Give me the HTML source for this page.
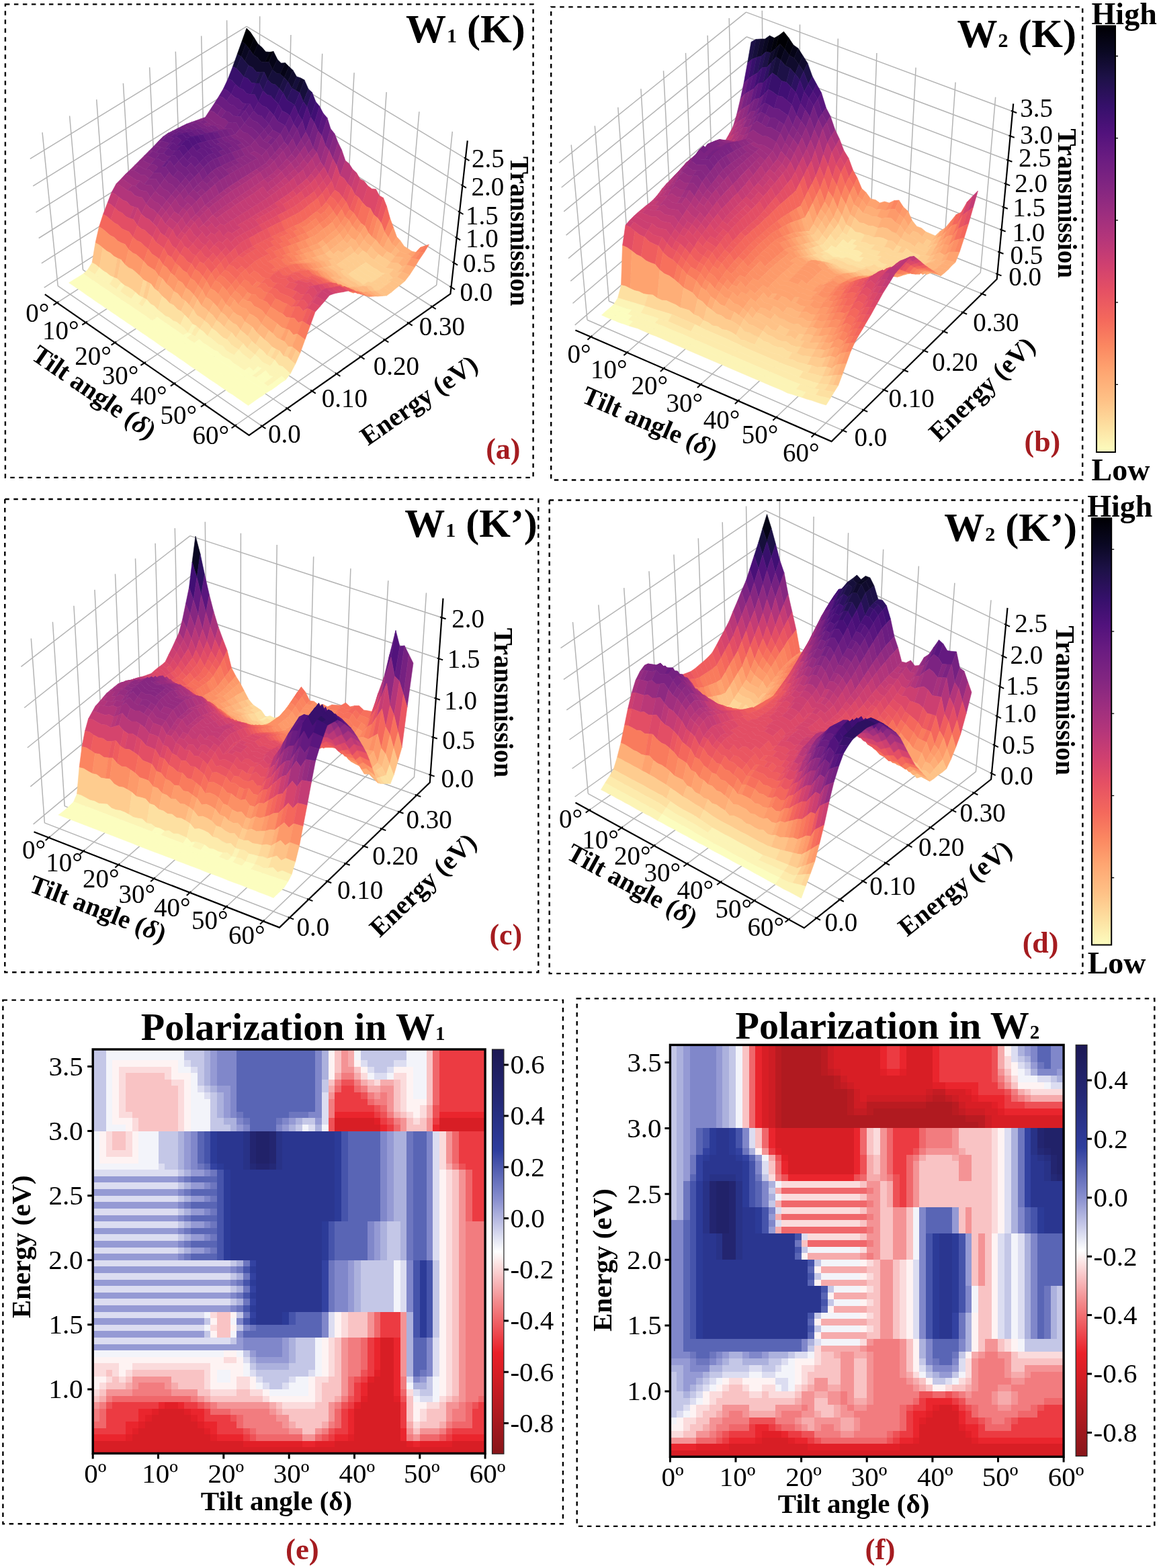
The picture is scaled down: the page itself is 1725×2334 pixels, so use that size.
<!DOCTYPE html><html><head><meta charset="utf-8"><style>html,body{margin:0;padding:0;background:#fff}svg{display:block}.sf path{fill:currentColor;stroke:currentColor;stroke-width:1.2;stroke-linejoin:round}</style></head><body><svg xmlns="http://www.w3.org/2000/svg" width="1725" height="2334" viewBox="0 0 1725 2334" font-family="'Liberation Serif', serif"><defs><linearGradient id="gm" x1="0" y1="0" x2="0" y2="1"><stop offset="0.00" stop-color="#000004"/><stop offset="0.06" stop-color="#0a0822"/><stop offset="0.12" stop-color="#1d1147"/><stop offset="0.19" stop-color="#36106b"/><stop offset="0.25" stop-color="#51127c"/><stop offset="0.31" stop-color="#6a1c81"/><stop offset="0.38" stop-color="#832681"/><stop offset="0.44" stop-color="#9c2e7f"/><stop offset="0.50" stop-color="#b5367a"/><stop offset="0.56" stop-color="#cf4070"/><stop offset="0.62" stop-color="#e55064"/><stop offset="0.69" stop-color="#f4695c"/><stop offset="0.75" stop-color="#fb8761"/><stop offset="0.81" stop-color="#fea571"/><stop offset="0.88" stop-color="#fec287"/><stop offset="0.94" stop-color="#fde0a1"/><stop offset="1.00" stop-color="#fcfdbf"/></linearGradient><linearGradient id="ge" x1="0" y1="0" x2="0" y2="1"><stop offset="0.000" stop-color="#1c1854"/><stop offset="0.031" stop-color="#1e1c5c"/><stop offset="0.062" stop-color="#202065"/><stop offset="0.094" stop-color="#22246e"/><stop offset="0.125" stop-color="#242876"/><stop offset="0.156" stop-color="#262e80"/><stop offset="0.188" stop-color="#29338a"/><stop offset="0.219" stop-color="#2c3894"/><stop offset="0.250" stop-color="#2e3e9e"/><stop offset="0.281" stop-color="#4653aa"/><stop offset="0.312" stop-color="#5d68b7"/><stop offset="0.344" stop-color="#747dc4"/><stop offset="0.375" stop-color="#8c92d0"/><stop offset="0.406" stop-color="#a9addc"/><stop offset="0.438" stop-color="#c6c8e8"/><stop offset="0.469" stop-color="#e2e4f3"/><stop offset="0.500" stop-color="#ffffff"/><stop offset="0.531" stop-color="#fce2e2"/><stop offset="0.562" stop-color="#f9c4c6"/><stop offset="0.594" stop-color="#f6a7a9"/><stop offset="0.625" stop-color="#f38a8c"/><stop offset="0.656" stop-color="#f17073"/><stop offset="0.688" stop-color="#ee555a"/><stop offset="0.719" stop-color="#ec3a41"/><stop offset="0.750" stop-color="#ea2028"/><stop offset="0.781" stop-color="#de1f26"/><stop offset="0.812" stop-color="#d21e24"/><stop offset="0.844" stop-color="#c51c23"/><stop offset="0.875" stop-color="#b91b21"/><stop offset="0.906" stop-color="#ad1a1f"/><stop offset="0.938" stop-color="#a0181e"/><stop offset="0.969" stop-color="#94171c"/><stop offset="1.000" stop-color="#88161a"/></linearGradient><linearGradient id="gf" x1="0" y1="0" x2="0" y2="1"><stop offset="0.000" stop-color="#1c1854"/><stop offset="0.031" stop-color="#1e1c5c"/><stop offset="0.062" stop-color="#202065"/><stop offset="0.094" stop-color="#22246e"/><stop offset="0.125" stop-color="#242876"/><stop offset="0.156" stop-color="#262e80"/><stop offset="0.188" stop-color="#29338a"/><stop offset="0.219" stop-color="#2c3894"/><stop offset="0.250" stop-color="#2e3e9e"/><stop offset="0.281" stop-color="#4653aa"/><stop offset="0.312" stop-color="#5d68b7"/><stop offset="0.344" stop-color="#747dc4"/><stop offset="0.375" stop-color="#8c92d0"/><stop offset="0.406" stop-color="#a9addc"/><stop offset="0.438" stop-color="#c6c8e8"/><stop offset="0.469" stop-color="#e2e4f3"/><stop offset="0.500" stop-color="#ffffff"/><stop offset="0.531" stop-color="#fce2e2"/><stop offset="0.562" stop-color="#f9c4c6"/><stop offset="0.594" stop-color="#f6a7a9"/><stop offset="0.625" stop-color="#f38a8c"/><stop offset="0.656" stop-color="#f17073"/><stop offset="0.688" stop-color="#ee555a"/><stop offset="0.719" stop-color="#ec3a41"/><stop offset="0.750" stop-color="#ea2028"/><stop offset="0.781" stop-color="#de1f26"/><stop offset="0.812" stop-color="#d21e24"/><stop offset="0.844" stop-color="#c51c23"/><stop offset="0.875" stop-color="#b91b21"/><stop offset="0.906" stop-color="#ad1a1f"/><stop offset="0.938" stop-color="#a0181e"/><stop offset="0.969" stop-color="#94171c"/><stop offset="1.000" stop-color="#88161a"/></linearGradient></defs><rect width="1725" height="2334" fill="#fff"/><path d="M86.2 425.6L63 197.1M123.5 401.6L103.6 172.5M160.5 377.9L143.7 148.1M197.1 354.4L183.4 124M233.3 331.2L222.6 100.2M269.1 308.2L261.3 76.7M304.5 285.4L299.7 53.4M339.6 262.9L337.6 30.3M65.7 428.2L367 235.3M61.8 391.9L367 198M57.7 354.5L367 159.9M53.5 316.2L367 120.7M49.2 276.8L367.1 80.5M44.8 236.3L367.1 39.3M385.1 256.8L386.7 24.2M427.9 283.9L432.9 51.9M471.1 311.3L479.7 79.9M515 339L527.1 108.3M559.3 367.1L575.2 137.1M604.2 395.5L623.9 166.3M649.7 424.3L673.3 195.9M367 235.3L671.5 427.6M367 198L675.6 391.2M367 159.9L679.7 353.9M367 120.7L684 315.6M367.1 80.5L688.4 276.3M367.1 39.3L692.9 235.8M85 450.6L385.1 256.8M127.7 480.1L427.9 283.9M171 510L471.1 311.3M214.8 540.3L515 339M259.3 571L559.3 367.1M304.3 602.1L604.2 395.5M349.9 633.5L649.7 424.3M86.2 425.6L390.1 634.3M123.5 401.6L427.4 608M160.5 377.9L464.4 582.1M197.1 354.4L500.9 556.4M233.3 331.2L537.1 531M269.1 308.2L572.8 505.9M304.5 285.4L608.2 481.1M339.6 262.9L643.2 456.5" stroke="#b4b4b4" stroke-width="1.5" fill="none"/><path d="M66.8 438.1L370.7 647.9L670.4 437.4L695.8 209.4" stroke="#000" stroke-width="2.2" fill="none" stroke-linejoin="miter"/><path d="M87.1 449.2L79.5 454.1M129.8 478.7L122.3 483.7M173.1 508.6L165.6 513.6M216.9 538.9L209.4 543.9M261.3 569.6L253.9 574.6M306.4 600.6L298.9 605.7M352 632.1L344.6 637.3M388 632.9L395.4 638M425.4 606.6L432.8 611.7M462.3 580.7L469.8 585.7M498.9 555L506.4 560M535 529.7L542.5 534.6M570.7 504.6L578.3 509.5M606.1 479.7L613.7 484.6M641.1 455.2L648.7 460M669.4 426.2L677 431M673.4 389.9L681.1 394.7M677.6 352.6L685.2 357.4M681.9 314.3L689.5 319M686.3 275L693.9 279.6M690.8 234.5L698.5 239.2" stroke="#000" stroke-width="2"/><g class="sf" transform="scale(.5)"><path color="#000004" d="M734 84l11 11 12 18-14 34-12-15-11-9z"/><path color="#02020b" d="M757 113l11 18-14 32-11-16z"/><path color="#050416" d="M768 131l12 10 11 13 12 1-14 30-12-1-11-13-12-8z"/><path color="#02020b" d="M803 155l11-2-14 31-11 1z"/><path color="#050416" d="M814 153l12 24-15 30-11-23z"/><path color="#0a0822" d="M826 177l11 11 12-1-15 33-11-2-12-11z"/><path color="#050416" d="M849 187l11 11-14 33-12-11z"/><path color="#0a0822" d="M860 198l12 11-15 34-11-12z"/><path color="#100b2d" d="M872 209l11 19-14 35-12-20z"/><path color="#160f3b" d="M883 228l12 4-15 37-11-6z"/><path color="#100b2d" d="M895 232l11 6-14 38-12-7z"/><path color="#160f3b" d="M906 238l12 27-15 38-11-27z"/><path color="#251255" d="M918 265l11 10-15 43-11-15z"/><path color="#38106c" d="M929 275l11 28-15 46-11-31z"/><path color="#400f74" d="M940 303l11 13-15 50-11-17z"/><path color="#52137c" d="M951 316l11 21-15 53-11-24z"/><path color="#5a167e" d="M962 337l12 14-16 53-11-14z"/><path color="#6b1d81" d="M974 351l10 32-15 51-11-30z"/><path color="#7c2382" d="M984 383l12 15-16 51-11-15z"/><path color="#862781" d="M996 398l10 26-15 49-11-24z"/><path color="#962c80" d="M1006 424l11 22-15 47-11-20z"/><path color="#a8327d" d="M1017 446l11 32-16 45-10-30z"/><path color="#ba3878" d="M1028 478l11 9 11 17-15 43-11-16-12-8z"/><path color="#c43c75" d="M1050 504l11 10-15 45-11-12z"/><path color="#cc3f71" d="M1061 514l11 19-15 47-11-21z"/><path color="#d5446d" d="M1072 533l12 6 11 14-16 50-11-15-11-8z"/><path color="#dc4869" d="M1095 553l12 9 12 1 10 19-16 58-11-20-12-5-11-12z"/><path color="#e34e65" d="M1129 582l12 7-17 60-11-9z"/><path color="#ea5661" d="M1141 589l10 25-16 51-11-16z"/><path color="#f4675c" d="M1151 614l10 36-16 41-10-26z"/><path color="#fb8560" d="M1161 650l10 27-15 31-11-17z"/><path color="#fd9a6a" d="M1171 677l10 28-14 22-11-19z"/><path color="#fea36f" d="M1181 705l11 12-14 19-11-9z"/><path color="#feae77" d="M1192 717l11 16 11 7 12 8-13 9-12-4-12-5-11-12z"/><path color="#fea36f" d="M1226 748l12 3-14 12-11-6z"/><path color="#fd9a6a" d="M1238 751l14-15-14 16-14 11z"/><path color="#fb8560" d="M1252 736l12-4-14 19-12 1z"/><path color="#f97b5d" d="M1264 732l13-4-14 23-13 0z"/><path color="#050416" d="M720 123l11 9-13 36-12-6z"/><path color="#0a0822" d="M731 132l12 15-14 35-11-14z"/><path color="#100b2d" d="M743 147l11 16 12 8 11 13 12 1 11-1 11 23-14 30-11-23-11 1-12-1-11-13-12-6-11-13z"/><path color="#160f3b" d="M811 207l12 11 11 2 12 11-14 33-12-12-11-3-12-12z"/><path color="#1d1147" d="M846 231l11 12-14 34-11-13z"/><path color="#251255" d="M857 243l12 20-15 35-11-21z"/><path color="#2d1161" d="M869 263l11 6 12 7-15 37-11-8-12-7z"/><path color="#38106c" d="M892 276l11 27-15 37-11-27z"/><path color="#400f74" d="M903 303l11 15-14 41-12-19z"/><path color="#52137c" d="M914 318l11 31-15 44-10-34z"/><path color="#6b1d81" d="M925 349l11 17-15 47-11-20z"/><path color="#752181" d="M936 366l11 24-15 51-11-28z"/><path color="#862781" d="M947 390l11 14-15 50-11-13z"/><path color="#962c80" d="M958 404l11 30-15 48-11-28z"/><path color="#a02f7f" d="M969 434l11 15-15 48-11-15z"/><path color="#b2357b" d="M980 449l11 24-15 47-11-23z"/><path color="#c43c75" d="M991 473l11 20-15 46-11-19z"/><path color="#d5446d" d="M1002 493l10 30-15 43-10-27z"/><path color="#dc4869" d="M1012 523l12 8 11 16-15 41-11-14-12-8z"/><path color="#e34e65" d="M1035 547l11 12-15 43-11-14z"/><path color="#ea5661" d="M1046 559l11 21-16 44-10-22z"/><path color="#ef5d5e" d="M1057 580l11 8-15 46-12-10z"/><path color="#f4675c" d="M1068 588l11 15-15 48-11-17z"/><path color="#f7705c" d="M1079 603l11 12 12 5-16 53-11-8-11-14z"/><path color="#f97b5d" d="M1102 620l11 20-16 54-11-21z"/><path color="#fb8560" d="M1113 640l11 9-16 57-11-12z"/><path color="#fc9065" d="M1124 649l11 16-16 49-11-8z"/><path color="#fd9a6a" d="M1135 665l10 26-15 38-11-15z"/><path color="#fea36f" d="M1145 691l11 17-15 31-11-10z"/><path color="#feae77" d="M1156 708l11 19 11 9-14 19-12-6-11-10z"/><path color="#feb77e" d="M1178 736l11 12-14 16-11-9z"/><path color="#feae77" d="M1189 748l12 5 12 4 11 6-13 13-11-9-13-2-12-1z"/><path color="#fea36f" d="M1224 763l14-11-14 16-13 8z"/><path color="#fc9065" d="M1238 752l12-1-14 20-12-3z"/><path color="#fb8560" d="M1250 751l13 0-15 22-12-2z"/><path color="#160f3b" d="M706 162l12 6-14 36-11-6z"/><path color="#1d1147" d="M718 168l11 14 11 13-14 34-11-13-11-12z"/><path color="#251255" d="M740 195l12 6 11 13 12 1-14 33-12-1-11-13-12-5z"/><path color="#1d1147" d="M775 215l11-1-14 34-11 0z"/><path color="#251255" d="M786 214l11 23-14 33-11-22z"/><path color="#2d1161" d="M797 237l12 12 11 3 12 12-15 34-11-13-11-3-12-12z"/><path color="#38106c" d="M832 264l11 13-14 33-12-12z"/><path color="#400f74" d="M843 277l11 21 12 7 11 8-14 31-11-8-12-6-11-20z"/><path color="#52137c" d="M877 313l11 27-14 29-11-25z"/><path color="#5a167e" d="M888 340l12 19-15 26-11-16z"/><path color="#6b1d81" d="M900 359l10 34-14 23-11-31z"/><path color="#862781" d="M910 393l11 20-14 21-11-18z"/><path color="#8e2a81" d="M921 413l11 28-14 17-11-24z"/><path color="#a02f7f" d="M932 441l11 13-14 18-11-14z"/><path color="#b2357b" d="M943 454l11 28-14 18-11-28z"/><path color="#ba3878" d="M954 482l11 15-14 18-11-15z"/><path color="#cc3f71" d="M965 497l11 23-14 18-11-23z"/><path color="#d5446d" d="M976 520l11 19-14 18-11-19z"/><path color="#e34e65" d="M987 539l10 27-14 18-10-27z"/><path color="#ef5d5e" d="M997 566l12 8 11 14-14 20-11-15-12-9z"/><path color="#f4675c" d="M1020 588l11 14-14 21-11-15z"/><path color="#f7705c" d="M1031 602l10 22-14 21-10-22z"/><path color="#f97b5d" d="M1041 624l12 10-14 22-12-11z"/><path color="#fb8560" d="M1053 634l11 17-15 22-10-17z"/><path color="#fc9065" d="M1064 651l11 14-14 22-12-14z"/><path color="#fd9a6a" d="M1075 665l11 8-14 21-11-7z"/><path color="#fea36f" d="M1086 673l11 21-14 20-11-20z"/><path color="#feae77" d="M1097 694l11 12 11 8-14 19-11-7-11-12z"/><path color="#feb77e" d="M1119 714l11 15 11 10 11 10-13 17-12-9-11-9-11-15z"/><path color="#fec287" d="M1152 749l12 6 11 9-13 17-12-9-11-6z"/><path color="#feb77e" d="M1175 764l12 1 13 2-14 17-12-1-12-2z"/><path color="#feae77" d="M1200 767l11 9 13-8-14 21-13 5-11-10z"/><path color="#fd9a6a" d="M1224 768l12 3 12 2-14 23-12-4-12-3z"/><path color="#38106c" d="M693 198l11 6 11 12 11 13-13 33-12-11-11-12-11-5z"/><path color="#400f74" d="M726 229l12 5 11 13 12 1-14 33-12-2-11-12-11-5z"/><path color="#38106c" d="M761 248l11 0 11 22-14 33-11-22-11 0z"/><path color="#491078" d="M783 270l12 12 11 3 11 13 12 12-14 33-12-13-11-11-11-4-12-12z"/><path color="#52137c" d="M829 310l11 20-14 31-11-18z"/><path color="#5a167e" d="M840 330l12 6 11 8-14 30-12-7-11-6z"/><path color="#641a80" d="M863 344l11 25-14 29-11-24z"/><path color="#752181" d="M874 369l11 16-14 27-11-14z"/><path color="#7c2382" d="M885 385l11 31-14 23-11-27z"/><path color="#8e2a81" d="M896 416l11 18-14 20-11-15z"/><path color="#a02f7f" d="M907 434l11 24-14 17-11-21z"/><path color="#a8327d" d="M918 458l11 14-13 17-12-14z"/><path color="#ba3878" d="M929 472l11 28-14 17-10-28z"/><path color="#c43c75" d="M940 500l11 15-14 17-11-15z"/><path color="#d5446d" d="M951 515l11 23-14 17-11-23z"/><path color="#dc4869" d="M962 538l11 19-14 18-11-20z"/><path color="#ea5661" d="M973 557l10 27-13 19-11-28z"/><path color="#f4675c" d="M983 584l12 9 11 15-14 21-11-17-11-9z"/><path color="#f7705c" d="M1006 608l11 15-14 21-11-15z"/><path color="#fb8560" d="M1017 623l10 22-13 21-11-22z"/><path color="#fc9065" d="M1027 645l12 11-14 22-11-12z"/><path color="#fd9a6a" d="M1039 656l10 17-14 23-10-18z"/><path color="#fea36f" d="M1049 673l12 14 11 7-14 22-11-7-12-13z"/><path color="#feae77" d="M1072 694l11 20-14 21-11-19z"/><path color="#feb77e" d="M1083 714l11 12 11 7-14 20-11-7-11-11z"/><path color="#fec287" d="M1105 733l11 15 11 9-13 17-12-8-11-13z"/><path color="#fecc8f" d="M1127 757l12 9 11 6 12 9-14 17-12-9-11-6-11-9z"/><path color="#fec287" d="M1162 781l12 2 12 1 11 10-14 19-11-11-12-2-12-2z"/><path color="#feb77e" d="M1197 794l13-5-14 20-13 4z"/><path color="#feae77" d="M1210 789l12 3 12 4-15 23-12-5-11-5z"/><path color="#491078" d="M679 234l11 5 11 12-13 29-12-11-11-5z"/><path color="#52137c" d="M701 251l12 11 11 5 11 12 12 2 11 0 11 22-14 27-11-21-11 0-11-2-12-13-11-4-11-10z"/><path color="#5a167e" d="M769 303l12 12 11 4 11 11-14 27-11-12-11-3-12-12z"/><path color="#641a80" d="M803 330l12 13-14 27-12-13z"/><path color="#6b1d81" d="M815 343l11 18 11 6 12 7-14 25-12-6-11-6-11-17z"/><path color="#752181" d="M849 374l11 24-14 25-11-24z"/><path color="#7c2382" d="M860 398l11 14-14 22-11-11z"/><path color="#8e2a81" d="M871 412l11 27-14 20-11-25z"/><path color="#962c80" d="M882 439l11 15-13 18-12-13z"/><path color="#a8327d" d="M893 454l11 21-13 16-11-19z"/><path color="#b2357b" d="M904 475l12 14-14 16-11-14z"/><path color="#ba3878" d="M916 489l10 28-13 15-11-27z"/><path color="#cc3f71" d="M926 517l11 15-13 15-11-15z"/><path color="#dc4869" d="M937 532l11 23-13 15-11-23z"/><path color="#e34e65" d="M948 555l11 20-14 15-10-20z"/><path color="#ef5d5e" d="M959 575l11 28-14 15-11-28z"/><path color="#f7705c" d="M970 603l11 9-14 17-11-11z"/><path color="#f97b5d" d="M981 612l11 17-14 16-11-16z"/><path color="#fb8560" d="M992 629l11 15-14 17-11-16z"/><path color="#fc9065" d="M1003 644l11 22-14 17-11-22z"/><path color="#fd9a6a" d="M1014 666l11 12-14 18-11-13z"/><path color="#fea36f" d="M1025 678l10 18-13 18-11-18z"/><path color="#feae77" d="M1035 696l12 13-14 17-11-12z"/><path color="#feb77e" d="M1047 709l11 7 11 19-14 16-11-18-11-7z"/><path color="#fec287" d="M1069 735l11 11-14 15-11-10z"/><path color="#fecc8f" d="M1080 746l11 7 11 13 12 8 11 9 11 6 12 9 12 2 12 2-14 14-12-2-12-2-11-9-12-6-11-8-11-8-11-13-12-7z"/><path color="#fec287" d="M1172 802l11 11 13-4-14 16-13 3-11-12z"/><path color="#feb77e" d="M1196 809l11 5 12 5-14 18-12-6-11-6z"/><path color="#5a167e" d="M665 264l11 5 12 11-14 20-11-10-11-4z"/><path color="#641a80" d="M688 280l11 10 11 4 12 13 11 2-14 19-11-2-12-12-11-3-11-11z"/><path color="#5a167e" d="M733 309l11 0-14 19-11 0z"/><path color="#641a80" d="M744 309l11 21-13 18-12-20z"/><path color="#6b1d81" d="M755 330l12 12 11 3 11 12 12 13-14 16-11-12-12-11-11-4-11-11z"/><path color="#752181" d="M801 370l11 17-14 16-11-17z"/><path color="#7c2382" d="M812 387l11 6 12 6-14 17-11-7-12-6z"/><path color="#862781" d="M835 399l11 24-14 16-11-23z"/><path color="#8e2a81" d="M846 423l11 11-14 15-11-10z"/><path color="#962c80" d="M857 434l11 25-14 14-11-24z"/><path color="#a02f7f" d="M868 459l12 13-14 13-12-12z"/><path color="#a8327d" d="M880 472l11 19-14 12-11-18z"/><path color="#b2357b" d="M891 491l11 14-14 12-11-14z"/><path color="#c43c75" d="M902 505l11 27-14 12-11-27z"/><path color="#d5446d" d="M913 532l11 15-14 11-11-14z"/><path color="#dc4869" d="M924 547l11 23-14 11-11-23z"/><path color="#ea5661" d="M935 570l10 20-13 11-11-20z"/><path color="#f4675c" d="M945 590l11 28-13 11-11-28z"/><path color="#f7705c" d="M956 618l11 11-13 10-11-10z"/><path color="#f97b5d" d="M967 629l11 16-13 11-11-17z"/><path color="#fb8560" d="M978 645l11 16-13 11-11-16z"/><path color="#fd9a6a" d="M989 661l11 22-14 11-10-22z"/><path color="#fea36f" d="M1000 683l11 13-13 11-12-13z"/><path color="#feae77" d="M1011 696l11 18-14 11-10-18z"/><path color="#feb77e" d="M1022 714l11 12 11 7-13 10-12-7-11-11z"/><path color="#fec287" d="M1044 733l11 18-13 9-11-17z"/><path color="#fecc8f" d="M1055 751l11 10 12 7 11 13-14 9-11-13-11-7-11-10z"/><path color="#fed799" d="M1089 781l11 8 11 8 12 6 11 9 12 2-13 9-12-2-11-9-12-5-11-9-12-8z"/><path color="#fecc8f" d="M1146 814l12 2 11 12-13 9-11-12-12-2z"/><path color="#fec287" d="M1169 828l13-3 11 6 12 6-13 11-12-7-12-6-12 2z"/><path color="#6b1d81" d="M652 286l11 4 11 10 11 11 11 3 12 12 11 2-14 19-11-2-11-11-11-3-12-10-11-9-11-4z"/><path color="#641a80" d="M719 328l11 0-14 19-11 0z"/><path color="#6b1d81" d="M730 328l12 20-14 18-12-19z"/><path color="#752181" d="M742 348l11 11 11 4 12 11 11 12-14 16-11-11-12-11-11-3-11-11z"/><path color="#7c2382" d="M787 386l11 17-14 16-11-17z"/><path color="#862781" d="M798 403l12 6-14 16-12-6z"/><path color="#7c2382" d="M810 409l11 7-14 16-11-7z"/><path color="#862781" d="M821 416l11 23-14 16-11-23z"/><path color="#962c80" d="M832 439l11 10-13 15-12-9z"/><path color="#a02f7f" d="M843 449l11 24-13 14-11-23z"/><path color="#a8327d" d="M854 473l12 12-14 13-11-11z"/><path color="#b2357b" d="M866 485l11 18-14 13-11-18z"/><path color="#ba3878" d="M877 503l11 14-14 12-11-13z"/><path color="#c43c75" d="M888 517l11 27-14 11-11-26z"/><path color="#d5446d" d="M899 544l11 14-13 11-12-14z"/><path color="#dc4869" d="M910 558l11 23-14 10-10-22z"/><path color="#ea5661" d="M921 581l11 20-14 10-11-20z"/><path color="#f4675c" d="M932 601l11 28-14 10-11-28z"/><path color="#f97b5d" d="M943 629l11 10 11 17-14 10-11-16-11-11z"/><path color="#fb8560" d="M965 656l11 16-14 10-11-16z"/><path color="#fd9a6a" d="M976 672l10 22-13 10-11-22z"/><path color="#fea36f" d="M986 694l12 13-14 10-11-13z"/><path color="#feae77" d="M998 707l10 18-13 10-11-18z"/><path color="#feb77e" d="M1008 725l11 11 12 7-13 10-12-7-11-11z"/><path color="#fec287" d="M1031 743l11 17-14 10-10-17z"/><path color="#fecc8f" d="M1042 760l11 10 11 7 11 13-13 9-11-13-11-7-12-9z"/><path color="#fed799" d="M1075 790l12 8 11 9 12 5 11 9 12 2-13 9-12-2-12-9-11-5-11-9-12-8z"/><path color="#fecc8f" d="M1133 823l12 2 11 12 12-2-13 10-12 2-11-13-12-2z"/><path color="#fec287" d="M1168 835l12 6 12 7-14 11-11-7-12-7z"/><path color="#752181" d="M638 308l11 4 11 9-13 21-11-9-12-4z"/><path color="#7c2382" d="M660 321l12 10-14 20-11-9z"/><path color="#752181" d="M672 331l11 3 11 11 11 2 11 0 12 19-14 18-11-19-12 1-11-2-11-10-11-3z"/><path color="#7c2382" d="M728 366l11 11 11 3 12 11 11 11-14 16-11-11-11-10-12-3-11-10z"/><path color="#862781" d="M773 402l11 17 12 6 11 7-14 16-11-7-11-6-12-17z"/><path color="#8e2a81" d="M807 432l11 23-14 16-11-23z"/><path color="#962c80" d="M818 455l12 9-14 15-12-8z"/><path color="#a02f7f" d="M830 464l11 23-14 14-11-22z"/><path color="#a8327d" d="M841 487l11 11-14 13-11-10z"/><path color="#b2357b" d="M852 498l11 18-14 12-11-17z"/><path color="#ba3878" d="M863 516l11 13-13 12-12-13z"/><path color="#cc3f71" d="M874 529l11 26-13 12-11-26z"/><path color="#d5446d" d="M885 555l12 14-14 12-11-14z"/><path color="#e34e65" d="M897 569l10 22-13 11-11-21z"/><path color="#ea5661" d="M907 591l11 20-13 11-11-20z"/><path color="#f4675c" d="M918 611l11 28-13 11-11-28z"/><path color="#f97b5d" d="M929 639l11 11-13 10-11-10z"/><path color="#fb8560" d="M940 650l11 16-13 11-11-17z"/><path color="#fc9065" d="M951 666l11 16-13 11-11-16z"/><path color="#fd9a6a" d="M962 682l11 22-13 11-11-22z"/><path color="#fea36f" d="M973 704l11 13-13 11-11-13z"/><path color="#feae77" d="M984 717l11 18-13 11-11-18z"/><path color="#feb77e" d="M995 735l11 11-13 11-11-11z"/><path color="#fec287" d="M1006 746l12 7 10 17-13 9-11-16-11-6z"/><path color="#fecc8f" d="M1028 770l12 9 11 7 11 13-13 9-11-13-12-7-11-9z"/><path color="#fed799" d="M1062 799l12 8 11 9 11 5 12 9 12 2-14 9-11-2-12-9-11-5-12-9-11-8z"/><path color="#fecc8f" d="M1120 832l12 2 11 13 12-2-13 10-13 2-11-14-12-2z"/><path color="#fec287" d="M1155 845l12 7 11 7-13 11-12-8-11-7z"/><path color="#862781" d="M624 329l12 4 11 9 11 9 11 3 11 10-13 18-12-10-11-2-11-9-11-8-11-4z"/><path color="#7c2382" d="M680 364l11 2 12-1 11 19-14 16-11-17-11 0-11-1z"/><path color="#862781" d="M714 384l11 10 12 3 11 10 11 11-14 15-11-10-11-10-11-3-12-10z"/><path color="#8e2a81" d="M759 418l12 17 11 6 11 7-14 16-11-8-11-6-12-17z"/><path color="#962c80" d="M793 448l11 23-13 15-12-22z"/><path color="#a02f7f" d="M804 471l12 8-14 15-11-8z"/><path color="#a8327d" d="M816 479l11 22-14 14-11-21z"/><path color="#b2357b" d="M827 501l11 10-13 13-12-9z"/><path color="#ba3878" d="M838 511l11 17-13 12-11-16z"/><path color="#c43c75" d="M849 528l12 13-14 12-11-13z"/><path color="#cc3f71" d="M861 541l11 26-14 11-11-25z"/><path color="#dc4869" d="M872 567l11 14-14 10-11-13z"/><path color="#e34e65" d="M883 581l11 21-14 10-11-21z"/><path color="#ea5661" d="M894 602l11 20-14 10-11-20z"/><path color="#f4675c" d="M905 622l11 28-14 10-11-28z"/><path color="#f97b5d" d="M916 650l11 10-14 11-11-11z"/><path color="#fb8560" d="M927 660l11 17-14 10-11-16z"/><path color="#fc9065" d="M938 677l11 16-14 10-11-16z"/><path color="#fd9a6a" d="M949 693l11 22-14 10-11-22z"/><path color="#feae77" d="M960 715l11 13-14 10-11-13z"/><path color="#feb77e" d="M971 728l11 18-14 10-11-18z"/><path color="#fec287" d="M982 746l11 11 11 6 11 16-13 9-11-16-12-6-11-10z"/><path color="#fecc8f" d="M1015 779l11 9 12 7 11 13-13 9-11-13-12-7-11-9z"/><path color="#fed799" d="M1049 808l11 8 12 9 11 5 12 9-14 9-11-9-12-6-11-8-11-8z"/><path color="#fecc8f" d="M1095 839l11 2 12 2 11 14 13-2-14 9-12 2-11-14-12-2-12-2z"/><path color="#fec287" d="M1142 855l11 7 12 8-14 10-11-8-12-8z"/><path color="#862781" d="M611 349l11 4 11 8 11 9 11 2 12 10 11 1-14 3-11 0-12-11-11-2-11-8-11-8-11-3z"/><path color="#7c2382" d="M678 383l11 0 11 17-14 4-11-18-11 0z"/><path color="#862781" d="M700 400l12 10 11 3 11 10 11 10-13 6-12-12-11-10-11-3-12-10z"/><path color="#8e2a81" d="M745 433l12 17-14 7-11-18z"/><path color="#962c80" d="M757 450l11 6 11 8 12 22-14 9-11-23-12-9-11-6z"/><path color="#a02f7f" d="M791 486l11 8-14 9-11-8z"/><path color="#a8327d" d="M802 494l11 21-14 10-11-22z"/><path color="#b2357b" d="M813 515l12 9-14 11-12-10z"/><path color="#ba3878" d="M825 524l11 16-14 11-11-16z"/><path color="#c43c75" d="M836 540l11 13-14 9-11-11z"/><path color="#cc3f71" d="M847 553l11 25-14 9-11-25z"/><path color="#dc4869" d="M858 578l11 13-13 9-12-13z"/><path color="#e34e65" d="M869 591l11 21-13 8-11-20z"/><path color="#ea5661" d="M880 612l11 20-13 7-11-19z"/><path color="#f4675c" d="M891 632l11 28-13 7-11-28z"/><path color="#f97b5d" d="M902 660l11 11-13 6-11-10z"/><path color="#fb8560" d="M913 671l11 16-13 6-11-16z"/><path color="#fc9065" d="M924 687l11 16-13 5-11-15z"/><path color="#fd9a6a" d="M935 703l11 22-13 5-11-22z"/><path color="#fea36f" d="M946 725l11 13-13 5-11-13z"/><path color="#feae77" d="M957 738l11 18-13 4-11-17z"/><path color="#feb77e" d="M968 756l11 10 12 6-13 3-12-5-11-10z"/><path color="#fec287" d="M991 772l11 16 11 9 12 7-13 2-12-7-11-8-11-16z"/><path color="#fecc8f" d="M1025 804l11 13 11 8 11 8 12 6 11 9 12 2-13 2-12-2-11-9-12-5-11-9-11-8-11-13z"/><path color="#fec287" d="M1093 850l12 2 11 14 12-2 12 8 11 8-12 1-12-8-11-7-13 2-11-14-12-2z"/><path color="#862781" d="M597 354l11 3-14 5-11-3z"/><path color="#7c2382" d="M608 357l11 8-14 4-11-7z"/><path color="#862781" d="M619 365l11 8-14 4-11-8z"/><path color="#7c2382" d="M630 373l11 2 12 11 11 0-14 3-11 0-12-11-11-1z"/><path color="#752181" d="M664 386l11 0 11 18-14 3-11-18-11 0z"/><path color="#7c2382" d="M686 404l12 10 11 3 11 10-14 5-11-11-11-3-12-11z"/><path color="#862781" d="M720 427l12 12-14 5-12-12z"/><path color="#8e2a81" d="M732 439l11 18 11 6 12 9-14 7-12-8-11-8-11-19z"/><path color="#962c80" d="M766 472l11 23-14 9-11-25z"/><path color="#a02f7f" d="M777 495l11 8-14 10-11-9z"/><path color="#a8327d" d="M788 503l11 22-13 9-12-21z"/><path color="#b2357b" d="M799 525l12 10-14 10-11-11z"/><path color="#ba3878" d="M811 535l11 16-14 11-11-17z"/><path color="#c43c75" d="M822 551l11 11-13 10-12-10z"/><path color="#cc3f71" d="M833 562l11 25-13 9-11-24z"/><path color="#dc4869" d="M844 587l12 13-14 8-11-12z"/><path color="#e34e65" d="M856 600l11 20-14 7-11-19z"/><path color="#ea5661" d="M867 620l11 19-14 7-11-19z"/><path color="#f4675c" d="M878 639l11 28-14 6-11-27z"/><path color="#f97b5d" d="M889 667l11 10 11 16-13 5-12-15-11-10z"/><path color="#fb8560" d="M911 693l11 15-13 6-11-16z"/><path color="#fd9a6a" d="M922 708l11 22-13 5-11-21z"/><path color="#fea36f" d="M933 730l11 13-13 4-11-12z"/><path color="#feae77" d="M944 743l11 17-13 4-11-17z"/><path color="#feb77e" d="M955 760l11 10 12 5 11 16-13 3-11-16-12-4-11-10z"/><path color="#fec287" d="M989 791l11 8 12 7 11 13 11 8 11 9 12 5 11 9 12 2-13 3-12-2-11-9-12-6-11-9-11-8-12-13-11-7-11-7z"/><path color="#feb77e" d="M1080 852l12 2 11 14 13-2 11 7 12 8-13 1-12-8-11-7-13 3-11-13-12-2z"/><path color="#7c2382" d="M583 359l11 3 11 7 11 8 11 1 12 11-14 3-12-10-11-1-11-8-11-7-11-2z"/><path color="#752181" d="M639 389l11 0 11 0 11 18-13 3-12-18-11 1-11-1z"/><path color="#7c2382" d="M672 407l12 11 11 3 11 11 12 12-14 5-11-12-12-12-11-3-11-12z"/><path color="#862781" d="M718 444l11 19-14 6-11-20z"/><path color="#8e2a81" d="M729 463l11 8 12 8-14 8-11-9-12-9z"/><path color="#962c80" d="M752 479l11 25-14 9-11-26z"/><path color="#a8327d" d="M763 504l11 9-13 9-12-9z"/><path color="#b2357b" d="M774 513l12 21-14 10-11-22z"/><path color="#ba3878" d="M786 534l11 11 11 17-13 10-12-17-11-11z"/><path color="#c43c75" d="M808 562l12 10-14 10-11-10z"/><path color="#cc3f71" d="M820 572l11 24-14 9-11-23z"/><path color="#dc4869" d="M831 596l11 12 11 19-13 7-12-18-11-11z"/><path color="#ea5661" d="M853 627l11 19-13 7-11-19z"/><path color="#f4675c" d="M864 646l11 27-13 6-11-26z"/><path color="#f7705c" d="M875 673l11 10-13 6-11-10z"/><path color="#f97b5d" d="M886 683l12 15-14 6-11-15z"/><path color="#fb8560" d="M898 698l11 16-14 5-11-15z"/><path color="#fc9065" d="M909 714l11 21-14 5-11-21z"/><path color="#fd9a6a" d="M920 735l11 12-14 4-11-11z"/><path color="#fea36f" d="M931 747l11 17-14 4-11-17z"/><path color="#feae77" d="M942 764l11 10 12 4 11 16-14 2-11-15-11-4-12-9z"/><path color="#feb77e" d="M976 794l11 7 11 7 12 13 11 8-13 3-12-8-11-14-11-6-12-8z"/><path color="#fec287" d="M1021 829l11 9 12 6 11 9-13 2-11-9-12-6-11-8z"/><path color="#feb77e" d="M1055 853l12 2 12 2 11 13-13 2-11-13-12-2-12-2z"/><path color="#feae77" d="M1090 870l13-3 11 7 12 8-13 0-12-6-11-7-13 3z"/><path color="#7c2382" d="M569 364l11 2-14 5-11-2z"/><path color="#752181" d="M580 366l11 7 11 8 11 1 12 10 11 1-14 3-11-1-12-10-11-1-11-7-11-6z"/><path color="#6b1d81" d="M636 393l11-1 12 18-15 4-11-19-11 1z"/><path color="#752181" d="M659 410l11 12 11 3 12 12-14 4-12-11-11-5-12-11z"/><path color="#7c2382" d="M693 437l11 12-14 5-11-13z"/><path color="#862781" d="M704 449l11 20-14 6-11-21z"/><path color="#8e2a81" d="M715 469l12 9 11 9-14 8-11-10-12-10z"/><path color="#962c80" d="M738 487l11 26-14 9-11-27z"/><path color="#a8327d" d="M749 513l12 9-14 10-12-10z"/><path color="#b2357b" d="M761 522l11 22-14 10-11-22z"/><path color="#ba3878" d="M772 544l11 11-14 10-11-11z"/><path color="#c43c75" d="M783 555l12 17 11 10-14 10-11-9-12-18z"/><path color="#cc3f71" d="M806 582l11 23-14 9-11-22z"/><path color="#d5446d" d="M817 605l11 11-13 8-12-10z"/><path color="#dc4869" d="M828 616l12 18-14 7-11-17z"/><path color="#ea5661" d="M840 634l11 19-14 7-11-19z"/><path color="#f4675c" d="M851 653l11 26-14 7-11-26z"/><path color="#f7705c" d="M862 679l11 10 11 15-13 5-12-14-11-9z"/><path color="#f97b5d" d="M884 704l11 15-13 5-11-15z"/><path color="#fc9065" d="M895 719l11 21-13 4-11-20z"/><path color="#fd9a6a" d="M906 740l11 11-13 5-11-12z"/><path color="#fea36f" d="M917 751l11 17 12 9 11 4 11 15-13 3-11-15-11-3-12-9-11-16z"/><path color="#feae77" d="M962 796l12 8 11 6 11 14-13 2-11-14-11-6-12-7z"/><path color="#feb77e" d="M996 824l12 8 11 8 12 6 11 9-13 3-11-10-12-5-11-9-12-8z"/><path color="#feae77" d="M1042 855l12 2 12 2 11 13-13 2-11-13-12-1-12-2z"/><path color="#fea36f" d="M1077 872l13-3 11 7-13 1-11-7-13 4z"/><path color="#fd9a6a" d="M1101 876l12 6-13 1-12-6z"/><path color="#752181" d="M555 369l11 2 11 6 11 7-14 4-11-6-11-6-11 0z"/><path color="#6b1d81" d="M588 384l11 1 12 10 11 1-14 3-11 0-12-11-11 0z"/><path color="#641a80" d="M622 396l11-1 11 19-14 3-11-19-11 1z"/><path color="#6b1d81" d="M644 414l12 11-14 4-12-12z"/><path color="#752181" d="M656 425l11 5 12 11 11 13-14 5-11-13-12-12-11-5z"/><path color="#7c2382" d="M690 454l11 21-14 6-11-22z"/><path color="#862781" d="M701 475l12 10-14 7-12-11z"/><path color="#8e2a81" d="M713 485l11 10-14 8-11-11z"/><path color="#962c80" d="M724 495l11 27-13 8-12-27z"/><path color="#a8327d" d="M735 522l12 10-14 9-11-11z"/><path color="#b2357b" d="M747 532l11 22-14 9-11-22z"/><path color="#ba3878" d="M758 554l11 11-13 10-12-12z"/><path color="#c43c75" d="M769 565l12 18 11 9-14 9-11-9-11-17z"/><path color="#cc3f71" d="M792 592l11 22-13 8-12-21z"/><path color="#d5446d" d="M803 614l12 10-14 8-11-10z"/><path color="#dc4869" d="M815 624l11 17-14 8-11-17z"/><path color="#e34e65" d="M826 641l11 19-14 6-11-17z"/><path color="#ef5d5e" d="M837 660l11 26-14 6-11-26z"/><path color="#f4675c" d="M848 686l11 9-13 6-12-9z"/><path color="#f7705c" d="M859 695l12 14-14 6-11-14z"/><path color="#f97b5d" d="M871 709l11 15-14 5-11-14z"/><path color="#fb8560" d="M882 724l11 20-14 5-11-20z"/><path color="#fc9065" d="M893 744l11 12-13 3-12-10z"/><path color="#fd9a6a" d="M904 756l11 16-13 3-11-16z"/><path color="#fea36f" d="M915 772l12 9-14 2-11-8z"/><path color="#fd9a6a" d="M927 781l11 3 11 15-13 1-11-15-12-2z"/><path color="#fea36f" d="M949 799l12 7 11 6 11 14 12 8 11 9 12 5 11 10 12 2-13-3-12-2-11-10-12-5-11-8-12-7-11-14-11-5-12-6z"/><path color="#fd9a6a" d="M1041 860l12 1 11 13 13-4-13-3-12 5-12-14-12-1z"/><path color="#fc9065" d="M1077 870l11 7 12 6-13-3-11-6-12-7z"/><path color="#752181" d="M541 376l11 0 11 6-14 5-11-5-11 1z"/><path color="#6b1d81" d="M563 382l11 6 11 0 12 11-15 3-11-11-11 2-11-6z"/><path color="#641a80" d="M597 399l11 0 11-1 11 19-14 3-11-19-11 1-12 0z"/><path color="#6b1d81" d="M630 417l12 12 11 5 12 12-15 5-11-13-11-5-12-13z"/><path color="#752181" d="M665 446l11 13-14 5-12-13z"/><path color="#7c2382" d="M676 459l11 22-14 6-11-23z"/><path color="#862781" d="M687 481l12 11-14 7-12-12z"/><path color="#8e2a81" d="M699 492l11 11-14 8-11-12z"/><path color="#962c80" d="M710 503l12 27-14 9-12-28z"/><path color="#a8327d" d="M722 530l11 11-14 9-11-11z"/><path color="#b2357b" d="M733 541l11 22-14 9-11-22z"/><path color="#ba3878" d="M744 563l12 12-14 9-12-12z"/><path color="#c43c75" d="M756 575l11 17 11 9-13 8-12-8-11-17z"/><path color="#cc3f71" d="M778 601l12 21-14 8-11-21z"/><path color="#d5446d" d="M790 622l11 10-14 7-11-9z"/><path color="#dc4869" d="M801 632l11 17-14 7-11-17z"/><path color="#e34e65" d="M812 649l11 17-13 7-12-17z"/><path color="#ef5d5e" d="M823 666l11 26-13 7-11-26z"/><path color="#f4675c" d="M834 692l12 9-14 6-11-8z"/><path color="#f7705c" d="M846 701l11 14 11 14-13 4-12-12-11-14z"/><path color="#fb8560" d="M868 729l11 20 12 10-14 3-11-9-11-20z"/><path color="#fc9065" d="M891 759l11 16-14 2-11-15z"/><path color="#fd9a6a" d="M902 775l11 8-13 1-12-7z"/><path color="#fc9065" d="M913 783l12 2 11 15-13-1-11-14-12-1z"/><path color="#fd9a6a" d="M936 800l12 6-14-1-11-6z"/><path color="#fc9065" d="M948 806l11 5-13-2-12-4z"/><path color="#fd9a6a" d="M959 811l11 14 12 7 11 8 12 5 11 10 12 2-13-5-11-1-12-10-12-6-11-7-12-6-11-13z"/><path color="#fc9065" d="M1028 857l12 1 12 14-13-5-12-14-12-1z"/><path color="#fb8560" d="M1052 872l12-5 12 7-13-5-12-6-12 4z"/><path color="#f97b5d" d="M1076 874l11 6-12-4-12-7z"/><path color="#752181" d="M527 383l11-1-14 6-11 2z"/><path color="#6b1d81" d="M538 382l11 5 11 6-14 4-11-5-11-4z"/><path color="#641a80" d="M560 393l11-2 11 11 12 0-15 4-11-1-11-10-11 2z"/><path color="#5a167e" d="M594 402l11-1 11 19-14 4-12-19-11 1z"/><path color="#641a80" d="M616 420l12 13 11 5-14 4-11-5-12-13z"/><path color="#6b1d81" d="M639 438l11 13 12 13-14 6-12-14-11-14z"/><path color="#7c2382" d="M662 464l11 23-14 7-11-24z"/><path color="#862781" d="M673 487l12 12-14 7-12-12z"/><path color="#8e2a81" d="M685 499l11 12-14 8-11-13z"/><path color="#962c80" d="M696 511l12 28-14 9-12-29z"/><path color="#a8327d" d="M708 539l11 11-14 9-11-11z"/><path color="#b2357b" d="M719 550l11 22-13 9-12-22z"/><path color="#ba3878" d="M730 572l12 12-14 9-11-12z"/><path color="#c43c75" d="M742 584l11 17 12 8-14 9-12-8-11-17z"/><path color="#cc3f71" d="M765 609l11 21-14 8-11-20z"/><path color="#d5446d" d="M776 630l11 9-14 8-11-9z"/><path color="#dc4869" d="M787 639l11 17-13 7-12-16z"/><path color="#e34e65" d="M798 656l12 17-14 7-11-17z"/><path color="#ef5d5e" d="M810 673l11 26-14 6-11-25z"/><path color="#f4675c" d="M821 699l11 8 11 14-13 5-11-13-12-8z"/><path color="#f7705c" d="M843 721l12 12-14 5-11-12z"/><path color="#f97b5d" d="M855 733l11 20-14 4-11-19z"/><path color="#fb8560" d="M866 753l11 9 11 15-13 2-11-14-12-8z"/><path color="#fc9065" d="M888 777l12 7-14 2-11-7z"/><path color="#fb8560" d="M900 784l12 1 11 14 11 6 12 4 11 13 12 6 11 7 12 6 12 10 11 1-13-4-11-1-12-11-12-5-11-7-12-5-11-12-12-4-12-4-11-13-12 0z"/><path color="#f97b5d" d="M1015 852l12 1 12 14 12-4-13-5-12 5-11-15-13 0z"/><path color="#f7705c" d="M1051 863l12 6 12 7-13-4-12-7-12-7z"/><path color="#752181" d="M513 390l11-2-14 6-11 3z"/><path color="#6b1d81" d="M524 388l11 4-14 6-11-4z"/><path color="#641a80" d="M535 392l11 5 11-2-14 3-11 3-11-3z"/><path color="#5a167e" d="M557 395l11 10 11 1-14 3-11 0-11-11z"/><path color="#52137c" d="M579 406l11-1 12 19-14 3-12-19-11 1z"/><path color="#641a80" d="M602 424l12 13 11 5 11 14-14 4-11-13-12-6-11-14z"/><path color="#6b1d81" d="M636 456l12 14-14 5-12-15z"/><path color="#752181" d="M648 470l11 24-14 6-11-25z"/><path color="#862781" d="M659 494l12 12 11 13-14 9-11-15-12-13z"/><path color="#962c80" d="M682 519l12 29-14 9-12-29z"/><path color="#a8327d" d="M694 548l11 11-14 9-11-11z"/><path color="#b2357b" d="M705 559l12 22-14 9-12-22z"/><path color="#ba3878" d="M717 581l11 12-14 9-11-12z"/><path color="#c43c75" d="M728 593l11 17 12 8-14 9-12-8-11-17z"/><path color="#cc3f71" d="M751 618l11 20-14 9-11-20z"/><path color="#d5446d" d="M762 638l11 9-13 8-12-8z"/><path color="#dc4869" d="M773 647l12 16-14 7-11-15z"/><path color="#e34e65" d="M785 663l11 17-14 7-11-17z"/><path color="#ea5661" d="M796 680l11 25-14 7-11-25z"/><path color="#ef5d5e" d="M807 705l12 8-14 6-12-7z"/><path color="#f4675c" d="M819 713l11 13 11 12-13 5-12-11-11-13z"/><path color="#f7705c" d="M841 738l11 19-13 4-11-18z"/><path color="#f97b5d" d="M852 757l12 8 11 14-14 3-11-14-11-7z"/><path color="#fb8560" d="M875 779l11 7-13 1-12-5z"/><path color="#f97b5d" d="M886 786l12 0 11 13 12 4 12 4 11 12 12 5 11 7-13-5-11-5-12-5-12-11-11-3-12-3-11-13-12 1z"/><path color="#f7705c" d="M967 831l12 5 12 11 11 1-13-5-12 0-11-11-12-6z"/><path color="#f4675c" d="M1002 848l13 0 11 15 12-5-13-5-12 6-11-15-13-1z"/><path color="#ef5d5e" d="M1038 858l12 7 12 7-13-5-12-7-12-7z"/><path color="#752181" d="M499 397l11-3-15 11-10 2z"/><path color="#6b1d81" d="M510 394l11 4-15 10-11-3z"/><path color="#641a80" d="M521 398l11 3-14 10-12-3z"/><path color="#5a167e" d="M532 401l11-3 11 11 11 0-14 9-11 0-12-10-10 3z"/><path color="#52137c" d="M565 409l11-1 12 19-14 9-12-19-11 1z"/><path color="#5a167e" d="M588 427l11 14-14 9-11-14z"/><path color="#641a80" d="M599 441l12 6 11 13-14 10-11-14-12-6z"/><path color="#6b1d81" d="M622 460l12 15-14 10-12-15z"/><path color="#752181" d="M634 475l11 25-14 10-11-25z"/><path color="#862781" d="M645 500l12 13 11 15-14 9-11-14-12-13z"/><path color="#962c80" d="M668 528l12 29-14 10-12-30z"/><path color="#a8327d" d="M680 557l11 11-14 9-11-10z"/><path color="#b2357b" d="M691 568l12 22-14 10-12-23z"/><path color="#ba3878" d="M703 590l11 12-14 9-11-11z"/><path color="#c43c75" d="M714 602l11 17 12 8-14 8-11-7-12-17z"/><path color="#cc3f71" d="M737 627l11 20-14 8-11-20z"/><path color="#d5446d" d="M748 647l12 8 11 15-14 8-11-16-12-7z"/><path color="#dc4869" d="M771 670l11 17-14 7-11-16z"/><path color="#ea5661" d="M782 687l11 25-13 7-12-25z"/><path color="#ef5d5e" d="M793 712l12 7 11 13-14 6-11-13-11-6z"/><path color="#f4675c" d="M816 732l12 11-14 6-12-11z"/><path color="#f7705c" d="M828 743l11 18 11 7-13 5-12-7-11-17z"/><path color="#f97b5d" d="M850 768l11 14 12 5-14 4-11-5-11-13z"/><path color="#f7705c" d="M873 787l12-1 11 13 12 3 11 3-13 1-12-2-12-2-11-13-12 2z"/><path color="#f4675c" d="M919 805l12 11 12 5 11 5 12 6 11 11 12 0-13-1-12 0-11-11-12-5-12-5-12-4-11-11z"/><path color="#ef5d5e" d="M989 843l13 1 11 15-13-1-12-16-12 0z"/><path color="#ea5661" d="M1013 859l12-6 12 7 12 7-13-1-12-7-12-7-12 6z"/><path color="#752181" d="M485 407l10-2-13 15-11 1z"/><path color="#6b1d81" d="M495 405l11 3 12 3-14 16-11-4-11-3z"/><path color="#641a80" d="M518 411l10-3 12 10-14 16-11-10-11 3z"/><path color="#5a167e" d="M540 418l11 0-14 16-11 0z"/><path color="#52137c" d="M551 418l11-1 12 19-14 14-12-18-11 2z"/><path color="#641a80" d="M574 436l11 14 12 6 11 14-14 15-11-15-12-6-11-14z"/><path color="#6b1d81" d="M608 470l12 15-14 14-12-14z"/><path color="#752181" d="M620 485l11 25-14 13-11-24z"/><path color="#862781" d="M631 510l12 13-14 13-12-13z"/><path color="#8e2a81" d="M643 523l11 14-14 12-11-13z"/><path color="#962c80" d="M654 537l12 30-14 11-12-29z"/><path color="#a8327d" d="M666 567l11 10-14 11-11-10z"/><path color="#b2357b" d="M677 577l12 23-14 9-12-21z"/><path color="#ba3878" d="M689 600l11 11-14 10-11-12z"/><path color="#c43c75" d="M700 611l12 17 11 7-14 9-11-7-12-16z"/><path color="#cc3f71" d="M723 635l11 20-14 8-11-19z"/><path color="#d5446d" d="M734 655l12 7 11 16-14 7-11-15-12-7z"/><path color="#dc4869" d="M757 678l11 16-13 8-12-17z"/><path color="#ea5661" d="M768 694l12 25-14 7-11-24z"/><path color="#ef5d5e" d="M780 719l11 6 11 13-13 8-12-13-11-7z"/><path color="#f4675c" d="M802 738l12 11 11 17-14 7-11-17-11-10z"/><path color="#f7705c" d="M825 766l12 7 11 13 11 5 12-2 11 13 12 2-14 6-11-2-12-13-11 1-12-5-11-12-12-6z"/><path color="#f4675c" d="M894 804l12 2 11 11 12 4-14 5-11-4-12-10-12-2z"/><path color="#ef5d5e" d="M929 821l12 5 12 5 11 11 12 0-13 3-12 0-12-10-12-5-12-4z"/><path color="#ea5661" d="M976 842l12 0 12 16-14 3-11-16-12 0z"/><path color="#e34e65" d="M1000 858l12-6-13 2-13 7z"/><path color="#dc4869" d="M1012 852l12 7 12 7-14 3-12-7-11-8z"/><path color="#7c2382" d="M471 421l11-1-14 14-11 2z"/><path color="#752181" d="M482 420l11 3 11 4-14 15-11-4-11-4z"/><path color="#6b1d81" d="M504 427l11-3-14 16-11 2z"/><path color="#641a80" d="M515 424l11 10 11 0-14 15-11 1-11-10z"/><path color="#5a167e" d="M537 434l11-2 12 18-14 15-12-18-11 2z"/><path color="#641a80" d="M560 450l11 14-14 15-11-14z"/><path color="#6b1d81" d="M571 464l12 6 11 15-14 14-12-14-11-6z"/><path color="#752181" d="M594 485l12 14-14 15-12-15z"/><path color="#7c2382" d="M606 499l11 24-14 14-11-23z"/><path color="#862781" d="M617 523l12 13-14 12-12-11z"/><path color="#8e2a81" d="M629 536l11 13-14 12-11-13z"/><path color="#a02f7f" d="M640 549l12 29-14 11-12-28z"/><path color="#a8327d" d="M652 578l11 10-14 10-11-9z"/><path color="#b2357b" d="M663 588l12 21-14 10-12-21z"/><path color="#ba3878" d="M675 609l11 12-14 9-11-11z"/><path color="#c43c75" d="M686 621l12 16 11 7-14 9-11-6-12-17z"/><path color="#cc3f71" d="M709 644l11 19-14 8-11-18z"/><path color="#d5446d" d="M720 663l12 7 11 15-14 7-11-14-12-7z"/><path color="#dc4869" d="M743 685l12 17-14 7-12-17z"/><path color="#ea5661" d="M755 702l11 24-14 8-11-25z"/><path color="#ef5d5e" d="M766 726l11 7 12 13 11 10-14 7-11-10-12-13-11-6z"/><path color="#f4675c" d="M800 756l11 17-13 6-12-16z"/><path color="#f7705c" d="M811 773l12 6 11 12 12 5-14 6-12-5-11-12-11-6z"/><path color="#f4675c" d="M846 796l11-1 12 13 11 2-13 6-12-3-11-13-12 2z"/><path color="#ef5d5e" d="M880 810l12 2 12 10 11 4 12 4-13 4-12-4-12-3-11-10-12-1z"/><path color="#ea5661" d="M927 830l12 5 12 10 12 0-14 3-12 1-12-10-11-5z"/><path color="#e34e65" d="M963 845l12 0 11 16 13-7-14 3-12 7-12-17-12 1z"/><path color="#dc4869" d="M999 854l11 8 12 7-13 2-12-7-12-7z"/><path color="#7c2382" d="M457 436l11-2 11 4-14 16-11-5-11 1z"/><path color="#752181" d="M479 438l11 4 11-2-14 16-11 2-11-4z"/><path color="#6b1d81" d="M501 440l11 10 11-1-14 15-11 1-11-9z"/><path color="#641a80" d="M523 449l11-2 12 18-14 14-12-17-11 2z"/><path color="#6b1d81" d="M546 465l11 14 11 6-14 15-11-7-11-14z"/><path color="#752181" d="M568 485l12 14 12 15-14 14-12-14-12-14z"/><path color="#862781" d="M592 514l11 23-14 13-11-22z"/><path color="#8e2a81" d="M603 537l12 11 11 13-14 12-11-12-12-11z"/><path color="#a02f7f" d="M626 561l12 28-14 11-12-27z"/><path color="#a8327d" d="M638 589l11 9-14 10-11-8z"/><path color="#b2357b" d="M649 598l12 21-14 10-12-21z"/><path color="#ba3878" d="M661 619l11 11-14 10-11-11z"/><path color="#c43c75" d="M672 630l12 17 11 6-14 8-11-5-12-16z"/><path color="#cc3f71" d="M695 653l11 18 12 7-14 8-11-6-12-19z"/><path color="#d5446d" d="M718 678l11 14-14 8-11-14z"/><path color="#dc4869" d="M729 692l12 17-14 7-12-16z"/><path color="#e34e65" d="M741 709l11 25-14 7-11-25z"/><path color="#ea5661" d="M752 734l11 6-13 8-12-7z"/><path color="#ef5d5e" d="M763 740l12 13 11 10-14 7-11-9-11-13z"/><path color="#f4675c" d="M786 763l12 16 11 6 11 12-13 6-12-12-11-5-12-16z"/><path color="#f7705c" d="M820 797l12 5-14 6-11-5z"/><path color="#f4675c" d="M832 802l12-2 11 13 12 3-14 6-12-3-11-13-12 2z"/><path color="#ef5d5e" d="M867 816l12 1 11 10 12 3-14 5-12-2-11-11-12 0z"/><path color="#ea5661" d="M902 830l12 4 11 5-13 3-12-4-12-3z"/><path color="#e34e65" d="M925 839l12 10 12-1-14 3-12 1-11-10z"/><path color="#dc4869" d="M949 848l12-1 12 17 12-7-14 2-12 7-11-17-13 2z"/><path color="#d5446d" d="M985 857l12 7 12 7-14 3-12-7-12-8z"/><path color="#862781" d="M443 450l11-1-14 15-11 0z"/><path color="#7c2382" d="M454 449l11 5 11 4-14 16-11-5-11-5z"/><path color="#752181" d="M476 458l11-2 11 9 11-1-14 16-11 1-11-8-11 1z"/><path color="#6b1d81" d="M509 464l11-2 12 17-14 16-12-17-11 2z"/><path color="#752181" d="M532 479l11 14 11 7 12 14-14 15-12-14-11-7-11-13z"/><path color="#7c2382" d="M566 514l12 14-14 15-12-14z"/><path color="#862781" d="M578 528l11 22-14 14-11-21z"/><path color="#8e2a81" d="M589 550l12 11-14 13-12-10z"/><path color="#962c80" d="M601 561l11 12-14 12-11-11z"/><path color="#a02f7f" d="M612 573l12 27-14 11-12-26z"/><path color="#a8327d" d="M624 600l11 8-14 12-11-9z"/><path color="#b2357b" d="M635 608l12 21-14 11-12-20z"/><path color="#ba3878" d="M647 629l11 11-14 10-11-10z"/><path color="#c43c75" d="M658 640l12 16 11 5-14 10-11-5-12-16z"/><path color="#cc3f71" d="M681 661l12 19 11 6-14 9-11-6-12-18z"/><path color="#d5446d" d="M704 686l11 14-14 8-11-13z"/><path color="#dc4869" d="M715 700l12 16-14 9-12-17z"/><path color="#e34e65" d="M727 716l11 25-14 9-11-25z"/><path color="#ea5661" d="M738 741l12 7-14 8-12-6z"/><path color="#ef5d5e" d="M750 748l11 13 11 9-13 8-12-9-11-13z"/><path color="#f4675c" d="M772 770l12 16 11 5 12 12 11 5 12-2-14 8-12 1-11-5-12-11-11-5-11-16z"/><path color="#ef5d5e" d="M830 806l11 13 12 3 12 0-14 8-12-1-12-2-11-13z"/><path color="#ea5661" d="M865 822l11 11 12 2-14 7-12-2-11-10z"/><path color="#e34e65" d="M888 835l12 3 12 4 11 10-14 7-11-10-12-4-12-3z"/><path color="#dc4869" d="M923 852l12-1-13 6-13 2z"/><path color="#d5446d" d="M935 851l13-2 11 17 12-7-13 6-13 7-11-17-12 2z"/><path color="#cc3f71" d="M971 859l12 8 12 7-14 5-12-7-11-7z"/><path color="#8e2a81" d="M429 464l11 0-14 14-11 0z"/><path color="#862781" d="M440 464l11 5 11 5-14 15-11-5-11-6z"/><path color="#7c2382" d="M462 474l11-1 11 8 11-1-14 18-11 0-11-9-11 0z"/><path color="#6b1d81" d="M495 480l11-2-14 18-11 2z"/><path color="#752181" d="M506 478l12 17 11 13-14 18-11-13-12-17z"/><path color="#7c2382" d="M529 508l11 7 12 14-14 17-12-14-11-6z"/><path color="#862781" d="M552 529l12 14-14 17-12-14z"/><path color="#8e2a81" d="M564 543l11 21-14 16-11-20z"/><path color="#962c80" d="M575 564l12 10 11 11-14 15-11-11-12-9z"/><path color="#a8327d" d="M598 585l12 26-14 14-12-25z"/><path color="#b2357b" d="M610 611l11 9-14 13-11-8z"/><path color="#ba3878" d="M621 620l12 20-14 14-12-21z"/><path color="#c43c75" d="M633 640l11 10 12 16-14 13-12-15-11-10z"/><path color="#cc3f71" d="M656 666l11 5 12 18-14 14-12-18-11-6z"/><path color="#d5446d" d="M679 689l11 6 11 13-14 14-11-13-11-6z"/><path color="#dc4869" d="M701 708l12 17-14 13-12-16z"/><path color="#e34e65" d="M713 725l11 25-14 12-11-24z"/><path color="#ea5661" d="M724 750l12 6-14 12-12-6z"/><path color="#ef5d5e" d="M736 756l11 13 12 9-14 12-12-10-11-12z"/><path color="#f4675c" d="M759 778l11 16 11 5 12 11 11 5 12-1-14 14-12 1-11-5-12-12-11-6-11-16z"/><path color="#ef5d5e" d="M816 814l11 13 12 2 12 1 11 10-14 16-11-11-12-2-12-2-11-13z"/><path color="#ea5661" d="M862 840l12 2 12 3-14 19-12-5-12-3z"/><path color="#e34e65" d="M886 845l12 4 11 10 13-2-15 19-12 1-11-9-12-4z"/><path color="#dc4869" d="M922 857l12-2 11 17-14 18-12-16-12 2z"/><path color="#d5446d" d="M945 872l13-7-15 17-12 8z"/><path color="#cc3f71" d="M958 865l11 7 12 7-14 17-12-7-12-7z"/><path color="#8e2a81" d="M415 478l11 0 11 6 11 5-14 16-11-6-11-6-11-1z"/><path color="#862781" d="M448 489l11 0 11 9-14 17-11-10-11 0z"/><path color="#7c2382" d="M470 498l11 0 11-2 12 17-14 19-12-17-11 0-11 0z"/><path color="#862781" d="M504 513l11 13 11 6 12 14-14 17-11-13-12-5-11-13z"/><path color="#8e2a81" d="M538 546l12 14-14 16-12-13z"/><path color="#962c80" d="M550 560l11 20-14 15-11-19z"/><path color="#a02f7f" d="M561 580l12 9 11 11-14 14-11-10-12-9z"/><path color="#a8327d" d="M584 600l12 25-14 14-12-25z"/><path color="#b2357b" d="M596 625l11 8-14 14-11-8z"/><path color="#ba3878" d="M607 633l12 21-14 14-12-21z"/><path color="#c43c75" d="M619 654l11 10-14 14-11-10z"/><path color="#cc3f71" d="M630 664l12 15 11 6-14 14-11-6-12-15z"/><path color="#d5446d" d="M653 685l12 18 11 6-14 14-11-6-12-18z"/><path color="#dc4869" d="M676 709l11 13 12 16-14 14-12-16-11-13z"/><path color="#ea5661" d="M699 738l11 24-14 13-11-23z"/><path color="#ef5d5e" d="M710 762l12 6 11 12 12 10-14 12-12-10-11-12-12-5z"/><path color="#f4675c" d="M745 790l11 16-14 13-11-17z"/><path color="#f7705c" d="M756 806l11 6 12 12 11 5-14 14-11-5-11-12-12-7z"/><path color="#f4675c" d="M790 829l12-1 11 13 12 2-14 14-12-2-11-13-12 1z"/><path color="#ef5d5e" d="M825 843l12 2 11 11 12 3 12 5 12 4-15 19-11-5-12-5-12-5-11-12-12-3z"/><path color="#ea5661" d="M884 868l11 9 12-1-14 18-12 2-12-9z"/><path color="#e34e65" d="M907 876l12-2 12 16-14 18-12-15-12 1z"/><path color="#dc4869" d="M931 890l12-8-14 18-12 8z"/><path color="#d5446d" d="M943 882l12 7 12 7-14 16-12-6-12-6z"/><path color="#962c80" d="M401 492l11 1-14 14-11-1z"/><path color="#8e2a81" d="M412 493l11 6 11 6 11 0 11 10-13 17-12-11-11 0-11-7-11-7z"/><path color="#862781" d="M456 515l11 0 11 0 12 17-14 19-12-18-11 0-10-1z"/><path color="#8e2a81" d="M490 532l11 13 12 5 11 13-14 17-11-12-12-5-11-12z"/><path color="#962c80" d="M524 563l12 13-14 16-12-12z"/><path color="#a02f7f" d="M536 576l11 19 12 9-14 15-12-8-11-19z"/><path color="#a8327d" d="M559 604l11 10-14 15-11-10z"/><path color="#b2357b" d="M570 614l12 25-14 14-12-24z"/><path color="#ba3878" d="M582 639l11 8-14 14-11-8z"/><path color="#c43c75" d="M593 647l12 21-14 13-12-20z"/><path color="#cc3f71" d="M605 668l11 10 12 15-14 14-12-16-11-10z"/><path color="#d5446d" d="M628 693l11 6 12 18-14 13-12-17-11-6z"/><path color="#dc4869" d="M651 717l11 6 11 13-14 14-11-13-11-7z"/><path color="#e34e65" d="M673 736l12 16-14 13-12-15z"/><path color="#ea5661" d="M685 752l11 23-14 13-11-23z"/><path color="#ef5d5e" d="M696 775l12 5 11 12-14 12-11-11-12-5z"/><path color="#f4675c" d="M719 792l12 10-14 12-12-10z"/><path color="#f7705c" d="M731 802l11 17 12 7 11 12-14 14-11-13-12-7-11-18z"/><path color="#f97b5d" d="M765 838l11 5-14 14-11-5z"/><path color="#f7705c" d="M776 843l12-1 11 13 12 2-14 14-11-2-12-13-12 1z"/><path color="#f4675c" d="M811 857l12 3 11 12 12 5 12 5 11 5 12 9-14 18-12-9-12-4-11-7-12-5-11-14-12-4z"/><path color="#ef5d5e" d="M881 896l12-2-14 19-12 1z"/><path color="#ea5661" d="M893 894l12-1 12 15-15 18-11-14-12 1z"/><path color="#e34e65" d="M917 908l12-8-14 18-13 8z"/><path color="#dc4869" d="M929 900l12 6 12 6-15 17-11-6-12-5z"/><path color="#962c80" d="M387 506l11 1 11 7 11 7 11 0 12 11-14 17-12-11-11-2-11-7-11-7-11-3z"/><path color="#8e2a81" d="M443 532l10 1 11 0 12 18-14 18-12-18-10 0-11-2z"/><path color="#962c80" d="M476 551l11 12 12 5 11 12-14 18-11-12-11-5-12-12z"/><path color="#a02f7f" d="M510 580l12 12-14 19-12-13z"/><path color="#a8327d" d="M522 592l11 19 12 8-14 19-12-8-11-19z"/><path color="#b2357b" d="M545 619l11 10-14 19-11-10z"/><path color="#ba3878" d="M556 629l12 24-14 18-12-23z"/><path color="#c43c75" d="M568 653l11 8-14 18-11-8z"/><path color="#cc3f71" d="M579 661l12 20 11 10-14 17-11-10-12-19z"/><path color="#d5446d" d="M602 691l12 16 11 6-14 16-11-6-12-15z"/><path color="#dc4869" d="M625 713l12 17-14 16-12-17z"/><path color="#e34e65" d="M637 730l11 7 11 13-14 16-11-13-11-7z"/><path color="#ea5661" d="M659 750l12 15-14 16-12-15z"/><path color="#ef5d5e" d="M671 765l11 23-13 16-12-23z"/><path color="#f4675c" d="M682 788l12 5 11 11 12 10-14 17-12-11-11-11-11-5z"/><path color="#f7705c" d="M717 814l11 18-14 17-11-18z"/><path color="#f97b5d" d="M728 832l12 7 11 13 11 5 12-1 12 13 11 2-14 23-12-4-11-13-12-1-11-6-11-13-12-8z"/><path color="#f7705c" d="M797 871l12 4 11 14-14 25-11-14-12-6z"/><path color="#f97b5d" d="M820 889l12 5 11 7 12 4-14 29-12-5-11-8-12-7z"/><path color="#f7705c" d="M855 905l12 9 12-1-15 33-12-1-11-11z"/><path color="#f4675c" d="M879 913l12-1 11 14 13-8-15 38-12 5-12-14-12-1z"/><path color="#ef5d5e" d="M915 918l12 5-16 40-11-7z"/><path color="#ea5661" d="M927 923l11 6-15 41-12-7z"/><path color="#a02f7f" d="M373 519l11 3 11 7 11 7 11 2-14 16-10-2-12-8-11-8-10-3z"/><path color="#962c80" d="M417 538l12 11 11 2 10 0 12 18-14 19-11-18-11-2-11-3-12-11z"/><path color="#a02f7f" d="M462 569l12 12 11 5 11 12-14 19-11-12-11-5-12-12z"/><path color="#a8327d" d="M496 598l12 13-14 19-12-13z"/><path color="#b2357b" d="M508 611l11 19-13 18-12-18z"/><path color="#ba3878" d="M519 630l12 8 11 10-14 18-11-9-11-9z"/><path color="#c43c75" d="M542 648l12 23-14 18-12-23z"/><path color="#cc3f71" d="M554 671l11 8-14 18-11-8z"/><path color="#d5446d" d="M565 679l12 19 11 10-14 17-11-9-12-19z"/><path color="#dc4869" d="M588 708l12 15 11 6-14 16-11-6-12-14z"/><path color="#e34e65" d="M611 729l12 17 11 7-14 16-11-6-12-18z"/><path color="#ea5661" d="M634 753l11 13-13 17-12-14z"/><path color="#ef5d5e" d="M645 766l12 15-14 16-11-14z"/><path color="#f4675c" d="M657 781l12 23-14 15-12-22z"/><path color="#f7705c" d="M669 804l11 5 11 11 12 11-14 17-12-12-11-11-11-6z"/><path color="#f97b5d" d="M703 831l11 18-14 17-11-18z"/><path color="#fb8560" d="M714 849l12 8 11 13-14 19-11-14-12-9z"/><path color="#fc9065" d="M737 870l11 6-13 20-12-7z"/><path color="#fb8560" d="M748 876l12 1 11 13 12 4 12 6 11 14-14 25-12-15-11-7-12-5-11-14-11-2z"/><path color="#fc9065" d="M806 914l12 7 11 8 12 5 11 11 12 1-14 33-12-4-12-11-11-8-12-9-11-8z"/><path color="#fb8560" d="M864 946l12 1 12 14 12-5-15 38-12 3-12-15-11-3z"/><path color="#f97b5d" d="M900 956l11 7 12 7-15 41-11-8-12-9z"/><path color="#a8327d" d="M360 533l10 3 11 8 12 8-14 15-11-8-12-8-10-4z"/><path color="#a02f7f" d="M393 552l10 2 12 11 11 3 11 2 11 18-13 19-12-19-11-2-11-4-11-12-11-3z"/><path color="#a8327d" d="M448 588l12 12 11 5 11 12-13 19-12-12-11-5-11-12z"/><path color="#b2357b" d="M482 617l12 13-14 18-11-12z"/><path color="#ba3878" d="M494 630l12 18-14 19-12-19z"/><path color="#c43c75" d="M506 648l11 9 11 9-14 19-11-10-11-8z"/><path color="#cc3f71" d="M528 666l12 23-14 19-12-23z"/><path color="#d5446d" d="M540 689l11 8-13 18-12-7z"/><path color="#dc4869" d="M551 697l12 19 11 9-14 16-11-8-11-18z"/><path color="#e34e65" d="M574 725l12 14 11 6-14 16-11-6-12-14z"/><path color="#ea5661" d="M597 745l12 18 11 6-14 16-11-6-12-18z"/><path color="#ef5d5e" d="M620 769l12 14 11 14-14 16-11-14-12-14z"/><path color="#f7705c" d="M643 797l12 22-14 16-12-22z"/><path color="#f97b5d" d="M655 819l11 6 11 11 12 12-14 17-12-13-11-11-11-6z"/><path color="#fb8560" d="M689 848l11 18-14 17-11-18z"/><path color="#fc9065" d="M700 866l12 9 11 14-14 18-11-15-12-9z"/><path color="#fd9a6a" d="M723 889l12 7 11 2 11 14 12 5 11 7 12 15-14 25-12-16-11-8-12-6-11-15-11-3-12-9z"/><path color="#fea36f" d="M792 939l11 8 12 9 11 8-14 29-11-9-12-10-11-10z"/><path color="#feae77" d="M826 964l12 11 12 4-15 32-11-5-12-13z"/><path color="#fea36f" d="M850 979l11 3-14 35-12-6z"/><path color="#feae77" d="M861 982l12 15 12-3-15 39-12-1-11-15z"/><path color="#fea36f" d="M885 994l12 9 11 8-15 41-11-10-12-9z"/><path color="#b2357b" d="M346 547l10 4 12 8 11 8 11 3 11 12 11 4 11 2 12 19-14 30-11-18-11-3-11-4-11-12-11-4-12-9-11-9-11-5z"/><path color="#ba3878" d="M435 607l11 12 11 5 12 12-14 28-11-11-11-5-12-11z"/><path color="#c43c75" d="M469 636l11 12-13 28-12-12z"/><path color="#cc3f71" d="M480 648l12 19 11 8-13 27-12-9-11-17z"/><path color="#d5446d" d="M503 675l11 10-13 26-11-9z"/><path color="#dc4869" d="M514 685l12 23 12 7-14 25-11-8-12-21z"/><path color="#e34e65" d="M538 715l11 18-13 24-12-17z"/><path color="#ea5661" d="M549 733l11 8 12 14 11 6-13 24-12-6-11-14-11-8z"/><path color="#ef5d5e" d="M583 761l12 18-14 23-11-17z"/><path color="#f4675c" d="M595 779l11 6 12 14-14 24-12-14-11-7z"/><path color="#f7705c" d="M618 799l11 14-14 24-11-14z"/><path color="#f97b5d" d="M629 813l12 22-14 24-12-22z"/><path color="#fb8560" d="M641 835l11 6 11 11-13 24-12-11-11-6z"/><path color="#fc9065" d="M663 852l12 13 11 18-14 23-11-18-11-12z"/><path color="#fd9a6a" d="M686 883l12 9-14 23-12-9z"/><path color="#fea36f" d="M698 892l11 15 12 9 11 3 11 15-14 24-11-16-11-4-12-9-11-14z"/><path color="#feae77" d="M743 934l12 6 11 8 12 16-14 26-12-16-11-8-12-8z"/><path color="#feb77e" d="M778 964l11 10 12 10-14 27-12-11-11-10z"/><path color="#fec287" d="M801 984l11 9 12 13 11 5 12 6 11 15-14 29-11-16-12-6-11-6-12-13-11-9z"/><path color="#fecc8f" d="M858 1032l12 1-14 30-12-2z"/><path color="#fec287" d="M870 1033l12 9-15 32-11-11z"/><path color="#fecc8f" d="M882 1042l11 10-14 32-12-10z"/><path color="#c43c75" d="M332 573l11 5 11 9-12 32-11-10-11-5z"/><path color="#cc3f71" d="M354 587l12 9 11 4 11 12 11 4-13 34-11-5-11-11-11-5-11-10z"/><path color="#c43c75" d="M399 616l11 3-13 34-11-3z"/><path color="#cc3f71" d="M410 619l11 18-12 34-12-18z"/><path color="#d5446d" d="M421 637l12 11 11 5 11 11 12 12-13 30-12-10-11-11-11-4-11-10z"/><path color="#dc4869" d="M467 676l11 17-13 29-11-16z"/><path color="#e34e65" d="M478 693l12 9 11 9-13 28-12-9-11-8z"/><path color="#ea5661" d="M501 711l12 21 11 8-14 26-11-7-11-20z"/><path color="#ef5d5e" d="M524 740l12 17-14 26-12-17z"/><path color="#f4675c" d="M536 757l11 8 11 14 12 6-14 27-11-7-12-13-11-9z"/><path color="#f7705c" d="M570 785l11 17-13 27-12-17z"/><path color="#f97b5d" d="M581 802l11 7 12 14-14 27-11-14-11-7z"/><path color="#fb8560" d="M604 823l11 14-13 27-12-14z"/><path color="#fc9065" d="M615 837l12 22-14 26-11-21z"/><path color="#fd9a6a" d="M627 859l11 6 12 11 11 12-14 26-11-12-12-11-11-6z"/><path color="#fea36f" d="M661 888l11 18-13 24-12-16z"/><path color="#feae77" d="M672 906l12 9 11 14-14 22-11-13-11-8z"/><path color="#feb77e" d="M695 929l12 9 11 4 11 16-13 25-12-16-11-5-12-11z"/><path color="#fec287" d="M729 958l12 8 11 8-14 27-11-9-11-9z"/><path color="#fecc8f" d="M752 974l12 16 11 10-14 26-11-10-12-15z"/><path color="#fed799" d="M775 1000l12 11 11 9 12 13-15 26-11-13-11-9-12-11z"/><path color="#fde0a1" d="M810 1033l11 6-14 26-12-6z"/><path color="#fed799" d="M821 1039l12 6-15 27-11-7z"/><path color="#fde0a1" d="M833 1045l11 16 12 2 11 11 12 10-15 29-11-11-12-11-11-3-12-16z"/><path color="#dc4869" d="M320 604l11 5 11 10-13 35-11-10-11-6z"/><path color="#e34e65" d="M342 619l11 10 11 5 11 11 11 5 11 3 12 18-13 35-12-16-10-4-11-5-12-12-10-5-12-10z"/><path color="#ea5661" d="M409 671l11 10 11 4 11 11 12 10-13 35-12-10-11-10-11-5-11-10z"/><path color="#ef5d5e" d="M454 706l11 16 11 8 12 9-14 32-11-8-11-7-11-15z"/><path color="#f4675c" d="M488 739l11 20-13 30-12-18z"/><path color="#f7705c" d="M499 759l11 7 12 17-13 30-12-16-11-8z"/><path color="#f97b5d" d="M522 783l11 9-13 30-11-9z"/><path color="#fb8560" d="M533 792l12 13 11 7 12 17-14 29-11-16-12-7-11-13z"/><path color="#fc9065" d="M568 829l11 7 11 14-13 28-12-13-11-7z"/><path color="#fd9a6a" d="M590 850l12 14-14 28-11-14z"/><path color="#fea36f" d="M602 864l11 21-13 26-12-19z"/><path color="#feae77" d="M613 885l11 6 12 11-14 27-11-11-11-7z"/><path color="#feb77e" d="M636 902l11 12 12 16-14 24-11-15-12-10z"/><path color="#fec287" d="M659 930l11 8 11 13-13 23-12-12-11-8z"/><path color="#fecc8f" d="M681 951l12 11 11 5 12 16-14 23-12-16-11-6-11-10z"/><path color="#fed799" d="M716 983l11 9 11 9 12 15-14 21-12-14-11-9-11-8z"/><path color="#fde0a1" d="M750 1016l11 10 12 11-14 19-12-10-11-9z"/><path color="#fdebac" d="M773 1037l11 9 11 13 12 6 11 7-14 18-11-6-12-6-11-13-11-9z"/><path color="#fcf4b6" d="M818 1072l12 16 11 3 12 11 11 11-14 18-11-11-12-11-11-3-12-16z"/><path color="#f4675c" d="M307 638l11 6 11 10 12 10 10 5 12 12 11 5 10 4 12 16-13 37-11-16-11-4-11-6-11-11-11-5-11-10-11-9-11-7z"/><path color="#f7705c" d="M396 706l11 10 11 5 11 10 12 10-13 37-11-10-11-10-11-5-12-10z"/><path color="#f97b5d" d="M441 741l11 15 11 7 11 8-13 34-11-7-11-7-11-13z"/><path color="#fb8560" d="M474 771l12 18-13 33-12-17z"/><path color="#fc9065" d="M486 789l11 8 12 16-13 33-12-16-11-8z"/><path color="#fd9a6a" d="M509 813l11 9 11 13-13 33-11-13-11-9z"/><path color="#fea36f" d="M531 835l12 7 11 16-13 31-12-15-11-6z"/><path color="#feae77" d="M554 858l11 7 12 13-14 30-11-12-11-7z"/><path color="#feb77e" d="M577 878l11 14-13 29-12-13z"/><path color="#fec287" d="M588 892l12 19 11 7 11 11-13 26-12-10-11-6-11-18z"/><path color="#fecc8f" d="M622 929l12 10 11 15-14 24-11-14-11-9z"/><path color="#fed799" d="M645 954l11 8 12 12 11 10 11 6-14 21-11-5-11-9-11-11-12-8z"/><path color="#fde0a1" d="M690 990l12 16 11 8 11 9-13 18-12-7-11-8-12-15z"/><path color="#fdebac" d="M724 1023l12 14 11 9 12 10-14 15-12-9-11-8-11-13z"/><path color="#fcf4b6" d="M759 1056l11 9 11 13 12 6 11 6 12 16 11 3 12 11-14 10-12-9-11-3-11-15-12-6-11-6-12-11-11-9z"/><path color="#fcfdbf" d="M839 1120l11 11-14 9-11-10z"/><path color="#fc9065" d="M295 675l11 7 11 9 11 10 11 5 11 11 11 6 11 4 11 16-11 45-12-15-10-4-11-6-11-10-11-6-11-9-11-9-11-6z"/><path color="#fd9a6a" d="M383 743l12 10 11 5 11 10 11 10-12 43-11-10-11-9-11-5-11-9z"/><path color="#fea36f" d="M428 778l11 13 11 7 11 7 12 17-13 38-11-15-11-6-11-6-11-12z"/><path color="#feae77" d="M473 822l11 8-13 38-11-8z"/><path color="#feb77e" d="M484 830l12 16 11 9 11 13-13 35-11-12-11-9-12-14z"/><path color="#fec287" d="M518 868l11 6 12 15 11 7-13 31-11-6-12-13-11-5z"/><path color="#fecc8f" d="M552 896l11 12 12 13-14 28-11-11-11-11z"/><path color="#fed799" d="M575 921l11 18 11 6 12 10-14 25-11-10-11-5-12-16z"/><path color="#fde0a1" d="M609 955l11 9 11 14-13 23-12-13-11-8z"/><path color="#fdebac" d="M631 978l12 8 11 11 11 9 11 5 12 15 11 8 12 7-14 16-12-6-11-7-11-14-12-4-11-9-11-10-11-6z"/><path color="#fcf4b6" d="M711 1041l11 13 11 8 12 9 11 9 12 11-14 13-12-11-11-9-12-8-11-7-11-12z"/><path color="#fcfdbf" d="M768 1091l11 6-14 12-11-5z"/><path color="#fcf4b6" d="M779 1097l12 6-14 11-12-5z"/><path color="#fcfdbf" d="M791 1103l11 15 11 3-13 10-12-2-11-15z"/><path color="#fcf4b6" d="M813 1121l12 9-14 11-11-10z"/><path color="#fcfdbf" d="M825 1130l11 10-13 10-12-9z"/><path color="#fec287" d="M284 723l11 6 11 9-10 59-11-9-11-6z"/><path color="#fecc8f" d="M306 738l11 9 11 6 11 10 11 6-11 57-11-5-11-9-10-6-11-9z"/><path color="#fec287" d="M350 769l10 4-11 57-10-4z"/><path color="#fecc8f" d="M360 773l12 15 11 9 11 5 11 9 11 10 11 12-12 48-11-10-11-9-11-7-11-5-10-8-12-12z"/><path color="#fed799" d="M427 833l11 6-12 47-11-5z"/><path color="#fecc8f" d="M438 839l11 6-12 47-11-6z"/><path color="#fed799" d="M449 845l11 15 11 8 12 14-13 41-11-12-11-6-11-13z"/><path color="#fde0a1" d="M483 882l11 9 11 12 11 5 12 13 11 6 11 11-13 30-11-9-11-4-12-10-11-4-11-10-11-8z"/><path color="#fdebac" d="M550 938l11 11 12 16-14 26-11-14-11-9z"/><path color="#fcf4b6" d="M573 965l11 5-14 25-11-4z"/><path color="#fdebac" d="M584 970l11 10-14 22-11-7z"/><path color="#fcf4b6" d="M595 980l11 8 12 13 11 6 11 10 11 9 12 4 11 14 11 7 12 6 11 12 11 7 12 8 11 9-14 10-11-7-11-8-12-7-11-11-12-5-11-6-11-12-11-4-12-8-11-8-11-6-11-11-12-8z"/><path color="#fcfdbf" d="M742 1093l12 11 11 5-14 10-11-5-12-11z"/><path color="#fcf4b6" d="M765 1109l12 5-14 10-12-5z"/><path color="#fcfdbf" d="M777 1114l11 15 12 2-14 10-12-3-11-14z"/><path color="#fcf4b6" d="M800 1131l11 10-14 9-11-9z"/><path color="#fcfdbf" d="M811 1141l12 9-14 10-12-10z"/><path color="#fdebac" d="M274 782l11 6 11 9-13 20-11-7-11-7z"/><path color="#fcf4b6" d="M296 797l11 9 10 6 11 9 11 5-13 20-11-7-11-7-11-8-10-7z"/><path color="#fdebac" d="M339 826l10 4 12 12-14 19-11-7-10-8z"/><path color="#fcf4b6" d="M361 842l10 8-13 18-11-7z"/><path color="#fdebac" d="M371 850l11 5 11 7 11 9-13 19-11-7-11-7-11-8z"/><path color="#fcf4b6" d="M404 871l11 10 11 5-13 19-11-7-11-8z"/><path color="#fdebac" d="M426 886l11 6-13 21-11-8z"/><path color="#fcf4b6" d="M437 892l11 13 11 6 11 12 11 8 11 10 11 4 12 10 11 4 11 9 11 9 11 14-14 7-11-8-11-8-11-7-11-8-11-7-11-8-11-8-11-8-12-8-11-8-10-7z"/><path color="#fcfdbf" d="M559 991l11 4-14 11-11-8z"/><path color="#fcf4b6" d="M570 995l11 7 12 8-14 11-12-7-11-8z"/><path color="#fcfdbf" d="M593 1010l11 11 11 6 11 8 12 8 11 4 11 12 11 6 12 5 11 11 12 7 11 8 11 7 12 11 11 5 12 5 11 14 12 3 11 9 12 10-14 8-12-8-11-8-12-8-11-7-12-8-11-8-12-8-11-7-11-8-12-8-11-7-12-8-11-8-11-8-11-7-12-8-11-7-11-8-11-8z"/><path color="#fcf4b6" d="M261 803l11 7 11 7 10 7 11 8 11 7 11 7 10 8 11 7 11 7 11 8 11 7 11 7 11 8 11 7 11 8 10 7 11 8 12 8 11 8-14 11-11-7-11-8-11-7-11-8-11-7-11-8-11-7-11-7-11-8-11-7-10-7-11-8-11-7-11-7-11-8-10-7-11-7-11-8-10-7z"/><path color="#fcfdbf" d="M468 944l11 8 11 8 11 7 11 8 11 7 11 8 11 8 11 8 11 8 12 7 11 8 11 8 11 7 12 8 11 7 11 8 11 8 12 8 11 7 12 8 11 8 11 7 12 8 11 8 12 8 11 7 12 8 11 8 12 8-14 10-12-8-11-8-12-8-11-8-12-7-11-8-12-8-11-8-11-7-12-8-11-8-11-8-12-7-11-8-11-8-12-7-11-8-11-8-11-7-11-8-12-7-11-8-11-8-11-7-11-8-11-7-11-8-11-7-11-8zM248 815l10 7 11 8 11 7 10 7 11 8 11 7 11 7 11 8 10 7 11 7 11 8 11 7 11 7 11 8 11 7 11 8 11 7 11 8 11 7 11 8 11 7 11 8 11 7 11 8 11 7 11 8 11 8 12 7 11 8 11 7 11 8 11 8 12 7 11 8 11 8 12 7 11 8 11 8 12 8 11 7 11 8 12 8 11 8 12 7 11 8 12 8 11 8 12 8-14 9-12-7-11-8-12-8-11-8-12-8-11-8-12-7-11-8-11-8-12-8-11-7-12-8-11-8-11-8-11-7-12-8-11-8-11-7-11-8-12-7-11-8-11-8-11-7-11-8-11-7-11-8-11-7-11-8-11-7-11-8-11-7-11-8-11-7-11-8-11-7-11-8-11-7-11-8-11-7-10-7-11-8-11-7-11-7-11-8-10-7-11-7-11-8-10-7zM234 824l10 7 11 8 11 7 10 7 11 8 11 7 11 7 11 8 10 7 11 7 11 8 11 7 11 8 11 7 11 8 11 7 11 8 11 7 11 8 11 7 11 8 11 7 11 8 11 7 11 8 11 7 11 8 11 8 12 7 11 8 11 7 11 8 12 8 11 7 11 8 11 8 12 8 11 7 12 8 11 8 11 8 12 7 11 8 12 8 11 8 12 8 11 8 12 7-14 10-12-8-11-8-12-7-11-8-12-8-11-8-12-8-11-7-11-8-12-8-11-8-12-8-11-7-11-8-11-8-12-7-11-8-11-8-11-7-12-8-11-8-11-7-11-8-11-7-11-8-11-8-11-7-11-8-11-7-11-8-11-7-11-8-11-7-11-8-11-7-11-8-11-7-11-7-11-8-10-7-11-8-11-7-11-7-11-8-10-7-11-7-11-8-11-7zM219 833l11 7 11 8 11 7 10 7 11 8 11 7 11 7 11 8 10 7 11 8 11 7 11 7 11 8 11 7 11 8 11 7 11 8 11 7 11 8 11 7 11 8 11 7 11 8 11 8 11 7 11 8 11 7 11 8 12 8 11 7 11 8 11 8 12 7 11 8 11 8 11 7 12 8 11 8 12 8 11 8 11 7 12 8 11 8 12 8 11 8 12 7 11 8 12 8-14 10-12-8-11-8-12-8-11-8-12-7-11-8-12-8-11-8-12-8-11-7-11-8-12-8-11-8-11-7-12-8-11-8-11-8-11-7-11-8-12-8-11-7-11-8-11-7-11-8-11-8-11-7-11-8-11-7-11-8-11-7-11-8-11-7-11-8-11-7-11-8-11-7-11-8-11-7-11-8-11-7-10-7-11-8-11-7-11-8-10-7-11-7-11-8-11-7z"/></g><text x="38.3" y="478.5" font-size="39">0°</text><text x="62.9" y="505.1" font-size="39">10°</text><text x="111.2" y="543.4" font-size="39">20°</text><text x="151.8" y="572.4" font-size="39">30°</text><text x="194.1" y="601.5" font-size="39">40°</text><text x="238.4" y="630.6" font-size="39">50°</text><text x="286.6" y="661.0" font-size="39">60°</text><text x="398.9" y="658.6" font-size="39">0.0</text><text x="478.7" y="606.1" font-size="39">0.10</text><text x="555.8" y="557.8" font-size="39">0.20</text><text x="623.8" y="498.6" font-size="39">0.30</text><text x="702.0" y="248.5" font-size="39">2.5</text><text x="701.6" y="291.2" font-size="39">2.0</text><text x="693.0" y="333.8" font-size="39">1.5</text><text x="693.0" y="368.4" font-size="39">1.0</text><text x="689.0" y="405.2" font-size="39">0.5</text><text x="684.4" y="447.9" font-size="39">0.0</text><text transform="translate(137.5 586.3) rotate(34.60)" x="-106.6" y="9.3" font-size="39" font-weight="bold" xml:space="preserve">Tilt angle (<tspan font-style="italic">δ</tspan>)</text><text transform="translate(625.0 599.0) rotate(-34.90)" x="-100.7" y="9.2" font-size="39" font-weight="bold" xml:space="preserve">Energy (eV)</text><text transform="translate(773.3 344.4) rotate(90.00)" x="-111.3" y="13.4" font-size="39" font-weight="bold" xml:space="preserve">Transmission</text><text x="723.2" y="683.4" font-size="44" font-weight="bold" fill="#a51c20">(a)</text><text x="604.1" y="62.7" font-size="60" font-weight="bold">W</text><text x="665.1" y="62.7" font-size="30.0" font-weight="bold">1</text><text x="695.1" y="62.7" font-size="60" font-weight="bold">(K)</text><path d="M874 476.2L850.2 215.6M906.3 448.2L885.3 187.4M938.3 420.7L919.8 159.7M969.7 393.5L953.9 132.3M1000.8 366.7L987.5 105.4M1031.4 340.2L1020.5 78.9M1061.5 314.2L1053.1 52.7M1091.3 288.4L1085.2 26.9M855.7 483.9L1114.5 260.7M852.5 451.5L1114 228M849.3 418.4L1113.4 194.7M846 384.6L1112.9 160.7M842.6 350.1L1112.3 126.1M839.2 314.9L1111.7 90.8M835.7 279L1111.1 54.8M832.1 242.3L1110.5 18.1M1137 277.2L1134.3 15.7M1189.2 298L1190.5 36.5M1242 319.1L1247.3 57.6M1295.4 340.4L1304.9 79M1349.4 361.9L1363.1 100.6M1404 383.7L1422.1 122.5M1459.3 405.7L1481.7 144.6M1114.5 260.7L1484.4 408M1114 228L1487.5 375.4M1113.4 194.7L1490.6 342.2M1112.9 160.7L1493.8 308.3M1112.3 126.1L1497 273.7M1111.7 90.8L1500.3 238.5M1111.1 54.8L1503.7 202.5M1110.5 18.1L1507.1 165.7M879.4 501.4L1137 277.2M933.3 524.8L1189.2 298M987.7 548.5L1242 319.1M1042.8 572.5L1295.4 340.4M1098.6 596.7L1349.4 361.9M1155.1 621.3L1404 383.7M1212.2 646.1L1459.3 405.7M874 476.2L1254.4 640.6M906.3 448.2L1285.3 610.3M938.3 420.7L1315.7 580.4M969.7 393.5L1345.7 551M1000.8 366.7L1375.3 521.9M1031.4 340.2L1404.5 493.3M1061.5 314.2L1433.2 465.1M1091.3 288.4L1461.5 437.3" stroke="#b4b4b4" stroke-width="1.5" fill="none"/><path d="M856.4 491.4L1237.6 657.1L1483.7 415.5L1508.2 154.4" stroke="#000" stroke-width="2.2" fill="none" stroke-linejoin="miter"/><path d="M881.3 499.8L874.5 505.7M935.1 523.2L928.4 529.1M989.6 546.8L982.9 552.9M1044.7 570.8L1038 576.9M1100.4 595L1093.9 601.2M1156.9 619.6L1150.4 625.8M1214 644.4L1207.6 650.7M1252.1 639.6L1260.3 643.2M1283 609.3L1291.2 612.9M1313.4 579.4L1321.7 583M1343.4 550L1351.7 553.5M1373 521L1381.3 524.4M1402.1 492.4L1410.5 495.8M1430.9 464.2L1439.2 467.6M1459.2 436.4L1467.6 439.7M1482.1 407.1L1490.5 410.4M1485.2 374.5L1493.5 377.8M1488.3 341.3L1496.7 344.6M1491.5 307.4L1499.8 310.7M1494.7 272.8L1503.1 276.1M1498 237.6L1506.4 240.8M1501.4 201.6L1509.8 204.8M1504.8 164.9L1513.2 168" stroke="#000" stroke-width="2"/><g class="sf" transform="scale(.5)"><path color="#1d1147" d="M2236 125l14-8-11 59-14 12z"/><path color="#160f3b" d="M2250 117l14-1-12 55-13 5z"/><path color="#100b2d" d="M2264 116l13 0-11 51-14 4z"/><path color="#0a0822" d="M2277 116l14-10-11 48-14 13z"/><path color="#050416" d="M2291 106l14 7-11 44-14-3z"/><path color="#02020b" d="M2305 113l14-8-11 40-14 12z"/><path color="#000004" d="M2319 105l14-11 15 19-12 33-14-15-14 14z"/><path color="#02020b" d="M2348 113l14 21-12 31-14-19z"/><path color="#050416" d="M2362 134l14 10-12 29-14-8z"/><path color="#0a0822" d="M2376 144l14 22-12 26-14-19z"/><path color="#100b2d" d="M2390 166l14 22-12 25-14-21z"/><path color="#1d1147" d="M2404 188l14 39-12 23-14-37z"/><path color="#38106c" d="M2418 227l13 24-11 21-14-22z"/><path color="#491078" d="M2431 251l14 25-11 19-14-23z"/><path color="#5a167e" d="M2445 276l14 45-12 17-13-43z"/><path color="#752181" d="M2459 321l13 25-11 18-14-26z"/><path color="#8e2a81" d="M2472 346l14 41-12 18-13-41z"/><path color="#a8327d" d="M2486 387l13 27-11 20-14-29z"/><path color="#c43c75" d="M2499 414l13 34-11 20-13-34z"/><path color="#d5446d" d="M2512 448l14 23-12 21-13-24z"/><path color="#e34e65" d="M2526 471l13 35-12 22-13-36z"/><path color="#f4675c" d="M2539 506l13 24-11 23-14-25z"/><path color="#f97b5d" d="M2552 530l13 31-11 24-13-32z"/><path color="#fc9065" d="M2565 561l13 12-11 23-13-11z"/><path color="#fd9a6a" d="M2578 573l14 19-12 22-13-18z"/><path color="#fea36f" d="M2592 592l14 3 13 9-11 20-14-8-14-2z"/><path color="#fd9a6a" d="M2619 604l14-4 14 4-11 23-14-4-14 1z"/><path color="#fc9065" d="M2647 604l15-7-12 25-14 5z"/><path color="#fb8560" d="M2662 597l14-1-12 27-14-1z"/><path color="#fc9065" d="M2676 596l13 20-11 23-14-16z"/><path color="#fd9a6a" d="M2689 616l14 13-12 21-13-11z"/><path color="#fea36f" d="M2703 629l12 27-11 17-13-23z"/><path color="#feb77e" d="M2715 656l14 18 14 5 13 11-11 15-13-12-14-5-14-15z"/><path color="#fec287" d="M2756 690l14 6 14 6-11 17-14-7-14-7z"/><path color="#feb77e" d="M2784 702l15-14-11 21-15 10z"/><path color="#fea36f" d="M2799 688l15-10-11 24-15 7z"/><path color="#fc9065" d="M2814 678l16-19-12 28-15 15z"/><path color="#f97b5d" d="M2830 659l16-20-12 32-16 16z"/><path color="#f4675c" d="M2846 639l15-7-12 35-15 4z"/><path color="#ea5661" d="M2861 632l18-31-14 40-16 26z"/><path color="#d5446d" d="M2879 601l16-17-14 45-16 12z"/><path color="#c43c75" d="M2895 584l16-16-14 49-16 12z"/><path color="#491078" d="M2225 188l14-12-11 58-14 14z"/><path color="#38106c" d="M2239 176l13-5-11 54-13 9z"/><path color="#2d1161" d="M2252 171l14-4-11 50-14 8z"/><path color="#251255" d="M2266 167l14-13-11 47-14 16z"/><path color="#1d1147" d="M2280 154l14 3-11 43-14 1z"/><path color="#100b2d" d="M2294 157l14-12-12 41-13 14z"/><path color="#0a0822" d="M2308 145l14-14-12 38-14 17z"/><path color="#050416" d="M2322 131l14 15-12 33-14-10z"/><path color="#0a0822" d="M2336 146l14 19-12 31-14-17z"/><path color="#100b2d" d="M2350 165l14 8 14 19-11 28-15-17-14-7z"/><path color="#1d1147" d="M2378 192l14 21-11 25-14-18z"/><path color="#2d1161" d="M2392 213l14 37-12 23-13-35z"/><path color="#400f74" d="M2406 250l14 22-12 21-14-20z"/><path color="#52137c" d="M2420 272l14 23-12 20-14-22z"/><path color="#641a80" d="M2434 295l13 43-11 18-14-41z"/><path color="#7c2382" d="M2447 338l14 26-12 19-13-27z"/><path color="#962c80" d="M2461 364l13 41-11 20-14-42z"/><path color="#b2357b" d="M2474 405l14 29-12 20-13-29z"/><path color="#cc3f71" d="M2488 434l13 34-12 22-13-36z"/><path color="#dc4869" d="M2501 468l13 24-11 22-14-24z"/><path color="#ef5d5e" d="M2514 492l13 36-11 23-13-37z"/><path color="#f7705c" d="M2527 528l14 25-12 24-13-26z"/><path color="#fc9065" d="M2541 553l13 32-12 24-13-32z"/><path color="#fd9a6a" d="M2554 585l13 11-11 23-14-10z"/><path color="#fea36f" d="M2567 596l13 18-11 21-13-16z"/><path color="#feae77" d="M2580 614l14 2 14 8 14-1-11 22-14 0-14-7-14-3z"/><path color="#fea36f" d="M2622 623l14 4 14-5-11 26-15 3-13-6z"/><path color="#fd9a6a" d="M2650 622l14 1 14 16-12 24-13-13-14-2z"/><path color="#fea36f" d="M2678 639l13 11-11 21-14-8z"/><path color="#feae77" d="M2691 650l13 23-11 17-13-19z"/><path color="#feb77e" d="M2704 673l14 15-11 13-14-11z"/><path color="#fec287" d="M2718 688l14 5 13 12 14 7-11 16-14-8-13-12-14-7z"/><path color="#fecc8f" d="M2759 712l14 7-11 17-14-8z"/><path color="#fec287" d="M2773 719l15-10-12 20-14 7z"/><path color="#feb77e" d="M2788 709l15-7-12 23-15 4z"/><path color="#fea36f" d="M2803 702l15-15-12 27-15 11z"/><path color="#fc9065" d="M2818 687l16-16-12 31-16 12z"/><path color="#fb8560" d="M2834 671l15-4-13 34-14 1z"/><path color="#f7705c" d="M2849 667l16-26-13 40-16 20z"/><path color="#ea5661" d="M2865 641l16-12-13 44-16 8z"/><path color="#e34e65" d="M2881 629l16-12-14 49-15 7z"/><path color="#6b1d81" d="M2214 248l14-14-11 46-13 15z"/><path color="#5a167e" d="M2228 234l13-9-11 47-13 8z"/><path color="#52137c" d="M2241 225l14-8-11 47-14 8z"/><path color="#400f74" d="M2255 217l14-16-12 47-13 16z"/><path color="#38106c" d="M2269 201l14-1-12 47-14 1z"/><path color="#2d1161" d="M2283 200l13-14-11 47-14 14z"/><path color="#1d1147" d="M2296 186l14-17-11 48-14 16z"/><path color="#160f3b" d="M2310 169l14 10-11 48-14-10z"/><path color="#1d1147" d="M2324 179l14 17 14 7-11 42-14-4-14-14z"/><path color="#251255" d="M2352 203l15 17-12 40-14-15z"/><path color="#2d1161" d="M2367 220l14 18-12 37-14-15z"/><path color="#400f74" d="M2381 238l13 35-11 35-14-33z"/><path color="#52137c" d="M2394 273l14 20-11 34-14-19z"/><path color="#5a167e" d="M2408 293l14 22-11 33-14-21z"/><path color="#752181" d="M2422 315l14 41-12 30-13-38z"/><path color="#8e2a81" d="M2436 356l13 27-11 33-14-30z"/><path color="#a8327d" d="M2449 383l14 42-12 35-13-44z"/><path color="#c43c75" d="M2463 425l13 29-11 38-14-32z"/><path color="#dc4869" d="M2476 454l13 36-11 39-13-37z"/><path color="#ea5661" d="M2489 490l14 24-12 38-13-23z"/><path color="#f7705c" d="M2503 514l13 37-12 34-13-33z"/><path color="#fb8560" d="M2516 551l13 26-11 32-14-24z"/><path color="#fea36f" d="M2529 577l13 32-11 30-13-30z"/><path color="#feae77" d="M2542 609l14 10-12 29-13-9z"/><path color="#feb77e" d="M2556 619l13 16 14 3 14 7 14 0 13 6-11 28-14-6-14-1-14-7-13-2-14-15z"/><path color="#feae77" d="M2624 651l15-3 14 2 13 13 14 8-12 24-13-5-14-10-14-3-14 2z"/><path color="#feb77e" d="M2680 671l13 19-11 21-14-16z"/><path color="#fec287" d="M2693 690l14 11 14 7 13 12-11 15-14-11-13-5-14-8z"/><path color="#fecc8f" d="M2734 720l14 8 14 8 14-7-11 15-14 5-14-7-14-7z"/><path color="#fec287" d="M2776 729l15-4-11 19-15 0z"/><path color="#feae77" d="M2791 725l15-11-11 22-15 8z"/><path color="#fea36f" d="M2806 714l16-12-12 25-15 9z"/><path color="#fd9a6a" d="M2822 702l14-1-12 30-14-4z"/><path color="#fb8560" d="M2836 701l16-20-12 35-16 15z"/><path color="#f7705c" d="M2852 681l16-8-13 39-15 4z"/><path color="#f4675c" d="M2868 673l15-7-13 42-15 4z"/><path color="#8e2a81" d="M2204 295l13-15-11 47-13 14z"/><path color="#7c2382" d="M2217 280l13-8-11 46-13 9z"/><path color="#752181" d="M2230 272l14-8-11 46-14 8z"/><path color="#641a80" d="M2244 264l13-16-11 47-13 15z"/><path color="#5a167e" d="M2257 248l14-1-11 46-14 2z"/><path color="#491078" d="M2271 247l14-14-11 48-14 12z"/><path color="#400f74" d="M2285 233l14-16-12 49-13 15z"/><path color="#38106c" d="M2299 217l14 10 14 14-12 44-14-11-14-8z"/><path color="#400f74" d="M2327 241l14 4 14 15-12 39-14-11-14-3z"/><path color="#491078" d="M2355 260l14 15-12 37-14-13z"/><path color="#52137c" d="M2369 275l14 33-12 35-14-31z"/><path color="#641a80" d="M2383 308l14 19-12 34-14-18z"/><path color="#752181" d="M2397 327l14 21-12 32-14-19z"/><path color="#862781" d="M2411 348l13 38-11 30-14-36z"/><path color="#a02f7f" d="M2424 386l14 30-12 33-13-33z"/><path color="#ba3878" d="M2438 416l13 44-11 35-14-46z"/><path color="#dc4869" d="M2451 460l14 32-12 37-13-34z"/><path color="#ef5d5e" d="M2465 492l13 37-12 40-13-40z"/><path color="#f7705c" d="M2478 529l13 23-11 37-14-20z"/><path color="#fb8560" d="M2491 552l13 33-11 35-13-31z"/><path color="#fea36f" d="M2504 585l14 24-12 33-13-22z"/><path color="#feb77e" d="M2518 609l13 30-12 30-13-27z"/><path color="#fec287" d="M2531 639l13 9-11 29-14-8z"/><path color="#fecc8f" d="M2544 648l14 15 13 2 14 7 14 1 14 6-12 28-14-6-13-2-14-6-14-2-13-14z"/><path color="#fec287" d="M2613 679l14-2 14 3 14 10 13 5 14 16-12 20-13-13-14-2-14-7-14-3-14 1z"/><path color="#fecc8f" d="M2682 711l14 8 13 5 14 11 14 7 14 7 14-5-11 16-14 1-14-5-14-5-14-11-14-4-14-5z"/><path color="#fec287" d="M2765 744l15 0-12 19-14-3z"/><path color="#feb77e" d="M2780 744l15-8-12 22-15 5z"/><path color="#feae77" d="M2795 736l15-9-12 25-15 6z"/><path color="#fea36f" d="M2810 727l14 4-12 29-14-8z"/><path color="#fd9a6a" d="M2824 731l16-15-13 34-15 10z"/><path color="#fc9065" d="M2840 716l15-4-13 38-15 0z"/><path color="#fb8560" d="M2855 712l15-4-14 43-14-1z"/><path color="#a8327d" d="M2193 341l13-14-11 37-13 13z"/><path color="#962c80" d="M2206 327l13-9-11 37-13 9z"/><path color="#8e2a81" d="M2219 318l14-8-11 37-14 8z"/><path color="#7c2382" d="M2233 310l13-15-11 37-13 15z"/><path color="#752181" d="M2246 295l14-2-11 38-14 1z"/><path color="#6b1d81" d="M2260 293l14-12-12 38-13 12z"/><path color="#5a167e" d="M2274 281l13-15-11 40-14 13z"/><path color="#52137c" d="M2287 266l14 8 14 11-11 38-14-10-14-7z"/><path color="#5a167e" d="M2315 285l14 3 14 11 14 13-11 32-14-10-14-10-14-1z"/><path color="#6b1d81" d="M2357 312l14 31-11 31-14-30z"/><path color="#7c2382" d="M2371 343l14 18-12 30-13-17z"/><path color="#862781" d="M2385 361l14 19-12 29-14-18z"/><path color="#962c80" d="M2399 380l14 36-12 28-14-35z"/><path color="#b2357b" d="M2413 416l13 33-11 30-14-35z"/><path color="#cc3f71" d="M2426 449l14 46-12 30-13-46z"/><path color="#ea5661" d="M2440 495l13 34-12 32-13-36z"/><path color="#f7705c" d="M2453 529l13 40-11 32-14-40z"/><path color="#fc9065" d="M2466 569l14 20-12 31-13-19z"/><path color="#fea36f" d="M2480 589l13 31-12 28-13-28z"/><path color="#feb77e" d="M2493 620l13 22-11 25-14-19z"/><path color="#fecc8f" d="M2506 642l13 27-11 23-13-25z"/><path color="#fed799" d="M2519 669l14 8-12 23-13-8z"/><path color="#fde0a1" d="M2533 677l13 14 14 2 14 6-12 22-13-6-14-2-14-13z"/><path color="#fed799" d="M2574 699l13 2 14 6 14-1 14 3 14 7-11 21-14-4-14-4-14 0-14-7-14-1z"/><path color="#fecc8f" d="M2643 716l14 2 13 13-11 17-13-10-14-1z"/><path color="#fed799" d="M2670 731l14 5-11 16-14-4z"/><path color="#fecc8f" d="M2684 736l14 4-11 14-14-2z"/><path color="#fed799" d="M2698 740l14 11 14 5 14 5-11 11-14-4-14-4-14-10z"/><path color="#fecc8f" d="M2740 761l14-1 14 3-11 15-14-5-14-1z"/><path color="#fec287" d="M2768 763l15-5-11 17-15 3z"/><path color="#feb77e" d="M2783 758l15-6 14 8-12 21-13-10-15 4z"/><path color="#feae77" d="M2812 760l15-10-12 24-15 7z"/><path color="#fea36f" d="M2827 750l15 0 14 1-12 30-14-3-15-4z"/><path color="#ba3878" d="M2182 377l13-13-11 21-13 13z"/><path color="#a8327d" d="M2195 364l13-9-11 22-13 8z"/><path color="#a02f7f" d="M2208 355l14-8-12 22-13 8z"/><path color="#8e2a81" d="M2222 347l13-15-11 23-14 14z"/><path color="#862781" d="M2235 332l14-1-12 24-13 0z"/><path color="#7c2382" d="M2249 331l13-12-11 26-14 10z"/><path color="#6b1d81" d="M2262 319l14-13-11 27-14 12z"/><path color="#641a80" d="M2276 306l14 7-11 28-14-8z"/><path color="#6b1d81" d="M2290 313l14 10 14 1 14 10 14 10-12 27-14-10-14-10-14 0-13-10z"/><path color="#7c2382" d="M2346 344l14 30-12 25-14-28z"/><path color="#862781" d="M2360 374l13 17-11 24-14-16z"/><path color="#8e2a81" d="M2373 391l14 18-11 24-14-18z"/><path color="#a8327d" d="M2387 409l14 35-11 22-14-33z"/><path color="#ba3878" d="M2401 444l14 35-12 22-13-35z"/><path color="#dc4869" d="M2415 479l13 46-11 22-14-46z"/><path color="#f4675c" d="M2428 525l13 36-11 22-13-36z"/><path color="#fb8560" d="M2441 561l14 40-12 22-13-40z"/><path color="#fea36f" d="M2455 601l13 19-11 20-14-17z"/><path color="#feae77" d="M2468 620l13 28-11 17-13-25z"/><path color="#fec287" d="M2481 648l14 19-11 16-14-18z"/><path color="#fed799" d="M2495 667l13 25-11 13-13-22z"/><path color="#fde0a1" d="M2508 692l13 8 14 13-11 12-14-12-13-8z"/><path color="#fdebac" d="M2535 713l14 2-11 12-14-2z"/><path color="#fde0a1" d="M2549 715l13 6 14 1 14 7 14 0-11 13-14-1-14-7-14-2-13-5z"/><path color="#fed799" d="M2604 729l14 4 14 4 14 1 13 10 14 4 14 2 14 10 14 4 14 4-11 9-14-4-14-3-14-9-14-2-14-3-13-10-14 0-14-4-14-4z"/><path color="#fecc8f" d="M2729 772l14 1 14 5 15-3-11 8-14 3-14-4-15-1z"/><path color="#fec287" d="M2772 775l15-4-11 9-15 3z"/><path color="#feb77e" d="M2787 771l13 10 15-7-10 10-15 6-14-10z"/><path color="#feae77" d="M2815 774l15 4 14 3-11 10-14-3-14-4z"/><path color="#c43c75" d="M2171 398l13-13-11 22-14 12z"/><path color="#b2357b" d="M2184 385l13-8-11 22-13 8z"/><path color="#a8327d" d="M2197 377l13-8-11 22-13 8z"/><path color="#a02f7f" d="M2210 369l14-14-12 23-13 13z"/><path color="#8e2a81" d="M2224 355l13 0-11 24-14-1z"/><path color="#862781" d="M2237 355l14-10-11 25-14 9z"/><path color="#7c2382" d="M2251 345l14-12-12 27-13 10z"/><path color="#752181" d="M2265 333l14 8-12 28-14-9z"/><path color="#7c2382" d="M2279 341l13 10-11 27-14-9z"/><path color="#752181" d="M2292 351l14 0 14 10-11 27-14-9-14-1z"/><path color="#7c2382" d="M2320 361l14 10-11 26-14-9z"/><path color="#862781" d="M2334 371l14 28-11 26-14-28z"/><path color="#962c80" d="M2348 399l14 16-12 25-13-15z"/><path color="#a02f7f" d="M2362 415l14 18-12 24-14-17z"/><path color="#b2357b" d="M2376 433l14 33-12 23-14-32z"/><path color="#cc3f71" d="M2390 466l13 35-11 23-14-35z"/><path color="#e34e65" d="M2403 501l14 46-12 22-13-45z"/><path color="#f7705c" d="M2417 547l13 36-11 22-14-36z"/><path color="#fc9065" d="M2430 583l13 40-11 22-13-40z"/><path color="#feae77" d="M2443 623l14 17-11 20-14-15z"/><path color="#feb77e" d="M2457 640l13 25-11 18-13-23z"/><path color="#fecc8f" d="M2470 665l14 18-12 15-13-15z"/><path color="#fed799" d="M2484 683l13 22-11 13-14-20z"/><path color="#fde0a1" d="M2497 705l13 8-11 12-13-7z"/><path color="#fdebac" d="M2510 713l14 12 14 2 13 5-11 12-13-5-14-2-14-12z"/><path color="#fde0a1" d="M2551 732l14 2 14 7 14 1 14 4 14 4-11 13-14-4-14-5-14 0-14-8-14-2z"/><path color="#fed799" d="M2621 750l14 0 13 10 14 3 14 2 14 9 14 3 14 4-10 9-15-3-14-3-14-8-14-1-14-3-13-9-14 0z"/><path color="#fecc8f" d="M2718 781l15 1 14 4-11 9-14-4-14-1z"/><path color="#fec287" d="M2747 786l14-3-11 9-14 3z"/><path color="#feb77e" d="M2761 783l15-3 14 10 15-6-11 10-15 5-14-10-15 3z"/><path color="#feae77" d="M2805 784l14 4 14 3-10 11-15-4-14-4z"/><path color="#cc3f71" d="M2159 419l14-12-12 21-13 12z"/><path color="#c43c75" d="M2173 407l13-8-11 22-14 7z"/><path color="#b2357b" d="M2186 399l13-8-11 23-13 7z"/><path color="#a8327d" d="M2199 391l13-13-11 23-13 13z"/><path color="#a02f7f" d="M2212 378l14 1-11 24-14-2z"/><path color="#962c80" d="M2226 379l14-9-12 26-13 7z"/><path color="#862781" d="M2240 370l13-10 14 9 14 9 14 1 14 9 14 9-12 26-14-9-14-8-13-1-14-8-14-10-14 9z"/><path color="#962c80" d="M2323 397l14 28-12 25-14-27z"/><path color="#a02f7f" d="M2337 425l13 15-11 25-14-15z"/><path color="#a8327d" d="M2350 440l14 17-11 24-14-16z"/><path color="#ba3878" d="M2364 457l14 32-11 23-14-31z"/><path color="#d5446d" d="M2378 489l14 35-12 22-13-34z"/><path color="#ef5d5e" d="M2392 524l13 45-11 23-14-46z"/><path color="#f97b5d" d="M2405 569l14 36-12 23-13-36z"/><path color="#fea36f" d="M2419 605l13 40-11 23-14-40z"/><path color="#feb77e" d="M2432 645l14 15-12 20-13-12z"/><path color="#fec287" d="M2446 660l13 23-11 17-14-20z"/><path color="#fecc8f" d="M2459 683l13 15-11 16-13-14z"/><path color="#fde0a1" d="M2472 698l14 20 13 7-11 13-13-7-14-17z"/><path color="#fdebac" d="M2499 725l14 12 14 2 13 5 14 2 14 8-11 12-14-7-14-4-13-4-14-2-14-11z"/><path color="#fde0a1" d="M2568 754l14 0 14 5 14 4 14 0-11 12-15 1-13-4-14-5-14-1z"/><path color="#fed799" d="M2624 763l13 9 14 3 14 1 14 8 14 3-10 9-15-2-14-7-14 0-14-2-13-10z"/><path color="#fecc8f" d="M2693 787l15 3 14 1 14 4-11 9-14-5-14 0-14-3z"/><path color="#fec287" d="M2736 795l14-3-10 9-15 3z"/><path color="#feb77e" d="M2750 792l15-3 14 10 15-5-11 9-15 6-14-11-14 3z"/><path color="#feae77" d="M2794 794l14 4 15 4-11 10-15-4-14-5z"/><path color="#d5446d" d="M2148 440l13-12-11 20-13 12z"/><path color="#cc3f71" d="M2161 428l14-7-12 20-13 7z"/><path color="#c43c75" d="M2175 421l13-7-11 20-14 7z"/><path color="#b2357b" d="M2188 414l13-13-11 20-13 13z"/><path color="#a8327d" d="M2201 401l14 2-12 22-13-4z"/><path color="#a02f7f" d="M2215 403l13-7-11 23-14 6z"/><path color="#962c80" d="M2228 396l14-9 14 10 14 8 13 1 14 8 14 9-11 26-14-9-14-8-14-1-14-8-14-11-13 7z"/><path color="#a02f7f" d="M2311 423l14 27-11 24-14-25z"/><path color="#b2357b" d="M2325 450l14 15-11 23-14-14z"/><path color="#ba3878" d="M2339 465l14 16-12 23-13-16z"/><path color="#cc3f71" d="M2353 481l14 31-12 21-14-29z"/><path color="#dc4869" d="M2367 512l13 34-11 22-14-35z"/><path color="#f4675c" d="M2380 546l14 46-11 21-14-45z"/><path color="#fb8560" d="M2394 592l13 36-11 20-13-35z"/><path color="#feae77" d="M2407 628l14 40-12 20-13-40z"/><path color="#fec287" d="M2421 668l13 12-11 18-14-10z"/><path color="#fecc8f" d="M2434 680l14 20-11 17-14-19z"/><path color="#fed799" d="M2448 700l13 14-11 14-13-11z"/><path color="#fde0a1" d="M2461 714l14 17-11 13-14-16z"/><path color="#fdebac" d="M2475 731l13 7 14 11 14 2 13 4 14 4 14 7 14 1-11 12-14-1-14-8-14-4-13-4-14-1-14-11-13-6z"/><path color="#fde0a1" d="M2571 767l14 5 13 4 15-1 13 10 14 2-11 11-14-2-13-9-15 1-13-3-14-6z"/><path color="#fed799" d="M2640 787l14 0 14 7 15 2-11 9-15-1-13-6-15 0z"/><path color="#fecc8f" d="M2683 796l14 3 14 0 14 5-11 8-14-4-14-1-14-2z"/><path color="#fec287" d="M2725 804l15-3-11 8-15 3z"/><path color="#feb77e" d="M2740 801l14-3 14 11 15-6-11 9-15 5-13-11-15 3z"/><path color="#feae77" d="M2783 803l14 5 15 4-11 9-14-5-15-4z"/><path color="#d5446d" d="M2137 460l13-12-12 1-13 12z"/><path color="#cc3f71" d="M2150 448l13-7-12 0-13 8z"/><path color="#c43c75" d="M2163 441l14-7-12-1-14 8z"/><path color="#b2357b" d="M2177 434l13-13-12-1-13 13z"/><path color="#a8327d" d="M2190 421l13 4-11 0-14-5z"/><path color="#a02f7f" d="M2203 425l14-6-12 2-13 4z"/><path color="#962c80" d="M2217 419l13-7 14 11-11 5-14-13-14 6z"/><path color="#a02f7f" d="M2244 423l14 8 14 1 14 8 14 9-12 15-14-12-14-10-13-4-14-10z"/><path color="#a8327d" d="M2300 449l14 25-12 14-14-24z"/><path color="#ba3878" d="M2314 474l14 14-12 14-14-14z"/><path color="#c43c75" d="M2328 488l13 16-11 13-14-15z"/><path color="#cc3f71" d="M2341 504l14 29-11 13-14-29z"/><path color="#e34e65" d="M2355 533l14 35-11 10-14-32z"/><path color="#f4675c" d="M2369 568l14 45-12 7-13-42z"/><path color="#fc9065" d="M2383 613l13 35-11 4-14-32z"/><path color="#feae77" d="M2396 648l13 40-11 1-13-37z"/><path color="#fec287" d="M2409 688l14 10-11 2-14-11z"/><path color="#fecc8f" d="M2423 698l14 19-11 2-14-19z"/><path color="#fed799" d="M2437 717l13 11-11 3-13-12z"/><path color="#fde0a1" d="M2450 728l14 16-11 4-14-17z"/><path color="#fdebac" d="M2464 744l13 6 14 11 14 1 13 4-11 4-13-4-14-1-14-11-13-6z"/><path color="#fde0a1" d="M2518 766l14 4 14 8 14 1 14 6 13 3 15-1-11 6-14 1-14-4-14-5-14-2-14-9-14-4z"/><path color="#fed799" d="M2602 787l13 9 14 2 15 0 13 6-10 5-14-6-14 1-15-2-13-9z"/><path color="#fecc8f" d="M2657 804l15 1 14 2-11 4-14-1-14-1z"/><path color="#fec287" d="M2686 807l14 1 14 4-10 3-14-4-15 0z"/><path color="#feb77e" d="M2714 812l15-3-11 2-14 4z"/><path color="#feae77" d="M2729 809l15-3 13 11 15-5-10-3-15 8-14-10-15 4z"/><path color="#fea36f" d="M2772 812l15 4 14 5-10-6-14-3-15-3z"/><path color="#d5446d" d="M2125 461l13-12-12 1-13 13z"/><path color="#c43c75" d="M2138 449l13-8-12 0-13 9z"/><path color="#ba3878" d="M2151 441l14-8-12 0-14 8z"/><path color="#a8327d" d="M2165 433l13-13-12-2-13 15z"/><path color="#a02f7f" d="M2178 420l14 5 13-4-12 1-13 3-14-7z"/><path color="#962c80" d="M2205 421l14-6-12 3-14 4z"/><path color="#8e2a81" d="M2219 415l14 13-12 5-14-15z"/><path color="#962c80" d="M2233 428l14 10 13 4-11 10-14-6-14-13z"/><path color="#a02f7f" d="M2260 442l14 10 14 12-11 14-14-13-14-13z"/><path color="#b2357b" d="M2288 464l14 24-11 15-14-25z"/><path color="#ba3878" d="M2302 488l14 14-11 14-14-13z"/><path color="#c43c75" d="M2316 502l14 15-12 14-13-15z"/><path color="#d5446d" d="M2330 517l14 29-12 14-14-29z"/><path color="#e34e65" d="M2344 546l14 32-12 10-14-28z"/><path color="#f4675c" d="M2358 578l13 42-11 7-14-39z"/><path color="#fb8560" d="M2371 620l14 32-11 4-14-29z"/><path color="#fea36f" d="M2385 652l13 37-11 1-13-34z"/><path color="#feb77e" d="M2398 689l14 11-11 2-14-12z"/><path color="#fec287" d="M2412 700l14 19-12 3-13-20z"/><path color="#fecc8f" d="M2426 719l13 12-11 3-14-12z"/><path color="#fed799" d="M2439 731l14 17-11 4-14-18z"/><path color="#fde0a1" d="M2453 748l13 6 14 11 14 1 13 4 14 4 14 9 14 2 14 5 14 4-11 6-14-4-14-6-14-2-14-9-13-4-14-5-14 0-14-12-13-6z"/><path color="#fed799" d="M2577 794l14-1 13 9 15 2-11 6-14-2-14-9-14 1z"/><path color="#fecc8f" d="M2619 804l14-1 14 6 14 1-11 5-14-1-14-5-14 1z"/><path color="#fec287" d="M2661 810l14 1 15 0-11 4-14 1-15-1z"/><path color="#feb77e" d="M2690 811l14 4 14-4-10 2-15 5-14-3z"/><path color="#feae77" d="M2718 811l15-4-10 1-15 5z"/><path color="#fea36f" d="M2733 807l14 10 15-8-10-3-15 10-14-8z"/><path color="#fd9a6a" d="M2762 809l15 3-10-5-15-1z"/><path color="#fc9065" d="M2777 812l14 3-10-7-14-1z"/><path color="#cc3f71" d="M2113 463l13-13-12 1-13 14z"/><path color="#ba3878" d="M2126 450l13-9-12 0-13 10z"/><path color="#b2357b" d="M2139 441l14-8-12-1-14 9z"/><path color="#a02f7f" d="M2153 433l13-15-12-1-13 15z"/><path color="#962c80" d="M2166 418l14 7 13-3-12 2-13 1-14-8z"/><path color="#8e2a81" d="M2193 422l14-4 14 15-12 5-14-17-14 3z"/><path color="#962c80" d="M2221 433l14 13 14 6-12 10-14-9-14-15z"/><path color="#a02f7f" d="M2249 452l14 13-12 12-14-15z"/><path color="#a8327d" d="M2263 465l14 13-12 15-14-16z"/><path color="#b2357b" d="M2277 478l14 25-12 14-14-24z"/><path color="#c43c75" d="M2291 503l14 13 13 15-11 14-14-15-14-13z"/><path color="#d5446d" d="M2318 531l14 29-11 13-14-28z"/><path color="#e34e65" d="M2332 560l14 28-11 10-14-25z"/><path color="#f4675c" d="M2346 588l14 39-11 7-14-36z"/><path color="#fb8560" d="M2360 627l14 29-12 4-13-26z"/><path color="#fd9a6a" d="M2374 656l13 34-11 1-14-31z"/><path color="#feae77" d="M2387 690l14 12-11 1-14-12z"/><path color="#feb77e" d="M2401 702l13 20-11 2-13-21z"/><path color="#fec287" d="M2414 722l14 12-11 4-14-14z"/><path color="#fed799" d="M2428 734l14 18 13 6-11 4-13-6-14-18z"/><path color="#fde0a1" d="M2455 758l14 12 14 0-11 4-14 0-14-12z"/><path color="#fed799" d="M2483 770l14 5 13 4 14 9 14 2 14 6 14 4 14-1-11 5-14 1-14-3-14-7-14-2-14-10-13-4-14-5z"/><path color="#fecc8f" d="M2580 799l14 9 14 2 14-1 14 5-11 5-14-5-14 1-14-2-14-9z"/><path color="#fec287" d="M2636 814l14 1 15 1-11 4-15-1-14 0z"/><path color="#feb77e" d="M2665 816l14-1-11 3-14 2z"/><path color="#feae77" d="M2679 815l14 3 15-5-11 2-14 6-15-3z"/><path color="#fea36f" d="M2708 813l15-5-11 1-15 6z"/><path color="#fd9a6a" d="M2723 808l14 8-11 0-14-7z"/><path color="#fc9065" d="M2737 816l15-10-10-3-16 13z"/><path color="#fb8560" d="M2752 806l15 1-10-5-15 1z"/><path color="#f97b5d" d="M2767 807l14 1-10-6-14 0z"/><path color="#c43c75" d="M2101 465l13-14-12 1-13 15z"/><path color="#b2357b" d="M2114 451l13-10-12 1-13 10z"/><path color="#a8327d" d="M2127 441l14-9-12 0-14 10z"/><path color="#962c80" d="M2141 432l13-15-12-2-13 17z"/><path color="#8e2a81" d="M2154 417l14 8 13-1-12 2-13 0-14-11z"/><path color="#862781" d="M2181 424l14-3 14 17-12 5-14-18-14 1z"/><path color="#8e2a81" d="M2209 438l14 15-12 8-14-18z"/><path color="#962c80" d="M2223 453l14 9-12 10-14-11z"/><path color="#a02f7f" d="M2237 462l14 15-12 13-14-18z"/><path color="#a8327d" d="M2251 477l14 16-12 15-14-18z"/><path color="#ba3878" d="M2265 493l14 24-11 15-15-24z"/><path color="#c43c75" d="M2279 517l14 13-11 14-14-12z"/><path color="#cc3f71" d="M2293 530l14 15-12 13-13-14z"/><path color="#d5446d" d="M2307 545l14 28-12 13-14-28z"/><path color="#e34e65" d="M2321 573l14 25-12 10-14-22z"/><path color="#f4675c" d="M2335 598l14 36-12 7-14-33z"/><path color="#f97b5d" d="M2349 634l13 26-11 4-14-23z"/><path color="#fd9a6a" d="M2362 660l14 31-11 1-14-28z"/><path color="#fea36f" d="M2376 691l14 12-12 2-13-13z"/><path color="#feae77" d="M2390 703l13 21-11 3-14-22z"/><path color="#fec287" d="M2403 724l14 14-11 3-14-14z"/><path color="#fecc8f" d="M2417 738l14 18-12 4-13-19z"/><path color="#fed799" d="M2431 756l13 6 14 12 14 0 14 5 13 4 14 10 14 2 14 7 14 3-11 6-14-3-14-7-14-3-14-10-14-5-13-4-14-1-14-12-14-6z"/><path color="#fecc8f" d="M2555 805l14-1 14 9 14 2-11 6-14-2-14-9-14 1z"/><path color="#fec287" d="M2597 815l14-1 14 5 14 0-10 5-15 0-14-5-14 2z"/><path color="#feb77e" d="M2639 819l15 1-11 4-14 0z"/><path color="#feae77" d="M2654 820l14-2 15 3-11 3-14-2-15 2z"/><path color="#fea36f" d="M2683 821l14-6-10 2-15 7z"/><path color="#fd9a6a" d="M2697 815l15-6-10 1-15 7z"/><path color="#fc9065" d="M2712 809l14 7-10-1-14-5z"/><path color="#fb8560" d="M2726 816l16-13-11-3-15 15z"/><path color="#f97b5d" d="M2742 803l15-1-11-4-15 2z"/><path color="#f7705c" d="M2757 802l14 0-10-7-15 3z"/><path color="#ba3878" d="M2089 467l13-15-12 5-12 16z"/><path color="#a8327d" d="M2102 452l13-10-12 4-13 11z"/><path color="#a02f7f" d="M2115 442l14-10-12 4-14 10z"/><path color="#8e2a81" d="M2129 432l13-17-12 4-13 17z"/><path color="#862781" d="M2142 415l14 11 13 0-12 5-13-1-14-11z"/><path color="#7c2382" d="M2169 426l14-1-12 5-14 1z"/><path color="#862781" d="M2183 425l14 18-12 7-14-20z"/><path color="#8e2a81" d="M2197 443l14 18-11 8-15-19z"/><path color="#962c80" d="M2211 461l14 11-11 10-14-13z"/><path color="#a02f7f" d="M2225 472l14 18-11 11-14-19z"/><path color="#a8327d" d="M2239 490l14 18-11 14-14-21z"/><path color="#ba3878" d="M2253 508l15 24-12 13-14-23z"/><path color="#c43c75" d="M2268 532l14 12-12 14-14-13z"/><path color="#cc3f71" d="M2282 544l13 14-11 14-14-14z"/><path color="#dc4869" d="M2295 558l14 28-11 13-14-27z"/><path color="#ea5661" d="M2309 586l14 22-11 11-14-20z"/><path color="#f4675c" d="M2323 608l14 33-11 8-14-30z"/><path color="#f97b5d" d="M2337 641l14 23-11 6-14-21z"/><path color="#fc9065" d="M2351 664l14 28-12 4-13-26z"/><path color="#fd9a6a" d="M2365 692l13 13-11 3-14-12z"/><path color="#feae77" d="M2378 705l14 22-11 3-14-22z"/><path color="#feb77e" d="M2392 727l14 14-11 2-14-13z"/><path color="#fec287" d="M2406 741l13 19-11 1-13-18z"/><path color="#fecc8f" d="M2419 760l14 6 14 12 14 1 13 4 14 5 14 10 14 3 14 7 14 3-11 2-14-3-14-8-14-3-14-11-14-6-13-3-14 0-14-12-14-6z"/><path color="#fec287" d="M2544 811l14-1 14 9 14 2 14-2-11 2-14 2-14-1-14-10-14 1z"/><path color="#feb77e" d="M2600 819l14 5 15 0-11 1-14 1-15-5z"/><path color="#feae77" d="M2629 824l14 0-11 1-14 0z"/><path color="#fea36f" d="M2643 824l15-2 14 2-11-1-14-1-15 3z"/><path color="#fd9a6a" d="M2672 824l15-7-11-2-15 8z"/><path color="#fb8560" d="M2687 817l15-7 14 5-10-3-15-5-15 8z"/><path color="#f97b5d" d="M2716 815l15-15-10-5-15 17z"/><path color="#f4675c" d="M2731 800l15-2-10-7-15 4z"/><path color="#ef5d5e" d="M2746 798l15-3-10-7-15 3z"/><path color="#ba3878" d="M2078 473l12-16-12 6-12 16z"/><path color="#a8327d" d="M2090 457l13-11-12 6-13 11z"/><path color="#962c80" d="M2103 446l14-10-12 5-14 11z"/><path color="#862781" d="M2117 436l13-17-12 5-13 17z"/><path color="#7c2382" d="M2130 419l14 11-12 6-14-12z"/><path color="#862781" d="M2144 430l13 1-11 6-14-1z"/><path color="#7c2382" d="M2157 431l14-1 14 20-11 6-15-19-13 0z"/><path color="#8e2a81" d="M2185 450l15 19-12 9-14-22z"/><path color="#962c80" d="M2200 469l14 13-12 10-14-14z"/><path color="#a02f7f" d="M2214 482l14 19-12 12-14-21z"/><path color="#b2357b" d="M2228 501l14 21-12 13-14-22z"/><path color="#ba3878" d="M2242 522l14 23-12 13-14-23z"/><path color="#cc3f71" d="M2256 545l14 13 14 14-12 13-14-14-14-13z"/><path color="#dc4869" d="M2284 572l14 27-12 13-14-27z"/><path color="#ea5661" d="M2298 599l14 20-12 11-14-18z"/><path color="#f4675c" d="M2312 619l14 30-12 9-14-28z"/><path color="#f97b5d" d="M2326 649l14 21-12 6-14-18z"/><path color="#fb8560" d="M2340 670l13 26-11 4-14-24z"/><path color="#fd9a6a" d="M2353 696l14 12-11 3-14-11z"/><path color="#fea36f" d="M2367 708l14 22-11 2-14-21z"/><path color="#feae77" d="M2381 730l14 13-12 2-13-13z"/><path color="#feb77e" d="M2395 743l13 18-11 2-14-18z"/><path color="#fec287" d="M2408 761l14 6 14 12 14 0 13 3-11-2-13-3-14 2-14-11-14-5z"/><path color="#feb77e" d="M2463 782l14 6-11-1-14-7z"/><path color="#fec287" d="M2477 788l14 11 14 3 14 8 14 3 14-1-11 1-14 2-14-4-14-8-14-4-14-12z"/><path color="#feb77e" d="M2547 812l14 10 14 1 14-2-10 1-15 3-14-2-14-10z"/><path color="#feae77" d="M2589 821l15 5 14-1-11 0-14 1-14-4z"/><path color="#fea36f" d="M2618 825l14 0-10-1-15 1z"/><path color="#fd9a6a" d="M2632 825l15-3 14 1-10-2-15 0-14 3z"/><path color="#fc9065" d="M2661 823l15-8-10-2-15 8z"/><path color="#f97b5d" d="M2676 815l15-8-10-4-15 10z"/><path color="#f7705c" d="M2691 807l15 5-11-5-14-4z"/><path color="#f4675c" d="M2706 812l15-17-10-6-16 18z"/><path color="#ea5661" d="M2721 795l15-4-10-7-15 5z"/><path color="#e34e65" d="M2736 791l15-3-10-9-15 5z"/><path color="#b2357b" d="M2066 479l12-16-12 7-12 16z"/><path color="#a02f7f" d="M2078 463l13-11-12 6-13 12z"/><path color="#962c80" d="M2091 452l14-11-12 6-14 11z"/><path color="#862781" d="M2105 441l13-17-12 5-13 18z"/><path color="#7c2382" d="M2118 424l14 12 14 1 13 0 15 19-12 7-15-20-13 0-14-2-14-12z"/><path color="#8e2a81" d="M2174 456l14 22-12 8-14-23z"/><path color="#962c80" d="M2188 478l14 14-12 10-14-16z"/><path color="#a02f7f" d="M2202 492l14 21-12 12-14-23z"/><path color="#b2357b" d="M2216 513l14 22-11 14-15-24z"/><path color="#c43c75" d="M2230 535l14 23-11 14-14-23z"/><path color="#cc3f71" d="M2244 558l14 13-11 14-14-13z"/><path color="#d5446d" d="M2258 571l14 14-11 14-14-14z"/><path color="#dc4869" d="M2272 585l14 27-11 14-14-27z"/><path color="#ea5661" d="M2286 612l14 18-11 11-14-15z"/><path color="#f4675c" d="M2300 630l14 28-11 8-14-25z"/><path color="#f7705c" d="M2314 658l14 18-11 7-14-17z"/><path color="#fb8560" d="M2328 676l14 24-11 4-14-21z"/><path color="#fc9065" d="M2342 700l14 11-12 4-13-11z"/><path color="#fd9a6a" d="M2356 711l14 21-12 3-14-20z"/><path color="#fea36f" d="M2370 732l13 13-11 1-14-11z"/><path color="#feae77" d="M2383 745l14 18-11 1-14-18z"/><path color="#feb77e" d="M2397 763l14 5 14 11 14-2-12-1-14 3-13-11-14-4z"/><path color="#feae77" d="M2439 777l13 3 14 7-11-2-14-7-14-2z"/><path color="#feb77e" d="M2466 787l14 12 14 4 14 8 14 4 14-2-11 1-14 2-14-4-14-9-14-4-14-14z"/><path color="#feae77" d="M2536 813l14 10 14 2 15-3-11 0-15 4-14-2-14-10z"/><path color="#fea36f" d="M2579 822l14 4 14-1-11 0-14 2-14-5z"/><path color="#fd9a6a" d="M2607 825l15-1-11 0-15 1z"/><path color="#fc9065" d="M2622 824l14-3-10-2-15 5z"/><path color="#fb8560" d="M2636 821l15 0-11-1-14-1z"/><path color="#f97b5d" d="M2651 821l15-8-11-3-15 10z"/><path color="#f7705c" d="M2666 813l15-10-11-3-15 10z"/><path color="#f4675c" d="M2681 803l14 4-10-4-15-3z"/><path color="#ea5661" d="M2695 807l16-18-10-6-16 20z"/><path color="#dc4869" d="M2711 789l15-5-10-7-15 6z"/><path color="#d5446d" d="M2726 784l15-5-10-8-15 6z"/><path color="#b2357b" d="M2054 486l12-16-12 6-12 17z"/><path color="#a02f7f" d="M2066 470l13-12-12 6-13 12z"/><path color="#8e2a81" d="M2079 458l14-11-12 6-14 11z"/><path color="#7c2382" d="M2093 447l13-18 14 12 14 2-13 6-13-2-14-13-13 19z"/><path color="#752181" d="M2134 443l13 0-12 6-14 0z"/><path color="#7c2382" d="M2147 443l15 20-12 7-15-21z"/><path color="#862781" d="M2162 463l14 23-12 9-14-25z"/><path color="#962c80" d="M2176 486l14 16-12 10-14-17z"/><path color="#a02f7f" d="M2190 502l14 23-11 12-15-25z"/><path color="#b2357b" d="M2204 525l15 24-12 13-14-25z"/><path color="#c43c75" d="M2219 549l14 23-12 13-14-23z"/><path color="#cc3f71" d="M2233 572l14 13-12 13-14-13z"/><path color="#d5446d" d="M2247 585l14 14-12 13-14-14z"/><path color="#e34e65" d="M2261 599l14 27-12 13-14-27z"/><path color="#ea5661" d="M2275 626l14 15-12 11-14-13z"/><path color="#f4675c" d="M2289 641l14 25-12 9-14-23z"/><path color="#f7705c" d="M2303 666l14 17-12 6-14-14z"/><path color="#f97b5d" d="M2317 683l14 21-12 4-14-19z"/><path color="#fb8560" d="M2331 704l13 11-11 3-14-10z"/><path color="#fc9065" d="M2344 715l14 20-11 3-14-20z"/><path color="#fd9a6a" d="M2358 735l14 11-11 2-14-10z"/><path color="#fea36f" d="M2372 746l14 18-12 1-13-17z"/><path color="#feae77" d="M2386 764l14 4 13 11 14-3-11-1-14 4-14-11-14-3z"/><path color="#fea36f" d="M2427 776l14 2 14 7 14 14-11-1-14-14-14-8-14-1z"/><path color="#feae77" d="M2469 799l14 4 14 9 14 4 14-2-11 1-14 2-14-3-14-11-14-5z"/><path color="#fea36f" d="M2525 814l14 10 14 2 15-4-11 1-15 4-14-2-14-10z"/><path color="#fd9a6a" d="M2568 822l14 5 14-2-11 0-14 3-14-5z"/><path color="#fc9065" d="M2596 825l15-1-11 0-15 1z"/><path color="#fb8560" d="M2611 824l15-5-11-1-15 6z"/><path color="#f97b5d" d="M2626 819l14 1-11-2-14 0z"/><path color="#f7705c" d="M2640 820l15-10-11-3-15 11z"/><path color="#ef5d5e" d="M2655 810l15-10-10-4-16 11z"/><path color="#ea5661" d="M2670 800l15 3-11-5-14-2z"/><path color="#e34e65" d="M2685 803l16-20-11-7-16 22z"/><path color="#d5446d" d="M2701 783l15-6-11-8-15 7z"/><path color="#c43c75" d="M2716 777l15-6-10-8-16 6z"/><path color="#b2357b" d="M2042 493l12-17-12 9-12 17z"/><path color="#a02f7f" d="M2054 476l13-12-12 10-13 11z"/><path color="#8e2a81" d="M2067 464l14-11-12 10-14 11z"/><path color="#7c2382" d="M2081 453l13-19-12 11-13 18z"/><path color="#752181" d="M2094 434l14 13-12 11-14-13z"/><path color="#7c2382" d="M2108 447l13 2-11 10-14-1z"/><path color="#752181" d="M2121 449l14 0-12 11-13-1z"/><path color="#7c2382" d="M2135 449l15 21-12 11-15-21z"/><path color="#862781" d="M2150 470l14 25-12 11-14-25z"/><path color="#962c80" d="M2164 495l14 17-12 12-14-18z"/><path color="#a02f7f" d="M2178 512l15 25-12 12-15-25z"/><path color="#b2357b" d="M2193 537l14 25-12 13-14-26z"/><path color="#c43c75" d="M2207 562l14 23-12 12-14-22z"/><path color="#d5446d" d="M2221 585l14 13 14 14-12 12-14-14-14-13z"/><path color="#e34e65" d="M2249 612l14 27-11 12-15-27z"/><path color="#ea5661" d="M2263 639l14 13-11 11-14-12z"/><path color="#f4675c" d="M2277 652l14 23-11 9-14-21z"/><path color="#f7705c" d="M2291 675l14 14-11 8-14-13z"/><path color="#f97b5d" d="M2305 689l14 19-11 7-14-18z"/><path color="#fb8560" d="M2319 708l14 10-12 6-13-9z"/><path color="#fc9065" d="M2333 718l14 20-12 6-14-20z"/><path color="#fd9a6a" d="M2347 738l14 10 13 17-11 4-14-16-14-9z"/><path color="#fea36f" d="M2374 765l14 3 14 11 14-4-11 5-14 4-14-11-14-4z"/><path color="#fd9a6a" d="M2416 775l14 1 14 8-11 5-14-8-14-1z"/><path color="#fea36f" d="M2444 784l14 14 14 5 14 11 14 3 14-2 14 10 14 2-11 3-14-1-14-10-14 3-14-3-14-11-14-5-14-14z"/><path color="#fd9a6a" d="M2542 827l15-4-11 3-15 4z"/><path color="#fc9065" d="M2557 823l14 5 14-3-10 2-15 3-14-4z"/><path color="#fb8560" d="M2585 825l15-1-11 1-14 2z"/><path color="#f97b5d" d="M2600 824l15-6-11 1-15 6z"/><path color="#f7705c" d="M2615 818l14 0-11 1-14 0z"/><path color="#f4675c" d="M2629 818l15-11-10 1-16 11z"/><path color="#ea5661" d="M2644 807l16-11-11 0-15 12z"/><path color="#e34e65" d="M2660 796l14 2-11 1-14-3z"/><path color="#d5446d" d="M2674 798l16-22-11 1-16 22z"/><path color="#c43c75" d="M2690 776l15-7-10 2-16 6z"/><path color="#ba3878" d="M2705 769l16-6-11 1-15 7z"/><path color="#b2357b" d="M2030 502l12-17-11 13-13 15z"/><path color="#a02f7f" d="M2042 485l13-11-11 14-13 10z"/><path color="#8e2a81" d="M2055 474l14-11-12 15-13 10z"/><path color="#862781" d="M2069 463l13-18-12 17-13 16z"/><path color="#7c2382" d="M2082 445l14 13 14 1-12 16-14-1-14-12z"/><path color="#752181" d="M2110 459l13 1-12 16-13-1z"/><path color="#7c2382" d="M2123 460l15 21-12 15-15-20z"/><path color="#8e2a81" d="M2138 481l14 25-12 14-14-24z"/><path color="#962c80" d="M2152 506l14 18-11 13-15-17z"/><path color="#a8327d" d="M2166 524l15 25-12 13-14-25z"/><path color="#ba3878" d="M2181 549l14 26-12 11-14-24z"/><path color="#cc3f71" d="M2195 575l14 22-11 12-15-23z"/><path color="#d5446d" d="M2209 597l14 13-11 11-14-12z"/><path color="#dc4869" d="M2223 610l14 14-11 11-14-14z"/><path color="#e34e65" d="M2237 624l15 27-12 10-14-26z"/><path color="#ea5661" d="M2252 651l14 12-12 10-14-12z"/><path color="#f4675c" d="M2266 663l14 21-12 11-14-22z"/><path color="#f7705c" d="M2280 684l14 13-12 11-14-13z"/><path color="#f97b5d" d="M2294 697l14 18-12 10-14-17z"/><path color="#fb8560" d="M2308 715l13 9 14 20-11 9-14-19-14-9z"/><path color="#fc9065" d="M2335 744l14 9-11 10-14-10z"/><path color="#fd9a6a" d="M2349 753l14 16-11 9-14-15z"/><path color="#fea36f" d="M2363 769l14 4 14 11 14-4-12 11-14 3-14-11-13-5z"/><path color="#fd9a6a" d="M2405 780l14 1 14 8 14 14-12 11-14-14-14-7-14-2z"/><path color="#fea36f" d="M2447 803l14 5 14 11 14 3-12 8-14-2-14-10-14-4z"/><path color="#fd9a6a" d="M2489 822l14-3 14 10 14 1-11 6-14 0-14-9-15 3z"/><path color="#fc9065" d="M2531 830l15-4-11 5-15 5z"/><path color="#fb8560" d="M2546 826l14 4 15-3-12 4-14 3-14-3z"/><path color="#f97b5d" d="M2575 827l14-2-11 3-15 3z"/><path color="#f7705c" d="M2589 825l15-6-11 3-15 6z"/><path color="#f4675c" d="M2604 819l14 0-11 4-14-1z"/><path color="#ef5d5e" d="M2618 819l16-11-12 4-15 11z"/><path color="#e34e65" d="M2634 808l15-12-11 4-16 12z"/><path color="#dc4869" d="M2649 796l14 3-11 7-14-6z"/><path color="#d5446d" d="M2663 799l16-22-11 8-16 21z"/><path color="#c43c75" d="M2679 777l16-6-12 10-15 4z"/><path color="#ba3878" d="M2695 771l15-7-12 13-15 4z"/><path color="#b2357b" d="M2018 513l13-15-12 13-13 14z"/><path color="#a02f7f" d="M2031 498l13-10-12 14-13 9z"/><path color="#962c80" d="M2044 488l13-10-12 16-13 8z"/><path color="#862781" d="M2057 478l13-16-12 16-13 16z"/><path color="#7c2382" d="M2070 462l14 12 14 1 13 1 15 20-12 15-14-20-14 0-14-1-14-12z"/><path color="#8e2a81" d="M2126 496l14 24-11 14-15-23z"/><path color="#a02f7f" d="M2140 520l15 17-12 14-14-17z"/><path color="#a8327d" d="M2155 537l14 25-12 12-14-23z"/><path color="#ba3878" d="M2169 562l14 24-11 12-15-24z"/><path color="#cc3f71" d="M2183 586l15 23-12 11-14-22z"/><path color="#d5446d" d="M2198 609l14 12-12 11-14-12z"/><path color="#dc4869" d="M2212 621l14 14-12 10-14-13z"/><path color="#e34e65" d="M2226 635l14 26-12 10-14-26z"/><path color="#ea5661" d="M2240 661l14 12-12 10-14-12z"/><path color="#f4675c" d="M2254 673l14 22-12 10-14-22z"/><path color="#f7705c" d="M2268 695l14 13-12 10-14-13z"/><path color="#f97b5d" d="M2282 708l14 17-12 11-14-18z"/><path color="#fb8560" d="M2296 725l14 9 14 19-12 10-14-19-14-8z"/><path color="#fc9065" d="M2324 753l14 10-12 9-14-9z"/><path color="#fd9a6a" d="M2338 763l14 15 13 5-11 9-14-5-14-15z"/><path color="#fea36f" d="M2365 783l14 11 14-3-11 11-14 3-14-13z"/><path color="#fd9a6a" d="M2393 791l14 2 14 7 14 14-11 10-14-12-14-7-14-3z"/><path color="#fea36f" d="M2435 814l14 4 14 10 14 2-11 8-14-1-14-9-14-4z"/><path color="#fd9a6a" d="M2477 830l15-3 14 9 14 0-11 6-15 1-14-9-14 4z"/><path color="#fc9065" d="M2520 836l15-5-12 5-14 6z"/><path color="#fb8560" d="M2535 831l14 3-11 5-15-3z"/><path color="#f97b5d" d="M2549 834l14-3-11 3-14 5z"/><path color="#f7705c" d="M2563 831l15-3-11 2-15 4z"/><path color="#f4675c" d="M2578 828l15-6-11 4-15 4z"/><path color="#ef5d5e" d="M2593 822l14 1-11 3-14 0z"/><path color="#ea5661" d="M2607 823l15-11-11 3-15 11z"/><path color="#dc4869" d="M2622 812l16-12 14 6-11 6-14-8-16 11z"/><path color="#cc3f71" d="M2652 806l16-21-11 9-16 18z"/><path color="#c43c75" d="M2668 785l15-4-11 10-15 3z"/><path color="#ba3878" d="M2683 781l15-4-11 12-15 2z"/><path color="#b2357b" d="M2006 525l13-14-12 13-13 13z"/><path color="#a8327d" d="M2019 511l13-9-12 14-13 8z"/><path color="#962c80" d="M2032 502l13-8-12 15-13 7z"/><path color="#8e2a81" d="M2045 494l13-16-12 17-13 14z"/><path color="#862781" d="M2058 478l14 12 14 1 14 0 14 20-12 15-14-19-14 0-14-1-14-11z"/><path color="#8e2a81" d="M2114 511l15 23-12 15-15-23z"/><path color="#a02f7f" d="M2129 534l14 17-12 13-14-15z"/><path color="#a8327d" d="M2143 551l14 23-12 13-14-23z"/><path color="#ba3878" d="M2157 574l15 24-12 12-15-23z"/><path color="#cc3f71" d="M2172 598l14 22-12 12-14-22z"/><path color="#d5446d" d="M2186 620l14 12-12 11-14-11z"/><path color="#dc4869" d="M2200 632l14 13-12 11-14-13z"/><path color="#e34e65" d="M2214 645l14 26-11 11-15-26z"/><path color="#ea5661" d="M2228 671l14 12-11 10-14-11z"/><path color="#f4675c" d="M2242 683l14 22-11 10-14-22z"/><path color="#f7705c" d="M2256 705l14 13-11 10-14-13z"/><path color="#f97b5d" d="M2270 718l14 18-11 10-14-18z"/><path color="#fb8560" d="M2284 736l14 8 14 19-11 9-14-18-14-8z"/><path color="#fc9065" d="M2312 763l14 9-11 9-14-9z"/><path color="#fd9a6a" d="M2326 772l14 15 14 5-11 10-14-6-14-15z"/><path color="#fea36f" d="M2354 792l14 13 14-3-12 12-14 1-13-13z"/><path color="#fd9a6a" d="M2382 802l14 3 14 7 14 12-12 11-14-12-14-6-14-3z"/><path color="#fea36f" d="M2424 824l14 4 14 9 14 1-11 9-14-1-15-8-14-3z"/><path color="#fd9a6a" d="M2466 838l14-4-11 7-14 6z"/><path color="#fc9065" d="M2480 834l14 9 15-1-12 6-14 2-14-9z"/><path color="#fb8560" d="M2509 842l14-6-11 5-15 7z"/><path color="#f97b5d" d="M2523 836l15 3-12 4-14-2z"/><path color="#f7705c" d="M2538 839l14-5-11 4-15 5z"/><path color="#f4675c" d="M2552 834l15-4-11 3-15 5z"/><path color="#ef5d5e" d="M2567 830l15-4 14 0-11 4-15-1-14 4z"/><path color="#e34e65" d="M2596 826l15-11-11 4-15 11z"/><path color="#dc4869" d="M2611 815l16-11-12 5-15 10z"/><path color="#d5446d" d="M2627 804l14 8-11 7-15-10z"/><path color="#cc3f71" d="M2641 812l16-18-12 8-15 17z"/><path color="#ba3878" d="M2657 794l15-3 15-2-12 13-15 0-15 0zM1994 537l13-13-12 14-13 11z"/><path color="#a8327d" d="M2007 524l13-8-12 15-13 7z"/><path color="#a02f7f" d="M2020 516l13-7-12 16-13 6z"/><path color="#8e2a81" d="M2033 509l13-14 14 11 14 1-12 17-13-1-15-10-13 12z"/><path color="#862781" d="M2074 507l14 0 14 19-12 16-14-19-14 1z"/><path color="#962c80" d="M2102 526l15 23-12 15-15-22z"/><path color="#a02f7f" d="M2117 549l14 15-12 14-14-14z"/><path color="#b2357b" d="M2131 564l14 23-11 13-15-22z"/><path color="#ba3878" d="M2145 587l15 23-12 12-14-22z"/><path color="#cc3f71" d="M2160 610l14 22-12 12-14-22z"/><path color="#d5446d" d="M2174 632l14 11-12 12-14-11z"/><path color="#dc4869" d="M2188 643l14 13-11 11-15-12z"/><path color="#e34e65" d="M2202 656l15 26-12 10-14-25z"/><path color="#ea5661" d="M2217 682l14 11-12 11-14-12z"/><path color="#f4675c" d="M2231 693l14 22-12 11-14-22z"/><path color="#f7705c" d="M2245 715l14 13-12 11-14-13z"/><path color="#f97b5d" d="M2259 728l14 18-12 11-14-18z"/><path color="#fb8560" d="M2273 746l14 8 14 18-12 10-14-17-14-8z"/><path color="#fc9065" d="M2301 772l14 9-12 10-14-9z"/><path color="#fd9a6a" d="M2315 781l14 15 14 6-12 10-14-7-14-14z"/><path color="#fea36f" d="M2343 802l13 13 14-1-11 11-14 1-14-14z"/><path color="#fd9a6a" d="M2370 814l14 3 14 6 14 12-11 11-14-12-14-5-14-4z"/><path color="#fea36f" d="M2412 835l14 3 15 8-12 9-14-7-14-2z"/><path color="#fd9a6a" d="M2441 846l14 1-12 9-14-1z"/><path color="#fc9065" d="M2455 847l14-6 14 9 14-2-11 8-14 2-14-8-15 6z"/><path color="#fb8560" d="M2497 848l15-7-11 7-15 8z"/><path color="#f97b5d" d="M2512 841l14 2-11 7-14-2z"/><path color="#f7705c" d="M2526 843l15-5-11 6-15 6z"/><path color="#f4675c" d="M2541 838l15-5-12 6-14 5z"/><path color="#ef5d5e" d="M2556 833l14-4-11 6-15 4z"/><path color="#ea5661" d="M2570 829l15 1-11 7-15-2z"/><path color="#e34e65" d="M2585 830l15-11-11 7-15 11z"/><path color="#d5446d" d="M2600 819l15-10 15 10-12 9-14-12-15 10z"/><path color="#cc3f71" d="M2630 819l15-17-11 11-16 15z"/><path color="#ba3878" d="M2645 802l15 0 15 0-11 13-15-1-15-1zM1982 549l13-11-12 16-13 9z"/><path color="#b2357b" d="M1995 538l13-7-11 18-14 5z"/><path color="#a8327d" d="M2008 531l13-6-11 19-13 5z"/><path color="#962c80" d="M2021 525l13-12 15 10 13 1-11 21-14-1-14-10-13 10z"/><path color="#8e2a81" d="M2062 524l14-1 14 19-11 21-15-18-13 0z"/><path color="#a02f7f" d="M2090 542l15 22-12 19-14-20z"/><path color="#a8327d" d="M2105 564l14 14-12 18-14-13z"/><path color="#b2357b" d="M2119 578l15 22-12 16-15-20z"/><path color="#c43c75" d="M2134 600l14 22-12 15-14-21z"/><path color="#cc3f71" d="M2148 622l14 22-11 14-15-21z"/><path color="#d5446d" d="M2162 644l14 11-11 13-14-10z"/><path color="#dc4869" d="M2176 655l15 12-12 13-14-12z"/><path color="#e34e65" d="M2191 667l14 25-12 13-14-25z"/><path color="#ef5d5e" d="M2205 692l14 12-12 13-14-12z"/><path color="#f4675c" d="M2219 704l14 22-12 13-14-22z"/><path color="#f7705c" d="M2233 726l14 13-12 13-14-13z"/><path color="#f97b5d" d="M2247 739l14 18-11 12-15-17z"/><path color="#fb8560" d="M2261 757l14 8 14 17-12 12-14-17-13-8z"/><path color="#fc9065" d="M2289 782l14 9-12 11-14-8z"/><path color="#fd9a6a" d="M2303 791l14 14 14 7-12 11-14-7-14-14z"/><path color="#fea36f" d="M2331 812l14 14 14-1-12 12-14 0-14-14z"/><path color="#fd9a6a" d="M2359 825l14 4 14 5-12 13-14-5-14-5z"/><path color="#fea36f" d="M2387 834l14 12 14 2 14 7-11 13-15-7-14-3-14-11z"/><path color="#fd9a6a" d="M2429 855l14 1 15-6-12 14-14 5-14-1z"/><path color="#fc9065" d="M2458 850l14 8 14-2-12 15-14 1-14-8z"/><path color="#fb8560" d="M2486 856l15-8-12 16-15 7z"/><path color="#f97b5d" d="M2501 848l14 2-12 16-14-2z"/><path color="#f7705c" d="M2515 850l15-6-12 16-15 6z"/><path color="#f4675c" d="M2530 844l14-5-11 17-15 4z"/><path color="#ef5d5e" d="M2544 839l15-4-12 17-14 4z"/><path color="#ea5661" d="M2559 835l15 2-12 18-15-3z"/><path color="#e34e65" d="M2574 837l15-11-12 19-15 10z"/><path color="#d5446d" d="M2589 826l15-10 14 12-12 19-14-12-15 10z"/><path color="#cc3f71" d="M2618 828l16-15-12 19-16 15z"/><path color="#c43c75" d="M2634 813l15 1-12 19-15-1z"/><path color="#ba3878" d="M2649 814l15 1-12 20-15-2z"/><path color="#c43c75" d="M1970 563l13-9-11 16-13 8z"/><path color="#b2357b" d="M1983 554l14-5-12 17-13 4z"/><path color="#a8327d" d="M1997 549l13-5-12 20-13 2z"/><path color="#a02f7f" d="M2010 544l13-10 14 10 14 1-12 21-14-1-14-10-13 9z"/><path color="#962c80" d="M2051 545l13 0 15 18-12 21-14-18-14 0z"/><path color="#a8327d" d="M2079 563l14 20-11 20-15-19z"/><path color="#b2357b" d="M2093 583l14 13-11 18-14-11z"/><path color="#ba3878" d="M2107 596l15 20-12 17-14-19z"/><path color="#c43c75" d="M2122 616l14 21-12 15-14-19z"/><path color="#d5446d" d="M2136 637l15 21-12 14-15-20z"/><path color="#dc4869" d="M2151 658l14 10 14 12-12 13-14-11-14-10z"/><path color="#e34e65" d="M2179 680l14 25-12 12-14-24z"/><path color="#ef5d5e" d="M2193 705l14 12-12 12-14-12z"/><path color="#f4675c" d="M2207 717l14 22-11 12-15-22z"/><path color="#f7705c" d="M2221 739l14 13-11 12-14-13z"/><path color="#f97b5d" d="M2235 752l15 17-12 13-14-18z"/><path color="#fb8560" d="M2250 769l13 8-11 12-14-7z"/><path color="#fc9065" d="M2263 777l14 17 14 8-11 11-14-8-14-16z"/><path color="#fd9a6a" d="M2291 802l14 14 14 7-11 11-14-8-14-13z"/><path color="#fea36f" d="M2319 823l14 14 14 0 14 5 14 5 14 11 14 3 15 7 14 1-12 13-14-1-14-8-14-2-14-11-14-6-14-5-14 0-14-15z"/><path color="#fd9a6a" d="M2432 869l14-5-12 14-14 4z"/><path color="#fc9065" d="M2446 864l14 8 14-1-11 15-14 0-15-8z"/><path color="#fb8560" d="M2474 871l15-7-12 15-14 7z"/><path color="#f97b5d" d="M2489 864l14 2 15-6-12 17-14 5-15-3z"/><path color="#f4675c" d="M2518 860l15-4-12 17-15 4z"/><path color="#ef5d5e" d="M2533 856l14-4 15 3-12 18-14-3-15 3z"/><path color="#ea5661" d="M2562 855l15-10-12 19-15 9z"/><path color="#dc4869" d="M2577 845l15-10 14 12-11 19-15-11-15 9z"/><path color="#d5446d" d="M2606 847l16-15-12 20-15 14z"/><path color="#cc3f71" d="M2622 832l15 1-12 20-15-1z"/><path color="#c43c75" d="M2637 833l15 2-12 19-15-1zM1959 578l13-8-12 16-13 6z"/><path color="#ba3878" d="M1972 570l13-4-12 18-13 2z"/><path color="#b2357b" d="M1985 566l13-2-11 19-14 1z"/><path color="#a8327d" d="M1998 564l13-9 14 10 14 1-12 21-13-1-14-10-13 7z"/><path color="#a02f7f" d="M2039 566l14 0-12 22-14-1z"/><path color="#a8327d" d="M2053 566l14 18-11 21-15-17z"/><path color="#b2357b" d="M2067 584l15 19-12 19-14-17z"/><path color="#ba3878" d="M2082 603l14 11 14 19-12 16-14-17-14-10z"/><path color="#cc3f71" d="M2110 633l14 19-11 14-15-17z"/><path color="#d5446d" d="M2124 652l15 20-12 14-14-20z"/><path color="#dc4869" d="M2139 672l14 10-12 14-14-10z"/><path color="#e34e65" d="M2153 682l14 11-12 13-14-10z"/><path color="#ea5661" d="M2167 693l14 24-11 13-15-24z"/><path color="#ef5d5e" d="M2181 717l14 12-11 13-14-12z"/><path color="#f4675c" d="M2195 729l15 22-12 13-14-22z"/><path color="#f7705c" d="M2210 751l14 13-12 13-14-13z"/><path color="#f97b5d" d="M2224 764l14 18-12 12-14-17z"/><path color="#fb8560" d="M2238 782l14 7-12 12-14-7z"/><path color="#fc9065" d="M2252 789l14 16 14 8-12 11-14-7-14-16z"/><path color="#fd9a6a" d="M2280 813l14 13 14 8-12 11-14-8-14-13z"/><path color="#fea36f" d="M2308 834l14 15 14 0 14 5 14 6 14 11 14 2 14 8 14 1-11 13-15-2-14-7-14-2-14-12-14-5-14-6-14 0-14-16z"/><path color="#fd9a6a" d="M2420 882l14-4 15 8 14 0-12 14-14 1-14-9-14 3z"/><path color="#fc9065" d="M2463 886l14-7-11 16-15 5z"/><path color="#fb8560" d="M2477 879l15 3-12 16-14-3z"/><path color="#f97b5d" d="M2492 882l14-5-11 16-15 5z"/><path color="#f7705c" d="M2506 877l15-4-12 17-14 3z"/><path color="#f4675c" d="M2521 873l15-3 14 3-12 18-14-3-15 2z"/><path color="#ef5d5e" d="M2550 873l15-9-12 19-15 8z"/><path color="#e34e65" d="M2565 864l15-9 15 11-12 19-15-11-15 9z"/><path color="#dc4869" d="M2595 866l15-14-12 19-15 14z"/><path color="#d5446d" d="M2610 852l15 1-12 19-15-1z"/><path color="#cc3f71" d="M2625 853l15 1-12 19-15-1z"/><path color="#c43c75" d="M1947 592l13-6-12 12-13 5z"/><path color="#ba3878" d="M1960 586l13-2 14-1-12 15-14 0-13 0z"/><path color="#b2357b" d="M1987 583l13-7 14 10 13 1-11 18-14-2-14-11-13 6z"/><path color="#a8327d" d="M2027 587l14 1-12 18-13-1z"/><path color="#b2357b" d="M2041 588l15 17-12 19-15-18z"/><path color="#ba3878" d="M2056 605l14 17 14 10-12 18-14-10-14-16z"/><path color="#c43c75" d="M2084 632l14 17-11 17-15-16z"/><path color="#cc3f71" d="M2098 649l15 17-12 17-14-17z"/><path color="#dc4869" d="M2113 666l14 20 14 10-12 15-14-9-14-19z"/><path color="#e34e65" d="M2141 696l14 10-12 16-14-11z"/><path color="#ea5661" d="M2155 706l15 24-12 14-15-22z"/><path color="#ef5d5e" d="M2170 730l14 12-12 14-14-12z"/><path color="#f4675c" d="M2184 742l14 22-12 13-14-21z"/><path color="#f97b5d" d="M2198 764l14 13-12 13-14-13z"/><path color="#fb8560" d="M2212 777l14 17 14 7-12 12-14-6-14-17z"/><path color="#fc9065" d="M2240 801l14 16 14 7-12 12-14-7-14-16z"/><path color="#fd9a6a" d="M2268 824l14 13 14 8-11 13-14-9-15-13z"/><path color="#fea36f" d="M2296 845l14 16 14 0 14 6 14 5 14 12-11 15-14-12-14-5-14-7-14-1-14-16z"/><path color="#feae77" d="M2366 884l14 2-11 16-14-3z"/><path color="#fea36f" d="M2380 886l14 7 15 2 14-3-12 17-14 4-14-3-14-8z"/><path color="#fd9a6a" d="M2423 892l14 9 14-1-11 19-15 0-14-10z"/><path color="#fc9065" d="M2451 900l15-5 14 3-12 19-14-3-14 5z"/><path color="#fb8560" d="M2480 898l15-5-12 21-15 3z"/><path color="#f97b5d" d="M2495 893l14-3-12 21-14 3z"/><path color="#f7705c" d="M2509 890l15-2-12 21-15 2z"/><path color="#f4675c" d="M2524 888l14 3 15-8-12 21-14 8-15-3z"/><path color="#ea5661" d="M2553 883l15-9 15 11-12 21-15-10-15 8z"/><path color="#e34e65" d="M2583 885l15-14-12 22-15 13z"/><path color="#dc4869" d="M2598 871l15 1-12 22-15-1z"/><path color="#d5446d" d="M2613 872l15 1-12 22-15-1z"/><path color="#c43c75" d="M1935 603l13-5 13 0-12 13-13-1-14 3z"/><path color="#ba3878" d="M1961 598l14 0-12 15-14-2z"/><path color="#b2357b" d="M1975 598l13-6 14 11 14 2 13 1 15 18-12 19-14-18-14-2-14-2-14-12-13 4z"/><path color="#c43c75" d="M2044 624l14 16 14 10-12 18-14-9-14-16z"/><path color="#cc3f71" d="M2072 650l15 16-12 18-15-16z"/><path color="#d5446d" d="M2087 666l14 17-12 17-14-16z"/><path color="#dc4869" d="M2101 683l14 19-12 16-14-18z"/><path color="#e34e65" d="M2115 702l14 9 14 11-11 15-14-10-15-9z"/><path color="#ef5d5e" d="M2143 722l15 22-12 15-14-22z"/><path color="#f4675c" d="M2158 744l14 12-12 14-14-11z"/><path color="#f7705c" d="M2172 756l14 21-12 14-14-21z"/><path color="#f97b5d" d="M2186 777l14 13-11 13-15-12z"/><path color="#fb8560" d="M2200 790l14 17 14 6-11 13-14-7-14-16z"/><path color="#fc9065" d="M2228 813l14 16-11 13-14-16z"/><path color="#fd9a6a" d="M2242 829l14 7 15 13-12 13-14-13-14-7z"/><path color="#fea36f" d="M2271 849l14 9 14 16-12 14-14-17-14-9z"/><path color="#feae77" d="M2299 874l14 1-12 15-14-2z"/><path color="#fea36f" d="M2313 875l14 7-12 14-14-6z"/><path color="#feae77" d="M2327 882l14 5 14 12 14 3 14 8 14 3-12 17-14-3-14-9-14-3-14-12-14-7z"/><path color="#fea36f" d="M2397 913l14-4 14 10 15 0-12 19-14-1-14-9-15 2z"/><path color="#fd9a6a" d="M2440 919l14-5 14 3-11 20-15-3-14 4z"/><path color="#fc9065" d="M2468 917l15-3-12 20-14 3z"/><path color="#fb8560" d="M2483 914l14-3-11 21-15 2z"/><path color="#f97b5d" d="M2497 911l15-2-12 21-14 2z"/><path color="#f7705c" d="M2512 909l15 3 14-8-12 21-14 8-15-3z"/><path color="#ef5d5e" d="M2541 904l15-8 15 10-12 21-15-10-15 8z"/><path color="#ea5661" d="M2571 906l15-13-12 21-15 13z"/><path color="#e34e65" d="M2586 893l15 1-12 21-15-1z"/><path color="#dc4869" d="M2601 894l15 1-12 21-15-1z"/><path color="#cc3f71" d="M1922 613l14-3-12 12-14 1z"/><path color="#c43c75" d="M1936 610l13 1 14 2-12 15-14-3-13-3z"/><path color="#ba3878" d="M1963 613l13-4 14 12 14 2 14 2 14 18-12 19-14-19-14-2-14-3-14-12-13 2z"/><path color="#c43c75" d="M2032 643l14 16-11 18-15-15z"/><path color="#cc3f71" d="M2046 659l14 9-11 18-14-9z"/><path color="#d5446d" d="M2060 668l15 16-12 17-14-15z"/><path color="#dc4869" d="M2075 684l14 16-12 17-14-16z"/><path color="#e34e65" d="M2089 700l14 18-11 16-15-17z"/><path color="#ea5661" d="M2103 718l15 9 14 10-12 15-14-9-14-9z"/><path color="#ef5d5e" d="M2132 737l14 22-12 15-14-22z"/><path color="#f4675c" d="M2146 759l14 11-12 14-14-10z"/><path color="#f7705c" d="M2160 770l14 21-11 13-15-20z"/><path color="#f97b5d" d="M2174 791l15 12-12 13-14-12z"/><path color="#fb8560" d="M2189 803l14 16-12 13-14-16z"/><path color="#fc9065" d="M2203 819l14 7 14 16-12 13-14-17-14-6z"/><path color="#fd9a6a" d="M2231 842l14 7 14 13-12 12-14-12-14-7z"/><path color="#fea36f" d="M2259 862l14 9-12 14-14-11z"/><path color="#feae77" d="M2273 871l14 17 14 2 14 6 14 7 14 12-12 16-14-13-14-7-14-7-14-3-14-16z"/><path color="#feb77e" d="M2343 915l14 3 14 9 14 3-11 17-14-3-15-9-14-4z"/><path color="#feae77" d="M2385 930l15-2 14 9 14 1-12 19-14-1-14-10-14 1z"/><path color="#fea36f" d="M2428 938l14-4-11 19-15 4z"/><path color="#fd9a6a" d="M2442 934l15 3 14-3-12 21-14 3-14-5z"/><path color="#fc9065" d="M2471 934l15-2-12 22-15 1z"/><path color="#fb8560" d="M2486 932l14-2 15 3-12 21-15-3-14 3z"/><path color="#f97b5d" d="M2515 933l14-8-11 22-15 7z"/><path color="#f4675c" d="M2529 925l15-8 15 10-12 22-15-10-14 8z"/><path color="#ef5d5e" d="M2559 927l15-13-12 22-15 13z"/><path color="#ea5661" d="M2574 914l15 1-12 22-15-1z"/><path color="#e34e65" d="M2589 915l15 1-12 22-15-1z"/><path color="#cc3f71" d="M1910 623l14-1-12 12-14-1z"/><path color="#c43c75" d="M1924 622l13 3 14 3 13-2 14 12 14 3 14 2 14 19-11 20-15-19-14-2-13-4-14-12-14 0-14-6-13-5z"/><path color="#cc3f71" d="M2020 662l15 15-12 20-14-15z"/><path color="#d5446d" d="M2035 677l14 9-12 19-14-8z"/><path color="#dc4869" d="M2049 686l14 15 14 16-11 19-15-16-14-15z"/><path color="#ea5661" d="M2077 717l15 17 14 9-12 19-14-9-14-17z"/><path color="#ef5d5e" d="M2106 743l14 9-12 19-14-9z"/><path color="#f4675c" d="M2120 752l14 22-11 18-15-21z"/><path color="#f7705c" d="M2134 774l14 10-11 18-14-10z"/><path color="#f97b5d" d="M2148 784l15 20-12 17-14-19z"/><path color="#fb8560" d="M2163 804l14 12 14 16-12 16-14-16-14-11z"/><path color="#fc9065" d="M2191 832l14 6-12 16-14-6z"/><path color="#fd9a6a" d="M2205 838l14 17 14 7-12 14-14-7-14-15z"/><path color="#fea36f" d="M2233 862l14 12 14 11-12 14-14-11-14-12z"/><path color="#feae77" d="M2261 885l14 16 14 3 14 7-11 17-14-9-14-3-15-17z"/><path color="#feb77e" d="M2303 911l14 7 14 13 14 4 15 9 14 3 14-1 14 10 14 1-11 20-15-2-14-11-14 1-14-5-14-9-14-4-14-12-14-7z"/><path color="#feae77" d="M2416 957l15-4-12 21-14 3z"/><path color="#fea36f" d="M2431 953l14 5 14-3-11 22-15 2-14-5z"/><path color="#fd9a6a" d="M2459 955l15-1-12 22-14 1z"/><path color="#fc9065" d="M2474 954l14-3 15 3-12 23-15-3-14 2z"/><path color="#fb8560" d="M2503 954l15-7-12 22-15 8z"/><path color="#f7705c" d="M2518 947l14-8 15 10-12 22-15-9-14 7z"/><path color="#f4675c" d="M2547 949l15-13-12 22-15 13z"/><path color="#ef5d5e" d="M2562 936l15 1-12 21-15 0z"/><path color="#ea5661" d="M2577 937l15 1-12 20-15 0z"/><path color="#cc3f71" d="M1898 633l14 1 13 5 14 6 14 0 14 12 13 4 14 2 15 19-12 20-15-19-13-2-14-4-14-12-14-2-14-8-14-8-13-3z"/><path color="#d5446d" d="M2009 682l14 15-12 20-14-15z"/><path color="#dc4869" d="M2023 697l14 8 14 15-11 20-15-14-14-9z"/><path color="#e34e65" d="M2051 720l15 16-12 20-14-16z"/><path color="#ef5d5e" d="M2066 736l14 17 14 9-12 20-14-9-14-17z"/><path color="#f4675c" d="M2094 762l14 9-12 20-14-9z"/><path color="#f7705c" d="M2108 771l15 21-12 20-15-21z"/><path color="#f97b5d" d="M2123 792l14 10 14 19-12 18-14-18-14-9z"/><path color="#fb8560" d="M2151 821l14 11-12 18-14-11z"/><path color="#fc9065" d="M2165 832l14 16-12 16-14-14z"/><path color="#fd9a6a" d="M2179 848l14 6 14 15-11 15-15-14-14-6z"/><path color="#fea36f" d="M2207 869l14 7 14 12-11 14-14-12-14-6z"/><path color="#feae77" d="M2235 888l14 11 15 17-12 15-14-18-14-11z"/><path color="#feb77e" d="M2264 916l14 3 14 9 14 7-12 16-14-7-14-9-14-4z"/><path color="#fec287" d="M2306 935l14 12 14 4 14 9 14 5 14-1 14 11 15 2-12 20-14-3-14-11-15-1-14-5-14-9-14-4-14-13z"/><path color="#feb77e" d="M2405 977l14-3 14 5-12 21-14-5-14 2z"/><path color="#feae77" d="M2433 979l15-2-12 23-15 0z"/><path color="#fea36f" d="M2448 977l14-1 14-2-11 23-15 3-14 0z"/><path color="#fd9a6a" d="M2476 974l15 3-12 23-14-3z"/><path color="#fc9065" d="M2491 977l15-8-12 24-15 7z"/><path color="#fb8560" d="M2506 969l14-7-11 24-15 7z"/><path color="#f97b5d" d="M2520 962l15 9-12 22-14-7z"/><path color="#f7705c" d="M2535 971l15-13-12 22-15 13z"/><path color="#f4675c" d="M2550 958l15 0-12 21-15 1z"/><path color="#ef5d5e" d="M2565 958l15 0-12 21-15 0z"/><path color="#cc3f71" d="M1886 644l13 3 14 8 14 8 14 2-12 20-14-5-14-9-14-10-13-5z"/><path color="#d5446d" d="M1941 665l14 12 14 4 13 2 15 19-11 23-15-19-14-3-14-5-14-13z"/><path color="#dc4869" d="M1997 702l14 15-11 23-14-15z"/><path color="#e34e65" d="M2011 717l14 9-11 22-14-8z"/><path color="#ea5661" d="M2025 726l15 14-12 23-14-15z"/><path color="#ef5d5e" d="M2040 740l14 16-12 22-14-15z"/><path color="#f4675c" d="M2054 756l14 17 14 9-11 21-14-8-15-17z"/><path color="#f7705c" d="M2082 782l14 9-11 22-14-10z"/><path color="#f97b5d" d="M2096 791l15 21-12 21-14-20z"/><path color="#fb8560" d="M2111 812l14 9 14 18-11 21-15-18-14-9z"/><path color="#fc9065" d="M2139 839l14 11-11 20-14-10z"/><path color="#fd9a6a" d="M2153 850l14 14 14 6-11 19-14-4-14-15z"/><path color="#fea36f" d="M2181 870l15 14 14 6 14 12-12 17-14-11-14-5-14-14z"/><path color="#feae77" d="M2224 902l14 11-12 18-14-12z"/><path color="#feb77e" d="M2238 913l14 18-12 17-14-17z"/><path color="#fec287" d="M2252 931l14 4 14 9 14 7 14 13 14 4-12 17-14-4-14-13-14-7-14-9-14-4z"/><path color="#fecc8f" d="M2322 968l14 9 14 5-11 18-14-6-15-9z"/><path color="#fec287" d="M2350 982l15 1 14 11-12 17-14-11-14 0z"/><path color="#fecc8f" d="M2379 994l14 3-12 18-14-4z"/><path color="#fec287" d="M2393 997l14-2 14 5-11 20-15-6-14 1z"/><path color="#feb77e" d="M2421 1000l15 0 14 0-12 21-14-1-14 0z"/><path color="#feae77" d="M2450 1000l15-3-12 22-15 2z"/><path color="#fea36f" d="M2465 997l14 3-12 22-14-3z"/><path color="#fd9a6a" d="M2479 1000l15-7-12 23-15 6z"/><path color="#fc9065" d="M2494 993l15-7-12 23-15 7z"/><path color="#fb8560" d="M2509 986l14 7-12 23-14-7z"/><path color="#f97b5d" d="M2523 993l15-13-12 22-15 14z"/><path color="#f7705c" d="M2538 980l15-1-12 22-15 1z"/><path color="#f4675c" d="M2553 979l15 0-12 20-15 2z"/><path color="#cc3f71" d="M1874 656l13 5-12 15-13-6z"/><path color="#d5446d" d="M1887 661l14 10 14 9 14 5-11 20-14-6-14-11-15-12z"/><path color="#dc4869" d="M1929 685l14 13 14 5 14 3-11 26-14-6-14-7-14-14z"/><path color="#e34e65" d="M1971 706l15 19-12 27-14-20z"/><path color="#ea5661" d="M1986 725l14 15 14 8-12 25-14-8-14-13z"/><path color="#ef5d5e" d="M2014 748l14 15-11 24-15-14z"/><path color="#f4675c" d="M2028 763l14 15-11 23-14-14z"/><path color="#f7705c" d="M2042 778l15 17-12 22-14-16z"/><path color="#f97b5d" d="M2057 795l14 8 14 10-12 23-14-10-14-9z"/><path color="#fb8560" d="M2085 813l14 20-11 23-15-20z"/><path color="#fc9065" d="M2099 833l14 9-11 23-14-9z"/><path color="#fd9a6a" d="M2113 842l15 18 14 10-12 23-14-10-14-18z"/><path color="#fea36f" d="M2142 870l14 15 14 4-12 23-14-5-14-14z"/><path color="#feae77" d="M2170 889l14 14 14 5 14 11-12 20-14-10-14-5-14-12z"/><path color="#feb77e" d="M2212 919l14 12-12 19-14-11z"/><path color="#fec287" d="M2226 931l14 17 14 4 14 9 14 7-11 17-14-7-14-8-14-4-15-16z"/><path color="#fecc8f" d="M2282 968l14 13 14 4 15 9 14 6 14 0 14 11 14 4 14-1-11 18-15 0-14-4-14-11-14-1-14-5-14-9-14-5-14-12z"/><path color="#fec287" d="M2395 1014l15 6 14 0 14 1-11 20-15-2-14-1-14-6z"/><path color="#feb77e" d="M2438 1021l15-2-12 21-14 1z"/><path color="#feae77" d="M2453 1019l14 3 15-6-12 22-15 5-14-3z"/><path color="#fd9a6a" d="M2482 1016l15-7 14 7-12 22-14-5-15 5z"/><path color="#fc9065" d="M2511 1016l15-14-12 22-15 14z"/><path color="#f97b5d" d="M2526 1002l15-1-12 21-15 2z"/><path color="#f7705c" d="M2541 1001l15-2-12 21-15 2z"/><path color="#e34e65" d="M1862 670l13 6 15 12-9 59-14-10-14-6z"/><path color="#ea5661" d="M1890 688l14 11 14 6-10 59-13-6-14-11z"/><path color="#ef5d5e" d="M1918 705l14 14 14 7 14 6-10 55-14-5-13-6-15-12z"/><path color="#f4675c" d="M1960 732l14 20-10 52-14-17z"/><path color="#f7705c" d="M1974 752l14 13 14 8 15 14-11 44-14-10-14-6-14-11z"/><path color="#f97b5d" d="M2017 787l14 14-11 42-14-12z"/><path color="#fb8560" d="M2031 801l14 16-10 40-15-14z"/><path color="#fc9065" d="M2045 817l14 9 14 10-11 36-14-8-13-7z"/><path color="#fd9a6a" d="M2073 836l15 20-11 34-15-18z"/><path color="#fea36f" d="M2088 856l14 9 14 18-11 30-14-15-14-8z"/><path color="#feae77" d="M2116 883l14 10-11 30-14-10z"/><path color="#feb77e" d="M2130 893l14 14 14 5 14 12 14 5-11 25-14-4-14-11-14-4-14-12z"/><path color="#fec287" d="M2186 929l14 10 14 11-11 22-14-10-14-8z"/><path color="#fecc8f" d="M2214 950l15 16 14 4 14 8 14 7-12 19-14-6-14-8-14-3-14-15z"/><path color="#fed799" d="M2271 985l14 12 14 5 14 9 14 5 14 1 14 11 14 4 15 0-12 19-14-1-14-4-15-11-14-1-14-5-14-9-14-4-14-12z"/><path color="#fecc8f" d="M2384 1032l14 6 14 1 15 2-12 22-15-3-14-2-14-7z"/><path color="#fec287" d="M2427 1041l14-1 14 3-12 24-14-4-14 0z"/><path color="#feb77e" d="M2455 1043l15-5-12 26-15 3z"/><path color="#feae77" d="M2470 1038l15-5-12 27-15 4z"/><path color="#fea36f" d="M2485 1033l14 5-12 27-14-5z"/><path color="#fd9a6a" d="M2499 1038l15-14-12 28-15 13z"/><path color="#fc9065" d="M2514 1024l15-2-12 27-15 3z"/><path color="#fb8560" d="M2529 1022l15-2-12 27-15 2z"/><path color="#fd9a6a" d="M1853 731l14 6 14 10-5 112-14-7-13-3z"/><path color="#fea36f" d="M1881 747l14 11 13 6 15 12 13 6 14 5 14 17-7 84-14-10-14-1-13-2-14-7-13-3-13-6z"/><path color="#feae77" d="M1964 804l14 11 14 6 14 10 14 12 15 14-10 59-14-9-14-6-13-6-14-1-13-6z"/><path color="#feb77e" d="M2035 857l13 7 14 8 15 18-11 47-14-13-13-4-14-4z"/><path color="#fec287" d="M2077 890l14 8 14 15-11 41-14-12-14-5z"/><path color="#fecc8f" d="M2105 913l14 10 14 12 14 4 14 11 14 4 14 8 14 10-12 26-14-9-14-6-13-2-14-9-14-2-14-10-14-6z"/><path color="#fed799" d="M2203 972l14 15 14 3 14 8 14 6-12 22-14-5-14-7-14-2-14-14z"/><path color="#fde0a1" d="M2259 1004l14 12 14 4 14 9 14 5 14 1 15 11 14 4-12 19-14-4-14-10-14-2-14-5-15-8-14-3-14-11z"/><path color="#fed799" d="M2358 1050l14 1 14 7 14 2 15 3-12 23-14-4-15-3-14-8-14-2z"/><path color="#fecc8f" d="M2415 1063l14 0 14 4 15-3-12 29-14 1-15-6-14-2z"/><path color="#fec287" d="M2458 1064l15-4-12 32-15 1z"/><path color="#feb77e" d="M2473 1060l14 5-12 32-14-5z"/><path color="#feae77" d="M2487 1065l15-13-12 34-15 11z"/><path color="#fea36f" d="M2502 1052l15-3-13 35-14 2z"/><path color="#fd9a6a" d="M2517 1049l15-2-13 36-15 1z"/><path color="#fde0a1" d="M1849 849l13 3 14 7 13 6 13 3 14 7 13 2-10 34-14-4-13-4-13-4-14-4-13-4-13-4z"/><path color="#fed799" d="M1929 877l14 1 14 10 13 6 14 1 13 6 14 6 14 9 14 4 13 4 14 13 14 5 14 12-11 19-14-7-14-6-14-6-14-6-13-6-14-6-14-4-13-4-14-4-13-4-14-5-13-4z"/><path color="#fde0a1" d="M2094 954l14 6 14 10 14 2 14 9 13 2 14 6 14 9 14 14 14 2 14 7 14 5 14 11 14 3 15 8 14 5 14 2 14 10 14 4 14 2 14 8 15 3 14 4 14 2-12 22-14-4-14-5-14-6-15-5-14-5-14-6-14-6-14-6-14-6-14-6-14-6-14-6-14-6-14-7-14-7-14-6-14-7-14-6-14-6-14-6-14-6-14-6-13-7z"/><path color="#fed799" d="M2417 1088l15 6 14-1 15-1-12 29-15-4-14-4-15-3z"/><path color="#fecc8f" d="M2461 1092l14 5-12 23-14 1z"/><path color="#fec287" d="M2475 1097l15-11-12 32-15 2z"/><path color="#feb77e" d="M2490 1086l14-2-12 33-14 1z"/><path color="#feae77" d="M2504 1084l15-1-12 33-15 1z"/><path color="#fcf4b6" d="M1839 887l13 4 13 4 14 4 13 4 13 4 14 4-11 21-14-4-13-5-14-4-13-4-13-4-14-5z"/><path color="#fdebac" d="M1919 911l13 4 14 5 13 4 14 4 13 4 14 4-11 21-14-4-14-4-13-5-14-4-13-4-13-4z"/><path color="#fde0a1" d="M2000 936l14 6 13 6 14 6 14 6 14 6-12 21-14-6-13-6-14-6-14-6-13-6z"/><path color="#fdebac" d="M2069 966l14 7 13 7 14 6 14 6 14 6 14 6 14 6 14 7 14 6 14 7 14 7 14 6 14 6 14 6 14 6 14 6 14 6 14 6 14 6 14 5 15 5 14 6 14 5-12 18-14-6-14-6-14-6-14-6-15-6-14-6-14-6-14-6-14-6-14-6-14-6-14-6-14-6-14-6-14-6-14-6-14-6-14-6-14-6-13-6-14-6-14-6-14-5z"/><path color="#fde0a1" d="M2391 1106l14 4 15 3 14 4 15 4-12 21-15-4-14-5-14-4-15-5z"/><path color="#fed799" d="M2449 1121l14-1 15-2-12 27-15-1-14-2z"/><path color="#fecc8f" d="M2478 1118l14-1-12 30-14-2z"/><path color="#fec287" d="M2492 1117l15-1-12 32-15-1z"/><path color="#fcfdbf" d="M1827 906l14 5 13 4 13 4 14 4-12 13-14-5-13-5-13-4-14-5z"/><path color="#fcf4b6" d="M1881 923l13 5 14 4 13 4 13 4 14 4 13 5-11 13-14-5-13-4-14-5-13-4-14-4-13-4z"/><path color="#fdebac" d="M1961 949l14 4 14 4 13 6 14 6 14 6 13 6 14 6 14 5 14 6 14 6 13 6 14 6 14 6 14 6 14 6 14 6 14 6 14 6 14 6 14 6 14 6 14 6 14 6 14 6 14 6 15 6 14 6 14 6 14 6 14 6 15 5 14 4 14 5 15 4-12 15-14-4-15-5-14-4-14-5-15-6-14-6-14-6-14-6-14-6-14-6-15-6-14-6-14-6-14-6-14-6-14-6-14-6-14-6-14-6-14-6-14-6-13-6-14-6-14-6-14-6-14-6-14-6-13-6-14-5-14-6-14-6-13-6-14-5-13-5z"/><path color="#fde0a1" d="M2437 1142l14 2 15 1-12 17-15-2-14-3z"/><path color="#fed799" d="M2466 1145l14 2 15 1-12 19-15-2-14-3z"/><path color="#fcfdbf" d="M1815 917l14 5 13 4 13 5 14 5 13 4-12 13-13-4-14-6-13-5-13-5-14-6z"/><path color="#fcf4b6" d="M1882 940l14 4 13 4 14 5 13 4 14 5 13 5 14 5 13 6 14 6 14 6 14 5 13 6 14 6 14 6 14 6 14 6 14 6 13 6 14 6 14 6 14 6 14 6 14 6 14 6 14 6 14 6 14 6 14 6 15 6 14 6 14 6 14 6 14 6 14 6 15 6 14 5-12 15-14-5-14-6-15-6-14-6-14-6-14-6-14-6-14-6-14-6-15-6-14-6-14-6-14-6-14-6-14-6-14-6-13-6-14-6-14-6-14-6-14-6-14-6-14-6-13-6-14-6-14-6-14-6-13-5-14-6-14-6-13-5-14-5-13-6-14-4-13-4-14-4z"/><path color="#fdebac" d="M2382 1144l14 4 15 5 14 4 14 3-11 16-15-3-14-5-15-5-14-4z"/><path color="#fde0a1" d="M2439 1160l15 2 14 3 15 2-12 20-14-4-15-3-14-4z"/><path color="#fcfdbf" d="M1803 927l14 6 13 5 13 5 14 6 13 4 14 4-12 13-14-5-13-4-14-6-13-5-14-6-13-6z"/><path color="#fcf4b6" d="M1884 957l13 4 14 4 13 6 14 5 13 5 14 6 14 6 13 5 14 6 14 6 14 6 13 6 14 6 14 6 14 6 14 6 14 6 14 6 13 6 14 6 14 6 14 6 14 6 14 6 14 6 15 6 14 6 14 6 14 6 14 6 14 6 14 6 15 6 14 6 14 5 14 4 15 5-12 15-14-4-15-5-14-4-14-7-14-6-15-6-14-6-14-6-14-6-14-6-14-6-14-6-14-6-14-6-14-6-14-6-14-6-14-6-14-6-14-6-14-6-14-6-14-6-14-6-13-6-14-6-14-6-14-6-13-6-14-6-14-6-14-5-13-6-14-6-13-6-14-4-13-4z"/><path color="#fdebac" d="M2399 1168l14 5 15 3 14 4 15 3 14 4-12 19-14-4-15-5-14-5-15-4-14-5z"/></g><text x="844.4" y="539.7" font-size="39">0°</text><text x="878.9" y="563.2" font-size="39">10°</text><text x="939.4" y="587.4" font-size="39">20°</text><text x="991.4" y="612.8" font-size="39">30°</text><text x="1046.7" y="638.2" font-size="39">40°</text><text x="1103.8" y="659.9" font-size="39">50°</text><text x="1165.1" y="686.6" font-size="39">60°</text><text x="1271.4" y="664.3" font-size="39">0.0</text><text x="1322.6" y="606.0" font-size="39">0.10</text><text x="1387.3" y="551.9" font-size="39">0.20</text><text x="1448.2" y="493.1" font-size="39">0.30</text><text x="1518.3" y="174.3" font-size="39">3.5</text><text x="1518.3" y="214.0" font-size="39">3.0</text><text x="1516.0" y="247.7" font-size="39">2.5</text><text x="1510.3" y="285.9" font-size="39">2.0</text><text x="1507.2" y="321.8" font-size="39">1.5</text><text x="1506.4" y="358.5" font-size="39">1.0</text><text x="1503.6" y="393.4" font-size="39">0.5</text><text x="1501.3" y="424.6" font-size="39">0.0</text><text transform="translate(965.4 631.8) rotate(23.35)" x="-106.6" y="9.3" font-size="39" font-weight="bold" xml:space="preserve">Tilt angle (<tspan font-style="italic">δ</tspan>)</text><text transform="translate(1463.7 582.0) rotate(-44.20)" x="-100.7" y="9.2" font-size="39" font-weight="bold" xml:space="preserve">Energy (eV)</text><text transform="translate(1588.8 302.8) rotate(90.00)" x="-111.3" y="13.4" font-size="39" font-weight="bold" xml:space="preserve">Transmission</text><text x="1524.5" y="672.1" font-size="44" font-weight="bold" fill="#a51c20">(b)</text><text x="1424.4" y="69.5" font-size="60" font-weight="bold">W</text><text x="1485.4" y="69.5" font-size="30.0" font-weight="bold">2</text><text x="1515.4" y="69.5" font-size="60" font-weight="bold">(K)</text><path d="M66.4 1224.9L46.3 950.4M96.2 1199.9L78.4 925.8M125.6 1175.2L109.9 901.7M154.5 1151L140.9 877.9M183 1127L171.5 854.4M211.1 1103.4L201.5 831.4M238.8 1080.2L231.1 808.7M266.1 1057.3L260.3 786.3M49.6 1226.9L286.7 1028.6M45.3 1170.8L285.8 973.2M40.8 1113L284.8 916.2M36.2 1053.5L283.9 857.7M31.4 992.3L282.9 797.6M308.3 1047.4L305.3 776.7M358.1 1065.1L358.4 793.8M408.5 1082.9L412.2 811.1M459.6 1101L466.7 828.6M511.2 1119.3L521.9 846.3M563.5 1137.8L577.8 864.3M616.5 1156.6L634.5 882.5M286.7 1028.6L640.6 1153.5M285.8 973.2L644.6 1097.4M284.8 916.2L648.8 1039.7M283.9 857.7L653 980.3M282.9 797.6L657.4 919.2M72.7 1246.9L308.3 1047.4M124.1 1267L358.1 1065.1M176.3 1287.3L408.5 1082.9M229.1 1307.8L459.6 1101M282.6 1328.7L511.2 1119.3M336.8 1349.8L563.5 1137.8M391.7 1371.2L616.5 1156.6M66.4 1224.9L431 1366M96.2 1199.9L459.3 1338.8M125.6 1175.2L487.2 1311.9M154.5 1151L514.6 1285.5M183 1127L541.6 1259.5M211.1 1103.4L568.2 1233.8M238.8 1080.2L594.4 1208.6M266.1 1057.3L620.2 1183.7" stroke="#b4b4b4" stroke-width="1.5" fill="none"/><path d="M50.5 1238.3L415.9 1380.6L639.8 1164.8L659.5 890.6" stroke="#000" stroke-width="2.2" fill="none" stroke-linejoin="miter"/><path d="M74.6 1245.3L67.7 1251.1M126 1265.3L119.2 1271.2M178.1 1285.6L171.4 1291.6M230.9 1306.2L224.2 1312.2M284.4 1327L277.8 1333.1M338.6 1348.1L332 1354.2M393.5 1369.4L387 1375.7M428.7 1365.1L437.1 1368.4M457 1337.9L465.4 1341.1M484.8 1311L493.2 1314.2M512.2 1284.6L520.7 1287.8M539.2 1258.6L547.7 1261.7M565.8 1233L574.3 1236.1M592 1207.8L600.5 1210.8M617.8 1182.9L626.3 1185.9M638.2 1152.6L646.7 1155.6M642.3 1096.6L650.8 1099.5M646.4 1038.9L654.9 1041.8M650.7 979.6L659.2 982.4M655.1 918.5L663.6 921.3" stroke="#000" stroke-width="2"/><g class="sf" transform="scale(.5)"><path color="#0a0822" d="M582 1596l14 53-10 70-14-45z"/><path color="#2d1161" d="M596 1649l13 61-10 61-13-52z"/><path color="#5a167e" d="M609 1710l14 61-10 52-14-52z"/><path color="#862781" d="M623 1771l13 50-10 45-13-43z"/><path color="#a8327d" d="M636 1821l14 46-10 37-14-38z"/><path color="#c43c75" d="M650 1867l13 35-10 29-13-27z"/><path color="#dc4869" d="M663 1902l13 34-10 23-13-28z"/><path color="#f4675c" d="M676 1936l13 52-10 15-13-44z"/><path color="#fb8560" d="M689 1988l13 25-11 12-12-22z"/><path color="#fd9a6a" d="M702 2013l12 19-10 9-13-16z"/><path color="#fea36f" d="M714 2032l13 25-10 6-13-22z"/><path color="#feb77e" d="M727 2057l13 25-10 3-13-22z"/><path color="#fecc8f" d="M740 2082l13 16-10 3-13-16z"/><path color="#fed799" d="M753 2098l12 8 13 9-10 5-13-10-12-9z"/><path color="#fde0a1" d="M778 2115l13 19-10 6-13-20z"/><path color="#fdebac" d="M791 2134l13-3 12 6-10 8-12-7-13 2z"/><path color="#fde0a1" d="M816 2137l13-2 13 2-10 12-13-4-13 0z"/><path color="#fecc8f" d="M842 2137l14-27-10 13-14 26z"/><path color="#feb77e" d="M856 2110l13-16-10 14-13 15z"/><path color="#fd9a6a" d="M869 2094l14-28-10 14-14 28z"/><path color="#f97b5d" d="M883 2066l14-21-11 15-13 20z"/><path color="#f7705c" d="M897 2045l12 15-10 14-13-14z"/><path color="#f97b5d" d="M909 2060l13 26-10 11-13-23z"/><path color="#fb8560" d="M922 2086l13 2-10 11-13-2z"/><path color="#fc9065" d="M935 2088l13 11 14-2-10 10-14 1-13-9z"/><path color="#fb8560" d="M962 2097l13 7 13-6-10 13-13 5-13-9z"/><path color="#f97b5d" d="M988 2098l14 1 13 1-10 14-13 0-14-3z"/><path color="#f7705c" d="M1015 2100l14-8 13 12 14-3-10 9-14 4-13-10-14 10z"/><path color="#f4675c" d="M1056 2101l13 0 14 13-11 15-13-16-13-3z"/><path color="#f7705c" d="M1083 2114l13 2 14 3-11 21-13-6-14-5z"/><path color="#ea5661" d="M1110 2119l16-56-11 35-16 42z"/><path color="#c43c75" d="M1126 2063l17-47-12 48-16 34z"/><path color="#8e2a81" d="M1143 2016l17-68-13 63-16 53z"/><path color="#5a167e" d="M1160 1948l18-71-14 79-17 55z"/><path color="#52137c" d="M1178 1877l12 47-15 89-11-57z"/><path color="#641a80" d="M1190 1924l14-2-15 106-14-15z"/><path color="#752181" d="M1204 1922l13 26-16 119-12-39z"/><path color="#862781" d="M1217 1948l13 26-18 131-11-38z"/><path color="#400f74" d="M572 1674l14 45-10 67-13-37z"/><path color="#641a80" d="M586 1719l13 52-9 59-14-44z"/><path color="#862781" d="M599 1771l14 52-10 50-13-43z"/><path color="#a8327d" d="M613 1823l13 43-10 43-13-36z"/><path color="#c43c75" d="M626 1866l14 38-11 35-13-30z"/><path color="#dc4869" d="M640 1904l13 27-11 29-13-21z"/><path color="#ea5661" d="M653 1931l13 28-11 21-13-20z"/><path color="#f7705c" d="M666 1959l13 44-11 14-13-37z"/><path color="#fb8560" d="M679 2003l12 22-10 11-13-19z"/><path color="#fd9a6a" d="M691 2025l13 16-10 8-13-13z"/><path color="#fea36f" d="M704 2041l13 22-10 5-13-19z"/><path color="#feb77e" d="M717 2063l13 22-10 3-13-20z"/><path color="#fec287" d="M730 2085l13 16-10 4-13-17z"/><path color="#fecc8f" d="M743 2101l12 9-10 4-12-9z"/><path color="#fed799" d="M755 2110l13 10-10 4-13-10z"/><path color="#fde0a1" d="M768 2120l13 20-10 5-13-21z"/><path color="#fdebac" d="M781 2140l13-2-10 7-13 0z"/><path color="#fde0a1" d="M794 2138l12 7 13 0 13 4-10 11-13-5-12-1-13-9z"/><path color="#fed799" d="M832 2149l14-26-10 12-14 25z"/><path color="#feb77e" d="M846 2123l13-15-10 13-13 14z"/><path color="#fd9a6a" d="M859 2108l14-28-10 14-14 27z"/><path color="#f97b5d" d="M873 2080l13-20-10 15-13 19z"/><path color="#f7705c" d="M886 2060l13 14-10 13-13-12z"/><path color="#fb8560" d="M899 2074l13 23-10 12-13-22z"/><path color="#fc9065" d="M912 2097l13 2 13 9 14-1 13 9-10 12-13-10-14-1-13-8-13 0z"/><path color="#fb8560" d="M965 2116l13-5 14 3 13 0-10 13-13 2-14-5-13 4z"/><path color="#f7705c" d="M1005 2114l14-10 13 10 14-4-10 10-14 5-13-9-14 11z"/><path color="#f4675c" d="M1046 2110l13 3-10 12-13-5z"/><path color="#f7705c" d="M1059 2113l13 16-10 15-13-19z"/><path color="#f97b5d" d="M1072 2129l14 5 13 6-10 21-13-10-14-7z"/><path color="#f4675c" d="M1099 2140l16-42-11 34-15 29z"/><path color="#dc4869" d="M1115 2098l16-34-12 47-15 21z"/><path color="#ba3878" d="M1131 2064l16-53-12 62-16 38z"/><path color="#8e2a81" d="M1147 2011l17-55 11 57-14 87-10-66-16 39z"/><path color="#b2357b" d="M1175 2013l14 15-16 101-12-29z"/><path color="#cc3f71" d="M1189 2028l12 39-16 112-12-50z"/><path color="#ea5661" d="M1201 2067l11 38-16 121-11-47z"/><path color="#6b1d81" d="M563 1749l13 37-10 43-13-32z"/><path color="#862781" d="M576 1786l14 44-10 37-14-38z"/><path color="#a8327d" d="M590 1830l13 43-10 31-13-37z"/><path color="#c43c75" d="M603 1873l13 36-10 26-13-31z"/><path color="#dc4869" d="M616 1909l13 30-10 23-13-27z"/><path color="#ea5661" d="M629 1939l13 21-10 19-13-17z"/><path color="#ef5d5e" d="M642 1960l13 20-10 16-13-17z"/><path color="#f97b5d" d="M655 1980l13 37-10 13-13-34z"/><path color="#fc9065" d="M668 2017l13 19-10 11-13-17z"/><path color="#fd9a6a" d="M681 2036l13 13-10 9-13-11z"/><path color="#fea36f" d="M694 2049l13 19-10 7-13-17z"/><path color="#feb77e" d="M707 2068l13 20-10 4-13-17z"/><path color="#fec287" d="M720 2088l13 17-11 4-12-17z"/><path color="#fecc8f" d="M733 2105l12 9 13 10-10 1-13-8-13-8z"/><path color="#fed799" d="M758 2124l13 21-10 0-13-20z"/><path color="#fde0a1" d="M771 2145l13 0 13 9 12 1 13 5-10 3-12-6-13-2-13-9-13-1z"/><path color="#fed799" d="M822 2160l14-25-10 6-14 22z"/><path color="#feb77e" d="M836 2135l13-14-10 9-13 11z"/><path color="#fea36f" d="M849 2121l14-27-10 14-14 22z"/><path color="#fb8560" d="M863 2094l13-19-10 17-13 16z"/><path color="#f97b5d" d="M876 2075l13 12-10 16-13-11z"/><path color="#fb8560" d="M889 2087l13 22-10 15-13-21z"/><path color="#fc9065" d="M902 2109l13 0 13 8 14 1 13 10 13-4-10 13-13 4-13-10-14-1-13-7-13 1z"/><path color="#fb8560" d="M968 2124l14 5 13-2-10 14-14 1-13-5z"/><path color="#f97b5d" d="M995 2127l14-11-10 15-14 10z"/><path color="#f7705c" d="M1009 2116l13 9 14-5 13 5-10 18-13-6-14 4-13-10z"/><path color="#f97b5d" d="M1049 2125l13 19 14 7-11 18-13-8-13-18z"/><path color="#fb8560" d="M1076 2151l13 10-10 17-14-9z"/><path color="#f97b5d" d="M1089 2161l15-29-11 32-14 14z"/><path color="#ef5d5e" d="M1104 2132l15-21-12 45-14 8z"/><path color="#e34e65" d="M1119 2111l16-38-13 60-15 23z"/><path color="#c43c75" d="M1135 2073l16-39-14 76-15 23z"/><path color="#cc3f71" d="M1151 2034l10 66-13 64-11-54z"/><path color="#ea5661" d="M1161 2100l12 29-12 59-13-24z"/><path color="#f7705c" d="M1173 2129l12 50-13 49-11-40z"/><path color="#fd9a6a" d="M1185 2179l11 47-12 41-12-39z"/><path color="#862781" d="M553 1797l13 32-10 42-13-26z"/><path color="#a02f7f" d="M566 1829l14 38-10 36-14-32z"/><path color="#ba3878" d="M580 1867l13 37-10 31-13-32z"/><path color="#d5446d" d="M593 1904l13 31-10 25-13-25z"/><path color="#e34e65" d="M606 1935l13 27-10 22-13-24z"/><path color="#ef5d5e" d="M619 1962l13 17-10 20-13-15z"/><path color="#f4675c" d="M632 1979l13 17-10 17-13-14z"/><path color="#f97b5d" d="M645 1996l13 34-10 13-13-30z"/><path color="#fc9065" d="M658 2030l13 17-10 10-13-14z"/><path color="#fd9a6a" d="M671 2047l13 11-10 8-13-9z"/><path color="#fea36f" d="M684 2058l13 17-10 6-13-15z"/><path color="#feae77" d="M697 2075l13 17-10 5-13-16z"/><path color="#feb77e" d="M710 2092l12 17-10 3-12-15z"/><path color="#fec287" d="M722 2109l13 8-10 2-13-7z"/><path color="#fecc8f" d="M735 2117l13 8-10 2-13-8z"/><path color="#fed799" d="M748 2125l13 20 13 1 13 9 13 2 12 6-10 2-12-6-13-2-13-10-13-1-13-19z"/><path color="#fecc8f" d="M812 2163l14-22-10 6-14 18z"/><path color="#feb77e" d="M826 2141l13-11-10 10-13 7z"/><path color="#fea36f" d="M839 2130l14-22-11 13-13 19z"/><path color="#fc9065" d="M853 2108l13-16-10 18-14 11z"/><path color="#fb8560" d="M866 2092l13 11-10 16-13-9z"/><path color="#fc9065" d="M879 2103l13 21-10 15-13-20z"/><path color="#fd9a6a" d="M892 2124l13-1-10 14-13 2z"/><path color="#fc9065" d="M905 2123l13 7 14 1 13 10 13-4 13 5 14-1-10 14-14 0-13-4-13 3-14-10-13-1-13-6z"/><path color="#fb8560" d="M985 2141l14-10-10 16-14 8z"/><path color="#f97b5d" d="M999 2131l13 10 14-4 13 6 13 18-10 17-13-17-14-6-13 3-13-11z"/><path color="#fb8560" d="M1052 2161l13 8-10 17-13-8z"/><path color="#fc9065" d="M1065 2169l14 9-11 18-13-10z"/><path color="#fb8560" d="M1079 2178l14-14-11 31-14 1z"/><path color="#f97b5d" d="M1093 2164l14-8-11 45-14-6z"/><path color="#f7705c" d="M1107 2156l15-23-12 60-14 8z"/><path color="#ef5d5e" d="M1122 2133l15-23-13 75-14 8z"/><path color="#f4675c" d="M1137 2110l11 54-13 64-11-43z"/><path color="#fb8560" d="M1148 2164l13 24-13 57-13-17z"/><path color="#fea36f" d="M1161 2188l11 40-12 49-12-32z"/><path color="#fec287" d="M1172 2228l12 39-12 41-12-31z"/><path color="#a02f7f" d="M543 1845l13 26-10 34-13-22z"/><path color="#ba3878" d="M556 1871l14 32-10 29-14-27z"/><path color="#cc3f71" d="M570 1903l13 32-10 24-13-27z"/><path color="#e34e65" d="M583 1935l13 25-10 20-13-21z"/><path color="#ef5d5e" d="M596 1960l13 24-10 17-13-21z"/><path color="#f4675c" d="M609 1984l13 15-10 15-13-13z"/><path color="#f7705c" d="M622 1999l13 14-10 12-13-11z"/><path color="#fb8560" d="M635 2013l13 30-10 10-13-28z"/><path color="#fc9065" d="M648 2043l13 14-10 9-13-13z"/><path color="#fd9a6a" d="M661 2057l13 9-10 8-13-8z"/><path color="#fea36f" d="M674 2066l13 15-11 6-12-13z"/><path color="#feae77" d="M687 2081l13 16-11 4-13-14z"/><path color="#feb77e" d="M700 2097l12 15-10 3-13-14z"/><path color="#fec287" d="M712 2112l13 7 13 8-10 1-13-7-13-6z"/><path color="#fecc8f" d="M738 2127l13 19 13 1 13 10-10 1-13-10-13-1-13-19z"/><path color="#fed799" d="M777 2157l13 2-10 1-13-2z"/><path color="#fecc8f" d="M790 2159l12 6-9 2-13-7z"/><path color="#fec287" d="M802 2165l14-18-10 5-13 15z"/><path color="#feb77e" d="M816 2147l13-7-10 8-13 4z"/><path color="#fea36f" d="M829 2140l13-19-10 11-13 16z"/><path color="#fc9065" d="M842 2121l14-11 13 9-10 14-13-9-14 8z"/><path color="#fd9a6a" d="M869 2119l13 20 13-2 13 6 13 1 14 10 13-3-10 11-13 3-14-10-13-1-13-5-13 2-13-18z"/><path color="#fc9065" d="M948 2151l13 4 14 0-10 12-14-1-13-4z"/><path color="#fb8560" d="M975 2155l14-8 13 11 13-3-10 14-13 2-13-11-14 7z"/><path color="#f97b5d" d="M1015 2155l14 6-10 14-14-6z"/><path color="#fb8560" d="M1029 2161l13 17-10 14-13-17z"/><path color="#fc9065" d="M1042 2178l13 8 13 10-10 13-13-9-13-8z"/><path color="#fd9a6a" d="M1068 2196l14-1 14 6 14-8-12 41-13-2-13-15-14-8z"/><path color="#fc9065" d="M1110 2193l14-8-12 51-14-2z"/><path color="#fd9a6a" d="M1124 2185l11 43-11 43-12-35z"/><path color="#feb77e" d="M1135 2228l13 17-11 38-13-12z"/><path color="#fec287" d="M1148 2245l12 32-11 31-12-25z"/><path color="#fde0a1" d="M1160 2277l12 31-10 25-13-25z"/><path color="#ba3878" d="M533 1883l13 22-10 19-13-19z"/><path color="#c43c75" d="M546 1905l14 27-11 17-13-25z"/><path color="#dc4869" d="M560 1932l13 27-11 14-13-24z"/><path color="#ea5661" d="M573 1959l13 21-10 11-14-18z"/><path color="#ef5d5e" d="M586 1980l13 21-10 10-13-20z"/><path color="#f4675c" d="M599 2001l13 13-10 8-13-11z"/><path color="#f7705c" d="M612 2014l13 11-11 8-12-11z"/><path color="#fb8560" d="M625 2025l13 28-10 6-14-26z"/><path color="#fc9065" d="M638 2053l13 13-11 6-12-13z"/><path color="#fd9a6a" d="M651 2066l13 8 12 13-10 4-13-13-13-6z"/><path color="#fea36f" d="M676 2087l13 14-10 3-13-13z"/><path color="#feae77" d="M689 2101l13 14-10 3-13-14z"/><path color="#feb77e" d="M702 2115l13 6 13 7-10 2-13-6-13-6z"/><path color="#fec287" d="M728 2128l13 19 13 1-10 1-13-1-13-18z"/><path color="#fecc8f" d="M754 2148l13 10 13 2 13 7-10 1-13-7-13-2-13-10z"/><path color="#fec287" d="M793 2167l13-15-10 3-13 13z"/><path color="#feae77" d="M806 2152l13-4-10 5-13 2z"/><path color="#fea36f" d="M819 2148l13-16-10 7-13 14z"/><path color="#fc9065" d="M832 2132l14-8 13 9-10 8-14-8-13 6z"/><path color="#fd9a6a" d="M859 2133l13 18 13-2 13 5 13 1 14 10 13-3-10 8-13 3-14-11-13-2-13-4-13 3-13-18z"/><path color="#fc9065" d="M938 2162l13 4 14 1-10 9-14-1-13-5z"/><path color="#fb8560" d="M965 2167l14-7 13 11 13-2 14 6 13 17-10 8-13-17-14-5-13 2-14-11-13 7z"/><path color="#fc9065" d="M1032 2192l13 8 13 9-10 7-13-9-13-7z"/><path color="#fd9a6a" d="M1058 2209l14 8-10 8-14-9z"/><path color="#fea36f" d="M1072 2217l13 15 13 2 14 2-10 12-14-4-13-3-13-16z"/><path color="#feae77" d="M1112 2236l12 35-10 9-12-32z"/><path color="#fec287" d="M1124 2271l13 12-10 6-13-9z"/><path color="#fecc8f" d="M1137 2283l12 25-9 3-13-22z"/><path color="#fde0a1" d="M1149 2308l13 25-9 0-13-22z"/><path color="#c43c75" d="M523 1905l13 19-10 19-13-16z"/><path color="#cc3f71" d="M536 1924l13 25-10 16-13-22z"/><path color="#dc4869" d="M549 1949l13 24-10 14-13-22z"/><path color="#ea5661" d="M562 1973l14 18-11 12-13-16z"/><path color="#ef5d5e" d="M576 1991l13 20-11 10-13-18z"/><path color="#f4675c" d="M589 2011l13 11-11 9-13-10z"/><path color="#f7705c" d="M602 2022l12 11-10 7-13-9z"/><path color="#f97b5d" d="M614 2033l14 26-11 6-13-25z"/><path color="#fc9065" d="M628 2059l12 13 13 6-10 5-13-6-13-12z"/><path color="#fd9a6a" d="M653 2078l13 13-10 4-13-12z"/><path color="#fea36f" d="M666 2091l13 13-10 4-13-13z"/><path color="#feae77" d="M679 2104l13 14 13 6 13 6-10 1-13-5-13-5-13-13z"/><path color="#feb77e" d="M718 2130l13 18-10 1-13-18z"/><path color="#fec287" d="M731 2148l13 1 13 10 13 2 13 7-11 1-13-7-13-2-12-10-13-1z"/><path color="#feb77e" d="M783 2168l13-13-10 3-14 11z"/><path color="#feae77" d="M796 2155l13-2-10 5-13 0z"/><path color="#fea36f" d="M809 2153l13-14-10 7-13 12z"/><path color="#fc9065" d="M822 2139l13-6 14 8-11 8-13-8-13 5z"/><path color="#fd9a6a" d="M849 2141l13 18 13-3 13 4-10 6-13-3-14 3-13-17z"/><path color="#fc9065" d="M888 2160l13 2-10 7-13-3z"/><path color="#fd9a6a" d="M901 2162l14 11 13-3-10 9-14 1-13-11z"/><path color="#fc9065" d="M928 2170l13 5 14 1-10 9-14-1-13-5z"/><path color="#fb8560" d="M955 2176l13-7 14 11 13-2 14 5 13 17-10 8-13-17-14-4-13 2-14-11-13 7z"/><path color="#fc9065" d="M1022 2200l13 7 13 9-9 6-14-8-13-6z"/><path color="#fd9a6a" d="M1048 2216l14 9-10 8-13-11z"/><path color="#fea36f" d="M1062 2225l13 16 13 3 14 4-10 11-14-5-13-4-13-17z"/><path color="#feae77" d="M1102 2248l12 32-10 9-12-30z"/><path color="#fec287" d="M1114 2280l13 9-9 6-14-6z"/><path color="#fecc8f" d="M1127 2289l13 22-9 3-13-19z"/><path color="#fde0a1" d="M1140 2311l13 22-10 0-12-19z"/><path color="#cc3f71" d="M513 1927l13 16-11 20-13-14z"/><path color="#d5446d" d="M526 1943l13 22-10 17-14-19z"/><path color="#e34e65" d="M539 1965l13 22-10 14-13-19z"/><path color="#ea5661" d="M552 1987l13 16-10 11-13-13z"/><path color="#f4675c" d="M565 2003l13 18-10 10-13-17z"/><path color="#f7705c" d="M578 2021l13 10 13 9-10 7-13-7-13-9z"/><path color="#f97b5d" d="M604 2040l13 25-10 6-13-24z"/><path color="#fc9065" d="M617 2065l13 12 13 6-10 5-13-5-13-12z"/><path color="#fd9a6a" d="M643 2083l13 12 13 13-10 3-13-12-13-11z"/><path color="#fea36f" d="M669 2108l13 13-10 3-13-13z"/><path color="#feae77" d="M682 2121l13 5 13 5 13 18-11 1-13-17-13-5-12-4z"/><path color="#feb77e" d="M721 2149l13 1 12 10 13 2 13 7-10 2-13-7-13-2-13-11-13-1z"/><path color="#feae77" d="M772 2169l14-11-10 3-14 10z"/><path color="#fea36f" d="M786 2158l13 0-10 5-13-2z"/><path color="#fd9a6a" d="M799 2158l13-12-10 7-13 10z"/><path color="#fc9065" d="M812 2146l13-5 13 8-10 8-13-7-13 3z"/><path color="#fd9a6a" d="M838 2149l13 17 14-3-10 7-14 4-13-17z"/><path color="#fc9065" d="M865 2163l13 3 13 3 13 11 14-1 13 5 14 1-10 10-14-2-13-6-14 1-13-12-13-4-13-2z"/><path color="#fb8560" d="M945 2185l13-7 14 11 13-2 14 4 13 17-10 7-13-15-14-4-13 2-14-11-13 8z"/><path color="#fc9065" d="M1012 2208l13 6 14 8 13 11-10 8-13-13-14-7-13-6z"/><path color="#fea36f" d="M1052 2233l13 17 13 4 14 5-10 12-14-6-13-6-13-18z"/><path color="#feb77e" d="M1092 2259l12 30-10 8-12-26z"/><path color="#fec287" d="M1104 2289l14 6 13 19-10 3-13-17-14-3z"/><path color="#fed799" d="M1131 2314l12 19-9 0-13-16z"/><path color="#d5446d" d="M502 1949l13 14-10 18-13-11z"/><path color="#dc4869" d="M515 1963l14 19-11 16-13-17z"/><path color="#ea5661" d="M529 1982l13 19-11 13-13-16z"/><path color="#ef5d5e" d="M542 2001l13 13-11 11-13-11z"/><path color="#f4675c" d="M555 2014l13 17-11 9-13-15z"/><path color="#f7705c" d="M568 2031l13 9 13 7-11 7-13-6-13-8z"/><path color="#f97b5d" d="M594 2047l13 24-11 5-13-22z"/><path color="#fb8560" d="M607 2071l13 12-11 4-13-11z"/><path color="#fc9065" d="M620 2083l13 5 13 11-11 4-13-11-13-5z"/><path color="#fd9a6a" d="M646 2099l13 12-11 3-13-11z"/><path color="#fea36f" d="M659 2111l13 13 12 4 13 5 13 17-10 0-13-16-13-4-13-4-13-12z"/><path color="#feae77" d="M710 2150l13 1 13 11 13 2 13 7 14-10-11 2-13 9-13-8-13-2-13-11-13-1z"/><path color="#fea36f" d="M776 2161l13 2-11 4-13-4z"/><path color="#fd9a6a" d="M789 2163l13-10-10 6-14 8z"/><path color="#fc9065" d="M802 2153l13-3 13 7 13 17-10 7-13-16-13-6-13 0z"/><path color="#fd9a6a" d="M841 2174l14-4-10 6-14 5z"/><path color="#fc9065" d="M855 2170l13 2 13 4 13 12 14-1 13 6 14 2-10 8-14-1-13-7-14 0-13-13-13-4-13-2z"/><path color="#fb8560" d="M935 2195l13-8 14 11 13-2 14 4 13 15-10 8-13-15-14-3-14 2-13-11-13 7z"/><path color="#fc9065" d="M1002 2215l13 6 14 7 13 13-10 7-13-14-14-6-13-5z"/><path color="#fd9a6a" d="M1042 2241l13 18-10 8-13-19z"/><path color="#fea36f" d="M1055 2259l13 6 14 6-10 10-14-7-13-7z"/><path color="#feb77e" d="M1082 2271l12 26 14 3-10 4-13 0-13-23z"/><path color="#fec287" d="M1108 2300l13 17-9 1-14-14z"/><path color="#fecc8f" d="M1121 2317l13 16-9-2-13-13z"/><path color="#dc4869" d="M492 1970l13 11-10 8-13-10z"/><path color="#e34e65" d="M505 1981l13 17-10 6-13-15z"/><path color="#ea5661" d="M518 1998l13 16-10 5-13-15z"/><path color="#ef5d5e" d="M531 2014l13 11 13 15-10 2-13-14-13-9z"/><path color="#f4675c" d="M557 2040l13 8 13 6-10-3-13-4-13-5z"/><path color="#f7705c" d="M583 2054l13 22-10-4-13-21z"/><path color="#f97b5d" d="M596 2076l13 11-10-5-13-10z"/><path color="#fb8560" d="M609 2087l13 5 13 11-10-7-13-10-13-4z"/><path color="#fc9065" d="M635 2103l13 11 13 12-10-6-13-13-13-11z"/><path color="#fd9a6a" d="M661 2126l13 4 13 4 13 16-10-6-13-18-13-3-13-3z"/><path color="#fea36f" d="M700 2150l13 1 13 11 13 2 13 8 13-9-10-3-13 8-13-8-13-3-13-12-13-1z"/><path color="#fd9a6a" d="M765 2163l13 4-10-1-13-6z"/><path color="#fc9065" d="M778 2167l14-8-10 0-14 7z"/><path color="#fb8560" d="M792 2159l13 0 13 6-10 1-13-6-13-1z"/><path color="#fc9065" d="M818 2165l13 16 14-5-10 1-14 6-13-17z"/><path color="#fb8560" d="M845 2176l13 2 13 4-10 2-13-5-13-2z"/><path color="#fc9065" d="M871 2182l13 13 14 0 13 7 14 1-10 5-14-2-13-8-14 0-13-14z"/><path color="#fb8560" d="M925 2203l13-7 13 11 14-2-10 7-14 1-13-12-13 7z"/><path color="#f97b5d" d="M965 2205l14 3-10 4-14 0z"/><path color="#fb8560" d="M979 2208l13 15 13 5 14 6 13 14-9-7-14-11-13-4-14-2-13-12z"/><path color="#fc9065" d="M1032 2248l13 19-9-8-13-18z"/><path color="#fd9a6a" d="M1045 2267l13 7 14 7-9-12-14-5-13-5z"/><path color="#fea36f" d="M1072 2281l13 23-9-14-13-21z"/><path color="#feae77" d="M1085 2304l13 0 14 14-9-20-13-11-14 3z"/><path color="#feb77e" d="M1112 2318l13 13-9-22-13-11z"/><path color="#dc4869" d="M482 1979l13 10 13 15-11 6-13-14-13-9z"/><path color="#e34e65" d="M508 2004l13 15-11 5-13-14z"/><path color="#ea5661" d="M521 2019l13 9-11 3-13-7z"/><path color="#ef5d5e" d="M534 2028l13 14 13 5 13 4-11-3-13-2-13-3-13-12z"/><path color="#f4675c" d="M573 2051l13 21-11-4-13-20z"/><path color="#f7705c" d="M586 2072l13 10 13 4 13 10-11-6-13-10-13-3-13-9z"/><path color="#f97b5d" d="M625 2096l13 11-11-7-13-10z"/><path color="#fb8560" d="M638 2107l13 13 13 3 13 3-11-7-13-3-13-3-13-13z"/><path color="#fc9065" d="M677 2126l13 18 13 1 13 12-10-5-14-13-13-2-13-18z"/><path color="#fd9a6a" d="M716 2157l13 3 13 8-10-4-13-9-13-3z"/><path color="#fc9065" d="M742 2168l13-8 13 6-10-2-13-7-13 7z"/><path color="#fb8560" d="M768 2166l14-7 13 1-10 1-14-3-13 6z"/><path color="#f97b5d" d="M795 2160l13 6-10 1-13-6z"/><path color="#fb8560" d="M808 2166l13 17 14-6 13 2 13 5 13 14 14 0 13 8 14 2 13-7-10 5-14 6-13-2-13-9-14-1-13-14-13-5-14-3-13 6-13-17z"/><path color="#f97b5d" d="M928 2201l13 12 14-1 14 0 13 12 14 2 13 4 14 11-10-6-13-9-14-1-14 0-13-10-14 3-14 1-13-13z"/><path color="#fb8560" d="M1023 2241l13 18 13 5 14 5-9-12-14-3-14-3-13-16z"/><path color="#fc9065" d="M1063 2269l13 21 14-3 13 11-9-20-13-9-14 7-13-19z"/><path color="#fd9a6a" d="M1103 2298l13 11-8-22-14-9z"/><path color="#dc4869" d="M471 1987l13 9 13 14-11 6-13-13-13-7z"/><path color="#e34e65" d="M497 2010l13 14-10 4-14-12z"/><path color="#ea5661" d="M510 2024l13 7 13 12 13 3 13 2-11-3-13 1-12-1-14-10-12-7z"/><path color="#ef5d5e" d="M562 2048l13 20-11-5-13-18z"/><path color="#f4675c" d="M575 2068l13 9 13 3 13 10 13 10-10-7-13-10-14-9-13-2-13-9z"/><path color="#f7705c" d="M627 2100l13 13 13 3 13 3-10-7-13-4-13-2-13-13z"/><path color="#f97b5d" d="M666 2119l13 18 13 2-10-7-13-2-13-18z"/><path color="#fb8560" d="M692 2139l14 13 13 3 13 9 13-7 13 7-10-1-13-9-14 6-13-10-13-3-13-15z"/><path color="#f97b5d" d="M758 2164l13-6 14 3 13 6 13 17 13-6 14 3 13 5 13 14-10 3-13-15-13-6-14-2-13 5-13-17-14-6-13-4-13 5z"/><path color="#fb8560" d="M864 2200l14 1 13 9 13 2-10 5-13-3-13-10-14-1z"/><path color="#f97b5d" d="M904 2212l14-6 13 13 14-1-10 7-14 0-13-14-14 6z"/><path color="#f7705c" d="M945 2218l14-3 13 10 14 0-10-2-14 4-13-8-14 6z"/><path color="#f4675c" d="M986 2225l14 1 13 9-10-6-13-7-14 1z"/><path color="#f7705c" d="M1013 2235l13 16 14 3 14 3-9-13-14 0-14 0-14-15z"/><path color="#f97b5d" d="M1054 2257l13 19 14-7-9-18-14 11-13-18z"/><path color="#f7705c" d="M1081 2269l13 9 14 9-8-23-14-6-14-7z"/><path color="#dc4869" d="M460 1996l13 7 13 13-10 6-13-11-13-6z"/><path color="#e34e65" d="M486 2016l14 12 12 7-10 3-13-5-13-11z"/><path color="#ea5661" d="M512 2035l14 10 12 1-10-1-13 2-13-9z"/><path color="#e34e65" d="M538 2046l13-1 13 18-10-4-14-16-12 2z"/><path color="#ea5661" d="M564 2063l13 9 13 2 14 9-11-7-13-8-13-1-13-8z"/><path color="#ef5d5e" d="M604 2083l13 10 13 13-11-7-13-13-13-10z"/><path color="#f4675c" d="M630 2106l13 2 13 4 13 18-11-6-13-19-13-4-13-2z"/><path color="#f7705c" d="M669 2130l13 2 13 15-10-6-13-15-14-2z"/><path color="#f97b5d" d="M695 2147l13 3 13 10 14-6-11-2-13 4-13-11-13-4z"/><path color="#f7705c" d="M735 2154l13 9 13-5 13 4 14 6-11 1-13-6-13-5-13 4-14-10z"/><path color="#f97b5d" d="M788 2168l13 17 13-5-10 1-13 6-14-18z"/><path color="#f7705c" d="M814 2180l14 2 13 6-10 1-14-6-13-2z"/><path color="#f97b5d" d="M841 2188l13 15 14 1 13 10 13 3 14-6 13 14 14 0-10 6-14 0-13-15-14 5-13-3-14-11-13-1-13-17z"/><path color="#f7705c" d="M935 2225l14-6-10 4-14 8z"/><path color="#f4675c" d="M949 2219l13 8 14-4-10-1-14 6-13-5z"/><path color="#ef5d5e" d="M976 2223l14-1 13 7 14 15-10-8-13-13-14-6-14 5z"/><path color="#f4675c" d="M1017 2244l14 0-10-11-14 3z"/><path color="#ef5d5e" d="M1031 2244l14 0 13 18 14-11-9-18-14 15-14-17-14 2z"/><path color="#ea5661" d="M1072 2251l14 7 14 6-9-22-14-5-14-4z"/><path color="#d5446d" d="M450 2005l13 6-11 2-13-4z"/><path color="#dc4869" d="M463 2011l13 11 13 11 13 5-11-3-13-3-13-9-13-10z"/><path color="#e34e65" d="M502 2038l13 9-11-4-13-8z"/><path color="#dc4869" d="M515 2047l13-2 12-2 14 16-11-7-14-15-12 3-13 3z"/><path color="#e34e65" d="M554 2059l13 8 13 1 13 8 13 10-11-8-13-9-13-8-13-1-13-8z"/><path color="#ea5661" d="M606 2086l13 13 13 2 13 4-10-8-14-3-13-2-13-14z"/><path color="#ef5d5e" d="M645 2105l13 19 14 2-11-6-13-3-13-20z"/><path color="#f4675c" d="M672 2126l13 15 13 4-11-4-13-5-13-16z"/><path color="#f7705c" d="M698 2145l13 11-10-4-14-11z"/><path color="#f4675c" d="M711 2156l13-4 14 10 13-4 13 5 13 6-10 0-13-7-14-6-13 3-13-11-13 4z"/><path color="#f7705c" d="M777 2169l14 18 13-6-10 0-14 6-13-18z"/><path color="#f4675c" d="M804 2181l13 2 14 6-10 1-14-6-13-3z"/><path color="#f7705c" d="M831 2189l13 17 13 1 14 11-10-1-14-9-13-2-13-16z"/><path color="#f97b5d" d="M871 2218l13 3-10 0-13-4z"/><path color="#f7705c" d="M884 2221l14-5 13 15 14 0-10 0-14 0-13-15-14 5z"/><path color="#f4675c" d="M925 2231l14-8-10-3-14 11z"/><path color="#ef5d5e" d="M939 2223l13 5 14-6-9-8-15 9-13-3z"/><path color="#ea5661" d="M966 2222l14-5-9-10-14 7z"/><path color="#e34e65" d="M980 2217l14 6 13 13 14-3-9-18-14 5-14-10-13-3z"/><path color="#dc4869" d="M1021 2233l14-2-9-21-14 5z"/><path color="#e34e65" d="M1035 2231l14 17-9-19-14-19z"/><path color="#dc4869" d="M1049 2248l14-15-9-19-14 15z"/><path color="#d5446d" d="M1063 2233l14 4 14 5-9-17-14-5-14-6zM439 2009l13 4 13 10 13 9 13 3 13 8 13-3-11-6-13 4-13-7-13-1-13-8-13-7-13-2z"/><path color="#cc3f71" d="M517 2040l12-3 14 15-11-7-14-15-12 4z"/><path color="#d5446d" d="M543 2052l13 8 13 1 13 8 13 9-11-7-13-9-13-8-13-1-13-8z"/><path color="#dc4869" d="M595 2078l13 14 13 2 14 3-11-7-13-3-13-2-14-14z"/><path color="#e34e65" d="M635 2097l13 20-11-7-13-20z"/><path color="#ea5661" d="M648 2117l13 3 13 16-10-5-14-18-13-3z"/><path color="#ef5d5e" d="M674 2136l13 5 14 11 13-4 13 11 13-3 14 6 13 7-10-1-14-8-13-7-13 3-14-12-13 4-13-12-13-5z"/><path color="#f4675c" d="M767 2169l13 18 14-6-11 1-13 5-13-19z"/><path color="#ef5d5e" d="M794 2181l13 3 14 6-11 0-13-5-14-3z"/><path color="#f4675c" d="M821 2190l13 16 13 2 14 9 13 4 14-5 13 15 14 0-10-1-14 0-13-16-14 6-13-4-14-9-13-1-14-16z"/><path color="#ef5d5e" d="M915 2231l14-11-10-4-14 14z"/><path color="#ea5661" d="M929 2220l13 3-9-7-14 0z"/><path color="#e34e65" d="M942 2223l15-9-10-10-14 12z"/><path color="#dc4869" d="M957 2214l14-7-10-13-14 10z"/><path color="#d5446d" d="M971 2207l13 3 14 10-9-17-14-8-14-1z"/><path color="#cc3f71" d="M998 2220l14-5-9-21-14 9z"/><path color="#c43c75" d="M1012 2215l14-5 14 19 14-15-9-20-14 14-14-22-14 8z"/><path color="#ba3878" d="M1054 2214l14 6-9-18-14-8z"/><path color="#c43c75" d="M1068 2220l14 5-9-15-14-8z"/><path color="#cc3f71" d="M428 2013l13 2 13 7 13 8 13 1 13 7 13-4-11-6-13 5-13-7-13 1-13-6-13-5-13 0z"/><path color="#c43c75" d="M506 2034l12-4 14 15 13 8 13 1 13 8-11-8-13-8-13 0-13-9-14-15-12 6z"/><path color="#cc3f71" d="M571 2062l13 9 14 14-11-7-14-14-13-10z"/><path color="#d5446d" d="M598 2085l13 2 13 3 13 20-10-7-14-20-13-3-13-2z"/><path color="#dc4869" d="M637 2110l13 3-10-6-13-4z"/><path color="#e34e65" d="M650 2113l14 18 13 5-11-5-13-6-13-18z"/><path color="#ea5661" d="M677 2136l13 12 13-4 14 12 13-3-10-2-14 2-13-12-13 3-14-13z"/><path color="#e34e65" d="M730 2153l13 7-10-2-13-7z"/><path color="#ea5661" d="M743 2160l14 8-11-1-13-9z"/><path color="#ef5d5e" d="M757 2168l13 19 13-5-10 0-13 5-14-20z"/><path color="#ea5661" d="M783 2182l14 3 13 5-10 1-13-5-14-4z"/><path color="#ef5d5e" d="M810 2190l14 16 13 1 14 9 13 4 14-6 13 16 14 0-10-1-14-1-13-15-14 5-14-3-13-9-14 0-13-15z"/><path color="#ea5661" d="M905 2230l14-14-10-4-14 17z"/><path color="#dc4869" d="M919 2216l14 0-10-7-14 3z"/><path color="#d5446d" d="M933 2216l14-12-10-9-14 14z"/><path color="#cc3f71" d="M947 2204l14-10-10-12-14 13z"/><path color="#ba3878" d="M961 2194l14 1 14 8 14-9-9-20-15 12-14-7-14 3z"/><path color="#a8327d" d="M1003 2194l14-8 14 22 14-14 14 8 14 8-9-15-14-10-14-10-15 12-13-26-14 13z"/><path color="#c43c75" d="M417 2016l13 0 13 5 13 6 13-1-12-4-12 3-13-4-13-4-13 2z"/><path color="#ba3878" d="M469 2026l13 7 13-5-12-6-12 5-14-5z"/><path color="#b2357b" d="M495 2028l12-6 14 15-11-7-14-15-13 7z"/><path color="#ba3878" d="M521 2037l13 9 13 0 13 8 13 10-11-8-13-9-13-9-13 1-13-9z"/><path color="#c43c75" d="M573 2064l14 14 13 2 13 3-11-8-13-3-13-1-14-15z"/><path color="#cc3f71" d="M613 2083l14 20 13 4-11-6-13-5-14-21z"/><path color="#d5446d" d="M640 2107l13 18-11-5-13-19z"/><path color="#dc4869" d="M653 2125l13 6 14 13 13-3 13 12-10-2-14-14-13 3-13-14-14-6z"/><path color="#e34e65" d="M706 2153l14-2-11-3-13 3z"/><path color="#dc4869" d="M720 2151l13 7-11-1-13-9z"/><path color="#e34e65" d="M733 2158l13 9-10-1-14-9z"/><path color="#ea5661" d="M746 2167l14 20 13-5 14 4-11 1-13-4-14 4-13-21z"/><path color="#e34e65" d="M787 2186l13 5-10 0-14-4z"/><path color="#ea5661" d="M800 2191l13 15 14 0 13 9 14 3 14-5 13 15 14 1-10-2-14 0-14-16-13 6-14-4-13-8-14 1-13-15z"/><path color="#e34e65" d="M895 2229l14-17-10-5-14 20z"/><path color="#d5446d" d="M909 2212l14-3-10-7-14 5z"/><path color="#c43c75" d="M923 2209l14-14-10-10-14 17z"/><path color="#b2357b" d="M937 2195l14-13-9-13-15 16z"/><path color="#a8327d" d="M951 2182l14-3 14 7-9-18-14-4-14 5z"/><path color="#a02f7f" d="M979 2186l15-12-10-22-14 16z"/><path color="#8e2a81" d="M994 2174l14-13 13 26 15-12 14 10 14 10-10-15-13-13-14-13-15 12-13-29-15 15z"/><path color="#c43c75" d="M406 2019l13-2-11 2-13 4z"/><path color="#ba3878" d="M419 2017l13 4 13 4 12-3-11-2-12 4-13-3-13-2z"/><path color="#b2357b" d="M457 2022l14 5 12-5-11-3-13 6-13-5z"/><path color="#a8327d" d="M483 2022l13-7 14 15 13 9 13-1 13 9-11-4-13-8-13 0-14-8-13-15-13 7z"/><path color="#b2357b" d="M549 2047l13 9 14 15-11-3-14-15-13-10z"/><path color="#ba3878" d="M576 2071l13 1-11-2-13-2z"/><path color="#b2357b" d="M589 2072l13 3-11-2-13-3z"/><path color="#ba3878" d="M602 2075l14 21-11-1-14-22z"/><path color="#c43c75" d="M616 2096l13 5-11-2-13-4z"/><path color="#cc3f71" d="M629 2101l13 19-10-1-14-20z"/><path color="#d5446d" d="M642 2120l14 6 13 14 13-3 14 14 13-3 13 9-10 0-14-8-13 2-13-14-14 3-13-14-13-7z"/><path color="#dc4869" d="M722 2157l14 9-11 2-13-11z"/><path color="#e34e65" d="M736 2166l13 21 14-4 13 4 14 4 13 15 14-1 13 8 14 4 13-6 14 16 14 0-11 1-13 0-14-15-14 6-13-3-14-8-13 1-14-14-13-4-14-5-13 4-14-22z"/><path color="#d5446d" d="M885 2227l14-20-10-2-15 23z"/><path color="#cc3f71" d="M899 2207l14-5-10-4-14 7z"/><path color="#ba3878" d="M913 2202l14-17-10-7-14 20z"/><path color="#a02f7f" d="M927 2185l15-16-10-10-15 19z"/><path color="#962c80" d="M942 2169l14-5-10-12-14 7z"/><path color="#8e2a81" d="M956 2164l14 4-10-13-14-3z"/><path color="#862781" d="M970 2168l14-16-9-14-15 17z"/><path color="#752181" d="M984 2152l15-15 13 29-9-14-14-32-14 18z"/><path color="#7c2382" d="M1012 2166l15-12-10-14-14 12z"/><path color="#752181" d="M1027 2154l14 13-10-13-14-14z"/><path color="#7c2382" d="M1041 2167l13 13-9-12-14-14z"/><path color="#ba3878" d="M395 2023l13-4-11 3-13 4z"/><path color="#b2357b" d="M408 2019l13 2 13 3 12-4-11 0-13 6-13-2-12-2z"/><path color="#a8327d" d="M446 2020l13 5 13-6-11 1-13 6-13-6z"/><path color="#a02f7f" d="M472 2019l13-7-11 1-13 7z"/><path color="#962c80" d="M485 2012l13 15-11 0-13-14z"/><path color="#a02f7f" d="M498 2027l14 8 13 0 13 8-11 1-13-8-13 0-14-9z"/><path color="#a8327d" d="M538 2043l13 10 14 15-11 2-13-16-14-10z"/><path color="#b2357b" d="M565 2068l13 2 13 3 14 22-11 3-13-22-14-4-13-2z"/><path color="#ba3878" d="M605 2095l13 4-11 4-13-5z"/><path color="#c43c75" d="M618 2099l14 20-11 4-14-20z"/><path color="#cc3f71" d="M632 2119l13 7 13 14-10 3-14-14-13-6z"/><path color="#d5446d" d="M658 2140l14-3 13 14 13-2 14 8 13 11-10 4-14-11-13-8-14 2-13-14-13 2z"/><path color="#dc4869" d="M725 2168l14 22-11 5-13-23z"/><path color="#e34e65" d="M739 2190l13-4-10 6-14 3z"/><path color="#dc4869" d="M752 2186l14 5 13 4-10 6-14-4-13-5z"/><path color="#e34e65" d="M779 2195l14 14 13-1 14 8 13 3-10 6-14-3-13-7-14 1-13-15z"/><path color="#dc4869" d="M833 2219l14-6 14 15 13 0-10 4-14 1-13-15-14 7z"/><path color="#d5446d" d="M874 2228l15-23-11 2-14 25z"/><path color="#ba3878" d="M889 2205l14-7-11-1-14 10z"/><path color="#a8327d" d="M903 2198l14-20-10-5-15 24z"/><path color="#962c80" d="M917 2178l15-19-10-7-15 21z"/><path color="#862781" d="M932 2159l14-7-10-7-14 7z"/><path color="#7c2382" d="M946 2152l14 3-10-7-14-3z"/><path color="#752181" d="M960 2155l15-17-10-7-15 17z"/><path color="#641a80" d="M975 2138l14-18 14 32-10-7-14-33-14 19z"/><path color="#6b1d81" d="M1003 2152l14-12-10-7-14 12z"/><path color="#641a80" d="M1017 2140l14 14-10-7-14-14z"/><path color="#6b1d81" d="M1031 2154l14 14-10-7-14-14z"/><path color="#b2357b" d="M384 2026l13-4 12 2 13 2-11 1-13-1-13-1-12 5z"/><path color="#a8327d" d="M422 2026l13-6-11 1-13 6z"/><path color="#a02f7f" d="M435 2020l13 6 13-6-11 1-13 6-13-6z"/><path color="#962c80" d="M461 2020l13-7 13 14 14 9 13 0 13 8-11 1-13-9-13 1-14-9-13-15-13 8z"/><path color="#a02f7f" d="M527 2044l14 10-12 0-13-9z"/><path color="#a8327d" d="M541 2054l13 16 13 2 14 4-11 2-14-4-13-3-14-17z"/><path color="#b2357b" d="M581 2076l13 22-11 4-13-24z"/><path color="#ba3878" d="M594 2098l13 5 14 20-11 4-13-21-14-4z"/><path color="#c43c75" d="M621 2123l13 6-10 4-14-6z"/><path color="#cc3f71" d="M634 2129l14 14 13-2 13 14 14-2 13 8-10 4-14-8-13 2-14-15-13 3-13-14z"/><path color="#d5446d" d="M701 2161l14 11-11 5-13-12z"/><path color="#dc4869" d="M715 2172l13 23 14-3 13 5 14 4-11 7-13-4-14-6-13 3-14-24z"/><path color="#e34e65" d="M769 2201l13 15 14-1 13 7 14 3-11 6-13-2-14-8-13 2-14-15z"/><path color="#dc4869" d="M823 2225l14-7 13 15 14-1-10 4-14 2-14-15-14 8z"/><path color="#cc3f71" d="M864 2232l14-25-10 1-14 28z"/><path color="#b2357b" d="M878 2207l14-10-10-2-14 13z"/><path color="#a02f7f" d="M892 2197l15-24-10-4-15 26z"/><path color="#862781" d="M907 2173l15-21-11-8-14 25z"/><path color="#752181" d="M922 2152l14-7 14 3-10-7-14-3-15 6z"/><path color="#641a80" d="M950 2148l15-17-10-8-15 18z"/><path color="#52137c" d="M965 2131l14-19 14 33-10-7-14-33-14 18z"/><path color="#5a167e" d="M993 2145l14-12 14 14 14 14-10-7-14-15-13-14-15 13z"/><path color="#b2357b" d="M373 2030l12-5-11 2-12 6z"/><path color="#a8327d" d="M385 2025l13 1 13 1-11 2-13-1-13-1z"/><path color="#a02f7f" d="M411 2027l13-6 13 6-11 1-13-6-13 7z"/><path color="#962c80" d="M437 2027l13-6-11 0-13 7z"/><path color="#8e2a81" d="M450 2021l13-8 13 15-11 1-13-15-13 7z"/><path color="#962c80" d="M476 2028l14 9-12 1-13-9z"/><path color="#8e2a81" d="M490 2037l13-1 13 9-11 1-13-9-14 1z"/><path color="#962c80" d="M516 2045l13 9-11 1-13-9z"/><path color="#a02f7f" d="M529 2054l14 17 13 3 14 4-11 3-14-5-13-3-14-18z"/><path color="#a8327d" d="M570 2078l13 24-11 4-13-25z"/><path color="#b2357b" d="M583 2102l14 4-11 4-14-4z"/><path color="#ba3878" d="M597 2106l13 21-11 4-13-21z"/><path color="#c43c75" d="M610 2127l14 6 13 14 13-3-10 4-14 3-13-14-14-6z"/><path color="#cc3f71" d="M650 2144l14 15 13-2-11 3-13 3-13-15z"/><path color="#c43c75" d="M677 2157l14 8-11 4-14-9z"/><path color="#cc3f71" d="M691 2165l13 12-11 4-13-12z"/><path color="#d5446d" d="M704 2177l14 24-11 5-14-25z"/><path color="#dc4869" d="M718 2201l13-3 14 6 13 4 14 15 13-2 14 8 13 2-10 6-14-1-13-8-14 1-13-15-14-3-14-7-13 2z"/><path color="#d5446d" d="M812 2231l14-8 14 15 14-2-11 4-14 2-13-14-14 9z"/><path color="#c43c75" d="M854 2236l14-28-10 1-15 31z"/><path color="#b2357b" d="M868 2208l14-13-10-1-14 15z"/><path color="#962c80" d="M882 2195l15-26-11-4-14 29z"/><path color="#7c2382" d="M897 2169l14-25-10-7-15 28z"/><path color="#6b1d81" d="M911 2144l15-6-10-8-15 7z"/><path color="#641a80" d="M926 2138l14 3-10-7-14-4z"/><path color="#5a167e" d="M940 2141l15-18-11-7-14 18z"/><path color="#491078" d="M955 2123l14-18 14 33 15-13 13 14-10-7-14-15-14 14-14-34-15 19z"/><path color="#52137c" d="M1011 2139l14 15-10-7-14-15z"/><path color="#a8327d" d="M362 2033l12-6 13 1-11 3-13 0-13 6z"/><path color="#a02f7f" d="M387 2028l13 1-11 2-13 0z"/><path color="#962c80" d="M400 2029l13-7 13 6-11 2-13-6-13 7z"/><path color="#8e2a81" d="M426 2028l13-7-11 3-13 6z"/><path color="#862781" d="M439 2021l13-7 13 15-11 2-14-15-12 8z"/><path color="#8e2a81" d="M465 2029l13 9 14-1 13 9 13 9-11 3-13-10-14-9-13 1-13-9z"/><path color="#962c80" d="M518 2055l14 18-11 3-14-18z"/><path color="#a02f7f" d="M532 2073l13 3 14 5-11 4-14-5-13-4z"/><path color="#a8327d" d="M559 2081l13 25-11 4-13-25z"/><path color="#b2357b" d="M572 2106l14 4 13 21-11 4-13-20-14-5z"/><path color="#ba3878" d="M599 2131l14 6-11 5-14-7z"/><path color="#c43c75" d="M613 2137l13 14 14-3 13 15 13-3 14 9-11 5-13-8-14 2-13-15-14 3-13-14z"/><path color="#cc3f71" d="M680 2169l13 12-10 6-14-13z"/><path color="#d5446d" d="M693 2181l14 25-11 6-13-25z"/><path color="#dc4869" d="M707 2206l13-2-10 6-14 2z"/><path color="#d5446d" d="M720 2204l14 7-11 7-13-8z"/><path color="#dc4869" d="M734 2211l14 3 13 15 14-1 13 8 14 1-11 8-13-1-14-8-14 1-13-15-14-4z"/><path color="#d5446d" d="M802 2237l14-9 13 14 14-2-10 6-14 3-14-14-14 10z"/><path color="#c43c75" d="M843 2240l15-31-11 3-14 34z"/><path color="#a8327d" d="M858 2209l14-15-11 1-14 17z"/><path color="#8e2a81" d="M872 2194l14-29-10-1-15 31z"/><path color="#6b1d81" d="M886 2165l15-28-10-3-15 30z"/><path color="#5a167e" d="M901 2137l15-7 14 4-11-3-14-4-14 7z"/><path color="#491078" d="M930 2134l14-18-10-4-15 19z"/><path color="#38106c" d="M944 2116l15-19 14 34-11-4-13-34-15 19z"/><path color="#400f74" d="M973 2131l14-14-10-4-15 14z"/><path color="#38106c" d="M987 2117l14 15-10-5-14-14z"/><path color="#400f74" d="M1001 2132l14 15-10-5-14-15z"/><path color="#a8327d" d="M350 2037l13-6-11 9-13 6z"/><path color="#a02f7f" d="M363 2031l13 0 13 0-11 9-13 0-13 0z"/><path color="#962c80" d="M389 2031l13-7-12 9-12 7z"/><path color="#8e2a81" d="M402 2024l13 6 13-6-11 9-13 6-14-6z"/><path color="#862781" d="M428 2024l12-8 14 15 13 9 13-1 14 9-11 9-14-9-13 1-13-9-14-15-12 8z"/><path color="#8e2a81" d="M494 2048l13 10-11 9-13-10z"/><path color="#962c80" d="M507 2058l14 18 13 4 14 5-11 9-14-5-13-4-14-18z"/><path color="#a02f7f" d="M548 2085l13 25-10 10-14-26z"/><path color="#a8327d" d="M561 2110l14 5-11 9-13-4z"/><path color="#b2357b" d="M575 2115l13 20-10 10-14-21z"/><path color="#ba3878" d="M588 2135l14 7-11 9-13-6z"/><path color="#c43c75" d="M602 2142l13 14 14-3 13 15 14-2 13 8-10 13-14-9-13 1-14-16-13 2-14-14z"/><path color="#cc3f71" d="M669 2174l14 13-11 12-13-12z"/><path color="#d5446d" d="M683 2187l13 25-10 11-14-24z"/><path color="#dc4869" d="M696 2212l14-2-11 10-13 3z"/><path color="#d5446d" d="M710 2210l13 8 14 4-11 10-13-5-14-7z"/><path color="#dc4869" d="M737 2222l13 15 14-1 14 8 13 1-10 13-14-1-14-9-13 0-14-16z"/><path color="#d5446d" d="M791 2245l14-10 14 14 14-3-11 13-14 3-13-14-14 10z"/><path color="#c43c75" d="M833 2246l14-34-11 14-14 33z"/><path color="#a8327d" d="M847 2212l14-17-10 15-15 16z"/><path color="#8e2a81" d="M861 2195l15-31-11 16-14 30z"/><path color="#6b1d81" d="M876 2164l15-30-11 17-15 29z"/><path color="#5a167e" d="M891 2134l14-7-11 16-14 8z"/><path color="#52137c" d="M905 2127l14 4-11 15-14-3z"/><path color="#491078" d="M919 2131l15-19-11 14-15 20z"/><path color="#38106c" d="M934 2112l15-19 13 34 15-14 14 14 14 15-10 6-14-13-14-13-15 17-14-33-15 20z"/><path color="#a8327d" d="M339 2046l13-6-11 9-13 6z"/><path color="#a02f7f" d="M352 2040l13 0 13 0-11 9-13 0-13 0z"/><path color="#962c80" d="M378 2040l12-7-11 9-12 7z"/><path color="#8e2a81" d="M390 2033l14 6 13-6-12 9-12 6-14-6z"/><path color="#862781" d="M417 2033l12-8 14 15 13 9 13-1 14 9-11 9-14-9-13 1-13-9-14-15-13 8z"/><path color="#8e2a81" d="M483 2057l13 10-11 9-13-10z"/><path color="#962c80" d="M496 2067l14 18 13 4 14 5-11 10-14-6-13-4-14-18z"/><path color="#a02f7f" d="M537 2094l14 26-11 9-14-25z"/><path color="#a8327d" d="M551 2120l13 4-11 9-13-4z"/><path color="#b2357b" d="M564 2124l14 21-11 9-14-21z"/><path color="#ba3878" d="M578 2145l13 6-11 9-13-6z"/><path color="#c43c75" d="M591 2151l14 14 13-2 14 16 13-1 14 9-11 13-14-10-13 0-14-17-13 1-14-14z"/><path color="#cc3f71" d="M659 2187l13 12-11 12-13-11z"/><path color="#d5446d" d="M672 2199l14 24-11 12-14-24z"/><path color="#dc4869" d="M686 2223l13-3-11 11-13 4z"/><path color="#d5446d" d="M699 2220l14 7 13 5-10 10-14-6-14-5z"/><path color="#dc4869" d="M726 2232l14 16 13 0 14 9 14 1 14-10-11 13-14 10-14-1-13-10-14-1-13-17z"/><path color="#d5446d" d="M795 2248l13 14 14-3-11 13-14 3-13-14z"/><path color="#c43c75" d="M822 2259l14-33-10 14-15 32z"/><path color="#a8327d" d="M836 2226l15-16-11 15-14 15z"/><path color="#8e2a81" d="M851 2210l14-30-11 16-14 29z"/><path color="#752181" d="M865 2180l15-29-11 17-15 28z"/><path color="#641a80" d="M880 2151l14-8-11 16-14 9z"/><path color="#5a167e" d="M894 2143l14 3-10 15-15-2z"/><path color="#491078" d="M908 2146l15-20-11 15-14 20z"/><path color="#38106c" d="M923 2126l15-20 14 33 15-17 14 13 14 13-11 6-14-11-14-11-15 18-14-30-15 21z"/><path color="#a8327d" d="M328 2055l13-6-11 9-13 6z"/><path color="#a02f7f" d="M341 2049l13 0 13 0-11 9-13 0-13 0z"/><path color="#962c80" d="M367 2049l12-7-11 9-12 7z"/><path color="#8e2a81" d="M379 2042l14 6 12-6-11 9-12 6-14-6z"/><path color="#862781" d="M405 2042l13-8 14 15 13 9 13-1 14 9-11 9-14-8-13 0-13-8-14-16-13 8z"/><path color="#8e2a81" d="M472 2066l13 10-11 9-13-10z"/><path color="#962c80" d="M485 2076l14 18 13 4 14 6-11 9-14-6-13-4-14-18z"/><path color="#a02f7f" d="M526 2104l14 25-11 9-14-25z"/><path color="#a8327d" d="M540 2129l13 4-11 9-13-4z"/><path color="#b2357b" d="M553 2133l14 21-11 9-14-21z"/><path color="#ba3878" d="M567 2154l13 6-11 9-13-6z"/><path color="#c43c75" d="M580 2160l14 14 13-1 14 17-11 11-14-17-13 0-14-15z"/><path color="#cc3f71" d="M621 2190l13 0 14 10 13 11-10 12-14-10-14-11-13-1z"/><path color="#d5446d" d="M661 2211l14 24-11 11-13-23z"/><path color="#dc4869" d="M675 2235l13-4-10 10-14 5z"/><path color="#d5446d" d="M688 2231l14 5-11 10-13-5z"/><path color="#dc4869" d="M702 2236l14 6 13 17-11 11-13-17-14-7z"/><path color="#e34e65" d="M729 2259l14 1 13 10 14 1-11 13-13-1-14-11-14-2z"/><path color="#dc4869" d="M770 2271l14-10 13 14 14-3-10 13-14 3-14-14-14 10z"/><path color="#c43c75" d="M811 2272l15-32-11 15-14 30z"/><path color="#b2357b" d="M826 2240l14-15-11 15-14 15z"/><path color="#962c80" d="M840 2225l14-29-11 16-14 28z"/><path color="#7c2382" d="M854 2196l15-28-11 17-15 27z"/><path color="#641a80" d="M869 2168l14-9-11 16-14 10z"/><path color="#5a167e" d="M883 2159l15 2-11 15-15-1z"/><path color="#52137c" d="M898 2161l14-20-11 14-14 21z"/><path color="#38106c" d="M912 2141l15-21 14 30 15-18-11 10-15 20-14-29-15 22z"/><path color="#2d1161" d="M956 2132l14 11-11 7-14-8z"/><path color="#38106c" d="M970 2143l14 11-10 5-15-9z"/><path color="#a8327d" d="M317 2064l13-6 13 0-11 14-13 0-13 5z"/><path color="#a02f7f" d="M343 2058l13 0-11 16-13-2z"/><path color="#962c80" d="M356 2058l12-7 14 6-11 16-14-6-12 7z"/><path color="#8e2a81" d="M382 2057l12-6-10 16-13 6z"/><path color="#862781" d="M394 2051l13-8 14 16-11 16-14-16-12 8z"/><path color="#8e2a81" d="M421 2059l13 8 13 0 14 8 13 10-10 16-14-9-13-9-14 0-13-8z"/><path color="#962c80" d="M474 2085l14 18-11 16-13-18z"/><path color="#a02f7f" d="M488 2103l13 4 14 6-11 16-13-5-14-5z"/><path color="#a8327d" d="M515 2113l14 25-11 16-14-25z"/><path color="#b2357b" d="M529 2138l13 4-11 17-13-5z"/><path color="#ba3878" d="M542 2142l14 21 13 6-10 17-14-7-14-20z"/><path color="#c43c75" d="M569 2169l14 15 13 0-10 16-14 0-13-14z"/><path color="#cc3f71" d="M596 2184l14 17 13 1 14 11-11 17-13-12-14-1-13-17z"/><path color="#d5446d" d="M637 2213l14 10-11 17-14-10z"/><path color="#dc4869" d="M651 2223l13 23 14-5 13 5 14 7-11 20-13-7-14-6-14 4-13-24z"/><path color="#e34e65" d="M705 2253l13 17 14 2 14 11-11 20-14-11-13-2-14-17z"/><path color="#ea5661" d="M746 2283l13 1-10 21-14-2z"/><path color="#e34e65" d="M759 2284l14-10 14 14 14-3-11 27-14 1-14-15-13 7z"/><path color="#d5446d" d="M801 2285l14-30-11 32-14 25z"/><path color="#ba3878" d="M815 2255l14-15-11 36-14 11z"/><path color="#a8327d" d="M829 2240l14-28-11 41-14 23z"/><path color="#8e2a81" d="M843 2212l15-27-11 46-15 22z"/><path color="#752181" d="M858 2185l14-10-11 46-14 10z"/><path color="#6b1d81" d="M872 2175l15 1-12 44-14 1z"/><path color="#641a80" d="M887 2176l14-21-11 43-15 22z"/><path color="#491078" d="M901 2155l15-22 14 29 15-20-12 39-15 21-13-26-15 22z"/><path color="#400f74" d="M945 2142l14 8 15 9-12 35-14-6-15-7z"/><path color="#b2357b" d="M306 2077l13-5-11 13-13 5z"/><path color="#a8327d" d="M319 2072l13 0 13 2-11 15-13-2-13-2z"/><path color="#a02f7f" d="M345 2074l12-7 14 6-11 16-13-5-13 5z"/><path color="#962c80" d="M371 2073l13-6-11 17-13 5z"/><path color="#8e2a81" d="M384 2067l12-8 14 16-11 16-14-15-12 8z"/><path color="#962c80" d="M410 2075l13 8-10 17-14-9z"/><path color="#8e2a81" d="M423 2083l14 0 13 9-11 16-13-9-13 1z"/><path color="#962c80" d="M450 2092l14 9-11 17-14-10z"/><path color="#a02f7f" d="M464 2101l13 18 14 5 13 5-11 17-13-6-14-4-13-18z"/><path color="#a8327d" d="M504 2129l14 25-11 17-14-25z"/><path color="#b2357b" d="M518 2154l13 5-10 16-14-4z"/><path color="#ba3878" d="M531 2159l14 20-11 17-13-21z"/><path color="#c43c75" d="M545 2179l14 7-11 16-14-6z"/><path color="#cc3f71" d="M559 2186l13 14 14 0 13 17-11 17-13-17-14-1-13-14z"/><path color="#d5446d" d="M599 2217l14 1 13 12-11 16-13-11-14-1z"/><path color="#dc4869" d="M626 2230l14 10-11 18-14-12z"/><path color="#e34e65" d="M640 2240l13 24 14-4 14 6 13 7-11 20-13-7-14-7-13 3-14-24z"/><path color="#ea5661" d="M694 2273l14 17 13 2-10 20-14-2-14-17z"/><path color="#ef5d5e" d="M721 2292l14 11 14 2-11 22-14-4-13-11z"/><path color="#ea5661" d="M749 2305l13-7 14 15 14-1-11 28-14-1-13-17-14 5z"/><path color="#e34e65" d="M790 2312l14-25-11 32-14 21z"/><path color="#d5446d" d="M804 2287l14-11-11 37-14 6z"/><path color="#c43c75" d="M818 2276l14-23-11 42-14 18z"/><path color="#a8327d" d="M832 2253l15-22-12 47-14 17z"/><path color="#962c80" d="M847 2231l14-10-11 45-15 12z"/><path color="#8e2a81" d="M861 2221l14-1-11 44-14 2z"/><path color="#7c2382" d="M875 2220l15-22-12 45-14 21z"/><path color="#6b1d81" d="M890 2198l15-22-12 45-15 22z"/><path color="#641a80" d="M905 2176l13 26 15-21-11 40-15 21-14-21z"/><path color="#5a167e" d="M933 2181l15 7 14 6-12 36-14-4-14-5z"/><path color="#b2357b" d="M295 2090l13-5 13 2-11 14-13-2-13 3z"/><path color="#a8327d" d="M321 2087l13 2 13-5-11 16-13 4-13-3z"/><path color="#a02f7f" d="M347 2084l13 5 13-5-11 16-13 6-13-6z"/><path color="#962c80" d="M373 2084l12-8 14 15 14 9 13-1 13 9-11 17-13-9-13 0-14-8-13-16-13 8z"/><path color="#a02f7f" d="M439 2108l14 10-11 16-14-9z"/><path color="#a8327d" d="M453 2118l13 18 14 4 13 6-11 16-13-5-13-5-14-18z"/><path color="#b2357b" d="M493 2146l14 25-11 16-14-25z"/><path color="#ba3878" d="M507 2171l14 4-11 17-14-5z"/><path color="#c43c75" d="M521 2175l13 21-10 16-14-20z"/><path color="#cc3f71" d="M534 2196l14 6 13 14-10 17-14-14-13-7z"/><path color="#d5446d" d="M561 2216l14 1 13 17 14 1-11 17-13-2-14-17-13 0z"/><path color="#dc4869" d="M602 2235l13 11 14 12-11 18-13-13-14-11z"/><path color="#ea5661" d="M629 2258l14 24 13-3 14 7 13 7-10 20-14-7-14-7-13 1-14-24z"/><path color="#ef5d5e" d="M683 2293l14 17-11 20-13-17z"/><path color="#f4675c" d="M697 2310l14 2 13 11 14 4 14-5 13 17 14 1-11 27-14-3-13-17-14 2-14-6-13-11-14-2z"/><path color="#ef5d5e" d="M779 2340l14-21-11 33-14 15z"/><path color="#e34e65" d="M793 2319l14-6-11 37-14 2z"/><path color="#dc4869" d="M807 2313l14-18-11 41-14 14z"/><path color="#cc3f71" d="M821 2295l14-17-11 46-14 12z"/><path color="#ba3878" d="M835 2278l15-12-12 46-14 12z"/><path color="#a8327d" d="M850 2266l14-2-12 44-14 4z"/><path color="#a02f7f" d="M864 2264l14-21-11 44-15 21z"/><path color="#862781" d="M878 2243l15-22-11 44-15 22z"/><path color="#7c2382" d="M893 2221l14 21 15-21-12 40-15 22-13-18z"/><path color="#6b1d81" d="M922 2221l14 5 14 4-11 36-14-3-15-2z"/><path color="#ba3878" d="M284 2102l13-3-11 20-12 1z"/><path color="#b2357b" d="M297 2099l13 2 13 3 13-4 13 6-10 28-14-7-12 2-14-5-13-5z"/><path color="#a8327d" d="M349 2106l13-6-10 29-13 5z"/><path color="#a02f7f" d="M362 2100l13-8 13 16-10 31-14-16-12 6z"/><path color="#a8327d" d="M388 2108l14 8 13 0 13 9 14 9-11 32-13-10-13-8-14 0-13-9z"/><path color="#b2357b" d="M442 2134l14 18-11 32-14-18z"/><path color="#ba3878" d="M456 2152l13 5 13 5-10 32-13-6-14-4z"/><path color="#c43c75" d="M482 2162l14 25-10 31-14-24z"/><path color="#cc3f71" d="M496 2187l14 5 14 20-11 31-14-20-13-5z"/><path color="#d5446d" d="M524 2212l13 7-11 31-13-7z"/><path color="#dc4869" d="M537 2219l14 14 13 0-11 32-13-1-14-14z"/><path color="#e34e65" d="M564 2233l14 17 13 2 14 11-11 31-13-11-14-2-14-16z"/><path color="#ea5661" d="M605 2263l13 13-10 30-14-12z"/><path color="#ef5d5e" d="M618 2276l14 24-11 29-13-23z"/><path color="#f4675c" d="M632 2300l13-1 14 7 14 7-11 30-14-8-13-7-14 1z"/><path color="#f7705c" d="M673 2313l13 17 14 2 13 11-10 32-14-12-13-3-14-17z"/><path color="#f97b5d" d="M713 2343l14 6-11 33-13-7z"/><path color="#f7705c" d="M727 2349l14-2-11 33-14 2z"/><path color="#f97b5d" d="M741 2347l13 17 14 3-11 35-13-4-14-18z"/><path color="#f7705c" d="M768 2367l14-15-11 39-14 11z"/><path color="#f4675c" d="M782 2352l14-2-11 42-14-1z"/><path color="#ef5d5e" d="M796 2350l14-14-11 47-14 9z"/><path color="#e34e65" d="M810 2336l14-12-11 51-14 8z"/><path color="#dc4869" d="M824 2324l14-12-11 53-14 10z"/><path color="#cc3f71" d="M838 2312l14-4-11 55-14 2z"/><path color="#c43c75" d="M852 2308l15-21-12 57-14 19z"/><path color="#a8327d" d="M867 2287l15-22 13 18-11 59-14-17-15 19z"/><path color="#a02f7f" d="M895 2283l15-22-12 62-14 19z"/><path color="#962c80" d="M910 2261l15 2-13 62-14-2z"/><path color="#8e2a81" d="M925 2263l14 3-12 62-15-3z"/><path color="#c43c75" d="M274 2120l12-1 13 5 14 5 12-2 14 7-10 32-14-8-13-1-13-7-13-8-13-2z"/><path color="#ba3878" d="M339 2134l13-5-11 34-12 3z"/><path color="#b2357b" d="M352 2129l12-6-10 36-13 4z"/><path color="#ba3878" d="M364 2123l14 16 13 9 14 0 13 8-10 37-14-9-13 0-13-9-14-16z"/><path color="#c43c75" d="M418 2156l13 10 14 18-10 36-14-17-13-10z"/><path color="#cc3f71" d="M445 2184l14 4 13 6-10 37-14-6-13-5z"/><path color="#d5446d" d="M472 2194l14 24-10 36-14-23z"/><path color="#dc4869" d="M486 2218l13 5-10 36-13-5z"/><path color="#e34e65" d="M499 2223l14 20-10 35-14-19z"/><path color="#ea5661" d="M513 2243l13 7 14 14-10 35-14-13-13-8z"/><path color="#ef5d5e" d="M540 2264l13 1 14 16 14 2-11 37-13-3-14-16-13-2z"/><path color="#f4675c" d="M581 2283l13 11 14 12-11 35-13-10-14-11z"/><path color="#f7705c" d="M608 2306l13 23-10 33-14-21z"/><path color="#f97b5d" d="M621 2329l14-1 13 7 14 8-11 32-13-9-14-6-13 2z"/><path color="#fb8560" d="M662 2343l14 17 13 3-11 35-13-5-14-18z"/><path color="#fc9065" d="M689 2363l14 12 13 7 14-2 14 18-11 36-14-17-13 1-14-7-14-13z"/><path color="#fd9a6a" d="M744 2398l13 4-11 36-13-4z"/><path color="#fc9065" d="M757 2402l14-11-11 40-14 7z"/><path color="#fb8560" d="M771 2391l14 1 14-9-11 49-14 4-14-5z"/><path color="#f7705c" d="M799 2383l14-8-12 53-13 4z"/><path color="#f4675c" d="M813 2375l14-10-12 56-14 7z"/><path color="#ef5d5e" d="M827 2365l14-2-12 57-14 1z"/><path color="#ea5661" d="M841 2363l14-19-11 62-15 14z"/><path color="#d5446d" d="M855 2344l15-19 14 17-12 64-14-15-14 15z"/><path color="#cc3f71" d="M884 2342l14-19-12 68-14 15z"/><path color="#c43c75" d="M898 2323l14 2 15 3-13 70-14-4-14-3z"/><path color="#d5446d" d="M263 2140l13 2 13 8 13 7 13 1 14 8 12-3 13-4 14 16-10 46-13-16-13 2-13 0-13-9-13-2-14-8-13-9-13-3z"/><path color="#dc4869" d="M368 2175l13 9-9 46-14-9z"/><path color="#d5446d" d="M381 2184l13 0 14 9-10 46-13-8-13-1z"/><path color="#dc4869" d="M408 2193l13 10-9 46-14-10z"/><path color="#e34e65" d="M421 2203l14 17 13 5 14 6-10 44-14-6-13-5-13-15z"/><path color="#ea5661" d="M462 2231l14 23-10 42-14-21z"/><path color="#ef5d5e" d="M476 2254l13 5-10 42-13-5z"/><path color="#f4675c" d="M489 2259l14 19-10 41-14-18z"/><path color="#f7705c" d="M503 2278l13 8 14 13 13 2-10 38-14-1-13-13-13-6z"/><path color="#f97b5d" d="M543 2301l14 16 13 3 14 11-11 36-13-10-14-2-13-16z"/><path color="#fb8560" d="M584 2331l13 10-10 36-14-10z"/><path color="#fc9065" d="M597 2341l14 21 13-2 14 6 13 9-10 34-14-9-13-6-14 2-13-19z"/><path color="#fd9a6a" d="M651 2375l14 18-11 33-13-17z"/><path color="#fea36f" d="M665 2393l13 5 14 13-11 32-13-12-14-5z"/><path color="#feae77" d="M692 2411l14 7 13-1 14 17-11 32-14-16-13 1-14-8z"/><path color="#feb77e" d="M733 2434l13 4-10 33-14-5z"/><path color="#feae77" d="M746 2438l14-7-11 37-13 3z"/><path color="#fea36f" d="M760 2431l14 5 14-4-11 42-14 1-14-7z"/><path color="#fd9a6a" d="M788 2432l13-4-11 46-13 0z"/><path color="#fc9065" d="M801 2428l14-7 14-1-11 51-14-1-14 4z"/><path color="#f97b5d" d="M829 2420l15-14-12 54-14 11z"/><path color="#f7705c" d="M844 2406l14-15-12 58-14 11z"/><path color="#f4675c" d="M858 2391l14 15 14-15-12 61-14 12-14-15z"/><path color="#ef5d5e" d="M886 2391l14 3 14 4-12 62-14-4-14-4z"/><path color="#ea5661" d="M253 2176l13 3 13 9-9 46-13-8-13-3z"/><path color="#ef5d5e" d="M279 2188l14 8 13 2 13 9 13 0-9 49-13-1-14-10-13-2-13-9z"/><path color="#ea5661" d="M332 2207l13-2-10 51-12 0z"/><path color="#ef5d5e" d="M345 2205l13 16-9 52-14-17z"/><path color="#f4675c" d="M358 2221l14 9 13 1 13 8 14 10-10 52-13-9-14-9-13-1-13-9z"/><path color="#f7705c" d="M412 2249l13 15 13 5 14 6-10 49-13-5-13-4-14-14z"/><path color="#f97b5d" d="M452 2275l14 21-10 46-14-18z"/><path color="#fb8560" d="M466 2296l13 5 14 18-10 43-14-16-13-4z"/><path color="#fc9065" d="M493 2319l13 6 13 13-10 40-13-11-13-5z"/><path color="#fd9a6a" d="M519 2338l14 1 13 16 14 2 13 10-10 36-14-9-13-1-13-14-14-1z"/><path color="#fea36f" d="M573 2367l14 10-11 36-13-10z"/><path color="#feae77" d="M587 2377l13 19 14-2 13 6 14 9-11 35-13-8-14-6-13 1-14-18z"/><path color="#feb77e" d="M641 2409l13 17 14 5-11 32-13-4-14-15z"/><path color="#fec287" d="M668 2431l13 12 14 8 13-1 14 16-11 31-13-16-14 0-13-7-14-11z"/><path color="#fecc8f" d="M722 2466l14 5-11 31-14-5z"/><path color="#fec287" d="M736 2471l13-3 14 7 14-1 13 0-11 42-13-3-14-2-14-9-13 0z"/><path color="#feb77e" d="M790 2474l14-4 14 1-11 47-14-4-14 2z"/><path color="#feae77" d="M818 2471l14-11-11 50-14 8z"/><path color="#fd9a6a" d="M832 2460l14-11 14 15 14-12-11 56-14 9-14-15-14 8z"/><path color="#fc9065" d="M874 2452l14 4 14 4-11 58-14-5-14-5z"/><path color="#fb8560" d="M244 2223l13 3 13 8 13 9-8 60-13-7-13-8-13-3z"/><path color="#fc9065" d="M283 2243l13 2 14 10 13 1-9 62-13-2-13-10-13-3z"/><path color="#fb8560" d="M323 2256l12 0-8 63-13-1z"/><path color="#fc9065" d="M335 2256l14 17 13 9 13 1 14 9-9 59-13-7-13-2-14-8-13-15z"/><path color="#fd9a6a" d="M389 2292l13 9 14 14-10 56-13-12-13-8z"/><path color="#fea36f" d="M416 2315l13 4 13 5 14 18-10 51-13-15-14-4-13-3z"/><path color="#feae77" d="M456 2342l13 4 14 16-10 48-14-13-13-4z"/><path color="#feb77e" d="M483 2362l13 5 13 11 14 1 13 14 13 1 14 9-11 40-13-7-13-1-14-11-13-1-13-9-13-4z"/><path color="#fec287" d="M563 2403l13 10-10 39-14-9z"/><path color="#fecc8f" d="M576 2413l14 18 13-1 14 6 13 8 14 15-11 33-13-13-14-7-13-5-14 1-13-16z"/><path color="#fed799" d="M644 2459l13 4 14 11 13 7 14 0 13 16-10 28-14-14-13 0-14-7-13-9-14-3z"/><path color="#fde0a1" d="M711 2497l14 5 13 0 14 9 14 2 13 3-10 33-14-4-14-3-13-11-14-2-13-4z"/><path color="#fed799" d="M779 2516l14-2 14 4-11 38-14-6-13-1z"/><path color="#fecc8f" d="M807 2518l14-8-11 42-14 4z"/><path color="#fec287" d="M821 2510l14-8 14 15 14-9-12 47-14 7-13-14-14 4z"/><path color="#feb77e" d="M863 2508l14 5 14 5-12 48-14-5-14-6z"/><path color="#fecc8f" d="M236 2285l13 3 13 8 13 7 13 3 13 10 13 2 13 1 13 15 14 8 13 2 13 7 13 8-9 66-13-7-13-5-13-2-13-5-13-12-13-1-12-1-13-7-13-3-13-7-13-7-13-4z"/><path color="#fed799" d="M393 2359l13 12 13 3 14 4 13 15-9 58-14-13-13-2-13-3-13-8z"/><path color="#fde0a1" d="M446 2393l13 4 14 13 13 4 13 9 13 1 14 11 13 1 13 7 14 9-10 42-14-6-13-6-13 0-13-9-13 1-14-8-13-3-13-10-13-2z"/><path color="#fdebac" d="M566 2452l13 16 14-1 13 5 14 7 13 13 14 3 13 9 14 7 13 0 14 14-11 25-14-12-13 1-14-4-13-7-13-2-14-11-13-5-14-4-13 2-13-14z"/><path color="#fcf4b6" d="M701 2525l13 4-11 24-13-3z"/><path color="#fdebac" d="M714 2529l14 2 13 11-10 23-14-10-14-2z"/><path color="#fcf4b6" d="M741 2542l14 3 14 4-11 24-14-4-13-4z"/><path color="#fdebac" d="M769 2549l13 1 14 6 14-4-11 32-14 1-14-8-13-4z"/><path color="#fde0a1" d="M810 2552l14-4 13 14 14-7 14 6 14 5-11 38-14-6-14-6-14 5-13-14-14 1z"/><path color="#fcf4b6" d="M229 2364l13 4 13 7 13 7 13 3 13 7 12 1 13 1 13 12 13 5 13 2 13 5 13 7 13 8 13 3 13 2 14 13 13 2 13 10-11 13-13-5-13-5-13-5-13-5-13-5-13-5-13-5-13-5-13-5-13-5-13-5-13-5-13-5-13-5-13-5-13-4-12-5-13-5z"/><path color="#fcfdbf" d="M463 2463l13 3 14 8-11 12-13-5-14-5z"/><path color="#fcf4b6" d="M490 2474l13-1 13 9 13 0 13 6 14 6-11 17-13-5-14-5-13-5-13-5-13-5z"/><path color="#fcfdbf" d="M556 2494l13 14 13-2-10 15-14-5-13-5z"/><path color="#fcf4b6" d="M582 2506l14 4 13 5-11 16-13-5-13-5z"/><path color="#fcfdbf" d="M609 2515l14 11 13 2 13 7 14 4-11 13-13-5-14-5-13-5-14-6z"/><path color="#fcf4b6" d="M663 2539l13-1 14 12-11 12-13-5-14-5z"/><path color="#fcfdbf" d="M690 2550l13 3-10 14-14-5z"/><path color="#fcf4b6" d="M703 2553l14 2 14 10-11 13-14-5-13-6z"/><path color="#fcfdbf" d="M731 2565l13 4 14 4-11 15-14-5-13-5z"/><path color="#fcf4b6" d="M758 2573l13 4 14 8 14-1 14-1 13 14 14-5 14 6 14 6-11 21-14-5-14-4-13-5-14-4-14-5-14-5-13-4-14-5z"/><path color="#fcfdbf" d="M219 2387l13 5 12 5 13 4 13 5 13 5 13 5 13 5 13 5 13 5 13 5 13 5 13 5 13 5 13 5 13 5 13 5 13 5 13 5 14 5 13 5 13 5 13 5 13 5 14 5 13 5 13 5 14 5 13 5 13 5 14 6 13 5 14 5 13 5 14 5 13 5 14 5 13 6 14 5 13 5 14 5 14 5 13 4 14 5 14 5 14 4 13 5 14 4 14 5-11 17-14-5-13-5-14-6-14-5-14-5-13-5-14-6-14-5-13-5-14-5-13-5-14-6-14-5-13-5-14-5-13-5-14-5-13-6-13-5-14-5-13-5-13-5-14-5-13-5-13-5-14-5-13-5-13-5-13-5-14-5-13-5-13-5-13-6-13-5-13-4-13-5-13-5-13-5-13-5-13-5-13-5-13-5-13-5-13-5-13-5-13-5-12-5-13-5zM208 2398l13 5 12 5 13 5 13 5 13 5 13 5 13 5 13 5 13 5 13 5 13 5 13 5 13 5 13 4 13 5 13 6 13 5 13 5 14 5 13 5 13 5 13 5 14 5 13 5 13 5 14 5 13 5 13 5 14 5 13 5 13 6 14 5 13 5 14 5 13 5 14 5 14 6 13 5 14 5 13 5 14 5 14 6 13 5 14 5 14 5 14 6 13 5 14 5-10 10-14-5-14-5-14-6-14-5-13-5-14-5-14-6-13-5-14-5-14-5-13-5-14-6-13-5-14-5-13-5-14-5-13-6-14-5-13-5-14-5-13-5-13-5-14-5-13-5-13-5-14-6-13-5-13-5-13-5-13-5-14-5-13-5-13-5-13-5-13-5-13-5-13-5-13-5-13-5-13-5-13-5-13-5-13-5-13-5-13-5-13-5-12-4-13-5zM197 2408l13 5 12 4 13 5 13 5 13 5 13 5 13 5 13 5 13 5 13 5 13 5 13 5 13 5 13 5 13 5 13 5 13 5 14 5 13 5 13 5 13 5 13 5 14 6 13 5 13 5 14 5 13 5 13 5 14 5 13 5 14 5 13 6 14 5 13 5 14 5 13 5 14 6 13 5 14 5 14 5 13 5 14 6 14 5 13 5 14 5 14 6 14 5 14 5-11 10-14-5-14-5-13-5-14-6-14-5-14-5-13-6-14-5-14-5-13-5-14-6-14-5-13-5-14-5-13-5-14-6-13-5-14-5-13-5-14-5-13-5-13-5-14-6-13-5-13-5-14-5-13-5-13-5-13-5-13-5-14-5-13-5-13-5-13-5-13-5-13-5-13-5-13-5-13-5-13-5-13-5-13-5-13-5-13-5-13-5-13-5-13-5-12-5zM186 2417l12 5 13 5 13 5 13 5 13 5 13 5 13 5 13 5 13 5 13 5 13 5 13 5 13 5 13 5 13 5 13 5 13 5 14 5 13 5 13 5 13 5 13 5 14 5 13 5 13 5 14 6 13 5 13 5 14 5 13 5 14 5 13 5 14 6 13 5 14 5 13 5 14 5 14 6 13 5 14 5 14 5 13 6 14 5 14 5 14 6 13 5 14 5 14 5-11 11-14-6-13-5-14-5-14-6-14-5-13-5-14-6-14-5-14-5-13-5-14-6-13-5-14-5-14-5-13-5-14-6-13-5-14-5-13-5-13-5-14-5-13-6-14-5-13-5-13-5-14-5-13-5-13-5-13-5-13-5-14-6-13-5-13-5-13-5-13-5-13-5-13-5-13-5-13-5-13-5-13-5-13-5-13-5-13-5-13-5-13-5-13-5-13-5z"/></g><text x="33.1" y="1277.8" font-size="39">0°</text><text x="68.2" y="1296.9" font-size="39">10°</text><text x="123.1" y="1321.0" font-size="39">20°</text><text x="176.4" y="1343.9" font-size="39">30°</text><text x="229.1" y="1363.6" font-size="39">40°</text><text x="284.9" y="1383.3" font-size="39">50°</text><text x="339.9" y="1404.9" font-size="39">60°</text><text x="441.5" y="1392.8" font-size="39">0.0</text><text x="501.9" y="1338.0" font-size="39">0.10</text><text x="554.2" y="1287.0" font-size="39">0.20</text><text x="604.6" y="1232.8" font-size="39">0.30</text><text x="672.2" y="934.4" font-size="39">2.0</text><text x="665.7" y="994.2" font-size="39">1.5</text><text x="661.2" y="1055.6" font-size="39">1.0</text><text x="658.3" y="1115.4" font-size="39">0.5</text><text x="656.4" y="1171.6" font-size="39">0.0</text><text transform="translate(144.0 1355.9) rotate(21.10)" x="-106.6" y="9.3" font-size="39" font-weight="bold" xml:space="preserve">Tilt angle (<tspan font-style="italic">δ</tspan>)</text><text transform="translate(631.7 1320.2) rotate(-43.70)" x="-100.7" y="9.2" font-size="39" font-weight="bold" xml:space="preserve">Energy (eV)</text><text transform="translate(749.0 1046.0) rotate(90.00)" x="-111.3" y="13.4" font-size="39" font-weight="bold" xml:space="preserve">Transmission</text><text x="728.4" y="1406.0" font-size="44" font-weight="bold" fill="#a51c20">(c)</text><text x="602.2" y="799.1" font-size="60" font-weight="bold">W</text><text x="663.2" y="799.1" font-size="30.0" font-weight="bold">1</text><text x="693.2" y="799.1" font-size="60" font-weight="bold">(K’)</text><path d="M875.3 1181.3L852.5 926M910.7 1155.9L890.8 900.4M945.7 1130.9L928.7 875.1M980.3 1106.2L966 850.2M1014.4 1081.7L1002.9 825.5M1048.1 1057.6L1039.3 801.2M1081.5 1033.8L1075.2 777.2M1114.4 1010.2L1110.6 753.5M855.7 1186L1140.4 982.7M851.6 1144L1140.1 940.4M847.5 1101L1139.8 897M843.3 1056.8L1139.5 852.4M838.9 1011.4L1139.2 806.8M834.5 964.7L1138.8 759.9M1160.6 1001.7L1160.4 745M1207.8 1025.5L1211.1 769M1255.6 1049.5L1262.6 793.2M1303.9 1073.9L1314.7 817.8M1352.8 1098.5L1367.4 842.6M1402.3 1123.4L1420.9 867.8M1452.4 1148.6L1475 893.3M1140.4 982.7L1475.9 1151.3M1140.1 940.4L1480 1109.3M1139.8 897L1484.1 1066.2M1139.5 852.4L1488.3 1022M1139.2 806.8L1492.7 976.6M1138.8 759.9L1497.1 929.9M877 1206L1160.6 1001.7M924.9 1232.2L1207.8 1025.5M973.4 1258.8L1255.6 1049.5M1022.6 1285.8L1303.9 1073.9M1072.3 1313.1L1352.8 1098.5M1122.7 1340.7L1402.3 1123.4M1173.7 1368.7L1452.4 1148.6M875.3 1181.3L1215.3 1366.6M910.7 1155.9L1250.1 1339M945.7 1130.9L1284.4 1311.7M980.3 1106.2L1318.3 1284.7M1014.4 1081.7L1351.7 1258.1M1048.1 1057.6L1384.8 1231.8M1081.5 1033.8L1417.4 1205.9M1114.4 1010.2L1449.6 1180.3" stroke="#b4b4b4" stroke-width="1.5" fill="none"/><path d="M856.5 1194.7L1196.8 1381.3L1475.1 1160L1499.5 904.9" stroke="#000" stroke-width="2.2" fill="none" stroke-linejoin="miter"/><path d="M879 1204.5L871.7 1209.8M926.9 1230.8L919.7 1236.1M975.4 1257.4L968.2 1262.7M1024.6 1284.3L1017.4 1289.7M1074.3 1311.5L1067.1 1317M1124.7 1339.1L1117.6 1344.7M1175.7 1367.1L1168.6 1372.7M1213.1 1365.4L1221 1369.7M1247.9 1337.8L1255.8 1342M1282.2 1310.5L1290.1 1314.7M1316.1 1283.5L1324 1287.7M1349.5 1256.9L1357.5 1261.1M1382.6 1230.7L1390.6 1234.8M1415.2 1204.8L1423.2 1208.9M1447.4 1179.1L1455.4 1183.2M1473.7 1150.1L1481.7 1154.2M1477.7 1108.2L1485.8 1112.2M1481.8 1065.1L1489.9 1069.1M1486.1 1020.9L1494.2 1024.8M1490.4 975.5L1498.5 979.4M1494.9 928.8L1503 932.7" stroke="#000" stroke-width="2"/><g class="sf" transform="scale(.5)"><path color="#050416" d="M2283 1531l13 41-13 40-13-39z"/><path color="#1d1147" d="M2296 1572l13 48-13 39-13-47z"/><path color="#400f74" d="M2309 1620l12 47-13 38-12-46z"/><path color="#5a167e" d="M2321 1667l13 38-13 37-13-37z"/><path color="#862781" d="M2334 1705l12 64-13 30-12-57z"/><path color="#b2357b" d="M2346 1769l12 53-13 23-12-46z"/><path color="#d5446d" d="M2358 1822l12 53-12 16-13-46z"/><path color="#f7705c" d="M2370 1875l12 67-13 9-11-60z"/><path color="#fc9065" d="M2382 1942l12-2-12 9-13 2z"/><path color="#f97b5d" d="M2394 1940l12-7-12 8-12 8z"/><path color="#f7705c" d="M2406 1933l13-3-13 9-12 2z"/><path color="#f4675c" d="M2419 1930l12-1-12 9-13 1z"/><path color="#ea5661" d="M2431 1929l13-35-13 12-12 32z"/><path color="#c43c75" d="M2444 1894l13-45-12 13-14 44z"/><path color="#962c80" d="M2457 1849l14-46-13 16-13 43z"/><path color="#6b1d81" d="M2471 1803l13-27-13 18-13 25z"/><path color="#52137c" d="M2484 1776l13-22-13 18-13 22z"/><path color="#400f74" d="M2497 1754l13-2-13 16-13 4z"/><path color="#38106c" d="M2510 1752l14-20-13 15-14 21z"/><path color="#1d1147" d="M2524 1732l13-9-13 13-13 11z"/><path color="#160f3b" d="M2537 1723l14-11-13 13-14 11z"/><path color="#100b2d" d="M2551 1712l12 13 14-10-13 11-14 11-12-12z"/><path color="#0a0822" d="M2577 1715l13 5-13 9-13-3z"/><path color="#100b2d" d="M2590 1720l12 24-13 10-12-25z"/><path color="#1d1147" d="M2602 1744l12 40-13 11-12-41z"/><path color="#2d1161" d="M2614 1784l13 3 12 16-12 14-13-17-13-5z"/><path color="#400f74" d="M2639 1803l12 40-13 14-11-40z"/><path color="#6b1d81" d="M2651 1843l11 52-13 14-11-52z"/><path color="#862781" d="M2662 1895l11 33-12 14-12-33z"/><path color="#a8327d" d="M2673 1928l11 42-12 14-11-42z"/><path color="#b2357b" d="M2684 1970l13 3 14-7-13 19-14 5-12-6z"/><path color="#a8327d" d="M2711 1966l12 16-13 20-12-17z"/><path color="#b2357b" d="M2723 1982l13-1-13 23-13-2z"/><path color="#a02f7f" d="M2736 1981l15-24-13 28-15 19z"/><path color="#8e2a81" d="M2751 1957l14-9-14 32-13 5z"/><path color="#7c2382" d="M2765 1948l15-22-14 37-15 17z"/><path color="#641a80" d="M2780 1926l15-21-15 43-14 15z"/><path color="#5a167e" d="M2795 1905l13 12-15 41-13-10z"/><path color="#641a80" d="M2808 1917l12 20 14 2 13 1-14 38-14 0-14-1-12-19z"/><path color="#752181" d="M2847 1940l10 48-15 44-9-54z"/><path color="#8e2a81" d="M2857 1988l13 10-16 52-12-18z"/><path color="#962c80" d="M2870 1998l11 32-16 58-11-38z"/><path color="#b2357b" d="M2881 2030l11 31-16 64-11-37z"/><path color="#160f3b" d="M2270 1573l13 39-13 40-12-38z"/><path color="#38106c" d="M2283 1612l13 47-13 39-13-46z"/><path color="#5a167e" d="M2296 1659l12 46-12 38-13-45z"/><path color="#752181" d="M2308 1705l13 37-13 37-12-36z"/><path color="#962c80" d="M2321 1742l12 57-12 29-13-49z"/><path color="#c43c75" d="M2333 1799l12 46-12 23-12-40z"/><path color="#e34e65" d="M2345 1845l13 46-13 16-12-39z"/><path color="#f7705c" d="M2358 1891l11 60-12 9-12-53z"/><path color="#fc9065" d="M2369 1951l13-2-13 9-12 2z"/><path color="#f97b5d" d="M2382 1949l12-8-13 10-12 7z"/><path color="#f7705c" d="M2394 1941l12-2-12 9-13 3z"/><path color="#f4675c" d="M2406 1939l13-1-13 9-12 1z"/><path color="#ea5661" d="M2419 1938l12-32-12 11-13 30z"/><path color="#c43c75" d="M2431 1906l14-44-13 15-13 40z"/><path color="#962c80" d="M2445 1862l13-43-13 16-13 42z"/><path color="#752181" d="M2458 1819l13-25-13 19-13 22z"/><path color="#5a167e" d="M2471 1794l13-22-12 18-14 23z"/><path color="#491078" d="M2484 1772l13-4-13 17-12 5z"/><path color="#38106c" d="M2497 1768l14-21-13 16-14 22z"/><path color="#251255" d="M2511 1747l13-11-13 15-13 12z"/><path color="#160f3b" d="M2524 1736l14-11 12 12-13 12-12-10-14 12z"/><path color="#100b2d" d="M2550 1737l14-11-13 11-14 12z"/><path color="#0a0822" d="M2564 1726l13 3-13 11-13-3z"/><path color="#100b2d" d="M2577 1729l12 25-13 11-12-25z"/><path color="#1d1147" d="M2589 1754l12 41-13 13-12-43z"/><path color="#2d1161" d="M2601 1795l13 5-13 13-13-5z"/><path color="#38106c" d="M2614 1800l13 17-13 15-13-19z"/><path color="#491078" d="M2627 1817l11 40-13 14-11-39z"/><path color="#6b1d81" d="M2638 1857l11 52-13 14-11-52z"/><path color="#8e2a81" d="M2649 1909l12 33-13 13-12-32z"/><path color="#a8327d" d="M2661 1942l11 42-13 14-11-43z"/><path color="#ba3878" d="M2672 1984l12 6-12 16-13-8z"/><path color="#b2357b" d="M2684 1990l14-5-13 18-13 3z"/><path color="#ba3878" d="M2698 1985l12 17 13 2-13 23-13-4-12-20z"/><path color="#b2357b" d="M2723 2004l15-19-14 28-14 14z"/><path color="#a02f7f" d="M2738 1985l13-5-14 33-13 0z"/><path color="#8e2a81" d="M2751 1980l15-17-15 38-14 12z"/><path color="#7c2382" d="M2766 1963l14-15 13 10 12 19-14 40-13-17-12-9-15 10z"/><path color="#862781" d="M2805 1977l14 1-15 39-13 0z"/><path color="#7c2382" d="M2819 1978l14 0-15 40-14-1z"/><path color="#8e2a81" d="M2833 1978l9 54-15 44-9-58z"/><path color="#b2357b" d="M2842 2032l12 18-15 51-12-25z"/><path color="#c43c75" d="M2854 2050l11 38-16 56-10-43z"/><path color="#e34e65" d="M2865 2088l11 37-17 62-10-43z"/><path color="#2d1161" d="M2258 1614l12 38-12 41-13-39z"/><path color="#52137c" d="M2270 1652l13 46-12 41-13-46z"/><path color="#752181" d="M2283 1698l13 45-13 41-12-45z"/><path color="#8e2a81" d="M2296 1743l12 36-12 43-13-38z"/><path color="#b2357b" d="M2308 1779l13 49-13 35-12-41z"/><path color="#d5446d" d="M2321 1828l12 40-13 27-12-32z"/><path color="#ea5661" d="M2333 1868l12 39-12 20-13-32z"/><path color="#f97b5d" d="M2345 1907l12 53-12 12-12-45z"/><path color="#fc9065" d="M2357 1960l12-2-12 12-12 2z"/><path color="#fb8560" d="M2369 1958l12-7-12 12-12 7z"/><path color="#f7705c" d="M2381 1951l13-3 12-1-12 12-13 2-12 2z"/><path color="#ea5661" d="M2406 1947l13-30-13 16-12 26z"/><path color="#cc3f71" d="M2419 1917l13-40-13 20-13 36z"/><path color="#a02f7f" d="M2432 1877l13-42-13 26-13 36z"/><path color="#862781" d="M2445 1835l13-22-13 29-13 19z"/><path color="#6b1d81" d="M2458 1813l14-23-14 29-13 23z"/><path color="#5a167e" d="M2472 1790l12-5-13 29-13 5z"/><path color="#491078" d="M2484 1785l14-22-13 30-14 21z"/><path color="#2d1161" d="M2498 1763l13-12-13 30-13 12z"/><path color="#251255" d="M2511 1751l14-12-14 29-13 13z"/><path color="#1d1147" d="M2525 1739l12 10-13 28-13-9z"/><path color="#160f3b" d="M2537 1749l14-12-13 28-14 12z"/><path color="#100b2d" d="M2551 1737l13 3-13 26-13-1z"/><path color="#160f3b" d="M2564 1740l12 25-13 26-12-25z"/><path color="#251255" d="M2576 1765l12 43-13 24-12-41z"/><path color="#38106c" d="M2588 1808l13 5-13 24-13-5z"/><path color="#400f74" d="M2601 1813l13 19-14 23-12-18z"/><path color="#52137c" d="M2614 1832l11 39-13 21-12-37z"/><path color="#752181" d="M2625 1871l11 52-13 17-11-48z"/><path color="#8e2a81" d="M2636 1923l12 32-13 16-12-31z"/><path color="#a8327d" d="M2648 1955l11 43-13 12-11-39z"/><path color="#ba3878" d="M2659 1998l13 8 13-3-13 18-13 0-13-11z"/><path color="#c43c75" d="M2685 2003l12 20 13 4-13 23-13-7-12-22z"/><path color="#ba3878" d="M2710 2027l14-14-14 30-13 7z"/><path color="#b2357b" d="M2724 2013l13 0-14 37-13-7z"/><path color="#a8327d" d="M2737 2013l14-12-14 45-14 4z"/><path color="#a02f7f" d="M2751 2001l15-10 12 9 13 17-16 54-12-17-13-10-13 2z"/><path color="#a8327d" d="M2791 2017l13 0-15 56-14-2z"/><path color="#a02f7f" d="M2804 2017l14 1-16 57-13-2z"/><path color="#b2357b" d="M2818 2018l9 58-15 50-10-51z"/><path color="#d5446d" d="M2827 2076l12 25-15 48-12-23z"/><path color="#e34e65" d="M2839 2101l10 43-15 43-10-38z"/><path color="#f7705c" d="M2849 2144l10 43-14 38-11-38z"/><path color="#491078" d="M2245 1654l13 39-13 41-13-40z"/><path color="#6b1d81" d="M2258 1693l13 46-13 41-13-46z"/><path color="#8e2a81" d="M2271 1739l12 45-12 41-13-45z"/><path color="#b2357b" d="M2283 1784l13 38-13 41-12-38z"/><path color="#cc3f71" d="M2296 1822l12 41-12 34-13-34z"/><path color="#e34e65" d="M2308 1863l12 32-12 27-12-25z"/><path color="#ef5d5e" d="M2320 1895l13 32-13 19-12-24z"/><path color="#fb8560" d="M2333 1927l12 45-13 12-12-38z"/><path color="#fc9065" d="M2345 1972l12-2-13 12-12 2z"/><path color="#fb8560" d="M2357 1970l12-7-12 12-13 7z"/><path color="#f97b5d" d="M2369 1963l12-2-12 12-12 2z"/><path color="#f7705c" d="M2381 1961l13-2-13 12-12 2z"/><path color="#ef5d5e" d="M2394 1959l12-26-12 17-13 21z"/><path color="#d5446d" d="M2406 1933l13-36-13 21-12 32z"/><path color="#b2357b" d="M2419 1897l13-36-13 25-13 32z"/><path color="#962c80" d="M2432 1861l13-19-13 29-13 15z"/><path color="#7c2382" d="M2445 1842l13-23-13 30-13 22z"/><path color="#6b1d81" d="M2458 1819l13-5-13 29-13 6z"/><path color="#5a167e" d="M2471 1814l14-21-14 29-13 21z"/><path color="#400f74" d="M2485 1793l13-12-13 29-14 12z"/><path color="#38106c" d="M2498 1781l13-13-13 29-13 13z"/><path color="#2d1161" d="M2511 1768l13 9-13 28-13-8z"/><path color="#251255" d="M2524 1777l14-12-14 27-13 13z"/><path color="#1d1147" d="M2538 1765l13 1 12 25-13 26-13-24-13-1z"/><path color="#38106c" d="M2563 1791l12 41-14 24-11-39z"/><path color="#491078" d="M2575 1832l13 5 12 18-13 23-13-17-13-5z"/><path color="#5a167e" d="M2600 1855l12 37-13 20-12-34z"/><path color="#7c2382" d="M2612 1892l11 48-13 18-11-46z"/><path color="#962c80" d="M2623 1940l12 31-13 15-12-28z"/><path color="#b2357b" d="M2635 1971l11 39-12 13-12-37z"/><path color="#c43c75" d="M2646 2010l13 11 13 0-13 18-13-3-12-13z"/><path color="#cc3f71" d="M2672 2021l12 22-13 20-12-24z"/><path color="#d5446d" d="M2684 2043l13 7-13 22-13-9z"/><path color="#cc3f71" d="M2697 2050l13-7 13 7 14-4-15 45-13-4-12-14-13-1z"/><path color="#c43c75" d="M2737 2046l13-2 13 10-15 53-13-11-13-5z"/><path color="#cc3f71" d="M2763 2054l12 17 14 2 13 2-16 56-13-4-13-3-12-17z"/><path color="#dc4869" d="M2802 2075l10 51-15 50-11-45z"/><path color="#ef5d5e" d="M2812 2126l12 23-15 47-12-20z"/><path color="#f7705c" d="M2824 2149l10 38-15 42-10-33z"/><path color="#fd9a6a" d="M2834 2187l11 38-15 37-11-33z"/><path color="#641a80" d="M2232 1694l13 40-12 37-13-41z"/><path color="#862781" d="M2245 1734l13 46-12 37-13-46z"/><path color="#a8327d" d="M2258 1780l13 45-13 37-12-45z"/><path color="#cc3f71" d="M2271 1825l12 38-12 38-13-39z"/><path color="#e34e65" d="M2283 1863l13 34-13 31-12-27z"/><path color="#ef5d5e" d="M2296 1897l12 25-13 25-12-19z"/><path color="#f7705c" d="M2308 1922l12 24-12 20-13-19z"/><path color="#fb8560" d="M2320 1946l12 38-12 14-12-32z"/><path color="#fc9065" d="M2332 1984l12-2-12 14-12 2z"/><path color="#fb8560" d="M2344 1982l13-7-13 14-12 7z"/><path color="#f97b5d" d="M2357 1975l12-2-13 14-12 2z"/><path color="#f7705c" d="M2369 1973l12-2-12 15-13 1z"/><path color="#ef5d5e" d="M2381 1971l13-21-13 17-12 19z"/><path color="#dc4869" d="M2394 1950l12-32-12 20-13 29z"/><path color="#ba3878" d="M2406 1918l13-32-12 24-13 28z"/><path color="#a02f7f" d="M2419 1886l13-15-13 27-12 12z"/><path color="#8e2a81" d="M2432 1871l13-22-13 27-13 22z"/><path color="#7c2382" d="M2445 1849l13-6-13 27-13 6z"/><path color="#6b1d81" d="M2458 1843l13-21-13 28-13 20z"/><path color="#52137c" d="M2471 1822l14-12-14 28-13 12z"/><path color="#491078" d="M2485 1810l13-13-13 28-14 13z"/><path color="#400f74" d="M2498 1797l13 8-14 27-12-7z"/><path color="#38106c" d="M2511 1805l13-13-13 27-14 13z"/><path color="#251255" d="M2524 1792l13 1-13 27-13-1z"/><path color="#2d1161" d="M2537 1793l13 24-14 25-12-22z"/><path color="#491078" d="M2550 1817l11 39-13 24-12-38z"/><path color="#52137c" d="M2561 1856l13 5-13 24-13-5z"/><path color="#5a167e" d="M2574 1861l13 17-13 23-13-16z"/><path color="#641a80" d="M2587 1878l12 34-13 21-12-32z"/><path color="#862781" d="M2599 1912l11 46-13 18-11-43z"/><path color="#a02f7f" d="M2610 1958l12 28-13 16-12-26z"/><path color="#b2357b" d="M2622 1986l12 37-13 14-12-35z"/><path color="#c43c75" d="M2634 2023l12 13-13 15-12-14z"/><path color="#cc3f71" d="M2646 2036l13 3-13 17-13-5z"/><path color="#d5446d" d="M2659 2039l12 24-13 18-12-25z"/><path color="#dc4869" d="M2671 2063l13 9 13 1 12 14-14 32-12-19-12-7-13-12z"/><path color="#e34e65" d="M2709 2087l13 4 13 5 13 11-15 44-12-11-13-11-13-10z"/><path color="#ea5661" d="M2748 2107l12 17-15 44-12-17z"/><path color="#ef5d5e" d="M2760 2124l13 3-15 46-13-5z"/><path color="#ea5661" d="M2773 2127l13 4-15 47-13-5z"/><path color="#f4675c" d="M2786 2131l11 45-15 41-11-39z"/><path color="#fb8560" d="M2797 2176l12 20-15 37-12-16z"/><path color="#fd9a6a" d="M2809 2196l10 33-13 32-12-28z"/><path color="#feae77" d="M2819 2229l11 33-13 27-11-28z"/><path color="#7c2382" d="M2220 1730l13 41-13 30-13-41z"/><path color="#a02f7f" d="M2233 1771l13 46-13 31-13-47z"/><path color="#c43c75" d="M2246 1817l12 45-12 31-13-45z"/><path color="#e34e65" d="M2258 1862l13 39-13 31-12-39z"/><path color="#f4675c" d="M2271 1901l12 27-12 28-13-24z"/><path color="#f7705c" d="M2283 1928l12 19-12 25-12-16z"/><path color="#f97b5d" d="M2295 1947l13 19-13 21-12-15z"/><path color="#fc9065" d="M2308 1966l12 32-13 17-12-28z"/><path color="#fd9a6a" d="M2320 1998l12-2-13 17-12 2z"/><path color="#fc9065" d="M2332 1996l12-7-12 17-13 7z"/><path color="#fb8560" d="M2344 1989l12-2-12 17-12 2z"/><path color="#f97b5d" d="M2356 1987l13-1-13 17-12 1z"/><path color="#f4675c" d="M2369 1986l12-19-13 18-12 18z"/><path color="#e34e65" d="M2381 1967l13-29-13 21-13 26z"/><path color="#cc3f71" d="M2394 1938l13-28-13 22-13 27z"/><path color="#b2357b" d="M2407 1910l12-12-13 23-12 11z"/><path color="#a02f7f" d="M2419 1898l13-22-13 24-13 21z"/><path color="#862781" d="M2432 1876l13-6-13 25-13 5z"/><path color="#752181" d="M2445 1870l13-20-13 25-13 20z"/><path color="#641a80" d="M2458 1850l13-12-13 26-13 11z"/><path color="#52137c" d="M2471 1838l14-13-14 26-13 13z"/><path color="#491078" d="M2485 1825l12 7 14-13-14 27-13 13-13-8z"/><path color="#38106c" d="M2511 1819l13 1-14 26-13 0z"/><path color="#400f74" d="M2524 1820l12 22-13 26-13-22z"/><path color="#52137c" d="M2536 1842l12 38-13 25-12-37z"/><path color="#641a80" d="M2548 1880l13 5 13 16-14 24-12-15-13-5z"/><path color="#752181" d="M2574 1901l12 32-13 22-13-30z"/><path color="#8e2a81" d="M2586 1933l11 43-13 20-11-41z"/><path color="#a8327d" d="M2597 1976l12 26-13 17-12-23z"/><path color="#ba3878" d="M2609 2002l12 35-13 15-12-33z"/><path color="#cc3f71" d="M2621 2037l12 14 13 5-13 17-13-6-12-15z"/><path color="#d5446d" d="M2646 2056l12 25-13 17-12-25z"/><path color="#e34e65" d="M2658 2081l13 12 12 7-13 21-12-11-13-12z"/><path color="#ea5661" d="M2683 2100l12 19-13 24-12-22z"/><path color="#ef5d5e" d="M2695 2119l13 10-13 27-13-13z"/><path color="#f4675c" d="M2708 2129l13 11 12 11-13 30-13-12-12-13z"/><path color="#f7705c" d="M2733 2151l12 17-13 30-12-17z"/><path color="#f97b5d" d="M2745 2168l13 5-13 31-13-6z"/><path color="#f7705c" d="M2758 2173l13 5-13 32-13-6z"/><path color="#fb8560" d="M2771 2178l11 39-13 25-11-32z"/><path color="#fd9a6a" d="M2782 2217l12 16-13 20-12-11z"/><path color="#fea36f" d="M2794 2233l12 28-13 15-12-23z"/><path color="#fec287" d="M2806 2261l11 28-12 10-12-23z"/><path color="#8e2a81" d="M2207 1760l13 41-12 31-13-42z"/><path color="#b2357b" d="M2220 1801l13 47-12 30-13-46z"/><path color="#d5446d" d="M2233 1848l13 45-13 31-12-46z"/><path color="#ef5d5e" d="M2246 1893l12 39-12 31-13-39z"/><path color="#f97b5d" d="M2258 1932l13 24-13 27-12-20z"/><path color="#fb8560" d="M2271 1956l12 16-13 24-12-13z"/><path color="#fc9065" d="M2283 1972l12 15-12 21-13-12z"/><path color="#fd9a6a" d="M2295 1987l12 28-12 17-12-24z"/><path color="#fea36f" d="M2307 2015l12-2-12 17-12 2z"/><path color="#fd9a6a" d="M2319 2013l13-7-13 17-12 7z"/><path color="#fc9065" d="M2332 2006l12-2-13 17-12 2z"/><path color="#fb8560" d="M2344 2004l12-1-13 17-12 1z"/><path color="#f7705c" d="M2356 2003l12-18-12 19-13 16z"/><path color="#ea5661" d="M2368 1985l13-26-13 20-12 25z"/><path color="#d5446d" d="M2381 1959l13-27-13 22-13 25z"/><path color="#ba3878" d="M2394 1932l12-11-12 24-13 9z"/><path color="#a8327d" d="M2406 1921l13-21-13 25-12 20z"/><path color="#962c80" d="M2419 1900l13-5-13 24-13 6z"/><path color="#862781" d="M2432 1895l13-20-13 25-13 19z"/><path color="#752181" d="M2445 1875l13-11-13 26-13 10z"/><path color="#641a80" d="M2458 1864l13-13-13 26-13 13z"/><path color="#5a167e" d="M2471 1851l13 8-13 26-13-8z"/><path color="#52137c" d="M2484 1859l13-13-13 26-13 13z"/><path color="#491078" d="M2497 1846l13 0 13 22-13 26-13-21-13-1z"/><path color="#641a80" d="M2523 1868l12 37-13 25-12-36z"/><path color="#6b1d81" d="M2535 1905l13 5-13 24-13-4z"/><path color="#752181" d="M2548 1910l12 15-13 24-12-15z"/><path color="#7c2382" d="M2560 1925l13 30-14 22-12-28z"/><path color="#962c80" d="M2573 1955l11 41-13 19-12-38z"/><path color="#b2357b" d="M2584 1996l12 23-13 18-12-22z"/><path color="#c43c75" d="M2596 2019l12 33-13 15-12-30z"/><path color="#d5446d" d="M2608 2052l12 15 13 6-13 16-12-6-13-16z"/><path color="#dc4869" d="M2633 2073l12 25-13 17-12-26z"/><path color="#ea5661" d="M2645 2098l13 12 12 11-13 21-12-14-13-13z"/><path color="#ef5d5e" d="M2670 2121l12 22-13 23-12-24z"/><path color="#f7705c" d="M2682 2143l13 13-14 26-12-16z"/><path color="#f97b5d" d="M2695 2156l12 13 13 12-14 30-12-12-13-17z"/><path color="#fb8560" d="M2720 2181l12 17-14 30-12-17z"/><path color="#fc9065" d="M2732 2198l13 6 13 6-14 32-13-7-13-7z"/><path color="#fd9a6a" d="M2758 2210l11 32-14 26-11-26z"/><path color="#fea36f" d="M2769 2242l12 11-13 21-13-6z"/><path color="#feae77" d="M2781 2253l12 23-13 15-12-17z"/><path color="#fec287" d="M2793 2276l12 23-13 9-12-17z"/><path color="#a02f7f" d="M2195 1790l13 42-13 30-13-42z"/><path color="#c43c75" d="M2208 1832l13 46-13 31-13-47z"/><path color="#ea5661" d="M2221 1878l12 46-12 30-13-45z"/><path color="#f97b5d" d="M2233 1924l13 39-12 31-13-40z"/><path color="#fc9065" d="M2246 1963l12 20-12 27-12-16z"/><path color="#fd9a6a" d="M2258 1983l12 13 13 12-13 21-12-9-12-10z"/><path color="#fea36f" d="M2283 2008l12 24-13 17-12-20z"/><path color="#feae77" d="M2295 2032l12-2-13 17-12 2z"/><path color="#fea36f" d="M2307 2030l12-7-12 17-13 7z"/><path color="#fd9a6a" d="M2319 2023l12-2-12 17-12 2z"/><path color="#fc9065" d="M2331 2021l12-1-12 17-12 1z"/><path color="#f97b5d" d="M2343 2020l13-16-13 19-12 14z"/><path color="#ef5d5e" d="M2356 2004l12-25-12 20-13 24z"/><path color="#dc4869" d="M2368 1979l13-25-13 22-12 23z"/><path color="#cc3f71" d="M2381 1954l13-9-13 23-13 8z"/><path color="#ba3878" d="M2394 1945l12-20-13 24-12 19z"/><path color="#a8327d" d="M2406 1925l13-6-13 25-13 5z"/><path color="#962c80" d="M2419 1919l13-19-13 26-13 18z"/><path color="#862781" d="M2432 1900l13-10-13 25-13 11z"/><path color="#752181" d="M2445 1890l13-13-13 27-13 11z"/><path color="#6b1d81" d="M2458 1877l13 8-13 25-13-6z"/><path color="#641a80" d="M2471 1885l13-13-13 27-13 11z"/><path color="#5a167e" d="M2484 1872l13 1 13 21-14 26-12-21-13 0z"/><path color="#6b1d81" d="M2510 1894l12 36-14 24-12-34z"/><path color="#7c2382" d="M2522 1930l13 4 12 15-13 24-13-14-13-5z"/><path color="#8e2a81" d="M2547 1949l12 28-13 22-12-26z"/><path color="#a02f7f" d="M2559 1977l12 38-13 20-12-36z"/><path color="#ba3878" d="M2571 2015l12 22-13 17-12-19z"/><path color="#cc3f71" d="M2583 2037l12 30-13 16-12-29z"/><path color="#d5446d" d="M2595 2067l13 16-13 16-13-16z"/><path color="#dc4869" d="M2608 2083l12 6-12 17-13-7z"/><path color="#e34e65" d="M2620 2089l12 26-13 17-11-26z"/><path color="#ea5661" d="M2632 2115l13 13-13 17-13-13z"/><path color="#ef5d5e" d="M2645 2128l12 14-13 20-12-17z"/><path color="#f7705c" d="M2657 2142l12 24-13 24-12-28z"/><path color="#f97b5d" d="M2669 2166l12 16-13 27-12-19z"/><path color="#fc9065" d="M2681 2182l13 17-14 29-12-19z"/><path color="#fd9a6a" d="M2694 2199l12 12-13 30-13-13z"/><path color="#fea36f" d="M2706 2211l12 17 13 7 13 7-14 32-13-8-12-8-12-17z"/><path color="#feae77" d="M2744 2242l11 26-13 25-12-19z"/><path color="#feb77e" d="M2755 2268l13 6 12 17-12 15-13-12-13-1z"/><path color="#fec287" d="M2780 2291l12 17-12 10-12-12z"/><path color="#ba3878" d="M2182 1820l13 42-12 30-13-42z"/><path color="#dc4869" d="M2195 1862l13 47-12 29-13-46z"/><path color="#f4675c" d="M2208 1909l13 45-12 30-13-46z"/><path color="#fc9065" d="M2221 1954l13 40-13 30-12-40z"/><path color="#fea36f" d="M2234 1994l12 16-12 27-13-13z"/><path color="#feae77" d="M2246 2010l12 10 12 9-12 20-12-6-12-6z"/><path color="#feb77e" d="M2270 2029l12 20 12-2-12 17-12 2-12-17z"/><path color="#feae77" d="M2294 2047l13-7-13 17-12 7z"/><path color="#fea36f" d="M2307 2040l12-2-13 17-12 2z"/><path color="#fd9a6a" d="M2319 2038l12-1-13 17-12 1z"/><path color="#fb8560" d="M2331 2037l12-14-12 18-13 13z"/><path color="#f7705c" d="M2343 2023l13-24-13 20-12 22z"/><path color="#e34e65" d="M2356 1999l12-23-13 22-12 21z"/><path color="#d5446d" d="M2368 1976l13-8-13 23-13 7z"/><path color="#c43c75" d="M2381 1968l12-19-12 24-13 18z"/><path color="#b2357b" d="M2393 1949l13-5-13 24-12 5z"/><path color="#a02f7f" d="M2406 1944l13-18-13 25-13 17z"/><path color="#8e2a81" d="M2419 1926l13-11-13 26-13 10z"/><path color="#862781" d="M2432 1915l13-11-13 26-13 11z"/><path color="#7c2382" d="M2445 1904l13 6-13 26-13-6z"/><path color="#752181" d="M2458 1910l13-11-13 26-13 11z"/><path color="#6b1d81" d="M2471 1899l13 0 12 21-13 26-12-20-13-1z"/><path color="#7c2382" d="M2496 1920l12 34-13 25-12-33z"/><path color="#862781" d="M2508 1954l13 5-13 24-13-4z"/><path color="#8e2a81" d="M2521 1959l13 14-13 24-13-14z"/><path color="#962c80" d="M2534 1973l12 26-13 21-12-23z"/><path color="#a8327d" d="M2546 1999l12 36-13 19-12-34z"/><path color="#c43c75" d="M2558 2035l12 19-13 18-12-18z"/><path color="#cc3f71" d="M2570 2054l12 29-12 15-13-26z"/><path color="#dc4869" d="M2582 2083l13 16-13 15-12-16z"/><path color="#e34e65" d="M2595 2099l13 7-13 16-13-8z"/><path color="#ea5661" d="M2608 2106l11 26-12 17-12-27z"/><path color="#ef5d5e" d="M2619 2132l13 13-13 17-12-13z"/><path color="#f4675c" d="M2632 2145l12 17-13 20-12-20z"/><path color="#f97b5d" d="M2644 2162l12 28-13 21-12-29z"/><path color="#fc9065" d="M2656 2190l12 19-13 24-12-22z"/><path color="#fea36f" d="M2668 2209l12 19-13 27-12-22z"/><path color="#feae77" d="M2680 2228l13 13-14 27-12-13z"/><path color="#feb77e" d="M2693 2241l12 17 12 8-13 27-13-8-12-17z"/><path color="#fec287" d="M2717 2266l13 8 12 19 13 1 13 12 12 12-12 8-13-7-13-7-13 4-12-14-13-9z"/><path color="#c43c75" d="M2170 1850l13 42-12 22-13-41z"/><path color="#e34e65" d="M2183 1892l13 46-12 21-13-45z"/><path color="#f97b5d" d="M2196 1938l13 46-13 20-12-45z"/><path color="#fea36f" d="M2209 1984l12 40-12 19-13-39z"/><path color="#feb77e" d="M2221 2024l13 13 12 6 12 6 12 17-13 15-12-16-12-5-12-6-12-11z"/><path color="#fec287" d="M2270 2066l12-2-13 14-12 3z"/><path color="#feae77" d="M2282 2064l12-7-13 14-12 7z"/><path color="#fea36f" d="M2294 2057l12-2-12 14-13 2z"/><path color="#fd9a6a" d="M2306 2055l12-1-12 13-12 2z"/><path color="#fc9065" d="M2318 2054l13-13-13 14-12 12z"/><path color="#f7705c" d="M2331 2041l12-22-13 17-12 19z"/><path color="#ef5d5e" d="M2343 2019l12-21-12 18-13 20z"/><path color="#dc4869" d="M2355 1998l13-7-13 19-12 6z"/><path color="#cc3f71" d="M2368 1991l13-18-13 21-13 16z"/><path color="#c43c75" d="M2381 1973l12-5-13 22-12 4z"/><path color="#b2357b" d="M2393 1968l13-17-13 24-13 15z"/><path color="#a02f7f" d="M2406 1951l13-10-13 26-13 8z"/><path color="#8e2a81" d="M2419 1941l13-11-13 26-13 11z"/><path color="#862781" d="M2432 1930l13 6 13-11-14 28-13 10-12-7z"/><path color="#752181" d="M2458 1925l13 1-14 28-13-1z"/><path color="#7c2382" d="M2471 1926l12 20-13 26-13-18z"/><path color="#8e2a81" d="M2483 1946l12 33-13 24-12-31z"/><path color="#962c80" d="M2495 1979l13 4 13 14-13 22-13-13-13-3z"/><path color="#a02f7f" d="M2521 1997l12 23-13 20-12-21z"/><path color="#ba3878" d="M2533 2020l12 34-13 18-12-32z"/><path color="#c43c75" d="M2545 2054l12 18-12 15-13-15z"/><path color="#d5446d" d="M2557 2072l13 26-13 14-12-25z"/><path color="#e34e65" d="M2570 2098l12 16 13 8-13 11-13-7-12-14z"/><path color="#ea5661" d="M2595 2122l12 27-13 9-12-25z"/><path color="#f4675c" d="M2607 2149l12 13 12 20-12 5-12-17-13-12z"/><path color="#f97b5d" d="M2631 2182l12 29-12 3-12-27z"/><path color="#fc9065" d="M2643 2211l12 22-12 0-12-19z"/><path color="#fea36f" d="M2655 2233l12 22-12-2-12-20z"/><path color="#feae77" d="M2667 2255l12 13-11-4-13-11z"/><path color="#feb77e" d="M2679 2268l12 17 13 8-11-6-13-7-12-16z"/><path color="#fec287" d="M2704 2293l13 9 12 14 13-4-11-10-13 5-13-13-12-7z"/><path color="#feb77e" d="M2742 2312l13 7 13 7-11-12-13-6-13-6z"/><path color="#d5446d" d="M2158 1873l13 41-13 23-13-40z"/><path color="#ef5d5e" d="M2171 1914l13 45-13 21-13-43z"/><path color="#fb8560" d="M2184 1959l12 45-12 20-13-44z"/><path color="#feae77" d="M2196 2004l13 39-12 19-13-38z"/><path color="#fec287" d="M2209 2043l12 11 12 6 12 5 12 16 12-3-12 15-12 3-12-15-12-4-12-5-12-10z"/><path color="#feb77e" d="M2269 2078l12-7-12 14-12 8z"/><path color="#feae77" d="M2281 2071l13-2-13 13-12 3z"/><path color="#fea36f" d="M2294 2069l12-2-13 13-12 2z"/><path color="#fc9065" d="M2306 2067l12-12-13 15-12 10z"/><path color="#f97b5d" d="M2318 2055l12-19-12 16-13 18z"/><path color="#ef5d5e" d="M2330 2036l13-20-13 18-12 18z"/><path color="#e34e65" d="M2343 2016l12-6-13 19-12 5z"/><path color="#dc4869" d="M2355 2010l13-16-13 21-13 14z"/><path color="#cc3f71" d="M2368 1994l12-4-13 22-12 3z"/><path color="#ba3878" d="M2380 1990l13-15-13 24-13 13z"/><path color="#b2357b" d="M2393 1975l13-8-13 25-13 7z"/><path color="#a02f7f" d="M2406 1967l13-11-13 27-13 9z"/><path color="#962c80" d="M2419 1956l12 7-13 27-12-7z"/><path color="#8e2a81" d="M2431 1963l13-10-13 28-13 9z"/><path color="#862781" d="M2444 1953l13 1-13 28-13-1z"/><path color="#8e2a81" d="M2457 1954l13 18-13 27-13-17z"/><path color="#962c80" d="M2470 1972l12 31-13 25-12-29z"/><path color="#a02f7f" d="M2482 2003l13 3-13 24-13-2z"/><path color="#a8327d" d="M2495 2006l13 13-13 22-13-11z"/><path color="#b2357b" d="M2508 2019l12 21-13 20-12-19z"/><path color="#c43c75" d="M2520 2040l12 32-13 17-12-29z"/><path color="#cc3f71" d="M2532 2072l13 15-13 16-13-14z"/><path color="#dc4869" d="M2545 2087l12 25-13 13-12-22z"/><path color="#e34e65" d="M2557 2112l12 14 13 7-13 10-12-5-13-13z"/><path color="#ea5661" d="M2582 2133l12 25-12 9-13-24z"/><path color="#ef5d5e" d="M2594 2158l13 12-13 7-12-10z"/><path color="#f4675c" d="M2607 2170l12 17-12 4-13-14z"/><path color="#f97b5d" d="M2619 2187l12 27-12 2-12-25z"/><path color="#fb8560" d="M2631 2214l12 19-12 0-12-17z"/><path color="#fd9a6a" d="M2643 2233l12 20-12-3-12-17z"/><path color="#fea36f" d="M2655 2253l13 11 12 16-12-5-12-15-13-10z"/><path color="#feae77" d="M2680 2280l13 7 12 7 13 13 13-5-11-11-14 7-12-13-13-5-13-5z"/><path color="#fea36f" d="M2731 2302l13 6 13 6-11-12-13-5-13-6z"/><path color="#dc4869" d="M2145 1897l13 40-12 22-13-39z"/><path color="#f4675c" d="M2158 1937l13 43-12 22-13-43z"/><path color="#fc9065" d="M2171 1980l13 44-12 19-13-41z"/><path color="#feb77e" d="M2184 2024l13 38-13 19-12-38z"/><path color="#fecc8f" d="M2197 2062l12 10 12 5 12 4 12 15 12-3-13 14-12 4-12-14-12-3-12-4-12-9z"/><path color="#fec287" d="M2257 2093l12-8-13 15-12 7z"/><path color="#feae77" d="M2269 2085l12-3-13 14-12 4z"/><path color="#fea36f" d="M2281 2082l12-2-12 13-13 3z"/><path color="#fd9a6a" d="M2293 2080l12-10-12 15-12 8z"/><path color="#fb8560" d="M2305 2070l13-18-13 16-12 17z"/><path color="#f4675c" d="M2318 2052l12-18-13 18-12 16z"/><path color="#ea5661" d="M2330 2034l12-5-12 20-13 3z"/><path color="#e34e65" d="M2342 2029l13-14-13 21-12 13z"/><path color="#d5446d" d="M2355 2015l12-3-12 23-13 1z"/><path color="#cc3f71" d="M2367 2012l13-13-13 24-12 12z"/><path color="#ba3878" d="M2380 1999l13-7-13 25-13 6z"/><path color="#b2357b" d="M2393 1992l13-9-13 26-13 8z"/><path color="#a8327d" d="M2406 1983l12 7-13 27-12-8z"/><path color="#a02f7f" d="M2418 1990l13-9-13 28-13 8z"/><path color="#962c80" d="M2431 1981l13 1-13 29-13-2z"/><path color="#a02f7f" d="M2444 1982l13 17-13 27-13-15z"/><path color="#a8327d" d="M2457 1999l12 29-13 24-12-26z"/><path color="#b2357b" d="M2469 2028l13 2 13 11-14 22-12-10-13-1z"/><path color="#ba3878" d="M2495 2041l12 19-13 20-13-17z"/><path color="#cc3f71" d="M2507 2060l12 29-13 18-12-27z"/><path color="#d5446d" d="M2519 2089l13 14-13 15-13-11z"/><path color="#dc4869" d="M2532 2103l12 22-13 14-12-21z"/><path color="#e34e65" d="M2544 2125l13 13 12 5-12 11-13-4-13-11z"/><path color="#ea5661" d="M2569 2143l13 24-13 9-12-22z"/><path color="#ef5d5e" d="M2582 2167l12 10-12 7-13-8z"/><path color="#f4675c" d="M2594 2177l13 14-13 5-12-12z"/><path color="#f7705c" d="M2607 2191l12 25-13 3-12-23z"/><path color="#f97b5d" d="M2619 2216l12 17-12 0-13-14z"/><path color="#fc9065" d="M2631 2233l12 17 13 10-12-3-13-9-12-15z"/><path color="#fd9a6a" d="M2656 2260l12 15 13 5 13 5 12 13 14-7-11-10-14 9-13-14-13-3-13-3-12-13z"/><path color="#fc9065" d="M2720 2291l13 6 13 5-11-12-13-5-13-4z"/><path color="#ea5661" d="M2133 1920l13 39-13 22-13-38z"/><path color="#f7705c" d="M2146 1959l13 43-13 21-13-42z"/><path color="#fd9a6a" d="M2159 2002l13 41-13 20-13-40z"/><path color="#fec287" d="M2172 2043l12 38-12 19-13-37z"/><path color="#fed799" d="M2184 2081l12 9 12 4-12 17-12-3-12-8z"/><path color="#fecc8f" d="M2208 2094l12 3-12 16-12-2z"/><path color="#fed799" d="M2220 2097l12 14-12 14-12-12z"/><path color="#fecc8f" d="M2232 2111l12-4-12 15-12 3z"/><path color="#fec287" d="M2244 2107l12-7-12 14-12 8z"/><path color="#feb77e" d="M2256 2100l12-4-12 14-12 4z"/><path color="#feae77" d="M2268 2096l13-3-13 13-12 4z"/><path color="#fd9a6a" d="M2281 2093l12-8-13 14-12 7z"/><path color="#fb8560" d="M2293 2085l12-17-13 16-12 15z"/><path color="#f7705c" d="M2305 2068l12-16-12 18-13 14z"/><path color="#ef5d5e" d="M2317 2052l13-3-13 19-12 2z"/><path color="#ea5661" d="M2330 2049l12-13-13 20-12 12z"/><path color="#e34e65" d="M2342 2036l13-1-13 22-13-1z"/><path color="#d5446d" d="M2355 2035l12-12-13 24-12 10z"/><path color="#cc3f71" d="M2367 2023l13-6-13 26-13 4z"/><path color="#c43c75" d="M2380 2017l13-8-13 27-13 7z"/><path color="#ba3878" d="M2393 2009l12 8-13 26-12-7z"/><path color="#b2357b" d="M2405 2017l13-8-13 27-13 7z"/><path color="#a8327d" d="M2418 2009l13 2 13 15-14 26-12-13-13-3z"/><path color="#ba3878" d="M2444 2026l12 26-13 25-13-25z"/><path color="#c43c75" d="M2456 2052l13 1-13 23-13 1z"/><path color="#ba3878" d="M2469 2053l12 10-13 22-12-9z"/><path color="#c43c75" d="M2481 2063l13 17-13 20-13-15z"/><path color="#cc3f71" d="M2494 2080l12 27-13 17-12-24z"/><path color="#dc4869" d="M2506 2107l13 11-13 16-13-10z"/><path color="#e34e65" d="M2519 2118l12 21-13 13-12-18z"/><path color="#ea5661" d="M2531 2139l13 11 13 4 12 22-13 9-12-21-13-2-13-10z"/><path color="#ef5d5e" d="M2569 2176l13 8 12 12-12 5-13-9-13-7z"/><path color="#f4675c" d="M2594 2196l12 23-12 3-12-21z"/><path color="#f97b5d" d="M2606 2219l13 14 12 15-12-2-12-13-13-11z"/><path color="#fb8560" d="M2631 2248l13 9 12 13 13 3 13 3 13 14-12-9-12-13-13-2-13-1-13-12-13-7z"/><path color="#f97b5d" d="M2695 2290l14-9-12-11-14 11z"/><path color="#f7705c" d="M2709 2281l13 4 13 5-11-12-13-4-14-4z"/><path color="#ef5d5e" d="M2120 1943l13 38-13 11-13-35z"/><path color="#f97b5d" d="M2133 1981l13 42-13 8-13-39z"/><path color="#fea36f" d="M2146 2023l13 40-13 6-13-38z"/><path color="#fec287" d="M2159 2063l13 37-13 3-13-34z"/><path color="#fed799" d="M2172 2100l12 8 12 3-13 3-12-3-12-8z"/><path color="#fecc8f" d="M2196 2111l12 2-13 3-12-2z"/><path color="#fed799" d="M2208 2113l12 12-13 3-12-12z"/><path color="#fecc8f" d="M2220 2125l12-3-13 3-12 3z"/><path color="#fec287" d="M2232 2122l12-8-13 3-12 8z"/><path color="#feb77e" d="M2244 2114l12-4-13 3-12 4z"/><path color="#feae77" d="M2256 2110l12-4-13 4-12 3z"/><path color="#fd9a6a" d="M2268 2106l12-7-13 6-12 5z"/><path color="#fc9065" d="M2280 2099l12-15-12 8-13 13z"/><path color="#f7705c" d="M2292 2084l13-14-13 9-12 13z"/><path color="#f4675c" d="M2305 2070l12-2-13 11-12 0z"/><path color="#ef5d5e" d="M2317 2068l12-12-12 13-13 10z"/><path color="#ea5661" d="M2329 2056l13 1-13 14-12-2z"/><path color="#dc4869" d="M2342 2057l12-10-12 16-13 8z"/><path color="#d5446d" d="M2354 2047l13-4-13 17-12 3z"/><path color="#cc3f71" d="M2367 2043l13-7-13 18-13 6z"/><path color="#c43c75" d="M2380 2036l12 7 13-7-13 20-13 6-12-8z"/><path color="#ba3878" d="M2405 2036l13 3 12 13-13 19-12-12-13-3z"/><path color="#c43c75" d="M2430 2052l13 25-13 17-13-23z"/><path color="#cc3f71" d="M2443 2077l13-1-13 17-13 1z"/><path color="#c43c75" d="M2456 2076l12 9-13 15-12-7z"/><path color="#cc3f71" d="M2468 2085l13 15-13 13-13-13z"/><path color="#d5446d" d="M2481 2100l12 24-13 11-12-22z"/><path color="#dc4869" d="M2493 2124l13 10-13 9-13-8z"/><path color="#e34e65" d="M2506 2134l12 18-12 7-13-16z"/><path color="#ea5661" d="M2518 2152l13 10-13 6-12-9z"/><path color="#e34e65" d="M2531 2162l13 2-13 4-13 0z"/><path color="#ea5661" d="M2544 2164l12 21-12 1-13-18z"/><path color="#ef5d5e" d="M2556 2185l13 7 13 9 12 21-12-7-12-18-13-5-13-6z"/><path color="#f4675c" d="M2594 2222l13 11-12-10-13-8z"/><path color="#f7705c" d="M2607 2233l12 13 13 7 13 12 13 1-12-18-13 1-12-11-13-6-13-9z"/><path color="#f4675c" d="M2658 2266l13 2 12 13 14-11-11-19-14 11-12-14-14 0z"/><path color="#ef5d5e" d="M2697 2270l14 4-11-19-14-4z"/><path color="#ea5661" d="M2711 2274l13 4-11-19-13-4z"/><path color="#ef5d5e" d="M2107 1957l13 35-12 8-13-32z"/><path color="#f97b5d" d="M2120 1992l13 39-12 5-13-36z"/><path color="#fd9a6a" d="M2133 2031l13 38-13 2-12-35z"/><path color="#fec287" d="M2146 2069l13 34-13 0-13-32z"/><path color="#fecc8f" d="M2159 2103l12 8 12 3 12 2 12 12-13 0-12-13-12-2-12-2-12-8z"/><path color="#fec287" d="M2207 2128l12-3-13 0-12 3z"/><path color="#feb77e" d="M2219 2125l12-8-13 0-12 8z"/><path color="#feae77" d="M2231 2117l12-4-13 1-12 3z"/><path color="#fea36f" d="M2243 2113l12-3-13 1-12 3z"/><path color="#fd9a6a" d="M2255 2110l12-5-12 3-13 3z"/><path color="#fb8560" d="M2267 2105l13-13-13 5-12 11z"/><path color="#f7705c" d="M2280 2092l12-13-13 7-12 11z"/><path color="#f4675c" d="M2292 2079l12 0-13 9-12-2z"/><path color="#ef5d5e" d="M2304 2079l13-10-13 11-13 8z"/><path color="#ea5661" d="M2317 2069l12 2-13 13-12-4z"/><path color="#e34e65" d="M2329 2071l13-8-13 14-13 7z"/><path color="#dc4869" d="M2342 2063l12-3-13 16-12 1z"/><path color="#d5446d" d="M2354 2060l13-6-13 16-13 6z"/><path color="#cc3f71" d="M2367 2054l12 8 13-6-13 17-13 5-12-8z"/><path color="#c43c75" d="M2392 2056l13 3 12 12-13 16-12-11-13-3z"/><path color="#cc3f71" d="M2417 2071l13 23 13-1 12 7 13 13-13 11-12-10-13-7-13 2-13-22z"/><path color="#d5446d" d="M2468 2113l12 22-12 10-13-21z"/><path color="#dc4869" d="M2480 2135l13 8-13 8-12-6z"/><path color="#e34e65" d="M2493 2143l13 16 12 9 13 0 13 18 13 6 13 5-13-6-13-2-13-3-12-17-13 2-13-6-13-14z"/><path color="#ea5661" d="M2570 2197l12 18 13 8 13 9 13 6 12 11 13-1-11-21-13 3-13-11-13-4-13-5-13-5-13-14z"/><path color="#e34e65" d="M2646 2248l14 0 12 14 14-11-11-22-14 11-12-16-14 3z"/><path color="#d5446d" d="M2686 2251l14 4 13 4-11-20-13-5-14-5z"/><path color="#ef5d5e" d="M2095 1968l13 32-13 8-13-29z"/><path color="#f97b5d" d="M2108 2000l13 36-13 5-13-33z"/><path color="#fd9a6a" d="M2121 2036l12 35-12 3-13-33z"/><path color="#feb77e" d="M2133 2071l13 32-13-1-12-28z"/><path color="#fec287" d="M2146 2103l12 8 12 2-13-1-12-2-12-8z"/><path color="#feb77e" d="M2170 2113l12 2-13-1-12-2z"/><path color="#fec287" d="M2182 2115l12 13-12-1-13-13z"/><path color="#feb77e" d="M2194 2128l12-3-12-1-12 3z"/><path color="#feae77" d="M2206 2125l12-8-13 0-11 7z"/><path color="#fea36f" d="M2218 2117l12-3-13 1-12 2z"/><path color="#fd9a6a" d="M2230 2114l12-3-12 2-13 2z"/><path color="#fc9065" d="M2242 2111l13-3-13 4-12 1z"/><path color="#fb8560" d="M2255 2108l12-11-13 5-12 10z"/><path color="#f7705c" d="M2267 2097l12-11-13 8-12 8z"/><path color="#f4675c" d="M2279 2086l12 2-12 10-13-4z"/><path color="#ef5d5e" d="M2291 2088l13-8-13 11-12 7z"/><path color="#ea5661" d="M2304 2080l12 4-13 12-12-5z"/><path color="#e34e65" d="M2316 2084l13-7-13 13-13 6z"/><path color="#dc4869" d="M2329 2077l12-1-13 15-12-1z"/><path color="#d5446d" d="M2341 2076l13-6 12 8-12 17-13-9-13 5z"/><path color="#cc3f71" d="M2366 2078l13-5 13 3 12 11-12 17-13-10-13-4-12 5z"/><path color="#d5446d" d="M2404 2087l13 22 13-2-13 15-13 3-12-21z"/><path color="#cc3f71" d="M2430 2107l13 7-13 13-13-5z"/><path color="#d5446d" d="M2443 2114l12 10 13 21-13 9-13-18-12-9z"/><path color="#dc4869" d="M2468 2145l12 6 13 14-13 5-12-12-13-4z"/><path color="#e34e65" d="M2493 2165l13 6-13 4-13-5z"/><path color="#dc4869" d="M2506 2171l13-2 12 17 13 3 13 2 13 14 13 5-12-14-13 0-13-11-13 1-13-1-13-15-13 5z"/><path color="#d5446d" d="M2583 2210l13 5 13 4 13 11 13-3-11-21-14 4-13-9-13-3-13-2z"/><path color="#cc3f71" d="M2635 2227l14-3 12 16-11-21-12-19-14 6z"/><path color="#c43c75" d="M2661 2240l14-11-11-23-14 13z"/><path color="#ba3878" d="M2675 2229l14 5 13 5-11-21-13-6-14-6z"/><path color="#ef5d5e" d="M2082 1979l13 29-13 9-13-27z"/><path color="#f97b5d" d="M2095 2008l13 33-13 5-13-29z"/><path color="#fc9065" d="M2108 2041l13 33-14 2-12-30z"/><path color="#feae77" d="M2121 2074l12 28-13-1-13-25z"/><path color="#feb77e" d="M2133 2102l12 8 12 2-13 0-12-3-12-8z"/><path color="#feae77" d="M2157 2112l12 2 13 13 12-3-13 0-12 2-13-13-12-1z"/><path color="#fea36f" d="M2194 2124l11-7-13 0-11 7z"/><path color="#fd9a6a" d="M2205 2117l12-2-12 0-13 2z"/><path color="#fc9065" d="M2217 2115l13-2-13 1-12 1z"/><path color="#fb8560" d="M2230 2113l12-1-13 3-12-1z"/><path color="#f97b5d" d="M2242 2112l12-10-13 6-12 7z"/><path color="#f7705c" d="M2254 2102l12-8-13 7-12 7z"/><path color="#f4675c" d="M2266 2094l13 4-13 9-13-6z"/><path color="#ef5d5e" d="M2279 2098l12-7-13 11-12 5z"/><path color="#ea5661" d="M2291 2091l12 5 13-6-13 14-13 4-12-6z"/><path color="#e34e65" d="M2316 2090l12 1-13 15-12-2z"/><path color="#dc4869" d="M2328 2091l13-5 13 9-13 16-13-9-13 4z"/><path color="#d5446d" d="M2354 2095l12-5-13 17-12 4z"/><path color="#cc3f71" d="M2366 2090l13 4 13 10-13 17-13-9-13-5z"/><path color="#d5446d" d="M2392 2104l12 21-13 15-12-19z"/><path color="#dc4869" d="M2404 2125l13-3-13 14-13 4z"/><path color="#d5446d" d="M2417 2122l13 5 12 9-13 12-12-7-13-5z"/><path color="#dc4869" d="M2442 2136l13 18 13 4 12 12 13 5-12 3-13-2-13-10-13-2-13-16z"/><path color="#d5446d" d="M2493 2175l13-5 13 15 13 1-13-2-13 1-12-14-13 7z"/><path color="#cc3f71" d="M2532 2186l13-1 13 11 13 0-12-13-13 3-13-8-14 6z"/><path color="#c43c75" d="M2571 2196l13 2-12-17-13 2z"/><path color="#ba3878" d="M2584 2198l13 3 13 9 14-4-12-22-13 7-13-9-14-1z"/><path color="#a8327d" d="M2624 2206l14-6 12 19 14-13-11-23-14 14-13-21-14 8z"/><path color="#a02f7f" d="M2664 2206l14 6 13 6-11-21-14-7-13-7z"/><path color="#ef5d5e" d="M2069 1990l13 27-13 4-13-22z"/><path color="#f7705c" d="M2082 2017l13 29-14 2-12-27z"/><path color="#fb8560" d="M2095 2046l12 30-13-2-13-26z"/><path color="#fea36f" d="M2107 2076l13 25-13-5-13-22z"/><path color="#feae77" d="M2120 2101l12 8-13-5-12-8z"/><path color="#fea36f" d="M2132 2109l12 3 12 1 13 13 12-2-14-3-12 1-12-14-12-1-12-3z"/><path color="#fd9a6a" d="M2181 2124l11-7-13-2-12 6z"/><path color="#fc9065" d="M2192 2117l13-2-14-1-12 1z"/><path color="#fb8560" d="M2205 2115l12-1-13-1-13 1z"/><path color="#f97b5d" d="M2217 2114l12 1-13 1-12-3z"/><path color="#f7705c" d="M2229 2115l12-7-13 3-12 5z"/><path color="#f4675c" d="M2241 2108l12-7 13 6-13 8-13-9-12 5z"/><path color="#ef5d5e" d="M2266 2107l12-5-13 9-12 4z"/><path color="#ea5661" d="M2278 2102l12 6 13-4-13 12-12 2-13-7z"/><path color="#e34e65" d="M2303 2104l12 2-12 13-13-3z"/><path color="#dc4869" d="M2315 2106l13-4 13 9 12-4-13 14-12 4-13-10-12 4z"/><path color="#d5446d" d="M2353 2107l13 5 13 9-13 14-13-8-13-6z"/><path color="#dc4869" d="M2379 2121l12 19 13-4-13 13-13 4-12-18z"/><path color="#d5446d" d="M2404 2136l13 5 12 7-12 10-13-5-13-4z"/><path color="#dc4869" d="M2429 2148l13 16 13 2 13 10 13 2-13 4-13 0-13-9-13-1-12-14z"/><path color="#d5446d" d="M2481 2178l13-7-13 2-13 9z"/><path color="#cc3f71" d="M2494 2171l12 14 13-1-12-2-13 3-13-12z"/><path color="#c43c75" d="M2519 2184l14-6-13-4-13 8z"/><path color="#ba3878" d="M2533 2178l13 8-13-7-13-5z"/><path color="#b2357b" d="M2546 2186l13-3-12-9-14 5z"/><path color="#a8327d" d="M2559 2183l13-2 14 1-12-13-14 0-13 5z"/><path color="#a02f7f" d="M2586 2182l13 9 13-7-12-15-13 9-13-9z"/><path color="#8e2a81" d="M2612 2184l14-8 13 21 14-14-12-15-14 14-13-22-14 9z"/><path color="#862781" d="M2653 2183l13 7 14 7-12-15-13-8-14-6z"/><path color="#ea5661" d="M2056 1999l13 22-14 1-12-18z"/><path color="#f4675c" d="M2069 2021l12 27-13-3-13-23z"/><path color="#f97b5d" d="M2081 2048l13 26-13-7-13-22z"/><path color="#fc9065" d="M2094 2074l13 22-14-11-12-18z"/><path color="#fd9a6a" d="M2107 2096l12 8 12 3-13-10-12-3-13-9z"/><path color="#fc9065" d="M2131 2107l12 1 12 14 12-1-13-7-12-1-12-15-12-1z"/><path color="#fb8560" d="M2167 2121l12-6-13-6-12 5z"/><path color="#f97b5d" d="M2179 2115l12-1 13-1-13-3-13-1-12 0z"/><path color="#f7705c" d="M2204 2113l12 3 12-5-13 1-12 4-12-6z"/><path color="#f4675c" d="M2228 2111l12-5-13 3-12 3z"/><path color="#ef5d5e" d="M2240 2106l13 9 12-4-13 6-12 3-13-11z"/><path color="#ea5661" d="M2265 2111l13 7 12-2-13 8-12 2-13-9z"/><path color="#e34e65" d="M2290 2116l13 3 12-4-13 10-12 3-13-4z"/><path color="#dc4869" d="M2315 2115l13 10 12-4-13 11-12 3-13-10z"/><path color="#d5446d" d="M2340 2121l13 6 13 8-13 11-13-8-13-6z"/><path color="#dc4869" d="M2366 2135l12 18 13-4-13 10-13 5-12-18z"/><path color="#d5446d" d="M2391 2149l13 4 13 5-13 8-13-4-13-3z"/><path color="#dc4869" d="M2417 2158l12 14 13 1-13 6-13 1-12-14z"/><path color="#d5446d" d="M2442 2173l13 9 13 0-13 4-13 1-13-8z"/><path color="#cc3f71" d="M2468 2182l13-9-13 3-13 10z"/><path color="#c43c75" d="M2481 2173l13 12 13-3-13 0-13 4-13-10z"/><path color="#b2357b" d="M2507 2182l13-8 13 5-12-3-13-5-14 11z"/><path color="#a8327d" d="M2533 2179l14-5-13-6-13 8z"/><path color="#962c80" d="M2547 2174l13-5-12-7-14 6z"/><path color="#8e2a81" d="M2560 2169l14 0 13 9 13-9-12-7-14 9-13-9-13 0z"/><path color="#7c2382" d="M2600 2169l14-9 13 22 14-14-12-9-14 16-13-22-14 9z"/><path color="#6b1d81" d="M2641 2168l14 6 13 8-12-9-14-7-13-7z"/><path color="#ea5661" d="M2043 2004l12 18-13 1-13-14z"/><path color="#ef5d5e" d="M2055 2022l13 23-13-3-13-19z"/><path color="#f7705c" d="M2068 2045l13 22-14-7-12-18z"/><path color="#f97b5d" d="M2081 2067l12 18-13-11-13-14z"/><path color="#fb8560" d="M2093 2085l13 9 12 3-14-10-12-3-12-10z"/><path color="#f97b5d" d="M2118 2097l12 1 12 15-13-9-13-15-12-2z"/><path color="#fb8560" d="M2142 2113l12 1-13-8-12-2z"/><path color="#f97b5d" d="M2154 2114l12-5-13-6-12 3z"/><path color="#f7705c" d="M2166 2109l12 0-13-4-12-2z"/><path color="#f4675c" d="M2178 2109l13 1 12 6 12-4-13 1-12 2-13-8-12-2z"/><path color="#ef5d5e" d="M2215 2112l12-3 13 11-13 5-13-12-12 0z"/><path color="#ea5661" d="M2240 2120l12-3 13 9 12-2-13 8-12 1-13-10-12 2z"/><path color="#e34e65" d="M2277 2124l13 4 12-3-13 10-12 3-13-6z"/><path color="#dc4869" d="M2302 2125l13 10 12-3 13 6 13 8 12 18 13-5-13 10-13 5-12-17-13-7-13-7-12 3-13-11z"/><path color="#d5446d" d="M2378 2159l13 3 13 4 12 14 13-1 13 8 13-1-13 4-13 3-13-7-13 2-12-13-13-3-13-3z"/><path color="#c43c75" d="M2455 2186l13-10-13 2-13 12z"/><path color="#ba3878" d="M2468 2176l13 10 13-4-13-1-13 6-13-9z"/><path color="#a8327d" d="M2494 2182l14-11-13-2-14 12z"/><path color="#a02f7f" d="M2508 2171l13 5-13-4-13-3z"/><path color="#962c80" d="M2521 2176l13-8-12-5-14 9z"/><path color="#8e2a81" d="M2534 2168l14-6-13-7-13 8z"/><path color="#862781" d="M2548 2162l13 0-12-7-14 0z"/><path color="#7c2382" d="M2561 2162l13 9 14-9-12-7-14 9-13-9z"/><path color="#6b1d81" d="M2588 2162l14-9 13 22 14-16-12-8-15 17-12-22-14 9z"/><path color="#641a80" d="M2629 2159l13 7-12-9-13-6z"/><path color="#5a167e" d="M2642 2166l14 7-12-9-14-7z"/><path color="#e34e65" d="M2029 2009l13 14-14 1-12-10z"/><path color="#ea5661" d="M2042 2023l13 19-14-3-13-15z"/><path color="#ef5d5e" d="M2055 2042l12 18-13-6-13-15z"/><path color="#f4675c" d="M2067 2060l13 14 12 10 12 3 12 2 13 15-14-8-13-17-12-2-12-3-12-11-12-9z"/><path color="#f7705c" d="M2129 2104l12 2-14-7-12-3z"/><path color="#f4675c" d="M2141 2106l12-3-14-6-12 2z"/><path color="#ef5d5e" d="M2153 2103l12 2 12 2 13 8 12-2-13 2-13-1-12-9-12-5-13-3z"/><path color="#ea5661" d="M2202 2113l12 0 13 12 12-2 13 10 12-1-13 9-12 0-13-11-12 1-13-15-12-1z"/><path color="#e34e65" d="M2264 2132l13 6 12-3 13 11-13 10-13-11-12 2-13-6z"/><path color="#dc4869" d="M2302 2146l12-3 13 7 13 7 12 17 13-5 13 3-13 9-13-2-13 6-12-17-13-7-13-6-12 1z"/><path color="#d5446d" d="M2378 2172l13 3 12 13 13-2 13 7-13 5-13-5-13 2-12-12-13-2z"/><path color="#cc3f71" d="M2429 2193l13-3-13 4-13 4z"/><path color="#ba3878" d="M2442 2190l13-12-13 2-13 14z"/><path color="#b2357b" d="M2455 2178l13 9 13-6-12-1-14 8-13-8z"/><path color="#a02f7f" d="M2481 2181l14-12-13-2-13 13z"/><path color="#962c80" d="M2495 2169l13 3-13-4-13-1z"/><path color="#8e2a81" d="M2508 2172l14-9-13-5-14 10z"/><path color="#7c2382" d="M2522 2163l13-8-12-7-14 10z"/><path color="#752181" d="M2535 2155l14 0 13 9-13-6-13-10-13 0z"/><path color="#6b1d81" d="M2562 2164l14-9-13-7-14 10z"/><path color="#5a167e" d="M2576 2155l14-9 12 22 15-17-13-8-14 18-13-23-14 10z"/><path color="#52137c" d="M2617 2151l13 6 14 7-13-9-13-6-14-6z"/><path color="#dc4869" d="M2016 2014l12 10-13-1-12-6z"/><path color="#e34e65" d="M2028 2024l13 15 13 15-14-9-13-11-12-11z"/><path color="#ea5661" d="M2054 2054l12 9 12 11 12 3 12 2 13 17-14-10-12-18-12-2-13-4-12-11-12-6z"/><path color="#ef5d5e" d="M2115 2096l12 3-13-8-13-5z"/><path color="#ea5661" d="M2127 2099l12-2 13 3 12 5 12 9 13 1-13 1-13-2-12-13-13-5-12-6-12 1z"/><path color="#e34e65" d="M2189 2115l12 1 13 15-13 5-13-17-12-3z"/><path color="#ea5661" d="M2214 2131l12-1 13 11-13 7-13-12-12 0z"/><path color="#e34e65" d="M2239 2141l12 0 13 6 12-2 13 11-13 11-13-12-12 2-13-8-12-1z"/><path color="#dc4869" d="M2289 2156l12-1 13 6 13 7-13 11-13-6-13-7-12 1z"/><path color="#e34e65" d="M2327 2168l12 17-13 11-12-17z"/><path color="#dc4869" d="M2339 2185l13-6 13 2-13 11-13-2-13 6z"/><path color="#d5446d" d="M2365 2181l13 2 12 12 13-2-13 8-13 3-12-11-13-1z"/><path color="#cc3f71" d="M2403 2193l13 5 13-4-13 6-13 6-13-5z"/><path color="#ba3878" d="M2429 2194l13-14-13 5-13 15z"/><path color="#b2357b" d="M2442 2180l13 8-13 4-13-7z"/><path color="#a8327d" d="M2455 2188l14-8-13 2-14 10z"/><path color="#962c80" d="M2469 2180l13-13-13 0-13 15z"/><path color="#8e2a81" d="M2482 2167l13 1-12-1-14 0z"/><path color="#7c2382" d="M2495 2168l14-10-13-3-13 12z"/><path color="#752181" d="M2509 2158l14-10-13-4-14 11z"/><path color="#641a80" d="M2523 2148l13 0 13 10-12-5-14-9-13 0z"/><path color="#5a167e" d="M2549 2158l14-10-13-5-13 10z"/><path color="#52137c" d="M2563 2148l14-10 13 23-13-5-13-23-14 10z"/><path color="#491078" d="M2590 2161l14-18-12-6-15 19z"/><path color="#400f74" d="M2604 2143l14 6 13 6-12-6-14-7-13-5z"/><path color="#d5446d" d="M2003 2017l12 6 12 11 13 11 12 6-14-18-13-3-12-8-12-9-12-4z"/><path color="#dc4869" d="M2052 2051l12 11 13 4-15-17-12-4-12-12z"/><path color="#d5446d" d="M2077 2066l12 2-14-17-13-2z"/><path color="#dc4869" d="M2089 2068l12 18-14-15-12-20z"/><path color="#e34e65" d="M2101 2086l13 5-14-12-13-8z"/><path color="#dc4869" d="M2114 2091l12-1 12 6 13 5 12 13-13-2-13-15-12-9-13-8-12-1z"/><path color="#e34e65" d="M2163 2114l13 2-14 0-12-4z"/><path color="#dc4869" d="M2176 2116l12 3-13 2-13-5z"/><path color="#e34e65" d="M2188 2119l13 17 12 0 13 12 12 1 13 8 12-2 13 12 12-1-13 11-12 1-13-13-12 1-13-8-13-3-12-14-13-1-12-19z"/><path color="#dc4869" d="M2288 2166l13 7 13 6-13 13-13-7-13-8z"/><path color="#e34e65" d="M2314 2179l12 17 13-6-13 14-13 5-12-17z"/><path color="#dc4869" d="M2339 2190l13 2-13 15-13-3z"/><path color="#d5446d" d="M2352 2192l13 1 12 11 13-3-13 15-13 3-12-11-13-1z"/><path color="#cc3f71" d="M2390 2201l13 5 13-6-13 15-13 6-13-5z"/><path color="#ba3878" d="M2416 2200l13-15-13 14-13 16z"/><path color="#b2357b" d="M2429 2185l13 7-13 13-13-6z"/><path color="#a8327d" d="M2442 2192l14-10-13 13-14 10z"/><path color="#962c80" d="M2456 2182l13-15-13 11-13 17z"/><path color="#862781" d="M2469 2167l14 0-14 10-13 1z"/><path color="#7c2382" d="M2483 2167l13-12-13 8-14 14z"/><path color="#6b1d81" d="M2496 2155l14-11-13 7-14 12z"/><path color="#5a167e" d="M2510 2144l13 0 14 9-14 6-13-9-13 1z"/><path color="#52137c" d="M2537 2153l13-10-13 5-14 11z"/><path color="#491078" d="M2550 2143l14-10 13 23-13 4-13-23-14 11z"/><path color="#400f74" d="M2577 2156l15-19-13 5-15 18z"/><path color="#38106c" d="M2592 2137l13 5 14 7-13 6-14-7-13-6z"/><path color="#c43c75" d="M1989 2009l12 4 12 9 12 8 13 3 12 12 12 4 13 2 12 20-14-15-13-21-12-3-12-4-13-13-12 0-12-6-13-6-12-1z"/><path color="#cc3f71" d="M2087 2071l13 8 12 1 13 8 12 9-13-4-13-12-13-11-12-4-13-10z"/><path color="#d5446d" d="M2137 2097l13 15-14-2-12-17z"/><path color="#dc4869" d="M2150 2112l12 4-13 0-13-6z"/><path color="#d5446d" d="M2162 2116l13 5-14 2-12-7z"/><path color="#dc4869" d="M2175 2121l12 19-13 4-13-21z"/><path color="#e34e65" d="M2187 2140l13 1 12 14 13 3 13 8 12-1 13 13 12-1 13 8 13 7 12 17 13-5-13 15-13 4-12-18-13-7-13-9-12 0-13-13-13 0-12-10-13-4-12-15-13-3z"/><path color="#dc4869" d="M2326 2204l13 3 13 1 12 11 13-3-13 15-13 3-13-10-12-2-13-3z"/><path color="#d5446d" d="M2377 2216l13 5-13 15-13-5z"/><path color="#cc3f71" d="M2390 2221l13-6-13 14-13 7z"/><path color="#ba3878" d="M2403 2215l13-16-13 14-13 16z"/><path color="#b2357b" d="M2416 2199l13 6-13 13-13-5z"/><path color="#a8327d" d="M2429 2205l14-10-14 12-13 11z"/><path color="#962c80" d="M2443 2195l13-17-13 11-14 18z"/><path color="#862781" d="M2456 2178l13-1-13 10-13 2z"/><path color="#7c2382" d="M2469 2177l14-14-13 9-14 15z"/><path color="#6b1d81" d="M2483 2163l14-12-14 7-13 14z"/><path color="#5a167e" d="M2497 2151l13-1 13 9-13 6-13-8-14 1z"/><path color="#52137c" d="M2523 2159l14-11-13 5-14 12z"/><path color="#400f74" d="M2537 2148l14-11 13 23 15-18-14 5-14 18-13-24-14 12z"/><path color="#2d1161" d="M2579 2142l13 6 14 7-14 6-13-7-14-7z"/><path color="#b2357b" d="M1974 2002l12 1 13 6-15-13-12-3-12 2z"/><path color="#a8327d" d="M1999 2009l12 6 12 0 13 13 12 4 12 3-14-17-12-3-13-4-12-14-12 3-13-4z"/><path color="#b2357b" d="M2060 2035l13 21-14-16-13-22z"/><path color="#ba3878" d="M2073 2056l13 10 12 4 13 11-14-7-13-14-12-6-13-14z"/><path color="#c43c75" d="M2111 2081l13 12-14-4-13-15z"/><path color="#cc3f71" d="M2124 2093l12 17 13 6 12 7-13 2-13-10-12-7-13-19z"/><path color="#d5446d" d="M2161 2123l13 21-13 4-13-23z"/><path color="#dc4869" d="M2174 2144l13 3 12 15-13 7-13-17-12-4z"/><path color="#e34e65" d="M2199 2162l13 4 12 10 13 0 13 13 12 0 13 9 13 7-14 13-12-8-13-9-12-1-13-14-13-1-12-11-13-5z"/><path color="#ea5661" d="M2288 2205l12 18 13-4-13 14-13 3-13-18z"/><path color="#e34e65" d="M2313 2219l13 3 12 2 13 10-13 15-13-10-12-2-13-4z"/><path color="#dc4869" d="M2351 2234l13-3 13 5-13 15-13-5-13 3z"/><path color="#d5446d" d="M2377 2236l13-7-13 15-13 7z"/><path color="#c43c75" d="M2390 2229l13-16-13 14-13 17z"/><path color="#b2357b" d="M2403 2213l13 5-13 13-13-4z"/><path color="#a8327d" d="M2416 2218l13-11-13 13-13 11z"/><path color="#962c80" d="M2429 2207l14-18-13 12-14 19z"/><path color="#862781" d="M2443 2189l13-2-13 10-13 4z"/><path color="#7c2382" d="M2456 2187l14-15-14 8-13 17z"/><path color="#641a80" d="M2470 2172l13-14-13 7-14 15z"/><path color="#5a167e" d="M2483 2158l14-1-13 6-14 2z"/><path color="#52137c" d="M2497 2157l13 8 14-12-13 5-14 13-13-8z"/><path color="#400f74" d="M2524 2153l14-12 13 24-13 5-13-25-14 13z"/><path color="#38106c" d="M2551 2165l14-18-13 5-14 18z"/><path color="#2d1161" d="M2565 2147l14 7 13 7-13 6-13-8-14-7z"/><path color="#a02f7f" d="M1960 1995l12-2 12 3-14-6-12-3-12 3z"/><path color="#962c80" d="M1984 1996l13 4 12-3 12 14 13 4 12 3 13 22-14-10-13-22-13-2-12-3-13-14-12 4-12-3z"/><path color="#a02f7f" d="M2059 2040l13 14-14-8-13-16z"/><path color="#a8327d" d="M2072 2054l12 6 13 14-14-4-13-16-12-8z"/><path color="#b2357b" d="M2097 2074l13 15-14-2-13-17z"/><path color="#c43c75" d="M2110 2089l13 19 12 7-13 2-13-10-13-20z"/><path color="#cc3f71" d="M2135 2115l13 10-14 2-12-10z"/><path color="#d5446d" d="M2148 2125l13 23-13 5-14-26z"/><path color="#dc4869" d="M2161 2148l12 4 13 17-13 6-13-17-12-5z"/><path color="#e34e65" d="M2186 2169l13 5 12 11 13 1 13 14 12 1 13 9 12 8-13 13-12-9-13-10-13-1-12-15-13-1-13-13-12-7z"/><path color="#ea5661" d="M2274 2218l13 18 13-3 13 4-14 15-12-4-13 2-13-19z"/><path color="#e34e65" d="M2313 2237l12 2 13 10 13-3-13 17-13 3-13-11-13-3z"/><path color="#dc4869" d="M2351 2246l13 5 13-7-13 19-13 6-13-6z"/><path color="#cc3f71" d="M2377 2244l13-17-13 21-13 15z"/><path color="#ba3878" d="M2390 2227l13 4-13 22-13-5z"/><path color="#b2357b" d="M2403 2231l13-11-13 23-13 10z"/><path color="#a02f7f" d="M2416 2220l14-19-14 23-13 19z"/><path color="#8e2a81" d="M2430 2201l13-4-14 22-13 5z"/><path color="#7c2382" d="M2443 2197l13-17-13 22-14 17z"/><path color="#6b1d81" d="M2456 2180l14-15-13 21-14 16z"/><path color="#5a167e" d="M2470 2165l14-2 13 8-14 17-13-6-13 4z"/><path color="#52137c" d="M2497 2171l14-13-14 17-14 13z"/><path color="#400f74" d="M2511 2158l14-13-14 16-14 14z"/><path color="#38106c" d="M2525 2145l13 25 14-18-13 13-15 19-13-23z"/><path color="#2d1161" d="M2552 2152l14 7 13 8-13 11-14-7-13-6z"/><path color="#962c80" d="M1946 1990l12-3-14-5-12 4z"/><path color="#8e2a81" d="M1958 1987l12 3 12 3-14-7-12-2-12-2z"/><path color="#862781" d="M1982 1993l12-4 13 14 12 3 13 2 13 22-14-10-14-22-12-1-12-2-13-13-12 4z"/><path color="#962c80" d="M2045 2030l13 16 12 8-14-6-12-10-13-18z"/><path color="#a02f7f" d="M2070 2054l13 16-14-3-13-19z"/><path color="#a8327d" d="M2083 2070l13 17-14-2-13-18z"/><path color="#b2357b" d="M2096 2087l13 20-13 0-14-22z"/><path color="#ba3878" d="M2109 2107l13 10-14 1-12-11z"/><path color="#c43c75" d="M2122 2117l12 10-13 3-13-12z"/><path color="#cc3f71" d="M2134 2127l14 26-14 4-13-27z"/><path color="#d5446d" d="M2148 2153l12 5-13 5-13-6z"/><path color="#dc4869" d="M2160 2158l13 17 12 7-13 9-12-9-13-19z"/><path color="#e34e65" d="M2185 2182l13 13 13 1 12 15 13 1 13 10-13 13-13-11-13-2-13-16-12-1-13-14z"/><path color="#ea5661" d="M2249 2222l12 9 13 19-13 14-13-20-12-9z"/><path color="#ef5d5e" d="M2274 2250l13-2-13 14-13 2z"/><path color="#ea5661" d="M2287 2248l12 4 13 3 13 11 13-3-13 18-13 1-13-12-13-2-12-6z"/><path color="#e34e65" d="M2338 2263l13 6-14 18-12-6z"/><path color="#dc4869" d="M2351 2269l13-6-14 19-13 5z"/><path color="#d5446d" d="M2364 2263l13-15-14 21-13 13z"/><path color="#c43c75" d="M2377 2248l13 5 13-10-14 24-13 8-13-6z"/><path color="#a8327d" d="M2403 2243l13-19-13 23-14 20z"/><path color="#962c80" d="M2416 2224l13-5-13 22-13 6z"/><path color="#862781" d="M2429 2219l14-17-14 21-13 18z"/><path color="#752181" d="M2443 2202l14-16-14 21-14 16z"/><path color="#641a80" d="M2457 2186l13-4 13 6-13 19-13-5-14 5z"/><path color="#52137c" d="M2483 2188l14-13-13 17-14 15z"/><path color="#400f74" d="M2497 2175l14-14 13 23-13 15-13-22-14 15z"/><path color="#38106c" d="M2524 2184l15-19-14 14-14 20z"/><path color="#2d1161" d="M2539 2165l13 6 14 7-14 11-13-5-14-5z"/><path color="#862781" d="M1932 1986l12-4 12 2-15-6-12-2-11 5z"/><path color="#7c2382" d="M1956 1984l12 2-14-6-13-2z"/><path color="#752181" d="M1968 1986l12-4 13 13 12 2 12 1 14 22-15-10-13-22-12 0-13-1-12-13-12 6z"/><path color="#862781" d="M2031 2020l13 18-15-8-13-20z"/><path color="#8e2a81" d="M2044 2038l12 10 13 19-14-4-13-21-13-12z"/><path color="#a02f7f" d="M2069 2067l13 18-13-1-14-21z"/><path color="#a8327d" d="M2082 2085l14 22-14 0-13-23z"/><path color="#b2357b" d="M2096 2107l12 11-13 1-13-12z"/><path color="#ba3878" d="M2108 2118l13 12-14 2-12-13z"/><path color="#c43c75" d="M2121 2130l13 27-13 4-14-29z"/><path color="#d5446d" d="M2134 2157l13 6 13 19-14 7-13-20-12-8z"/><path color="#dc4869" d="M2160 2182l12 9-13 8-13-10z"/><path color="#e34e65" d="M2172 2191l13 14 12 1 13 16-13 11-13-16-12-3-13-15z"/><path color="#ea5661" d="M2210 2222l13 2 13 11 12 9-13 13-13-10-12-11-13-3z"/><path color="#ef5d5e" d="M2248 2244l13 20 13-2 12 6-13 15-12-7-13 1-13-20z"/><path color="#ea5661" d="M2286 2268l13 2-13 16-13-3z"/><path color="#ef5d5e" d="M2299 2270l13 12-13 16-13-12z"/><path color="#ea5661" d="M2312 2282l13-1 12 6-13 18-13-7-12 0z"/><path color="#e34e65" d="M2337 2287l13-5-13 19-13 4z"/><path color="#dc4869" d="M2350 2282l13-13-13 21-13 11z"/><path color="#d5446d" d="M2363 2269l13 6-13 22-13-7z"/><path color="#cc3f71" d="M2376 2275l13-8-13 23-13 7z"/><path color="#ba3878" d="M2389 2267l14-20-14 23-13 20z"/><path color="#a8327d" d="M2403 2247l13-6-14 22-13 7z"/><path color="#962c80" d="M2416 2241l13-18-13 22-14 18z"/><path color="#7c2382" d="M2429 2223l14-16-14 21-13 17z"/><path color="#6b1d81" d="M2443 2207l14-5 13 5-14 18-13-3-14 6z"/><path color="#5a167e" d="M2470 2207l14-15-14 17-14 16z"/><path color="#491078" d="M2484 2192l14-15-14 16-14 16z"/><path color="#400f74" d="M2498 2177l13 22 14-20-14 13-14 21-13-20z"/><path color="#2d1161" d="M2525 2179l14 5 13 5-13 11-14-4-14-4z"/><path color="#862781" d="M1918 1981l11-5-13 19-11 4z"/><path color="#7c2382" d="M1929 1976l12 2 13 2-13 20-13-3-12-2z"/><path color="#752181" d="M1954 1980l12-6 12 13 13 1-13 19-13 0-12-12-12 5z"/><path color="#6b1d81" d="M1991 1988l12 0-13 18-12 1z"/><path color="#752181" d="M2003 1988l13 22-13 17-13-21z"/><path color="#7c2382" d="M2016 2010l13 20-13 16-13-19z"/><path color="#862781" d="M2029 2030l13 12-13 15-13-11z"/><path color="#8e2a81" d="M2042 2042l13 21-13 14-13-20z"/><path color="#962c80" d="M2055 2063l14 21-14 13-13-20z"/><path color="#a8327d" d="M2069 2084l13 23-13 14-14-24z"/><path color="#b2357b" d="M2082 2107l13 12-14 14-12-12z"/><path color="#ba3878" d="M2095 2119l12 13-13 14-13-13z"/><path color="#c43c75" d="M2107 2132l14 29-14 14-13-29z"/><path color="#d5446d" d="M2121 2161l12 8 13 20-13 15-13-20-13-9z"/><path color="#dc4869" d="M2146 2189l13 10-13 15-13-10z"/><path color="#e34e65" d="M2159 2199l13 15 12 3-13 16-12-3-13-16z"/><path color="#ea5661" d="M2184 2217l13 16 13 3 12 11 13 10-13 17-13-10-12-12-13-3-13-16z"/><path color="#ef5d5e" d="M2235 2257l13 20-13 17-13-20z"/><path color="#f4675c" d="M2248 2277l13-1-14 17-12 1z"/><path color="#ef5d5e" d="M2261 2276l12 7 13 3 13 12 12 0 13 7-13 20-13-7-12-1-13-13-13-4-13-7z"/><path color="#ea5661" d="M2324 2305l13-4-13 23-13 1z"/><path color="#e34e65" d="M2337 2301l13-11-13 25-13 9z"/><path color="#dc4869" d="M2350 2290l13 7 13-7-13 29-13 4-13-8z"/><path color="#cc3f71" d="M2376 2290l13-20-13 30-13 19z"/><path color="#b2357b" d="M2389 2270l13-7-13 32-13 5z"/><path color="#a8327d" d="M2402 2263l14-18-14 33-13 17z"/><path color="#8e2a81" d="M2416 2245l13-17-13 35-14 15z"/><path color="#7c2382" d="M2429 2228l14-6-14 34-13 7z"/><path color="#752181" d="M2443 2222l13 3-13 32-14-1z"/><path color="#6b1d81" d="M2456 2225l14-16-14 32-13 16z"/><path color="#52137c" d="M2470 2209l14-16 13 20-14 28-13-17-14 17z"/><path color="#491078" d="M2497 2213l14-21-13 26-15 23z"/><path color="#38106c" d="M2511 2192l14 4 14 4-14 20-14-1-13-1z"/><path color="#962c80" d="M1905 1999l11-4-12 28-12 2z"/><path color="#8e2a81" d="M1916 1995l12 2-12 29-12-3z"/><path color="#862781" d="M1928 1997l13 3 12-5-13 30-12 4-12-3z"/><path color="#7c2382" d="M1953 1995l12 12 13 0 12-1 13 21-13 26-13-19-12 2-12 0-13-11z"/><path color="#862781" d="M2003 2027l13 19-13 24-13-17z"/><path color="#8e2a81" d="M2016 2046l13 11-13 23-13-10z"/><path color="#962c80" d="M2029 2057l13 20-13 20-13-17z"/><path color="#a02f7f" d="M2042 2077l13 20-13 18-13-18z"/><path color="#b2357b" d="M2055 2097l14 24-14 17-13-23z"/><path color="#ba3878" d="M2069 2121l12 12-13 18-13-13z"/><path color="#c43c75" d="M2081 2133l13 13-13 18-13-13z"/><path color="#cc3f71" d="M2094 2146l13 29-13 18-13-29z"/><path color="#d5446d" d="M2107 2175l13 9-13 17-13-8z"/><path color="#dc4869" d="M2120 2184l13 20-13 18-13-21z"/><path color="#e34e65" d="M2133 2204l13 10-13 18-13-10z"/><path color="#ea5661" d="M2146 2214l13 16 12 3 13 16-13 17-13-16-12-3-13-15z"/><path color="#ef5d5e" d="M2184 2249l13 3 12 12 13 10-13 18-13-10-13-12-12-4z"/><path color="#f4675c" d="M2222 2274l13 20-13 17-13-19z"/><path color="#f7705c" d="M2235 2294l12-1-13 18-12 0z"/><path color="#f4675c" d="M2247 2293l13 7 13 4 13 13 12 1 13 7 13-1-13 24-13-1-13-8-12-2-13-14-13-5-13-7z"/><path color="#ef5d5e" d="M2324 2324l13-9-13 26-13 7z"/><path color="#ea5661" d="M2337 2315l13 8 13-4-14 30-13 2-12-10z"/><path color="#dc4869" d="M2363 2319l13-19-14 33-13 16z"/><path color="#cc3f71" d="M2376 2300l13-5-14 34-13 4z"/><path color="#ba3878" d="M2389 2295l13-17-13 37-14 14z"/><path color="#a8327d" d="M2402 2278l14-15-14 39-13 13z"/><path color="#962c80" d="M2416 2263l13-7-14 38-13 8z"/><path color="#8e2a81" d="M2429 2256l14 1-14 37-14 0z"/><path color="#7c2382" d="M2443 2257l13-16-14 36-13 17z"/><path color="#6b1d81" d="M2456 2241l14-17-14 36-14 17z"/><path color="#641a80" d="M2470 2224l13 17-14 32-13-13z"/><path color="#5a167e" d="M2483 2241l15-23-14 29-15 26z"/><path color="#491078" d="M2498 2218l13 1-14 26-13 2z"/><path color="#400f74" d="M2511 2219l14 1-14 23-14 2z"/><path color="#a8327d" d="M1892 2025l12-2-12 39-12 2z"/><path color="#a02f7f" d="M1904 2023l12 3 12 3-11 41-13-4-12-4z"/><path color="#962c80" d="M1928 2029l12-4 13 11 12 0-12 42-12 0-13-10-11 2z"/><path color="#8e2a81" d="M1965 2036l12-2 13 19-12 41-13-18-12 2z"/><path color="#a02f7f" d="M1990 2053l13 17 13 10-12 37-13-8-13-15z"/><path color="#a8327d" d="M2016 2080l13 17-12 35-13-15z"/><path color="#b2357b" d="M2029 2097l13 18-12 32-13-15z"/><path color="#ba3878" d="M2042 2115l13 23-12 32-13-23z"/><path color="#c43c75" d="M2055 2138l13 13-12 30-13-11z"/><path color="#cc3f71" d="M2068 2151l13 13-13 29-12-12z"/><path color="#d5446d" d="M2081 2164l13 29-12 27-14-27z"/><path color="#e34e65" d="M2094 2193l13 8-13 27-12-8z"/><path color="#ea5661" d="M2107 2201l13 21 13 10-13 25-13-9-13-20z"/><path color="#ef5d5e" d="M2133 2232l13 15 12 3-13 25-12-3-13-15z"/><path color="#f4675c" d="M2158 2250l13 16 12 4 13 12-13 25-12-12-13-4-13-16z"/><path color="#f7705c" d="M2196 2282l13 10 13 19-13 25-13-19-13-10z"/><path color="#f97b5d" d="M2222 2311l12 0-13 25-12 0z"/><path color="#f7705c" d="M2234 2311l13 7 13 5-13 26-13-6-13-7z"/><path color="#f97b5d" d="M2260 2323l13 14 12 2 13 8-13 27-13-9-13-3-12-13z"/><path color="#f7705c" d="M2298 2347l13 1-13 28-13-2z"/><path color="#f4675c" d="M2311 2348l13-7 12 10 13-2-13 33-13 0-13-11-12 5z"/><path color="#ea5661" d="M2349 2349l13-16-13 36-13 13z"/><path color="#e34e65" d="M2362 2333l13-4-13 38-13 2z"/><path color="#d5446d" d="M2375 2329l14-14-14 41-13 11z"/><path color="#c43c75" d="M2389 2315l13-13-14 44-13 10z"/><path color="#b2357b" d="M2402 2302l13-8-13 44-14 8z"/><path color="#a8327d" d="M2415 2294l14 0-14 44-13 0z"/><path color="#962c80" d="M2429 2294l13-17-14 45-13 16z"/><path color="#862781" d="M2442 2277l14-17-14 46-14 16z"/><path color="#7c2382" d="M2456 2260l13 13-14 42-13-9z"/><path color="#752181" d="M2469 2273l15-26-15 43-14 25z"/><path color="#5a167e" d="M2484 2247l13-2-14 40-14 5z"/><path color="#52137c" d="M2497 2245l14-2-14 38-14 4z"/><path color="#cc3f71" d="M1880 2064l12-2-11 48-12 0z"/><path color="#c43c75" d="M1892 2062l12 4 13 4-11 50-13-5-12-5z"/><path color="#ba3878" d="M1917 2070l11-2 13 10 12 0-11 51-12-1-13-9-11 1z"/><path color="#b2357b" d="M1953 2078l12-2 13 18-11 51-13-17-12 1z"/><path color="#ba3878" d="M1978 2094l13 15-11 49-13-13z"/><path color="#c43c75" d="M1991 2109l13 8 13 15-12 44-13-12-12-6z"/><path color="#cc3f71" d="M2017 2132l13 15-12 43-13-14z"/><path color="#d5446d" d="M2030 2147l13 23-12 39-13-19z"/><path color="#dc4869" d="M2043 2170l13 11-13 38-12-10z"/><path color="#e34e65" d="M2056 2181l12 12-12 37-13-11z"/><path color="#ea5661" d="M2068 2193l14 27-13 34-13-24z"/><path color="#ef5d5e" d="M2082 2220l12 8-12 33-13-7z"/><path color="#f4675c" d="M2094 2228l13 20 13 9-13 31-12-9-13-18z"/><path color="#f7705c" d="M2120 2257l13 15 12 3-13 30-12-4-13-13z"/><path color="#f97b5d" d="M2145 2275l13 16 13 4 12 12 13 10-13 30-13-11-12-11-13-4-13-16z"/><path color="#fb8560" d="M2196 2317l13 19-13 29-13-18z"/><path color="#fc9065" d="M2209 2336l12 0-13 30-12-1z"/><path color="#fb8560" d="M2221 2336l13 7 13 6-13 30-13-7-13-6z"/><path color="#fc9065" d="M2247 2349l12 13 13 3 13 9 13 2-13 30-13-3-13-9-12-2-13-13z"/><path color="#fb8560" d="M2298 2376l12-5-13 32-12 3z"/><path color="#f97b5d" d="M2310 2371l13 11 13 0-13 34-13-1-13-12z"/><path color="#f7705c" d="M2336 2382l13-13-13 37-13 10z"/><path color="#f4675c" d="M2349 2369l13-2-13 40-13-1z"/><path color="#ea5661" d="M2362 2367l13-11-13 43-13 8z"/><path color="#e34e65" d="M2375 2356l13-10-13 46-13 7z"/><path color="#d5446d" d="M2388 2346l14-8-14 48-13 6z"/><path color="#cc3f71" d="M2402 2338l13 0-14 48-13 0z"/><path color="#ba3878" d="M2415 2338l13-16-14 50-13 14z"/><path color="#a8327d" d="M2428 2322l14-16-14 52-14 14z"/><path color="#a02f7f" d="M2442 2306l13 9-14 50-13-7z"/><path color="#8e2a81" d="M2455 2315l14-25-14 50-14 25z"/><path color="#7c2382" d="M2469 2290l14-5-14 49-14 6z"/><path color="#752181" d="M2483 2285l14-4-15 48-13 5z"/><path color="#ea5661" d="M1869 2110l12 0-10 51-12-2z"/><path color="#e34e65" d="M1881 2110l12 5 13 5 11-1 13 9 12 1-11 56-12-1-12-9-12-1-12-7-12-6z"/><path color="#dc4869" d="M1942 2129l12-1 13 17-11 56-13-15-12-1z"/><path color="#e34e65" d="M1967 2145l13 13 12 6 13 12-11 52-13-11-12-5-13-11z"/><path color="#ea5661" d="M2005 2176l13 14-12 49-12-11z"/><path color="#ef5d5e" d="M2018 2190l13 19-12 47-13-17z"/><path color="#f4675c" d="M2031 2209l12 10 13 11-12 42-12-8-13-8z"/><path color="#f7705c" d="M2056 2230l13 24-12 39-13-21z"/><path color="#f97b5d" d="M2069 2254l13 7 13 18-13 37-12-17-13-6z"/><path color="#fb8560" d="M2095 2279l12 9 13 13-12 35-13-13-13-7z"/><path color="#fc9065" d="M2120 2301l12 4 13 16 13 4 12 11-12 33-13-11-12-4-13-14-12-4z"/><path color="#fd9a6a" d="M2170 2336l13 11-13 32-12-10z"/><path color="#fea36f" d="M2183 2347l13 18 12 1 13 6 13 7 13 13 12 2 13 9 13 3-13 32-13-5-13-9-12-2-13-13-13-6-12-7-13-1-13-16z"/><path color="#fd9a6a" d="M2285 2406l12-3 13 12 13 1-13 35-13-3-13-12-12 2z"/><path color="#fc9065" d="M2323 2416l13-10-13 39-13 6z"/><path color="#fb8560" d="M2336 2406l13 1-14 42-12-4z"/><path color="#f97b5d" d="M2349 2407l13-8-14 46-13 4z"/><path color="#f4675c" d="M2362 2399l13-7-14 50-13 3z"/><path color="#ef5d5e" d="M2375 2392l13-6-14 52-13 4z"/><path color="#ea5661" d="M2388 2386l13 0-14 53-13-1z"/><path color="#e34e65" d="M2401 2386l13-14-13 57-14 10z"/><path color="#d5446d" d="M2414 2372l14-14-14 60-13 11z"/><path color="#cc3f71" d="M2428 2358l13 7-14 58-13-5z"/><path color="#ba3878" d="M2441 2365l14-25-14 59-14 24z"/><path color="#a8327d" d="M2455 2340l14-6-15 59-13 6z"/><path color="#962c80" d="M2469 2334l13-5-14 58-14 6z"/><path color="#f97b5d" d="M1859 2159l12 2 12 6 12 7 12 1 12 9 12 1-10 64-12-3-12-8-12-5-12-8-13-8-12-5z"/><path color="#f7705c" d="M1931 2185l12 1-10 64-12-1z"/><path color="#f97b5d" d="M1943 2186l13 15 13 11 12 5 13 11-11 59-13-9-12-5-12-9-13-14z"/><path color="#fb8560" d="M1994 2228l12 11 13 17-11 54-13-13-12-10z"/><path color="#fc9065" d="M2019 2256l13 8 12 8-11 50-13-6-12-6z"/><path color="#fd9a6a" d="M2044 2272l13 21 13 6-12 46-13-6-12-17z"/><path color="#fea36f" d="M2070 2299l12 17 13 7-12 42-13-6-12-14z"/><path color="#feae77" d="M2095 2323l13 13 12 4 13 14 12 4 13 11 12 10-12 34-13-8-12-9-13-4-12-12-13-4-12-11z"/><path color="#feb77e" d="M2170 2379l13 16 13 1 12 7 13 6 13 13 12 2 13 9 13 5 12-2 13 12 13 3-13 36-13-4-13-13-12 0-13-6-13-9-12-3-13-12-12-6-13-6-12 0-13-15z"/><path color="#feae77" d="M2310 2451l13-6-14 41-12 1z"/><path color="#fea36f" d="M2323 2445l12 4 13-4-13 48-13 0-13-7z"/><path color="#fd9a6a" d="M2348 2445l13-3-13 52-13-1z"/><path color="#fc9065" d="M2361 2442l13-4-13 56-13 0z"/><path color="#fb8560" d="M2374 2438l13 1-13 60-13-5z"/><path color="#f97b5d" d="M2387 2439l14-10-14 65-13 5z"/><path color="#f7705c" d="M2401 2429l13-11-14 70-13 6z"/><path color="#f4675c" d="M2414 2418l13 5-14 67-13-2z"/><path color="#ea5661" d="M2427 2423l14-24-15 71-13 20z"/><path color="#d5446d" d="M2441 2399l13-6-14 70-14 7z"/><path color="#cc3f71" d="M2454 2393l14-6-15 69-13 7z"/><path color="#feae77" d="M1848 2212l12 5 13 8 12 8 12 5 12 8 12 3-11 45-12-7-12-6-12-7-12-6-12-7-13-6z"/><path color="#fea36f" d="M1921 2249l12 1 13 14-12 43-12-7-12-6z"/><path color="#feae77" d="M1946 2264l12 9 12 5 13 9 12 10-11 40-13-8-12-7-12-8-13-7z"/><path color="#feb77e" d="M1995 2297l13 13 12 6 13 6 12 17-12 33-12-9-13-9-12-8-12-9z"/><path color="#fec287" d="M2045 2339l13 6 12 14 13 6 12 11 13 4-13 31-12-9-13-7-12-8-12-8-13-7z"/><path color="#fecc8f" d="M2108 2380l12 12 13 4 12 9 13 8 13 15 12 0 13 6 12 6 13 12 12 3 13 9 13 6 12 0 13 13 13 4 12-1-13 36-12-4-13-7-13-6-12-7-13-7-12-7-13-6-13-7-12-7-13-7-12-6-13-7-12-7-13-8-12-9-13-9z"/><path color="#fec287" d="M2309 2486l13 7 13 0 13 1-13 39-13-3-13-4-13-4z"/><path color="#feb77e" d="M2348 2494l13 0 13 5-14 40-12-3-13-3z"/><path color="#feae77" d="M2374 2499l13-5-14 48-13-3z"/><path color="#fea36f" d="M2387 2494l13-6-14 56-13-2z"/><path color="#fd9a6a" d="M2400 2488l13 2-14 47-13 7z"/><path color="#fb8560" d="M2413 2490l13-20-13 59-14 8z"/><path color="#f7705c" d="M2426 2470l14-7-14 58-13 8z"/><path color="#f4675c" d="M2440 2463l13-7-14 57-13 8z"/><path color="#fecc8f" d="M1837 2255l13 6 12 7 12 6 12 7 12 6 12 7 12 6 12 7 13 7 12 8 12 7 13 8 12 9-12 32-12-9-13-6-12-7-12-6-12-7-12-7-12-6-13-7-12-6-12-7-12-6-12-7-12-6z"/><path color="#fed799" d="M1996 2346l12 8 13 9 12 9 13 7 12 8 12 8 13 7 12 9-12 28-13-9-12-7-12-6-13-7-12-7-12-8-13-9-12-8z"/><path color="#fde0a1" d="M2095 2411l13 9 12 9 13 8 12 7 13 7 12 6 13 7 12 7 13 7 13 6 12 7 13 7 12 7 13 6 13 7 12 4 13 4 13 4-13 30-13-5-13-5-12-4-13-7-13-7-12-7-13-7-12-6-13-7-12-7-13-7-12-6-13-7-12-7-13-7-12-8-13-9-12-8z"/><path color="#fed799" d="M2322 2530l13 3 13 3 12 3-13 36-13-5-12-5-13-5z"/><path color="#fecc8f" d="M2360 2539l13 3 13 2-13 41-13-5-13-5z"/><path color="#fec287" d="M2386 2544l13-7-13 43-13 5z"/><path color="#feb77e" d="M2399 2537l14-8-14 47-13 4z"/><path color="#fea36f" d="M2413 2529l13-8-14 50-13 5z"/><path color="#fd9a6a" d="M2426 2521l13-8-14 53-13 5z"/><path color="#fde0a1" d="M1826 2291l12 6 12 7 12 6 12 7 12 6 13 7 12 6 12 7 12 7 12 6 12 7 13 6 12 9 12 8-13 19-12-8-12-8-12-6-12-7-13-6-12-7-12-7-12-6-12-7-12-6-12-7-12-6-12-7-12-6z"/><path color="#fdebac" d="M1996 2386l13 9 12 8 12 7 13 7 12 6 12 7 13 9 12 8 13 9 12 8-13 15-12-8-13-8-12-8-13-7-12-7-12-7-13-6-12-7-12-8-13-8z"/><path color="#fcf4b6" d="M2120 2464l13 7 12 7 13 7 12 6 13 7 12 7 13 7 12 6 13 7 12 7 13 7 13 7-13 15-13-7-13-7-12-7-13-7-12-6-13-7-12-7-13-7-12-6-13-7-12-7-13-7z"/><path color="#fdebac" d="M2271 2546l12 4 13 5 13 5 13 5 12 5 13 5-13 19-13-5-13-6-12-6-13-5-13-6-12-5z"/><path color="#fde0a1" d="M2347 2575l13 5 13 5 13-5-13 25-13 1-13-6-13-6z"/><path color="#fecc8f" d="M2386 2580l13-4-13 28-13 1z"/><path color="#fec287" d="M2399 2576l13-5-13 32-13 1z"/><path color="#feb77e" d="M2412 2571l13-5-13 36-13 1z"/><path color="#fdebac" d="M1814 2311l12 6 12 7 12 6 12 7 12 6 12 7 12 6 12 7 12 7 13 6 12 7 12 6 12 8 12 8-12 19-13-7-12-8-12-6-12-7-12-6-12-7-13-7-12-6-12-7-12-6-12-7-12-6-12-7-12-6z"/><path color="#fcf4b6" d="M1983 2405l13 8 12 8 12 7 13 6 12 7 12 7 13 7 12 8 13 8 12 8 13 7 12 7 13 7 12 6 13 7 12 7 13 7 12 6 13 7 12 7 13 7 13 7 12 5 13 6 13 5 12 6 13 6 13 5-13 19-13-6-13-6-12-6-13-7-13-6-12-6-13-7-13-7-12-7-13-6-12-7-13-7-12-7-13-7-12-6-13-7-12-7-13-7-12-7-13-7-12-8-12-7-13-7-12-6-12-7-13-7-12-7-12-7z"/><path color="#fdebac" d="M2334 2594l13 6 13 6 13-1-14 24-12-3-13-6-13-7z"/><path color="#fde0a1" d="M2373 2605l13-1 13-1-14 32-13-3-13-3z"/><path color="#fed799" d="M2399 2603l13-1-14 37-13-4z"/><path color="#fcf4b6" d="M1801 2331l12 6 12 7 12 6 12 7 12 6 12 7 12 6 13 7 12 7 12 6 12 7 12 6 12 8 13 7-13 19-12-7-12-7-13-6-12-7-12-6-12-7-12-7-12-6-12-7-12-6-12-7-12-6-12-7-12-6z"/><path color="#fcfdbf" d="M1971 2424l12 7 12 7 13 7 12 7 12 6 13 7 12 7 12 8 13 7 12 7 13 7 12 7 13 7 12 6 13 7 12 7 13 7 12 7 13 6 12 7 13 7 13 7 12 6 13 6 13 7 12 6 13 6 13 6-13 20-13-7-13-7-12-7-13-7-13-7-12-7-13-7-13-7-12-6-13-7-12-7-13-7-13-7-12-6-13-7-12-7-12-7-13-6-12-7-13-7-12-7-12-6-13-7-12-7-12-6-13-7-12-7-12-6z"/><path color="#fcf4b6" d="M2321 2613l13 7 13 6 12 3 13 3 13 3 13 4-13 35-13-7-13-7-13-7-13-6-12-7-13-7z"/></g><text x="831.9" y="1232.1" font-size="39">0°</text><text x="866.3" y="1263.2" font-size="39">10°</text><text x="914.1" y="1286.7" font-size="39">20°</text><text x="958.6" y="1312.1" font-size="39">30°</text><text x="1007.5" y="1337.6" font-size="39">40°</text><text x="1064.5" y="1365.5" font-size="39">50°</text><text x="1112.6" y="1392.9" font-size="39">60°</text><text x="1227.4" y="1386.0" font-size="39">0.0</text><text x="1294.2" y="1331.7" font-size="39">0.10</text><text x="1366.9" y="1273.5" font-size="39">0.20</text><text x="1428.6" y="1223.2" font-size="39">0.30</text><text x="1510.3" y="941.1" font-size="39">2.5</text><text x="1503.6" y="988.4" font-size="39">2.0</text><text x="1496.9" y="1033.7" font-size="39">1.5</text><text x="1493.7" y="1075.0" font-size="39">1.0</text><text x="1491.6" y="1121.5" font-size="39">0.5</text><text x="1489.1" y="1168.2" font-size="39">0.0</text><text transform="translate(938.9 1320.3) rotate(28.70)" x="-106.6" y="9.3" font-size="39" font-weight="bold" xml:space="preserve">Tilt angle (<tspan font-style="italic">δ</tspan>)</text><text transform="translate(1423.3 1325.5) rotate(-38.40)" x="-100.7" y="9.2" font-size="39" font-weight="bold" xml:space="preserve">Energy (eV)</text><text transform="translate(1585.0 1042.8) rotate(90.00)" x="-111.3" y="13.4" font-size="39" font-weight="bold" xml:space="preserve">Transmission</text><text x="1521.7" y="1418.4" font-size="44" font-weight="bold" fill="#a51c20">(d)</text><text x="1405.3" y="805.0" font-size="60" font-weight="bold">W</text><text x="1466.3" y="805.0" font-size="30.0" font-weight="bold">2</text><text x="1496.3" y="805.0" font-size="60" font-weight="bold">(K’)</text><rect x="1632" y="38.5" width="28.0" height="634.5" fill="url(#gm)" stroke="#000" stroke-width="2"/><path d="M1660 83.5h4M1660 205.7h4M1660 327.9h4M1660 450.1h4M1660 572.3h4" stroke="#000" stroke-width="1.3"/><rect x="1625" y="771.3" width="29.2" height="635.2" fill="url(#gm)" stroke="#000" stroke-width="2"/><path d="M1654.2 817.7h4M1654.2 939.9h4M1654.2 1062.1h4M1654.2 1184.3h4M1654.2 1306.5h4" stroke="#000" stroke-width="1.3"/><text x="1624.6" y="36.1" font-size="46" font-weight="bold">High</text><text x="1624.6" y="715.4" font-size="46" font-weight="bold">Low</text><text x="1618.3" y="769.1" font-size="46" font-weight="bold">High</text><text x="1618.7" y="1448.5" font-size="46" font-weight="bold">Low</text><g shape-rendering="crispEdges"><path fill="#c4c7e7" d="M138 1562h20v6h-20zM274 1562h30v6h-30zM537 1562h68v6h-68zM138 1568h20v10h-20zM274 1568h30v10h-30zM537 1568h68v10h-68zM138 1578h20v10h-20zM284 1578h20v10h-20zM547 1578h39v10h-39zM138 1588h20v9h-20zM294 1588h10v9h-10zM557 1588h19v9h-19zM138 1597h20v10h-20zM294 1597h10v10h-10zM138 1607h20v9h-20zM294 1607h10v9h-10zM479 1607h10v9h-10zM138 1616h20v10h-20zM304 1616h9v10h-9zM479 1616h10v10h-10zM138 1626h20v10h-20zM313 1626h10v10h-10zM138 1636h20v9h-20zM313 1636h10v9h-10zM138 1645h20v10h-20zM313 1645h10v10h-10zM138 1655h20v9h-20zM313 1655h10v9h-10zM138 1664h20v10h-20zM313 1664h20v10h-20zM450 1664h19v10h-19zM138 1674h20v10h-20zM313 1674h30v10h-30zM440 1674h10v10h-10zM236 1684h29v9h-29zM236 1693h29v10h-29zM236 1703h29v9h-29zM236 1712h29v10h-29zM236 1722h29v10h-29zM245 1732h20v9h-20zM265 1741h9v10h-9zM265 1760h9v10h-9zM265 1780h9v9h-9zM265 1799h9v10h-9zM265 1818h9v10h-9zM576 1818h20v10h-20zM576 1828h20v9h-20zM265 1837h9v10h-9zM576 1837h20v10h-20zM576 1847h20v10h-20zM265 1857h9v9h-9zM576 1857h20v9h-20zM576 1866h20v10h-20zM343 1876h9v9h-9zM537 1876h49v9h-49zM644 1876h10v9h-10zM537 1885h49v10h-49zM644 1885h10v10h-10zM343 1895h9v10h-9zM537 1895h49v10h-49zM644 1895h10v10h-10zM537 1905h49v9h-49zM644 1905h10v9h-10zM343 1914h9v10h-9zM537 1914h49v10h-49zM644 1914h10v10h-10zM537 1924h49v9h-49zM644 1924h10v9h-10zM343 1933h9v10h-9zM537 1933h49v10h-49zM644 1933h10v10h-10zM537 1943h49v10h-49zM644 1943h10v10h-10zM352 1953h10v9h-10zM644 1953h10v9h-10zM304 1962h9v10h-9zM644 1962h10v10h-10zM352 1972h10v9h-10zM644 1972h10v9h-10zM304 1981h9v10h-9zM644 1981h10v10h-10zM343 1991h9v10h-9zM440 1991h29v10h-29zM440 2001h29v9h-29zM362 2010h10v10h-10zM440 2010h29v10h-29zM440 2020h29v9h-29zM372 2029h9v10h-9zM430 2029h39v10h-39zM381 2039h78v10h-78zM391 2049h39v9h-39zM635 2049h9v9h-9zM401 2058h19v10h-19zM635 2058h9v10h-9zM625 2068h19v10h-19z"/><path fill="#f3f4fa" d="M158 1562h116v6h-116zM527 1562h10v6h-10zM605 1562h30v6h-30zM158 1568h116v10h-116zM527 1568h10v10h-10zM605 1568h30v10h-30zM158 1578h9v10h-9zM265 1578h9v10h-9zM605 1578h30v10h-30zM158 1588h9v9h-9zM265 1588h19v9h-19zM615 1588h20v9h-20zM158 1597h9v10h-9zM284 1597h10v10h-10zM547 1597h10v10h-10zM576 1597h10v10h-10zM615 1597h20v10h-20zM158 1607h9v9h-9zM284 1607h10v9h-10zM615 1607h20v9h-20zM158 1616h9v10h-9zM284 1616h10v10h-10zM615 1616h20v10h-20zM158 1626h9v10h-9zM284 1626h20v10h-20zM615 1626h20v10h-20zM158 1636h9v9h-9zM284 1636h29v9h-29zM158 1645h9v10h-9zM284 1645h29v10h-29zM158 1655h9v9h-9zM284 1655h29v9h-29zM158 1664h9v10h-9zM284 1664h29v10h-29zM158 1674h29v10h-29zM284 1674h29v10h-29zM450 1674h9v10h-9zM479 1674h10v10h-10zM138 1684h10v9h-10zM206 1684h30v9h-30zM138 1693h10v10h-10zM206 1693h30v10h-30zM138 1703h10v9h-10zM206 1703h30v9h-30zM138 1712h10v10h-10zM206 1712h30v10h-30zM138 1722h10v10h-10zM206 1722h30v10h-30zM138 1732h98v9h-98zM586 1876h10v9h-10zM586 1885h10v10h-10zM586 1895h10v10h-10zM586 1905h10v9h-10zM586 1914h10v10h-10zM586 1924h10v9h-10zM586 1933h10v10h-10zM586 1943h10v10h-10zM304 1953h9v9h-9zM343 1962h9v10h-9zM304 1972h9v9h-9zM343 1981h9v10h-9zM469 1991h10v10h-10zM469 2001h10v9h-10zM138 2010h195v10h-195zM352 2010h10v10h-10zM469 2010h10v10h-10zM469 2020h10v9h-10zM362 2029h10v10h-10zM469 2029h10v10h-10zM323 2039h20v10h-20zM362 2039h10v10h-10zM469 2039h10v10h-10zM323 2049h20v9h-20zM440 2049h19v9h-19zM644 2049h10v9h-10zM381 2058h10v10h-10zM430 2058h29v10h-29zM605 2058h10v10h-10zM644 2058h10v10h-10zM401 2068h58v10h-58zM644 2068h10v10h-10zM615 2078h10v9h-10zM644 2078h10v9h-10z"/><path fill="#acb1dd" d="M304 1562h9v6h-9zM479 1562h10v6h-10zM304 1568h9v10h-9zM479 1568h10v10h-10zM304 1578h9v10h-9zM479 1578h10v10h-10zM304 1588h9v9h-9zM479 1588h10v9h-10zM304 1597h9v10h-9zM479 1597h10v10h-10zM304 1607h9v9h-9zM313 1616h10v10h-10zM323 1626h10v10h-10zM323 1636h10v9h-10zM323 1645h10v10h-10zM323 1655h10v9h-10zM333 1664h19v10h-19zM440 1664h10v10h-10zM343 1674h9v10h-9zM430 1674h10v10h-10zM469 1674h10v10h-10zM265 1684h9v9h-9zM586 1684h19v9h-19zM265 1693h9v10h-9zM586 1693h19v10h-19zM265 1703h9v9h-9zM586 1703h19v9h-19zM265 1712h9v10h-9zM586 1712h19v10h-19zM265 1722h9v10h-9zM586 1722h19v10h-19zM265 1732h9v9h-9zM586 1732h19v9h-19zM274 1741h10v10h-10zM586 1741h19v10h-19zM586 1751h19v9h-19zM274 1760h10v10h-10zM586 1760h19v10h-19zM586 1770h19v10h-19zM274 1780h10v9h-10zM586 1780h19v9h-19zM586 1789h19v10h-19zM274 1799h10v10h-10zM586 1799h19v10h-19zM586 1809h19v9h-19zM274 1818h10v10h-10zM566 1818h10v10h-10zM596 1818h9v10h-9zM566 1828h10v9h-10zM596 1828h9v9h-9zM274 1837h10v10h-10zM566 1837h10v10h-10zM596 1837h9v10h-9zM566 1847h10v10h-10zM596 1847h9v10h-9zM274 1857h10v9h-10zM566 1857h10v9h-10zM596 1857h9v9h-9zM566 1866h10v10h-10zM596 1866h9v10h-9zM352 1876h10v9h-10zM527 1876h10v9h-10zM527 1885h10v10h-10zM352 1895h10v10h-10zM527 1895h10v10h-10zM527 1905h10v9h-10zM352 1914h10v10h-10zM527 1914h10v10h-10zM527 1924h10v9h-10zM352 1933h10v10h-10zM527 1933h10v10h-10zM527 1943h10v10h-10zM605 1953h10v9h-10zM605 1962h10v10h-10zM605 1972h10v9h-10zM605 1981h10v10h-10zM430 1991h10v10h-10zM605 1991h10v10h-10zM430 2001h10v9h-10zM605 2001h10v9h-10zM430 2010h10v10h-10zM605 2010h10v10h-10zM372 2020h9v9h-9zM430 2020h10v9h-10zM605 2020h10v9h-10zM381 2029h49v10h-49zM605 2029h10v10h-10zM605 2039h10v10h-10zM615 2058h20v10h-20z"/><path fill="#959ad4" d="M313 1562h10v6h-10zM313 1568h10v10h-10zM313 1578h10v10h-10zM313 1588h10v9h-10zM313 1597h10v10h-10zM313 1607h10v9h-10zM323 1616h20v10h-20zM333 1626h10v10h-10zM333 1636h10v9h-10zM333 1645h10v10h-10zM333 1655h10v9h-10zM430 1664h10v10h-10zM469 1664h10v10h-10zM352 1674h10v10h-10zM420 1674h10v10h-10zM274 1684h10v9h-10zM576 1684h10v9h-10zM274 1693h10v10h-10zM576 1693h10v10h-10zM274 1703h10v9h-10zM576 1703h10v9h-10zM274 1712h10v10h-10zM576 1712h10v10h-10zM274 1722h10v10h-10zM576 1722h10v10h-10zM274 1732h10v9h-10zM576 1732h10v9h-10zM284 1741h20v10h-20zM576 1741h10v10h-10zM138 1751h127v9h-127zM576 1751h10v9h-10zM284 1760h20v10h-20zM576 1760h10v10h-10zM138 1770h127v10h-127zM576 1770h10v10h-10zM284 1780h20v9h-20zM576 1780h10v9h-10zM138 1789h127v10h-127zM576 1789h10v10h-10zM284 1799h20v10h-20zM576 1799h10v10h-10zM138 1809h127v9h-127zM576 1809h10v9h-10zM284 1818h20v10h-20zM557 1818h9v10h-9zM138 1828h127v9h-127zM557 1828h9v9h-9zM284 1837h20v10h-20zM557 1837h9v10h-9zM138 1847h127v10h-127zM557 1847h9v10h-9zM284 1857h20v9h-20zM557 1857h9v9h-9zM138 1866h127v10h-127zM557 1866h9v10h-9zM518 1876h9v9h-9zM138 1885h205v10h-205zM518 1885h9v10h-9zM518 1895h9v10h-9zM138 1905h205v9h-205zM518 1905h9v9h-9zM518 1914h9v10h-9zM138 1924h205v9h-205zM518 1924h9v9h-9zM518 1933h9v10h-9zM138 1943h205v10h-205zM518 1943h9v10h-9zM138 1962h166v10h-166zM138 1981h166v10h-166zM352 1991h10v10h-10zM420 1991h10v10h-10zM138 2001h224v9h-224zM420 2001h10v9h-10zM372 2010h9v10h-9zM420 2010h10v10h-10zM381 2020h49v9h-49zM625 2049h10v9h-10z"/><path fill="#8087ca" d="M323 1562h29v6h-29zM469 1562h10v6h-10zM323 1568h29v10h-29zM469 1568h10v10h-10zM323 1578h29v10h-29zM469 1578h10v10h-10zM323 1588h29v9h-29zM469 1588h10v9h-10zM323 1597h29v10h-29zM469 1597h10v10h-10zM323 1607h29v9h-29zM469 1607h10v9h-10zM343 1616h9v10h-9zM469 1616h10v10h-10zM343 1626h9v10h-9zM469 1626h10v10h-10zM343 1636h9v9h-9zM469 1636h10v9h-10zM343 1645h9v10h-9zM469 1645h10v10h-10zM343 1655h9v9h-9zM459 1655h20v9h-20zM352 1664h10v10h-10zM420 1664h10v10h-10zM362 1674h10v10h-10zM411 1674h9v10h-9zM284 1684h10v9h-10zM566 1684h10v9h-10zM635 1684h9v9h-9zM284 1693h10v10h-10zM566 1693h10v10h-10zM635 1693h9v10h-9zM284 1703h10v9h-10zM566 1703h10v9h-10zM635 1703h9v9h-9zM284 1712h10v10h-10zM566 1712h10v10h-10zM635 1712h9v10h-9zM284 1722h10v10h-10zM566 1722h10v10h-10zM635 1722h9v10h-9zM284 1732h10v9h-10zM566 1732h10v9h-10zM635 1732h9v9h-9zM304 1741h9v10h-9zM566 1741h10v10h-10zM635 1741h9v10h-9zM265 1751h9v9h-9zM566 1751h10v9h-10zM635 1751h9v9h-9zM304 1760h9v10h-9zM566 1760h10v10h-10zM635 1760h9v10h-9zM265 1770h9v10h-9zM566 1770h10v10h-10zM635 1770h9v10h-9zM304 1780h9v9h-9zM566 1780h10v9h-10zM635 1780h9v9h-9zM265 1789h9v10h-9zM566 1789h10v10h-10zM635 1789h9v10h-9zM304 1799h9v10h-9zM566 1799h10v10h-10zM635 1799h9v10h-9zM265 1809h9v9h-9zM566 1809h10v9h-10zM635 1809h9v9h-9zM304 1818h9v10h-9zM547 1818h10v10h-10zM635 1818h9v10h-9zM265 1828h9v9h-9zM547 1828h10v9h-10zM635 1828h9v9h-9zM304 1837h9v10h-9zM547 1837h10v10h-10zM635 1837h9v10h-9zM265 1847h9v10h-9zM547 1847h10v10h-10zM635 1847h9v10h-9zM304 1857h9v9h-9zM547 1857h10v9h-10zM635 1857h9v9h-9zM265 1866h9v10h-9zM547 1866h10v10h-10zM635 1866h9v10h-9zM498 1876h20v9h-20zM605 1876h10v9h-10zM343 1885h9v10h-9zM498 1885h20v10h-20zM605 1885h10v10h-10zM498 1895h20v10h-20zM605 1895h10v10h-10zM343 1905h9v9h-9zM498 1905h20v9h-20zM605 1905h10v9h-10zM498 1914h20v10h-20zM605 1914h10v10h-10zM343 1924h9v9h-9zM498 1924h20v9h-20zM605 1924h10v9h-10zM498 1933h20v10h-20zM605 1933h10v10h-10zM343 1943h9v10h-9zM498 1943h20v10h-20zM605 1943h10v10h-10zM479 1953h10v9h-10zM352 1962h10v10h-10zM479 1962h10v10h-10zM362 1972h10v9h-10zM479 1972h10v9h-10zM352 1981h10v10h-10zM479 1981h10v10h-10zM362 1991h58v10h-58zM635 1991h9v10h-9zM362 2001h58v9h-58zM635 2001h9v9h-9zM381 2010h39v10h-39zM635 2010h9v10h-9zM635 2020h9v9h-9zM635 2029h9v10h-9zM635 2039h9v10h-9zM615 2049h10v9h-10z"/><path fill="#5965b5" d="M352 1562h117v6h-117zM352 1568h117v10h-117zM352 1578h117v10h-117zM352 1588h117v9h-117zM352 1597h117v10h-117zM352 1607h117v9h-117zM352 1616h117v10h-117zM352 1626h117v10h-117zM352 1636h117v9h-117zM352 1645h117v10h-117zM362 1655h68v9h-68zM372 1664h39v10h-39zM372 1674h39v10h-39zM294 1684h10v9h-10zM518 1684h48v9h-48zM615 1684h20v9h-20zM294 1693h10v10h-10zM518 1693h48v10h-48zM615 1693h20v10h-20zM294 1703h10v9h-10zM518 1703h48v9h-48zM615 1703h20v9h-20zM294 1712h10v10h-10zM518 1712h48v10h-48zM615 1712h20v10h-20zM294 1722h10v10h-10zM518 1722h48v10h-48zM615 1722h20v10h-20zM304 1732h9v9h-9zM518 1732h48v9h-48zM615 1732h20v9h-20zM518 1741h48v10h-48zM615 1741h20v10h-20zM284 1751h39v9h-39zM518 1751h48v9h-48zM615 1751h20v9h-20zM518 1760h48v10h-48zM615 1760h20v10h-20zM284 1770h39v10h-39zM518 1770h48v10h-48zM615 1770h20v10h-20zM518 1780h48v9h-48zM615 1780h20v9h-20zM284 1789h39v10h-39zM518 1789h48v10h-48zM615 1789h20v10h-20zM518 1799h48v10h-48zM615 1799h20v10h-20zM284 1809h39v9h-39zM518 1809h48v9h-48zM615 1809h20v9h-20zM498 1818h49v10h-49zM615 1818h20v10h-20zM284 1828h39v9h-39zM498 1828h49v9h-49zM615 1828h20v9h-20zM498 1837h49v10h-49zM615 1837h20v10h-20zM284 1847h39v10h-39zM498 1847h49v10h-49zM615 1847h20v10h-20zM498 1857h49v9h-49zM615 1857h20v9h-20zM284 1866h39v10h-39zM498 1866h49v10h-49zM615 1866h20v10h-20zM440 1953h39v9h-39zM440 1962h39v10h-39zM381 1972h98v9h-98zM362 1981h117v10h-117zM615 1991h20v10h-20zM615 2001h20v9h-20zM615 2010h20v10h-20zM615 2020h20v9h-20zM615 2029h20v10h-20zM615 2039h10v10h-10z"/><path fill="#fef3f3" d="M489 1562h9v6h-9zM489 1568h9v10h-9zM167 1578h98v10h-98zM489 1578h9v10h-9zM527 1578h10v10h-10zM167 1588h10v9h-10zM255 1588h10v9h-10zM489 1588h9v9h-9zM537 1588h10v9h-10zM586 1588h29v9h-29zM167 1597h10v10h-10zM255 1597h29v10h-29zM489 1597h9v10h-9zM605 1597h10v10h-10zM167 1607h10v9h-10zM274 1607h10v9h-10zM605 1607h10v9h-10zM167 1616h10v10h-10zM274 1616h10v10h-10zM605 1616h10v10h-10zM167 1626h10v10h-10zM274 1626h10v10h-10zM605 1626h10v10h-10zM167 1636h10v9h-10zM274 1636h10v9h-10zM605 1636h30v9h-30zM167 1645h10v10h-10zM274 1645h10v10h-10zM605 1645h20v10h-20zM167 1655h10v9h-10zM274 1655h10v9h-10zM615 1655h10v9h-10zM167 1664h30v10h-30zM274 1664h10v10h-10zM187 1674h10v10h-10zM274 1674h10v10h-10zM148 1684h10v9h-10zM197 1684h9v9h-9zM148 1693h10v10h-10zM197 1693h9v10h-9zM148 1703h10v9h-10zM197 1703h9v9h-9zM148 1712h10v10h-10zM197 1712h9v10h-9zM148 1722h58v10h-58zM654 1741h10v10h-10zM654 1751h10v9h-10zM654 1760h10v10h-10zM654 1770h10v10h-10zM654 1780h10v9h-10zM654 1789h10v10h-10zM654 1799h10v10h-10zM654 1809h10v9h-10zM654 1818h10v10h-10zM654 1828h10v9h-10zM654 1837h10v10h-10zM654 1847h10v10h-10zM654 1857h10v9h-10zM654 1866h10v10h-10zM654 1876h10v9h-10zM654 1885h10v10h-10zM654 1895h10v10h-10zM654 1905h10v9h-10zM654 1914h10v10h-10zM654 1924h10v9h-10zM654 1933h10v10h-10zM654 1943h10v10h-10zM343 1953h9v9h-9zM498 1953h10v9h-10zM654 1953h10v9h-10zM313 1962h10v10h-10zM498 1962h10v10h-10zM654 1962h10v10h-10zM343 1972h9v9h-9zM498 1972h10v9h-10zM654 1972h10v9h-10zM313 1981h10v10h-10zM498 1981h10v10h-10zM654 1981h10v10h-10zM479 1991h10v10h-10zM654 1991h10v10h-10zM479 2001h10v9h-10zM654 2001h10v9h-10zM333 2010h19v10h-19zM479 2010h10v10h-10zM654 2010h10v10h-10zM138 2020h195v9h-195zM352 2020h10v9h-10zM479 2020h10v9h-10zM654 2020h10v9h-10zM177 2029h20v10h-20zM313 2029h49v10h-49zM479 2029h10v10h-10zM654 2029h10v10h-10zM177 2039h10v10h-10zM313 2039h10v10h-10zM343 2039h19v10h-19zM479 2039h10v10h-10zM654 2039h10v10h-10zM138 2049h20v9h-20zM313 2049h10v9h-10zM343 2049h9v9h-9zM372 2049h9v9h-9zM459 2049h10v9h-10zM654 2049h10v9h-10zM138 2058h10v10h-10zM313 2058h39v10h-39zM372 2058h9v10h-9zM459 2058h10v10h-10zM654 2058h10v10h-10zM391 2068h10v10h-10zM459 2068h10v10h-10zM654 2068h10v10h-10zM401 2078h68v9h-68zM615 2087h20v10h-20zM615 2097h10v9h-10zM615 2106h10v10h-10z"/><path fill="#f9c3c4" d="M498 1562h10v6h-10zM635 1562h9v6h-9zM498 1568h10v10h-10zM635 1568h9v10h-9zM498 1578h10v10h-10zM635 1578h9v10h-9zM498 1588h10v9h-10zM527 1588h10v9h-10zM635 1588h9v9h-9zM187 1597h58v10h-58zM635 1597h9v10h-9zM187 1607h68v9h-68zM489 1607h9v9h-9zM547 1607h10v9h-10zM586 1607h10v9h-10zM635 1607h9v9h-9zM187 1616h78v10h-78zM586 1616h10v10h-10zM635 1616h9v10h-9zM187 1626h78v10h-78zM586 1626h10v10h-10zM635 1626h9v10h-9zM187 1636h78v9h-78zM586 1636h10v9h-10zM635 1636h9v9h-9zM187 1645h78v10h-78zM586 1645h10v10h-10zM197 1655h68v9h-68zM596 1655h9v9h-9zM206 1664h59v10h-59zM605 1664h10v10h-10zM625 1664h10v10h-10zM206 1674h59v10h-59zM605 1674h30v10h-30zM167 1684h20v9h-20zM167 1693h20v10h-20zM167 1703h20v9h-20zM673 1741h10v10h-10zM673 1751h10v9h-10zM673 1760h10v10h-10zM673 1770h10v10h-10zM673 1780h10v9h-10zM673 1789h10v10h-10zM673 1799h10v10h-10zM673 1809h10v9h-10zM673 1818h10v10h-10zM673 1828h10v9h-10zM673 1837h10v10h-10zM673 1847h10v10h-10zM673 1857h10v9h-10zM673 1866h10v10h-10zM673 1876h10v9h-10zM673 1885h10v10h-10zM673 1895h10v10h-10zM673 1905h10v9h-10zM673 1914h10v10h-10zM673 1924h10v9h-10zM673 1933h10v10h-10zM673 1943h10v10h-10zM323 1953h20v9h-20zM518 1953h29v9h-29zM673 1953h10v9h-10zM323 1962h20v10h-20zM518 1962h29v10h-29zM673 1962h10v10h-10zM323 1972h20v9h-20zM518 1972h29v9h-29zM673 1972h10v9h-10zM323 1981h20v10h-20zM518 1981h29v10h-29zM673 1981h10v10h-10zM498 1991h10v10h-10zM673 1991h10v10h-10zM498 2001h10v9h-10zM673 2001h10v9h-10zM498 2010h10v10h-10zM673 2010h10v10h-10zM498 2020h10v9h-10zM673 2020h10v9h-10zM498 2029h10v10h-10zM673 2029h10v10h-10zM158 2039h9v10h-9zM197 2039h107v10h-107zM498 2039h10v10h-10zM673 2039h10v10h-10zM167 2049h10v9h-10zM187 2049h10v9h-10zM255 2049h49v9h-49zM489 2049h19v9h-19zM673 2049h10v9h-10zM158 2058h29v10h-29zM265 2058h39v10h-39zM479 2058h29v10h-29zM673 2058h10v10h-10zM148 2068h10v10h-10zM294 2068h19v10h-19zM352 2068h20v10h-20zM479 2068h29v10h-29zM673 2068h10v10h-10zM138 2078h10v9h-10zM313 2078h78v9h-78zM479 2078h19v9h-19zM605 2078h10v9h-10zM664 2078h9v9h-9zM411 2087h9v10h-9zM469 2087h20v10h-20zM605 2087h10v10h-10zM654 2087h10v10h-10zM420 2097h69v9h-69zM605 2097h10v9h-10zM635 2097h29v9h-29zM430 2106h59v10h-59zM605 2106h10v10h-10zM635 2106h29v10h-29zM440 2116h39v10h-39zM625 2116h29v10h-29zM450 2126h19v9h-19zM615 2126h10v9h-10z"/><path fill="#f49395" d="M508 1562h10v6h-10zM508 1568h10v10h-10zM508 1578h10v10h-10zM508 1588h19v9h-19zM566 1616h20v10h-20zM489 1626h9v10h-9zM557 1626h9v10h-9zM576 1626h10v10h-10zM576 1636h10v9h-10zM576 1645h10v10h-10zM596 1664h9v10h-9zM635 1664h9v10h-9zM596 1674h9v10h-9zM635 1674h9v10h-9zM664 1684h9v9h-9zM664 1693h9v10h-9zM664 1703h9v9h-9zM664 1712h9v10h-9zM664 1722h9v10h-9zM683 1741h10v10h-10zM683 1751h10v9h-10zM683 1760h10v10h-10zM683 1770h10v10h-10zM683 1780h10v9h-10zM683 1789h10v10h-10zM683 1799h10v10h-10zM683 1809h10v9h-10zM683 1818h10v10h-10zM683 1828h10v9h-10zM683 1837h10v10h-10zM683 1847h10v10h-10zM683 1857h10v9h-10zM683 1866h10v10h-10zM683 1876h10v9h-10zM683 1885h10v10h-10zM683 1895h10v10h-10zM683 1905h10v9h-10zM683 1914h10v10h-10zM683 1924h10v9h-10zM683 1933h10v10h-10zM683 1943h10v10h-10zM547 1953h10v9h-10zM596 1953h9v9h-9zM683 1953h10v9h-10zM547 1962h10v10h-10zM596 1962h9v10h-9zM683 1962h10v10h-10zM547 1972h10v9h-10zM596 1972h9v9h-9zM683 1972h10v9h-10zM547 1981h10v10h-10zM596 1981h9v10h-9zM683 1981h10v10h-10zM508 1991h10v10h-10zM596 1991h9v10h-9zM683 1991h10v10h-10zM508 2001h10v9h-10zM596 2001h9v9h-9zM683 2001h10v9h-10zM508 2010h10v10h-10zM596 2010h9v10h-9zM683 2010h10v10h-10zM508 2020h10v9h-10zM596 2020h9v9h-9zM683 2020h10v9h-10zM508 2029h10v10h-10zM596 2029h9v10h-9zM683 2029h10v10h-10zM508 2039h10v10h-10zM596 2039h9v10h-9zM683 2039h10v10h-10zM197 2049h58v9h-58zM508 2049h10v9h-10zM683 2049h10v9h-10zM197 2058h9v10h-9zM245 2058h10v10h-10zM508 2058h10v10h-10zM683 2058h10v10h-10zM158 2068h39v10h-39zM255 2068h39v10h-39zM508 2068h10v10h-10zM683 2068h10v10h-10zM294 2078h10v9h-10zM683 2078h10v9h-10zM138 2087h10v10h-10zM323 2087h78v10h-78zM489 2087h9v10h-9zM664 2087h19v10h-19zM401 2097h10v9h-10zM489 2097h9v9h-9zM664 2097h9v9h-9zM411 2106h19v10h-19zM489 2106h9v10h-9zM664 2106h9v10h-9zM420 2116h10v10h-10zM430 2126h20v9h-20zM469 2126h10v9h-10zM605 2126h10v9h-10zM625 2126h29v9h-29zM450 2135h19v10h-19zM615 2135h10v10h-10z"/><path fill="#f6abac" d="M518 1562h9v6h-9zM518 1568h9v10h-9zM518 1578h9v10h-9zM498 1597h10v10h-10zM527 1597h10v10h-10zM537 1607h10v9h-10zM566 1607h20v9h-20zM489 1616h9v10h-9zM547 1616h19v10h-19zM635 1645h9v10h-9zM586 1655h10v9h-10zM635 1655h9v9h-9zM664 1732h9v9h-9zM187 2058h10v10h-10zM255 2058h10v10h-10zM148 2078h10v9h-10zM304 2078h9v9h-9zM498 2078h10v9h-10zM673 2078h10v9h-10zM401 2087h10v10h-10zM411 2097h9v9h-9zM430 2116h10v10h-10zM479 2116h10v10h-10zM605 2116h10v10h-10zM654 2116h10v10h-10z"/><path fill="#f0676b" d="M644 1562h10v6h-10zM644 1568h10v10h-10zM644 1578h10v10h-10zM644 1588h10v9h-10zM644 1597h10v10h-10zM644 1607h10v9h-10zM498 1616h10v10h-10zM527 1616h10v10h-10zM644 1616h10v10h-10zM644 1626h10v10h-10zM547 1636h10v9h-10zM644 1636h10v9h-10zM566 1645h10v10h-10zM586 1674h10v10h-10zM673 1684h10v9h-10zM673 1693h10v10h-10zM673 1703h10v9h-10zM673 1712h10v10h-10zM673 1722h10v10h-10zM693 1741h10v10h-10zM693 1751h10v9h-10zM693 1760h10v10h-10zM693 1770h10v10h-10zM693 1780h10v9h-10zM693 1789h10v10h-10zM693 1799h10v10h-10zM693 1809h10v9h-10zM557 1953h9v9h-9zM557 1962h9v10h-9zM557 1972h9v9h-9zM557 1981h9v10h-9zM537 1991h10v10h-10zM537 2001h10v9h-10zM537 2010h10v10h-10zM537 2020h10v9h-10zM537 2029h10v10h-10zM518 2049h9v9h-9zM518 2058h9v10h-9zM518 2068h9v10h-9zM596 2068h9v10h-9zM167 2078h117v9h-117zM712 2078h10v9h-10zM304 2087h9v10h-9zM693 2087h10v10h-10zM148 2097h10v9h-10zM313 2097h30v9h-30zM498 2097h10v9h-10zM693 2097h10v9h-10zM148 2106h10v10h-10zM352 2106h10v10h-10zM498 2106h10v10h-10zM693 2106h10v10h-10zM138 2116h20v10h-20zM352 2116h10v10h-10zM498 2116h10v10h-10zM673 2116h30v10h-30zM372 2126h9v9h-9zM381 2135h69v10h-69zM469 2135h10v10h-10zM625 2135h29v10h-29z"/><path fill="#ec3b42" d="M654 1562h68v6h-68zM654 1568h68v10h-68zM654 1578h68v10h-68zM654 1588h68v9h-68zM654 1597h68v10h-68zM654 1607h68v9h-68zM508 1616h19v10h-19zM654 1616h68v10h-68zM498 1626h39v10h-39zM654 1626h68v10h-68zM498 1636h49v9h-49zM654 1636h68v9h-68zM498 1645h59v10h-59zM654 1645h68v10h-68zM557 1655h9v9h-9zM566 1664h10v10h-10zM644 1664h10v10h-10zM576 1674h10v10h-10zM683 1684h39v9h-39zM683 1693h39v10h-39zM683 1703h39v9h-39zM683 1712h39v10h-39zM683 1722h39v10h-39zM693 1732h29v9h-29zM703 1741h19v10h-19zM703 1751h19v9h-19zM703 1760h19v10h-19zM703 1770h19v10h-19zM703 1780h19v9h-19zM703 1789h19v10h-19zM703 1799h19v10h-19zM703 1809h19v9h-19zM566 1953h30v9h-30zM566 1962h30v10h-30zM566 1972h30v9h-30zM566 1981h30v10h-30zM547 1991h10v10h-10zM547 2001h10v9h-10zM547 2010h10v10h-10zM547 2020h10v9h-10zM547 2029h10v10h-10zM547 2039h10v10h-10zM537 2049h10v9h-10zM527 2058h10v10h-10zM527 2068h10v10h-10zM527 2078h10v9h-10zM167 2087h69v10h-69zM274 2087h20v10h-20zM518 2087h9v10h-9zM596 2087h9v10h-9zM712 2087h10v10h-10zM158 2097h48v9h-48zM304 2097h9v9h-9zM508 2097h10v9h-10zM596 2097h9v9h-9zM703 2097h19v9h-19zM158 2106h48v10h-48zM304 2106h39v10h-39zM508 2106h10v10h-10zM596 2106h9v10h-9zM703 2106h19v10h-19zM158 2116h29v10h-29zM323 2116h29v10h-29zM508 2116h10v10h-10zM596 2116h9v10h-9zM703 2116h19v10h-19zM138 2126h49v9h-49zM323 2126h39v9h-39zM498 2126h20v9h-20zM673 2126h49v9h-49zM362 2135h10v10h-10zM489 2135h9v10h-9zM664 2135h9v10h-9z"/><path fill="#dcddf1" d="M274 1578h10v10h-10zM537 1578h10v10h-10zM586 1578h19v10h-19zM284 1588h10v9h-10zM547 1588h10v9h-10zM576 1588h10v9h-10zM557 1597h19v10h-19zM294 1616h10v10h-10zM304 1626h9v10h-9zM479 1626h10v10h-10zM479 1636h10v9h-10zM479 1645h10v10h-10zM479 1655h10v9h-10zM479 1664h10v10h-10zM459 1674h10v10h-10zM644 1684h10v9h-10zM644 1693h10v10h-10zM644 1703h10v9h-10zM644 1712h10v10h-10zM644 1722h10v10h-10zM236 1732h9v9h-9zM644 1732h10v9h-10zM138 1741h127v10h-127zM644 1741h10v10h-10zM644 1751h10v9h-10zM138 1760h127v10h-127zM644 1760h10v10h-10zM644 1770h10v10h-10zM138 1780h127v9h-127zM644 1780h10v9h-10zM644 1789h10v10h-10zM138 1799h127v10h-127zM644 1799h10v10h-10zM644 1809h10v9h-10zM138 1818h127v10h-127zM644 1818h10v10h-10zM644 1828h10v9h-10zM138 1837h127v10h-127zM644 1837h10v10h-10zM644 1847h10v10h-10zM138 1857h127v9h-127zM644 1857h10v9h-10zM644 1866h10v10h-10zM138 1876h205v9h-205zM596 1876h9v9h-9zM596 1885h9v10h-9zM138 1895h205v10h-205zM596 1895h9v10h-9zM596 1905h9v9h-9zM138 1914h205v10h-205zM596 1914h9v10h-9zM596 1924h9v9h-9zM138 1933h205v10h-205zM596 1933h9v10h-9zM596 1943h9v10h-9zM138 1953h166v9h-166zM489 1953h9v9h-9zM489 1962h9v10h-9zM138 1972h166v9h-166zM489 1972h9v9h-9zM489 1981h9v10h-9zM138 1991h205v10h-205zM644 1991h10v10h-10zM644 2001h10v9h-10zM644 2010h10v10h-10zM362 2020h10v9h-10zM644 2020h10v9h-10zM644 2029h10v10h-10zM372 2039h9v10h-9zM459 2039h10v10h-10zM644 2039h10v10h-10zM381 2049h10v9h-10zM430 2049h10v9h-10zM605 2049h10v9h-10zM391 2058h10v10h-10zM420 2058h10v10h-10zM615 2068h10v10h-10zM625 2078h19v9h-19z"/><path fill="#fbdbdc" d="M177 1588h78v9h-78zM177 1597h10v10h-10zM245 1597h10v10h-10zM537 1597h10v10h-10zM586 1597h19v10h-19zM177 1607h10v9h-10zM255 1607h19v9h-19zM557 1607h9v9h-9zM596 1607h9v9h-9zM177 1616h10v10h-10zM265 1616h9v10h-9zM596 1616h9v10h-9zM177 1626h10v10h-10zM265 1626h9v10h-9zM596 1626h9v10h-9zM177 1636h10v9h-10zM265 1636h9v9h-9zM596 1636h9v9h-9zM177 1645h10v10h-10zM265 1645h9v10h-9zM596 1645h9v10h-9zM625 1645h10v10h-10zM177 1655h20v9h-20zM265 1655h9v9h-9zM605 1655h10v9h-10zM625 1655h10v9h-10zM197 1664h9v10h-9zM265 1664h9v10h-9zM615 1664h10v10h-10zM197 1674h9v10h-9zM265 1674h9v10h-9zM158 1684h9v9h-9zM187 1684h10v9h-10zM654 1684h10v9h-10zM158 1693h9v10h-9zM187 1693h10v10h-10zM654 1693h10v10h-10zM158 1703h9v9h-9zM187 1703h10v9h-10zM654 1703h10v9h-10zM158 1712h39v10h-39zM654 1712h10v10h-10zM654 1722h10v10h-10zM654 1732h10v9h-10zM664 1741h9v10h-9zM664 1751h9v9h-9zM664 1760h9v10h-9zM664 1770h9v10h-9zM664 1780h9v9h-9zM664 1789h9v10h-9zM664 1799h9v10h-9zM664 1809h9v9h-9zM664 1818h9v10h-9zM664 1828h9v9h-9zM664 1837h9v10h-9zM664 1847h9v10h-9zM664 1857h9v9h-9zM664 1866h9v10h-9zM664 1876h9v9h-9zM664 1885h9v10h-9zM664 1895h9v10h-9zM664 1905h9v9h-9zM664 1914h9v10h-9zM664 1924h9v9h-9zM664 1933h9v10h-9zM664 1943h9v10h-9zM313 1953h10v9h-10zM508 1953h10v9h-10zM664 1953h9v9h-9zM508 1962h10v10h-10zM664 1962h9v10h-9zM313 1972h10v9h-10zM508 1972h10v9h-10zM664 1972h9v9h-9zM508 1981h10v10h-10zM664 1981h9v10h-9zM489 1991h9v10h-9zM664 1991h9v10h-9zM489 2001h9v9h-9zM664 2001h9v9h-9zM489 2010h9v10h-9zM664 2010h9v10h-9zM333 2020h19v9h-19zM489 2020h9v9h-9zM664 2020h9v9h-9zM138 2029h39v10h-39zM197 2029h116v10h-116zM489 2029h9v10h-9zM664 2029h9v10h-9zM138 2039h20v10h-20zM167 2039h10v10h-10zM187 2039h10v10h-10zM304 2039h9v10h-9zM489 2039h9v10h-9zM664 2039h9v10h-9zM158 2049h9v9h-9zM177 2049h10v9h-10zM304 2049h9v9h-9zM352 2049h20v9h-20zM469 2049h20v9h-20zM664 2049h9v9h-9zM148 2058h10v10h-10zM304 2058h9v10h-9zM352 2058h20v10h-20zM469 2058h10v10h-10zM664 2058h9v10h-9zM138 2068h10v10h-10zM313 2068h39v10h-39zM372 2068h19v10h-19zM469 2068h10v10h-10zM605 2068h10v10h-10zM664 2068h9v10h-9zM391 2078h10v9h-10zM469 2078h10v9h-10zM654 2078h10v9h-10zM420 2087h49v10h-49zM635 2087h19v10h-19zM625 2097h10v9h-10zM625 2106h10v10h-10zM615 2116h10v10h-10z"/><path fill="#f27c7f" d="M508 1597h19v10h-19zM498 1607h10v9h-10zM527 1607h10v9h-10zM537 1616h10v10h-10zM547 1626h10v10h-10zM566 1626h10v10h-10zM489 1636h9v9h-9zM557 1636h19v9h-19zM489 1645h9v10h-9zM489 1655h9v9h-9zM576 1655h10v9h-10zM586 1664h10v10h-10zM673 1732h10v9h-10zM693 1818h29v10h-29zM693 1828h29v9h-29zM693 1837h29v10h-29zM693 1847h29v10h-29zM693 1857h29v9h-29zM693 1866h29v10h-29zM693 1876h29v9h-29zM693 1885h29v10h-29zM693 1895h29v10h-29zM693 1905h29v9h-29zM693 1914h29v10h-29zM693 1924h29v9h-29zM693 1933h29v10h-29zM693 1943h29v10h-29zM693 1953h29v9h-29zM693 1962h29v10h-29zM693 1972h29v9h-29zM693 1981h29v10h-29zM518 1991h19v10h-19zM693 1991h29v10h-29zM518 2001h19v9h-19zM693 2001h29v9h-29zM518 2010h19v10h-19zM693 2010h29v10h-29zM518 2020h19v9h-19zM693 2020h29v9h-29zM518 2029h19v10h-19zM693 2029h29v10h-29zM518 2039h19v10h-19zM693 2039h29v10h-29zM596 2049h9v9h-9zM693 2049h29v9h-29zM206 2058h39v10h-39zM596 2058h9v10h-9zM693 2058h29v10h-29zM197 2068h58v10h-58zM693 2068h29v10h-29zM158 2078h9v9h-9zM284 2078h10v9h-10zM508 2078h10v9h-10zM693 2078h19v9h-19zM148 2087h10v10h-10zM313 2087h10v10h-10zM498 2087h10v10h-10zM683 2087h10v10h-10zM138 2097h10v9h-10zM343 2097h58v9h-58zM673 2097h20v9h-20zM138 2106h10v10h-10zM362 2106h49v10h-49zM673 2106h20v10h-20zM362 2116h58v10h-58zM489 2116h9v10h-9zM664 2116h9v10h-9zM381 2126h49v9h-49zM479 2126h10v9h-10zM654 2126h10v9h-10zM605 2135h10v10h-10z"/><path fill="#ee5156" d="M508 1607h19v9h-19zM537 1626h10v10h-10zM557 1645h9v10h-9zM644 1645h10v10h-10zM566 1655h10v9h-10zM644 1655h10v9h-10zM489 1664h9v10h-9zM576 1664h10v10h-10zM489 1674h9v10h-9zM683 1732h10v9h-10zM537 2039h10v10h-10zM527 2049h10v9h-10zM518 2078h9v9h-9zM596 2078h9v9h-9zM158 2087h9v10h-9zM294 2087h10v10h-10zM508 2087h10v10h-10zM703 2087h9v10h-9zM343 2106h9v10h-9zM362 2126h10v9h-10zM489 2126h9v9h-9zM664 2126h9v9h-9zM372 2135h9v10h-9zM479 2135h10v10h-10zM654 2135h10v10h-10z"/><path fill="#6d76bf" d="M352 1655h10v9h-10zM430 1655h29v9h-29zM362 1664h10v10h-10zM411 1664h9v10h-9zM605 1684h10v9h-10zM605 1693h10v10h-10zM605 1703h10v9h-10zM605 1712h10v10h-10zM605 1722h10v10h-10zM294 1732h10v9h-10zM605 1732h10v9h-10zM313 1741h10v10h-10zM605 1741h10v10h-10zM274 1751h10v9h-10zM605 1751h10v9h-10zM313 1760h10v10h-10zM605 1760h10v10h-10zM274 1770h10v10h-10zM605 1770h10v10h-10zM313 1780h10v9h-10zM605 1780h10v9h-10zM274 1789h10v10h-10zM605 1789h10v10h-10zM313 1799h10v10h-10zM605 1799h10v10h-10zM274 1809h10v9h-10zM605 1809h10v9h-10zM313 1818h10v10h-10zM605 1818h10v10h-10zM274 1828h10v9h-10zM605 1828h10v9h-10zM313 1837h10v10h-10zM605 1837h10v10h-10zM274 1847h10v10h-10zM605 1847h10v10h-10zM313 1857h10v9h-10zM605 1857h10v9h-10zM274 1866h10v10h-10zM605 1866h10v10h-10zM362 1876h10v9h-10zM489 1876h9v9h-9zM352 1885h10v10h-10zM489 1885h9v10h-9zM362 1895h10v10h-10zM489 1895h9v10h-9zM352 1905h10v9h-10zM489 1905h9v9h-9zM362 1914h10v10h-10zM489 1914h9v10h-9zM352 1924h10v9h-10zM489 1924h9v9h-9zM362 1933h10v10h-10zM489 1933h9v10h-9zM352 1943h10v10h-10zM489 1943h9v10h-9zM362 1953h10v9h-10zM372 1972h9v9h-9zM625 2039h10v10h-10z"/><path fill="#ea252d" d="M498 1655h59v9h-59zM654 1655h68v9h-68zM566 1674h10v10h-10zM644 1674h10v10h-10zM557 1991h9v10h-9zM586 1991h10v10h-10zM557 2001h9v9h-9zM586 2001h10v9h-10zM557 2010h9v10h-9zM586 2010h10v10h-10zM557 2020h9v9h-9zM586 2020h10v9h-10zM557 2029h9v10h-9zM586 2029h10v10h-10zM586 2039h10v10h-10zM586 2049h10v9h-10zM537 2058h10v10h-10zM586 2058h10v10h-10zM537 2068h10v10h-10zM586 2068h10v10h-10zM236 2087h9v10h-9zM265 2087h9v10h-9zM206 2097h20v9h-20zM284 2097h20v9h-20zM518 2097h9v9h-9zM206 2106h10v10h-10zM294 2106h10v10h-10zM518 2106h9v10h-9zM187 2116h19v10h-19zM304 2116h19v10h-19zM518 2116h9v10h-9zM187 2126h10v9h-10zM313 2126h10v9h-10zM518 2126h9v9h-9zM596 2126h9v9h-9zM138 2135h49v10h-49zM323 2135h39v10h-39zM498 2135h20v10h-20zM596 2135h9v10h-9zM673 2135h49v10h-49zM450 2145h19v9h-19zM615 2145h10v9h-10z"/><path fill="#d81e25" d="M498 1664h59v10h-59zM654 1664h68v10h-68zM498 1674h68v10h-68zM654 1674h68v10h-68zM566 1991h20v10h-20zM566 2001h20v9h-20zM566 2010h20v10h-20zM566 2020h20v9h-20zM566 2029h20v10h-20zM566 2039h20v10h-20zM557 2049h29v9h-29zM547 2058h39v10h-39zM547 2068h39v10h-39zM547 2078h39v9h-39zM537 2087h59v10h-59zM236 2097h38v9h-38zM527 2097h69v9h-69zM226 2106h58v10h-58zM527 2106h69v10h-69zM216 2116h78v10h-78zM527 2116h69v10h-69zM206 2126h98v9h-98zM527 2126h69v9h-69zM197 2135h116v10h-116zM527 2135h69v10h-69zM138 2145h224v9h-224zM498 2145h107v9h-107zM673 2145h49v9h-49zM138 2154h584v10h-584z"/><path fill="#e21f27" d="M557 1664h9v10h-9zM557 2039h9v10h-9zM547 2049h10v9h-10zM537 2078h10v9h-10zM586 2078h10v9h-10zM245 2087h20v10h-20zM527 2087h10v10h-10zM226 2097h10v9h-10zM274 2097h10v9h-10zM216 2106h10v10h-10zM284 2106h10v10h-10zM206 2116h10v10h-10zM294 2116h10v10h-10zM197 2126h9v9h-9zM304 2126h9v9h-9zM187 2135h10v10h-10zM313 2135h10v10h-10zM518 2135h9v10h-9zM362 2145h88v9h-88zM469 2145h29v9h-29zM605 2145h10v9h-10zM625 2145h48v9h-48z"/><path fill="#4654ab" d="M304 1684h9v9h-9zM508 1684h10v9h-10zM304 1693h9v10h-9zM508 1693h10v10h-10zM304 1703h9v9h-9zM508 1703h10v9h-10zM304 1712h9v10h-9zM508 1712h10v10h-10zM304 1722h9v10h-9zM508 1722h10v10h-10zM508 1732h10v9h-10zM323 1741h10v10h-10zM508 1741h10v10h-10zM323 1751h10v9h-10zM508 1751h10v9h-10zM323 1760h10v10h-10zM508 1760h10v10h-10zM323 1770h10v10h-10zM508 1770h10v10h-10zM323 1780h10v9h-10zM508 1780h10v9h-10zM323 1789h10v10h-10zM508 1789h10v10h-10zM323 1799h10v10h-10zM508 1799h10v10h-10zM323 1809h10v9h-10zM508 1809h10v9h-10zM323 1818h10v10h-10zM489 1818h9v10h-9zM323 1828h10v9h-10zM489 1828h9v9h-9zM323 1837h10v10h-10zM489 1837h9v10h-9zM323 1847h10v10h-10zM489 1847h9v10h-9zM323 1857h10v9h-10zM489 1857h9v9h-9zM323 1866h10v10h-10zM489 1866h9v10h-9zM615 1876h10v9h-10zM635 1876h9v9h-9zM362 1885h10v10h-10zM615 1885h10v10h-10zM635 1885h9v10h-9zM615 1895h10v10h-10zM635 1895h9v10h-9zM362 1905h10v9h-10zM615 1905h10v9h-10zM635 1905h9v9h-9zM615 1914h10v10h-10zM635 1914h9v10h-9zM362 1924h10v9h-10zM615 1924h10v9h-10zM635 1924h9v9h-9zM615 1933h10v10h-10zM635 1933h9v10h-9zM362 1943h10v10h-10zM615 1943h10v10h-10zM635 1943h9v10h-9zM430 1953h10v9h-10zM615 1953h10v9h-10zM635 1953h9v9h-9zM362 1962h10v10h-10zM430 1962h10v10h-10zM615 1962h10v10h-10zM635 1962h9v10h-9zM615 1972h10v9h-10zM635 1972h9v9h-9zM615 1981h10v10h-10zM635 1981h9v10h-9z"/><path fill="#2c3b98" d="M313 1684h10v9h-10zM498 1684h10v9h-10zM313 1693h10v10h-10zM498 1693h10v10h-10zM313 1703h10v9h-10zM498 1703h10v9h-10zM313 1712h10v10h-10zM498 1712h10v10h-10zM313 1722h10v10h-10zM498 1722h10v10h-10zM323 1732h10v9h-10zM498 1732h10v9h-10zM333 1741h10v10h-10zM498 1741h10v10h-10zM333 1751h10v9h-10zM498 1751h10v9h-10zM333 1760h10v10h-10zM498 1760h10v10h-10zM333 1770h10v10h-10zM498 1770h10v10h-10zM333 1780h10v9h-10zM498 1780h10v9h-10zM333 1789h10v10h-10zM498 1789h10v10h-10zM333 1799h10v10h-10zM498 1799h10v10h-10zM333 1809h10v9h-10zM498 1809h10v9h-10zM333 1818h10v10h-10zM479 1818h10v10h-10zM333 1828h10v9h-10zM479 1828h10v9h-10zM333 1837h10v10h-10zM479 1837h10v10h-10zM333 1847h10v10h-10zM479 1847h10v10h-10zM333 1857h10v9h-10zM479 1857h10v9h-10zM333 1866h10v10h-10zM479 1866h10v10h-10zM625 1876h10v9h-10zM372 1885h9v10h-9zM625 1885h10v10h-10zM625 1895h10v10h-10zM372 1905h9v9h-9zM625 1905h10v9h-10zM625 1914h10v10h-10zM372 1924h9v9h-9zM625 1924h10v9h-10zM625 1933h10v10h-10zM372 1943h9v10h-9zM625 1943h10v10h-10zM420 1953h10v9h-10zM625 1953h10v9h-10zM372 1962h9v10h-9zM420 1962h10v10h-10zM625 1962h10v10h-10zM625 1972h10v9h-10zM625 1981h10v10h-10z"/><path fill="#2a3690" d="M323 1684h39v9h-39zM420 1684h78v9h-78zM323 1693h39v10h-39zM420 1693h78v10h-78zM323 1703h39v9h-39zM420 1703h78v9h-78zM323 1712h39v10h-39zM420 1712h78v10h-78zM323 1722h39v10h-39zM420 1722h78v10h-78zM333 1732h29v9h-29zM420 1732h78v9h-78zM343 1741h155v10h-155zM343 1751h155v9h-155zM343 1760h155v10h-155zM343 1770h155v10h-155zM343 1780h155v9h-155zM343 1789h155v10h-155zM343 1799h155v10h-155zM343 1809h155v9h-155zM343 1818h136v10h-136zM343 1828h136v9h-136zM343 1837h136v10h-136zM343 1847h136v10h-136zM343 1857h136v9h-136zM343 1866h136v10h-136zM381 1876h98v9h-98zM381 1885h98v10h-98zM381 1895h98v10h-98zM381 1905h98v9h-98zM381 1914h98v10h-98zM381 1924h98v9h-98zM381 1933h98v10h-98zM381 1943h98v10h-98zM381 1953h39v9h-39zM381 1962h39v10h-39z"/><path fill="#283287" d="M362 1684h10v9h-10zM411 1684h9v9h-9zM362 1693h10v10h-10zM411 1693h9v10h-9zM362 1703h10v9h-10zM411 1703h9v9h-9zM362 1712h10v10h-10zM411 1712h9v10h-9zM362 1722h10v10h-10zM411 1722h9v10h-9zM362 1732h10v9h-10zM411 1732h9v9h-9z"/><path fill="#232570" d="M372 1684h9v9h-9zM401 1684h10v9h-10zM372 1693h9v10h-9zM401 1693h10v10h-10zM372 1703h9v9h-9zM401 1703h10v9h-10zM372 1712h9v10h-9zM401 1712h10v10h-10zM372 1722h9v10h-9zM401 1722h10v10h-10zM381 1732h20v9h-20z"/><path fill="#212269" d="M381 1684h20v9h-20zM381 1693h20v10h-20zM381 1703h20v9h-20zM381 1712h20v10h-20zM381 1722h20v10h-20z"/><path fill="#3342a1" d="M313 1732h10v9h-10zM372 1876h9v9h-9zM479 1876h10v9h-10zM479 1885h10v10h-10zM372 1895h9v10h-9zM479 1895h10v10h-10zM479 1905h10v9h-10zM372 1914h9v10h-9zM479 1914h10v10h-10zM479 1924h10v9h-10zM372 1933h9v10h-9zM479 1933h10v10h-10zM479 1943h10v10h-10zM372 1953h9v9h-9z"/><path fill="#242977" d="M372 1732h9v9h-9zM401 1732h10v9h-10z"/></g><rect x="138.2" y="1562" width="583.9" height="601.4" fill="none" stroke="#000" stroke-width="3.4"/><path d="M130.2 2067.9H138.2M130.2 1971.8H138.2M130.2 1875.8H138.2M130.2 1779.7H138.2M130.2 1683.6H138.2M130.2 1587.6H138.2M138.2 2163.4V2171.4M235.5 2163.4V2171.4M332.8 2163.4V2171.4M430.2 2163.4V2171.4M527.5 2163.4V2171.4M624.8 2163.4V2171.4M722.1 2163.4V2171.4" stroke="#000" stroke-width="3"/><rect x="732.5" y="1562" width="17.4" height="602.1" fill="url(#ge)" stroke="#222" stroke-width="1.2"/><path d="M749.9 2118.4H756.9M749.9 2042.2H756.9M749.9 1965.9H756.9M749.9 1889.7H756.9M749.9 1813.5H756.9M749.9 1737.3H756.9M749.9 1661.1H756.9M749.9 1584.9H756.9" stroke="#000" stroke-width="3"/><text x="72.2" y="2081.2" font-size="41">1.0</text><text x="72.4" y="1985.1" font-size="41">1.5</text><text x="72.2" y="1889.1" font-size="41">2.0</text><text x="72.4" y="1792.9" font-size="41">2.5</text><text x="72.2" y="1696.9" font-size="41">3.0</text><text x="72.4" y="1600.8" font-size="41">3.5</text><text x="125.2" y="2207.2" font-size="41">0º</text><text x="211.2" y="2207.2" font-size="41">10º</text><text x="309.5" y="2207.2" font-size="41">20º</text><text x="406.7" y="2207.2" font-size="41">30º</text><text x="504.6" y="2207.2" font-size="41">40º</text><text x="601.1" y="2207.2" font-size="41">50º</text><text x="698.7" y="2207.2" font-size="41">60º</text><text x="759.4" y="2131.7" font-size="41">-0.8</text><text x="759.4" y="2055.5" font-size="41">-0.6</text><text x="759.4" y="1979.3" font-size="41">-0.4</text><text x="759.4" y="1903.0" font-size="41">-0.2</text><text x="759.4" y="1826.8" font-size="41">0.0</text><text x="759.4" y="1750.6" font-size="41">0.2</text><text x="759.4" y="1674.4" font-size="41">0.4</text><text x="759.4" y="1598.2" font-size="41">0.6</text><text x="209.8" y="1547.6" font-size="58" font-weight="bold">Polarization in W</text><text x="648.0" y="1547.6" font-size="29.0" font-weight="bold">1</text><text x="424.9" y="2320.6" font-size="45" font-weight="bold" fill="#a51c20">(e)</text><text transform="translate(410.9 2238.6) rotate(0.00)" x="-112.2" y="9.8" font-size="41" font-weight="bold" xml:space="preserve">Tilt angle (δ)</text><text transform="translate(35.4 1856.4) rotate(-90.00)" x="-105.9" y="9.8" font-size="41" font-weight="bold" xml:space="preserve">Energy (eV)</text><g shape-rendering="crispEdges"><path fill="#c4c7e7" d="M997 1555h10v7h-10zM1085 1555h10v7h-10zM997 1562h10v10h-10zM1085 1562h10v10h-10zM997 1572h10v9h-10zM1085 1572h10v9h-10zM1515 1572h10v9h-10zM997 1581h10v10h-10zM1085 1581h10v10h-10zM1525 1581h9v10h-9zM997 1591h10v10h-10zM1085 1591h10v10h-10zM997 1601h10v10h-10zM1085 1601h10v10h-10zM1564 1601h9v10h-9zM997 1611h10v10h-10zM1085 1611h10v10h-10zM997 1621h10v9h-10zM1085 1621h10v9h-10zM997 1630h10v10h-10zM1085 1630h10v10h-10zM997 1640h10v10h-10zM1085 1640h10v10h-10zM997 1650h10v10h-10zM1085 1650h10v10h-10zM997 1660h10v10h-10zM1085 1660h10v10h-10zM997 1670h10v9h-10zM1085 1670h10v9h-10zM997 1679h10v10h-10zM997 1689h10v10h-10zM997 1699h10v10h-10zM997 1709h10v10h-10zM997 1719h10v9h-10zM997 1728h10v10h-10zM997 1738h10v10h-10zM997 1748h10v10h-10zM1134 1748h10v10h-10zM997 1758h10v10h-10zM997 1768h10v9h-10zM1144 1768h10v9h-10zM997 1777h10v10h-10zM997 1787h10v10h-10zM1144 1787h10v10h-10zM997 1797h10v10h-10zM997 1807h10v9h-10zM1495 1836h10v10h-10zM1495 1846h10v10h-10zM1193 1856h9v9h-9zM1495 1856h10v9h-10zM1495 1865h10v10h-10zM1212 1875h10v10h-10zM1495 1875h10v10h-10zM1495 1885h10v10h-10zM1212 1895h10v10h-10zM1495 1895h10v10h-10zM1495 1905h10v9h-10zM1232 1914h9v10h-9zM1495 1914h10v10h-10zM1573 1914h10v10h-10zM1495 1924h10v10h-10zM1573 1924h10v10h-10zM1232 1934h9v10h-9zM1495 1934h10v10h-10zM1573 1934h10v10h-10zM1495 1944h10v10h-10zM1573 1944h10v10h-10zM1212 1954h10v9h-10zM1495 1954h10v9h-10zM1573 1954h10v9h-10zM1495 1963h10v10h-10zM1573 1963h10v10h-10zM1212 1973h10v10h-10zM1495 1973h10v10h-10zM1573 1973h10v10h-10zM1495 1983h10v10h-10zM1573 1983h10v10h-10zM1525 1993h58v10h-58zM1202 2003h10v9h-10zM1525 2003h58v9h-58zM1173 2012h10v10h-10zM1427 2012h10v10h-10zM1085 2022h20v10h-20zM1144 2022h19v10h-19zM1368 2022h10v10h-10zM1075 2032h40v10h-40zM1134 2032h20v10h-20zM997 2042h10v9h-10zM1056 2042h19v9h-19zM1378 2042h10v9h-10zM1417 2042h10v9h-10zM997 2051h10v10h-10zM1046 2051h10v10h-10zM1388 2051h19v10h-19zM997 2061h10v10h-10zM1036 2061h10v10h-10zM997 2071h20v10h-20zM1027 2071h9v10h-9zM997 2081h30v10h-30zM997 2091h20v9h-20zM997 2100h10v10h-10z"/><path fill="#acb1dd" d="M1007 1555h10v7h-10zM1075 1555h10v7h-10zM1515 1555h10v7h-10zM1007 1562h10v10h-10zM1075 1562h10v10h-10zM1515 1562h10v10h-10zM1007 1572h10v9h-10zM1075 1572h10v9h-10zM1525 1572h9v9h-9zM1007 1581h10v10h-10zM1075 1581h10v10h-10zM1007 1591h10v10h-10zM1075 1591h10v10h-10zM1534 1591h10v10h-10zM1007 1601h10v10h-10zM1075 1601h10v10h-10zM1573 1601h10v10h-10zM1007 1611h10v10h-10zM1075 1611h10v10h-10zM1007 1621h10v9h-10zM1075 1621h10v9h-10zM1007 1630h10v10h-10zM1075 1630h10v10h-10zM1007 1640h10v10h-10zM1075 1640h10v10h-10zM1007 1650h10v10h-10zM1075 1650h10v10h-10zM1007 1660h10v10h-10zM1075 1660h10v10h-10zM1007 1670h10v9h-10zM1075 1670h10v9h-10zM1007 1679h10v10h-10zM1505 1679h10v10h-10zM1007 1689h10v10h-10zM1505 1689h10v10h-10zM1007 1699h10v10h-10zM1505 1699h10v10h-10zM1007 1709h10v10h-10zM1115 1709h9v10h-9zM1505 1709h10v10h-10zM1007 1719h10v9h-10zM1505 1719h10v9h-10zM1007 1728h10v10h-10zM1505 1728h10v10h-10zM1007 1738h10v10h-10zM1505 1738h10v10h-10zM1007 1748h10v10h-10zM1505 1748h10v10h-10zM1007 1758h10v10h-10zM1144 1758h10v10h-10zM1505 1758h10v10h-10zM1007 1768h10v9h-10zM1505 1768h10v9h-10zM1007 1777h10v10h-10zM1144 1777h10v10h-10zM1505 1777h10v10h-10zM1007 1787h10v10h-10zM1505 1787h10v10h-10zM1007 1797h10v10h-10zM1505 1797h10v10h-10zM1007 1807h10v9h-10zM1505 1807h10v9h-10zM1505 1816h10v10h-10zM1505 1826h10v10h-10zM1525 1836h9v10h-9zM1525 1846h9v10h-9zM1525 1856h9v9h-9zM1525 1865h9v10h-9zM1525 1875h9v10h-9zM1525 1885h9v10h-9zM1525 1895h9v10h-9zM1525 1905h9v9h-9zM1525 1914h9v10h-9zM1564 1914h9v10h-9zM1525 1924h9v10h-9zM1564 1924h9v10h-9zM1525 1934h9v10h-9zM1564 1934h9v10h-9zM1525 1944h9v10h-9zM1564 1944h9v10h-9zM1437 1954h9v9h-9zM1525 1954h9v9h-9zM1564 1954h9v9h-9zM1437 1963h9v10h-9zM1525 1963h9v10h-9zM1564 1963h9v10h-9zM1437 1973h9v10h-9zM1525 1973h9v10h-9zM1564 1973h9v10h-9zM1437 1983h9v10h-9zM1525 1983h9v10h-9zM1564 1983h9v10h-9zM1202 1993h10v10h-10zM1368 1993h10v10h-10zM1437 1993h9v10h-9zM1368 2003h10v9h-10zM1437 2003h9v9h-9zM1085 2012h20v10h-20zM1144 2012h29v10h-29zM1368 2012h10v10h-10zM1075 2022h10v10h-10zM1105 2022h39v10h-39zM997 2032h20v10h-20zM1056 2032h19v10h-19zM1378 2032h10v10h-10zM1007 2042h10v9h-10zM1046 2042h10v9h-10zM1388 2042h10v9h-10zM1007 2051h10v10h-10zM1036 2051h10v10h-10zM1007 2061h10v10h-10zM1027 2061h9v10h-9zM1017 2071h10v10h-10z"/><path fill="#959ad4" d="M1017 1555h10v7h-10zM1066 1555h9v7h-9zM1525 1555h9v7h-9zM1017 1562h10v10h-10zM1066 1562h9v10h-9zM1525 1562h9v10h-9zM1017 1572h10v9h-10zM1066 1572h9v9h-9zM1017 1581h10v10h-10zM1066 1581h9v10h-9zM1534 1581h10v10h-10zM1017 1591h10v10h-10zM1066 1591h9v10h-9zM1573 1591h10v10h-10zM1017 1601h10v10h-10zM1066 1601h9v10h-9zM1017 1611h10v10h-10zM1066 1611h9v10h-9zM1017 1621h10v9h-10zM1066 1621h9v9h-9zM1017 1630h10v10h-10zM1066 1630h9v10h-9zM1017 1640h10v10h-10zM1066 1640h9v10h-9zM1017 1650h10v10h-10zM1066 1650h9v10h-9zM1017 1660h10v10h-10zM1066 1660h9v10h-9zM1017 1670h10v9h-10zM1066 1670h9v9h-9zM1017 1679h10v10h-10zM1017 1689h10v10h-10zM1017 1699h10v10h-10zM1017 1709h10v10h-10zM1017 1719h10v9h-10zM1124 1719h10v9h-10zM1017 1728h10v10h-10zM1017 1738h10v10h-10zM1017 1748h10v10h-10zM1417 1797h10v10h-10zM1144 1807h10v9h-10zM1417 1807h10v9h-10zM1417 1816h10v10h-10zM1144 1826h10v10h-10zM1417 1826h10v10h-10zM1437 1836h9v10h-9zM1437 1846h9v10h-9zM1437 1856h9v9h-9zM1437 1865h9v10h-9zM1437 1875h9v10h-9zM1437 1885h9v10h-9zM1437 1895h9v10h-9zM1437 1905h9v9h-9zM1075 2012h10v10h-10zM1105 2012h10v10h-10zM1134 2012h10v10h-10zM997 2022h30v10h-30zM1066 2022h9v10h-9zM1017 2032h10v10h-10zM1417 2032h10v10h-10zM1017 2042h29v9h-29zM1398 2042h19v9h-19zM1017 2051h19v10h-19zM1017 2061h10v10h-10z"/><path fill="#8087ca" d="M1027 1555h39v7h-39zM1534 1555h10v7h-10zM1564 1555h19v7h-19zM1027 1562h39v10h-39zM1534 1562h10v10h-10zM1564 1562h19v10h-19zM1027 1572h39v9h-39zM1534 1572h10v9h-10zM1564 1572h19v9h-19zM1027 1581h39v10h-39zM1564 1581h19v10h-19zM1027 1591h39v10h-39zM1544 1591h29v10h-29zM1027 1601h39v10h-39zM1027 1611h39v10h-39zM1027 1621h39v9h-39zM1027 1630h39v10h-39zM1027 1640h39v10h-39zM1027 1650h39v10h-39zM1027 1660h39v10h-39zM1027 1670h39v9h-39zM1027 1679h9v10h-9zM1105 1679h10v10h-10zM1027 1689h9v10h-9zM1105 1689h10v10h-10zM1027 1699h9v10h-9zM1105 1699h10v10h-10zM1027 1709h9v10h-9zM1124 1728h10v10h-10zM1124 1738h10v10h-10zM1134 1758h10v10h-10zM1134 1768h10v9h-10zM1134 1777h10v10h-10zM1134 1787h10v10h-10zM1144 1797h10v10h-10zM1368 1797h10v10h-10zM1515 1797h10v10h-10zM1368 1807h10v9h-10zM1515 1807h10v9h-10zM997 1816h20v10h-20zM1144 1816h10v10h-10zM1368 1816h10v10h-10zM1515 1816h10v10h-10zM997 1826h20v10h-20zM1368 1826h10v10h-10zM1515 1826h10v10h-10zM997 1836h20v10h-20zM1368 1836h10v10h-10zM1534 1836h10v10h-10zM997 1846h20v10h-20zM1368 1846h10v10h-10zM1534 1846h10v10h-10zM997 1856h20v9h-20zM1368 1856h10v9h-10zM1534 1856h10v9h-10zM997 1865h20v10h-20zM1368 1865h10v10h-10zM1534 1865h10v10h-10zM997 1875h20v10h-20zM1368 1875h10v10h-10zM1534 1875h10v10h-10zM997 1885h20v10h-20zM1368 1885h10v10h-10zM1534 1885h10v10h-10zM997 1895h20v10h-20zM1368 1895h10v10h-10zM1534 1895h10v10h-10zM997 1905h20v9h-20zM1368 1905h10v9h-10zM1534 1905h10v9h-10zM997 1914h20v10h-20zM1368 1914h10v10h-10zM1437 1914h9v10h-9zM1534 1914h10v10h-10zM997 1924h20v10h-20zM1368 1924h10v10h-10zM1437 1924h9v10h-9zM1534 1924h10v10h-10zM997 1934h20v10h-20zM1368 1934h10v10h-10zM1437 1934h9v10h-9zM1534 1934h10v10h-10zM997 1944h20v10h-20zM1368 1944h10v10h-10zM1437 1944h9v10h-9zM1534 1944h10v10h-10zM997 1954h20v9h-20zM1368 1954h10v9h-10zM1534 1954h10v9h-10zM997 1963h20v10h-20zM1368 1963h10v10h-10zM1534 1963h10v10h-10zM997 1973h20v10h-20zM1368 1973h10v10h-10zM1534 1973h10v10h-10zM997 1983h20v10h-20zM1368 1983h10v10h-10zM1534 1983h10v10h-10zM997 1993h20v10h-20zM1193 1993h9v10h-9zM1378 1993h10v10h-10zM1427 1993h10v10h-10zM997 2003h20v9h-20zM1193 2003h9v9h-9zM1378 2003h10v9h-10zM1427 2003h10v9h-10zM997 2012h30v10h-30zM1066 2012h9v10h-9zM1115 2012h19v10h-19zM1378 2012h10v10h-10zM1027 2022h9v10h-9zM1056 2022h10v10h-10zM1378 2022h10v10h-10zM1417 2022h10v10h-10zM1027 2032h29v10h-29zM1388 2032h29v10h-29z"/><path fill="#f3f4fa" d="M1095 1555h10v7h-10zM1095 1562h10v10h-10zM1095 1572h10v9h-10zM1095 1581h10v10h-10zM1095 1591h10v10h-10zM1515 1591h10v10h-10zM1095 1601h10v10h-10zM1515 1601h29v10h-29zM1095 1611h10v10h-10zM1554 1611h10v10h-10zM1095 1621h10v9h-10zM1095 1630h10v10h-10zM1095 1640h10v10h-10zM1095 1650h10v10h-10zM1095 1660h10v10h-10zM1095 1670h10v9h-10zM1134 1719h10v9h-10zM1154 1758h9v10h-9zM1154 1777h9v10h-9zM1359 1797h9v10h-9zM1359 1807h9v9h-9zM1359 1816h9v10h-9zM1359 1826h9v10h-9zM1359 1836h9v10h-9zM1505 1836h10v10h-10zM1359 1846h9v10h-9zM1505 1846h10v10h-10zM1202 1856h78v9h-78zM1359 1856h9v9h-9zM1505 1856h10v9h-10zM1359 1865h9v10h-9zM1505 1865h10v10h-10zM1222 1875h58v10h-58zM1505 1875h10v10h-10zM1505 1885h10v10h-10zM1222 1895h58v10h-58zM1505 1895h10v10h-10zM1505 1905h10v9h-10zM1241 1914h39v10h-39zM1446 1914h10v10h-10zM1505 1914h10v10h-10zM1446 1924h10v10h-10zM1505 1924h10v10h-10zM1241 1934h39v10h-39zM1446 1934h10v10h-10zM1505 1934h10v10h-10zM1446 1944h10v10h-10zM1505 1944h10v10h-10zM1222 1954h58v9h-58zM1505 1954h10v9h-10zM1505 1963h10v10h-10zM1222 1973h58v10h-58zM1505 1973h10v10h-10zM1505 1983h10v10h-10zM1222 1993h58v10h-58zM1515 1993h10v10h-10zM1515 2003h10v9h-10zM1202 2012h10v10h-10zM1173 2022h10v10h-10zM1163 2032h20v10h-20zM1115 2042h19v9h-19zM1154 2042h29v9h-29zM1368 2042h10v9h-10zM1427 2042h10v9h-10zM1066 2051h9v10h-9zM1173 2051h10v10h-10zM1417 2051h10v10h-10zM1056 2061h10v10h-10zM1154 2061h9v10h-9zM1173 2061h10v10h-10zM1036 2081h10v10h-10zM1017 2100h10v10h-10zM997 2110h10v10h-10z"/><path fill="#f9c3c4" d="M1105 1555h10v7h-10zM1105 1562h10v10h-10zM1105 1572h10v9h-10zM1105 1581h10v10h-10zM1105 1591h10v10h-10zM1495 1591h10v10h-10zM1105 1601h10v10h-10zM1105 1611h10v10h-10zM1505 1611h10v10h-10zM1105 1621h10v9h-10zM1525 1621h9v9h-9zM1105 1630h10v10h-10zM1105 1640h10v10h-10zM1105 1650h10v10h-10zM1105 1660h10v10h-10zM1105 1670h10v9h-10zM1124 1679h10v10h-10zM1290 1679h10v10h-10zM1427 1679h49v10h-49zM1124 1689h10v10h-10zM1290 1689h10v10h-10zM1427 1689h49v10h-49zM1124 1699h10v10h-10zM1290 1699h10v10h-10zM1427 1699h49v10h-49zM1290 1709h10v10h-10zM1437 1709h39v10h-39zM1300 1719h10v9h-10zM1378 1719h39v9h-39zM1446 1719h30v9h-30zM1144 1728h10v10h-10zM1300 1728h10v10h-10zM1368 1728h59v10h-59zM1446 1728h30v10h-30zM1144 1738h10v10h-10zM1300 1738h10v10h-10zM1368 1738h59v10h-59zM1446 1738h30v10h-30zM1368 1748h59v10h-59zM1446 1748h30v10h-30zM1280 1758h10v10h-10zM1310 1758h10v10h-10zM1368 1758h108v10h-108zM1310 1768h10v9h-10zM1368 1768h108v9h-108zM1280 1777h10v10h-10zM1310 1777h10v10h-10zM1368 1777h108v10h-108zM1310 1787h10v10h-10zM1368 1787h108v10h-108zM1280 1797h10v10h-10zM1310 1797h19v10h-19zM1349 1797h10v10h-10zM1427 1797h10v10h-10zM1446 1797h30v10h-30zM1310 1807h19v9h-19zM1349 1807h10v9h-10zM1427 1807h10v9h-10zM1446 1807h30v9h-30zM1280 1816h10v10h-10zM1310 1816h19v10h-19zM1349 1816h10v10h-10zM1427 1816h10v10h-10zM1446 1816h30v10h-30zM1310 1826h19v10h-19zM1349 1826h10v10h-10zM1427 1826h10v10h-10zM1446 1826h30v10h-30zM1280 1836h10v10h-10zM1310 1836h19v10h-19zM1349 1836h10v10h-10zM1446 1836h10v10h-10zM1466 1836h10v10h-10zM1193 1846h9v10h-9zM1310 1846h19v10h-19zM1349 1846h10v10h-10zM1446 1846h10v10h-10zM1466 1846h10v10h-10zM1310 1856h19v9h-19zM1349 1856h10v9h-10zM1446 1856h10v9h-10zM1466 1856h10v9h-10zM1310 1865h19v10h-19zM1349 1865h10v10h-10zM1446 1865h10v10h-10zM1466 1865h10v10h-10zM1300 1875h10v10h-10zM1329 1875h10v10h-10zM1446 1875h10v10h-10zM1466 1875h10v10h-10zM1290 1885h20v10h-20zM1329 1885h10v10h-10zM1446 1885h10v10h-10zM1466 1885h10v10h-10zM1300 1895h10v10h-10zM1329 1895h10v10h-10zM1446 1895h10v10h-10zM1466 1895h10v10h-10zM1290 1905h20v9h-20zM1329 1905h10v9h-10zM1446 1905h10v9h-10zM1466 1905h10v9h-10zM1300 1914h10v10h-10zM1329 1914h10v10h-10zM1456 1914h20v10h-20zM1290 1924h20v10h-20zM1329 1924h10v10h-10zM1456 1924h20v10h-20zM1300 1934h10v10h-10zM1329 1934h10v10h-10zM1456 1934h20v10h-20zM1290 1944h20v10h-20zM1329 1944h10v10h-10zM1456 1944h20v10h-20zM1300 1954h10v9h-10zM1329 1954h10v9h-10zM1456 1954h20v9h-20zM1290 1963h20v10h-20zM1329 1963h10v10h-10zM1456 1963h20v10h-20zM1300 1973h10v10h-10zM1329 1973h10v10h-10zM1456 1973h20v10h-20zM1290 1983h20v10h-20zM1329 1983h10v10h-10zM1456 1983h20v10h-20zM1349 1993h10v10h-10zM1456 1993h10v10h-10zM1485 1993h10v10h-10zM1349 2003h10v9h-10zM1456 2003h10v9h-10zM1485 2003h10v9h-10zM1222 2012h19v10h-19zM1349 2012h10v10h-10zM1505 2012h10v10h-10zM1222 2022h29v10h-29zM1271 2022h19v10h-19zM1349 2022h10v10h-10zM1505 2022h78v10h-78zM1212 2032h39v10h-39zM1271 2032h19v10h-19zM1349 2032h10v10h-10zM1505 2032h20v10h-20zM1202 2042h49v9h-49zM1271 2042h19v9h-19zM1202 2051h10v10h-10zM1232 2051h19v10h-19zM1271 2051h19v10h-19zM1368 2051h10v10h-10zM1437 2051h9v10h-9zM1085 2061h20v10h-20zM1193 2061h9v10h-9zM1271 2061h19v10h-19zM1378 2061h10v10h-10zM1417 2061h20v10h-20zM1075 2071h40v10h-40zM1134 2071h10v10h-10zM1183 2071h10v10h-10zM1271 2071h19v10h-19zM1066 2081h117v10h-117zM1212 2081h20v10h-20zM1056 2091h19v9h-19zM1115 2091h39v9h-39zM1212 2091h29v9h-29zM1046 2100h20v10h-20zM1222 2100h19v10h-19zM1036 2110h20v10h-20zM1027 2120h19v10h-19zM1017 2130h19v10h-19z"/><path fill="#f0676b" d="M1115 1555h9v7h-9zM1115 1562h9v10h-9zM1115 1572h9v9h-9zM1115 1581h9v10h-9zM1115 1591h9v10h-9zM1115 1601h9v10h-9zM1115 1611h9v10h-9zM1485 1611h10v10h-10zM1115 1621h9v9h-9zM1115 1630h9v10h-9zM1505 1630h10v10h-10zM1115 1640h9v10h-9zM1115 1650h9v10h-9zM1115 1660h9v10h-9zM1115 1670h9v9h-9zM1134 1679h10v10h-10zM1280 1679h10v10h-10zM1320 1679h9v10h-9zM1368 1679h10v10h-10zM1134 1689h10v10h-10zM1280 1689h10v10h-10zM1320 1689h9v10h-9zM1368 1689h10v10h-10zM1134 1699h10v10h-10zM1280 1699h10v10h-10zM1320 1699h9v10h-9zM1368 1699h10v10h-10zM1280 1709h10v10h-10zM1320 1709h9v10h-9zM1320 1719h9v9h-9zM1349 1719h10v9h-10zM1154 1728h9v10h-9zM1320 1728h9v10h-9zM1349 1728h10v10h-10zM1154 1738h9v10h-9zM1320 1738h9v10h-9zM1349 1738h10v10h-10zM1280 1748h10v10h-10zM1349 1748h10v10h-10zM1349 1758h10v10h-10zM1163 1768h127v9h-127zM1349 1768h10v9h-10zM1349 1777h10v10h-10zM1163 1787h127v10h-127zM1349 1787h10v10h-10zM1163 1807h127v9h-127zM1163 1826h127v10h-127zM1202 1846h88v10h-88zM1388 2071h19v10h-19zM1417 2071h10v10h-10zM1359 2081h9v10h-9zM1554 2081h29v10h-29zM1339 2091h10v9h-10zM1446 2091h10v9h-10zM1534 2091h10v9h-10zM1339 2100h10v10h-10zM1446 2100h10v10h-10zM1515 2100h29v10h-29zM1339 2110h10v10h-10zM1466 2110h10v10h-10zM1495 2110h10v10h-10zM1085 2120h30v10h-30zM1163 2120h20v10h-20zM1339 2120h10v10h-10zM1466 2120h39v10h-39zM1066 2130h9v10h-9zM1320 2130h9v10h-9zM1036 2140h30v9h-30zM1222 2140h98v9h-98z"/><path fill="#ea252d" d="M1124 1555h10v7h-10zM1310 1555h10v7h-10zM1339 1555h10v7h-10zM1388 1555h10v7h-10zM1124 1562h10v10h-10zM1310 1562h10v10h-10zM1339 1562h10v10h-10zM1388 1562h10v10h-10zM1124 1572h10v9h-10zM1310 1572h10v9h-10zM1339 1572h10v9h-10zM1388 1572h10v9h-10zM1124 1581h10v10h-10zM1310 1581h10v10h-10zM1339 1581h10v10h-10zM1388 1581h10v10h-10zM1124 1591h10v10h-10zM1320 1591h19v10h-19zM1388 1591h10v10h-10zM1124 1601h10v10h-10zM1388 1601h10v10h-10zM1124 1611h10v10h-10zM1407 1611h49v10h-49zM1124 1621h10v9h-10zM1446 1621h10v9h-10zM1124 1630h10v10h-10zM1456 1630h39v10h-39zM1124 1640h10v10h-10zM1485 1640h10v10h-10zM1124 1650h10v10h-10zM1495 1650h88v10h-88zM1124 1660h10v10h-10zM1124 1670h10v9h-10zM1144 1679h10v10h-10zM1271 1679h9v10h-9zM1144 1689h10v10h-10zM1271 1689h9v10h-9zM1144 1699h10v10h-10zM1271 1699h9v10h-9zM1271 1709h9v10h-9zM1271 1719h9v9h-9zM1163 1728h10v10h-10zM1271 1728h9v10h-9zM1163 1738h10v10h-10zM1271 1738h9v10h-9zM1173 1748h98v10h-98zM1378 2081h39v10h-39zM1378 2091h10v9h-10zM1359 2100h19v10h-19zM1427 2100h10v10h-10zM1359 2110h9v10h-9zM1427 2110h10v10h-10zM1124 2120h20v10h-20zM1359 2120h9v10h-9zM1437 2120h19v10h-19zM1124 2130h10v10h-10zM1163 2130h10v10h-10zM1359 2130h9v10h-9zM1446 2130h10v10h-10zM1085 2140h39v9h-39zM1183 2140h19v9h-19zM1339 2140h20v9h-20zM1456 2140h127v9h-127zM997 2149h39v10h-39z"/><path fill="#d81e25" d="M1134 1555h10v7h-10zM1241 1555h69v7h-69zM1349 1555h39v7h-39zM1134 1562h10v10h-10zM1241 1562h69v10h-69zM1349 1562h39v10h-39zM1134 1572h10v9h-10zM1241 1572h69v9h-69zM1349 1572h39v9h-39zM1134 1581h10v10h-10zM1241 1581h69v10h-69zM1349 1581h39v10h-39zM1134 1591h10v10h-10zM1251 1591h59v10h-59zM1349 1591h39v10h-39zM1134 1601h10v10h-10zM1261 1601h127v10h-127zM1134 1611h10v10h-10zM1271 1611h117v10h-117zM1134 1621h10v9h-10zM1280 1621h98v9h-98zM1407 1621h30v9h-30zM1134 1630h10v10h-10zM1280 1630h10v10h-10zM1427 1630h19v10h-19zM1134 1640h10v10h-10zM1437 1640h39v10h-39zM1134 1650h10v10h-10zM1466 1650h19v10h-19zM1134 1660h10v10h-10zM1476 1660h107v10h-107zM1134 1670h10v9h-10zM1476 1670h107v9h-107zM1154 1679h117v10h-117zM1154 1689h117v10h-117zM1154 1699h117v10h-117zM1163 1709h108v10h-108zM1173 1719h98v9h-98zM1173 1728h98v10h-98zM1173 1738h98v10h-98zM1398 2091h19v9h-19zM1388 2100h39v10h-39zM1378 2110h49v10h-49zM1368 2120h59v10h-59zM1368 2130h69v10h-69zM1134 2140h39v9h-39zM1368 2140h78v9h-78zM1085 2149h117v10h-117zM1339 2149h244v10h-244zM997 2159h586v10h-586z"/><path fill="#ce1d24" d="M1144 1555h10v7h-10zM1232 1555h9v7h-9zM1144 1562h10v10h-10zM1232 1562h9v10h-9zM1144 1572h10v9h-10zM1232 1572h9v9h-9zM1144 1581h10v10h-10zM1232 1581h9v10h-9zM1144 1591h10v10h-10zM1241 1591h10v10h-10zM1144 1601h10v10h-10zM1251 1601h10v10h-10zM1144 1611h10v10h-10zM1261 1611h10v10h-10zM1144 1621h10v9h-10zM1271 1621h9v9h-9zM1378 1621h10v9h-10zM1144 1630h10v10h-10zM1271 1630h9v10h-9zM1290 1630h88v10h-88zM1417 1630h10v10h-10zM1144 1640h10v10h-10zM1271 1640h19v10h-19zM1427 1640h10v10h-10zM1144 1650h10v10h-10zM1437 1650h29v10h-29zM1144 1660h10v10h-10zM1466 1660h10v10h-10zM1144 1670h10v9h-10zM1466 1670h10v9h-10z"/><path fill="#ba1b21" d="M1154 1555h9v7h-9zM1222 1555h10v7h-10zM1154 1562h9v10h-9zM1222 1562h10v10h-10zM1154 1572h9v9h-9zM1222 1572h10v9h-10zM1154 1581h9v10h-9zM1222 1581h10v10h-10zM1154 1591h9v10h-9zM1222 1591h10v10h-10zM1154 1601h9v10h-9zM1241 1601h10v10h-10zM1154 1611h9v10h-9zM1241 1611h10v10h-10zM1154 1621h9v9h-9zM1261 1621h10v9h-10zM1154 1630h9v10h-9zM1261 1630h10v10h-10zM1388 1630h19v10h-19zM1154 1640h9v10h-9zM1261 1640h10v10h-10zM1290 1640h88v10h-88zM1417 1640h10v10h-10zM1154 1650h9v10h-9zM1261 1650h10v10h-10zM1290 1650h10v10h-10zM1417 1650h10v10h-10zM1154 1660h9v10h-9zM1437 1660h29v10h-29zM1154 1670h9v9h-9zM1456 1670h10v9h-10z"/><path fill="#b01a20" d="M1163 1555h59v7h-59zM1163 1562h59v10h-59zM1163 1572h59v9h-59zM1163 1581h59v10h-59zM1163 1591h59v10h-59zM1163 1601h78v10h-78zM1163 1611h78v10h-78zM1163 1621h98v9h-98zM1163 1630h98v10h-98zM1163 1640h98v10h-98zM1378 1640h39v10h-39zM1163 1650h98v10h-98zM1300 1650h117v10h-117zM1163 1660h274v10h-274zM1163 1670h293v9h-293z"/><path fill="#ec3b42" d="M1320 1555h19v7h-19zM1398 1555h78v7h-78zM1320 1562h19v10h-19zM1398 1562h78v10h-78zM1320 1572h19v9h-19zM1398 1572h78v9h-78zM1320 1581h19v10h-19zM1398 1581h78v10h-78zM1398 1591h78v10h-78zM1398 1601h78v10h-78zM1456 1611h29v10h-29zM1456 1621h39v9h-39zM1495 1630h10v10h-10zM1495 1640h30v10h-30zM1329 1679h39v10h-39zM1329 1689h39v10h-39zM1329 1699h39v10h-39zM1144 1709h10v10h-10zM1329 1709h30v10h-30zM1329 1719h20v9h-20zM1329 1728h20v10h-20zM1329 1738h20v10h-20zM1339 1748h10v10h-10zM1339 1758h10v10h-10zM1339 1768h10v9h-10zM1339 1777h10v10h-10zM1339 1787h10v10h-10zM1368 2081h10v10h-10zM1417 2081h10v10h-10zM1359 2091h19v9h-19zM1427 2091h10v9h-10zM1554 2091h29v9h-29zM1349 2100h10v10h-10zM1437 2100h9v10h-9zM1544 2100h39v10h-39zM1349 2110h10v10h-10zM1437 2110h19v10h-19zM1515 2110h68v10h-68zM1115 2120h9v10h-9zM1144 2120h10v10h-10zM1349 2120h10v10h-10zM1456 2120h10v10h-10zM1505 2120h78v10h-78zM1085 2130h39v10h-39zM1173 2130h20v10h-20zM1339 2130h20v10h-20zM1456 2130h127v10h-127zM1075 2140h10v9h-10zM1202 2140h10v9h-10zM1329 2140h10v9h-10z"/><path fill="#ee5156" d="M1476 1555h9v7h-9zM1476 1562h9v10h-9zM1476 1572h9v9h-9zM1476 1581h9v10h-9zM1476 1591h9v10h-9zM1476 1601h9v10h-9zM1495 1621h10v9h-10zM1525 1640h58v10h-58zM1359 1709h9v10h-9zM1154 1719h9v9h-9zM1280 1719h10v9h-10zM1280 1728h10v10h-10zM1280 1738h10v10h-10zM1163 1748h10v10h-10zM1271 1748h9v10h-9zM1329 1748h10v10h-10zM1329 1758h10v10h-10zM1329 1768h10v9h-10zM1329 1777h10v10h-10zM1329 1787h10v10h-10zM1368 2071h20v10h-20zM1407 2071h10v10h-10zM1427 2081h10v10h-10zM1349 2091h10v9h-10zM1437 2091h9v9h-9zM1544 2091h10v9h-10zM1115 2110h39v10h-39zM1456 2110h10v10h-10zM1505 2110h10v10h-10zM1154 2120h9v10h-9zM1075 2130h10v10h-10zM1193 2130h19v10h-19zM1329 2130h10v10h-10zM1066 2140h9v9h-9zM1212 2140h10v9h-10zM1320 2140h9v9h-9z"/><path fill="#f6abac" d="M1485 1555h10v7h-10zM1485 1562h10v10h-10zM1485 1572h10v9h-10zM1485 1581h10v10h-10zM1495 1601h10v10h-10zM1515 1621h10v9h-10zM1534 1630h49v10h-49zM1427 1709h10v10h-10zM1144 1719h10v9h-10zM1290 1719h10v9h-10zM1368 1719h10v9h-10zM1417 1719h10v9h-10zM1290 1728h10v10h-10zM1290 1738h10v10h-10zM1290 1748h20v10h-20zM1320 1758h9v10h-9zM1154 1768h9v9h-9zM1320 1768h9v9h-9zM1320 1777h9v10h-9zM1154 1787h9v10h-9zM1320 1787h9v10h-9zM1154 1807h9v9h-9zM1154 1826h9v10h-9zM1202 1865h78v10h-78zM1222 1885h68v10h-68zM1222 1905h68v9h-68zM1241 1924h49v10h-49zM1241 1944h49v10h-49zM1222 1963h68v10h-68zM1222 1983h68v10h-68zM1222 2003h58v9h-58zM1241 2012h10v10h-10zM1271 2012h19v10h-19zM1446 2012h10v10h-10zM1349 2042h10v9h-10zM1505 2042h20v9h-20zM1359 2051h9v10h-9zM1202 2061h10v10h-10zM1232 2061h19v10h-19zM1368 2061h10v10h-10zM1437 2061h9v10h-9zM1212 2071h20v10h-20zM1485 2071h20v10h-20zM1183 2081h10v10h-10zM1271 2081h19v10h-19zM1485 2081h20v10h-20zM1241 2091h10v9h-10zM1066 2100h9v10h-9zM1115 2100h39v10h-39zM1212 2100h10v10h-10zM1241 2100h10v10h-10zM1193 2110h19v10h-19zM1251 2110h20v10h-20zM1046 2120h10v10h-10zM1202 2120h10v10h-10zM1251 2120h20v10h-20z"/><path fill="#fef3f3" d="M1495 1555h10v7h-10zM1495 1562h10v10h-10zM1505 1581h10v10h-10zM1505 1591h10v10h-10zM1515 1611h39v10h-39zM1485 1679h10v10h-10zM1485 1689h10v10h-10zM1485 1699h10v10h-10zM1124 1709h10v10h-10zM1485 1709h10v10h-10zM1485 1719h10v9h-10zM1485 1728h10v10h-10zM1485 1738h10v10h-10zM1485 1748h10v10h-10zM1485 1758h10v10h-10zM1485 1768h10v9h-10zM1485 1777h10v10h-10zM1485 1787h10v10h-10zM1485 1797h10v10h-10zM1485 1807h10v9h-10zM1485 1816h10v10h-10zM1485 1826h10v10h-10zM1476 1836h9v10h-9zM1476 1846h9v10h-9zM1476 1856h9v9h-9zM1193 1865h9v10h-9zM1476 1865h9v10h-9zM1280 1875h10v10h-10zM1349 1875h10v10h-10zM1476 1875h9v10h-9zM1212 1885h10v10h-10zM1349 1885h10v10h-10zM1476 1885h9v10h-9zM1280 1895h10v10h-10zM1349 1895h10v10h-10zM1476 1895h9v10h-9zM1212 1905h10v9h-10zM1349 1905h10v9h-10zM1476 1905h9v9h-9zM1280 1914h10v10h-10zM1349 1914h10v10h-10zM1476 1914h9v10h-9zM1232 1924h9v10h-9zM1349 1924h10v10h-10zM1476 1924h9v10h-9zM1280 1934h10v10h-10zM1349 1934h10v10h-10zM1476 1934h9v10h-9zM1232 1944h9v10h-9zM1349 1944h10v10h-10zM1476 1944h9v10h-9zM1280 1954h10v9h-10zM1349 1954h10v9h-10zM1446 1954h10v9h-10zM1476 1954h9v9h-9zM1212 1963h10v10h-10zM1349 1963h10v10h-10zM1446 1963h10v10h-10zM1476 1963h9v10h-9zM1280 1973h10v10h-10zM1349 1973h10v10h-10zM1446 1973h10v10h-10zM1476 1973h9v10h-9zM1212 1983h10v10h-10zM1349 1983h10v10h-10zM1446 1983h10v10h-10zM1476 1983h9v10h-9zM1359 1993h9v10h-9zM1446 1993h10v10h-10zM1505 1993h10v10h-10zM1359 2003h9v9h-9zM1446 2003h10v9h-10zM1505 2003h10v9h-10zM1359 2012h9v10h-9zM1437 2012h9v10h-9zM1183 2022h29v10h-29zM1359 2022h9v10h-9zM1183 2032h10v10h-10zM1359 2032h9v10h-9zM1183 2042h10v9h-10zM1075 2051h10v10h-10zM1105 2051h49v10h-49zM1183 2051h10v10h-10zM1378 2051h10v10h-10zM1066 2061h9v10h-9zM1115 2061h19v10h-19zM1388 2061h19v10h-19zM1046 2071h10v10h-10zM1046 2081h10v10h-10zM1027 2091h9v9h-9zM1027 2100h9v10h-9zM1007 2110h10v10h-10zM997 2120h20v10h-20z"/><path fill="#dcddf1" d="M1505 1555h10v7h-10zM1505 1562h10v10h-10zM1505 1572h10v9h-10zM1515 1581h10v10h-10zM1525 1591h9v10h-9zM1544 1601h20v10h-20zM1564 1611h19v10h-19zM1115 1679h9v10h-9zM1495 1679h10v10h-10zM1115 1689h9v10h-9zM1495 1689h10v10h-10zM1115 1699h9v10h-9zM1495 1699h10v10h-10zM1495 1709h10v10h-10zM1495 1719h10v9h-10zM1134 1728h10v10h-10zM1495 1728h10v10h-10zM1134 1738h10v10h-10zM1495 1738h10v10h-10zM1495 1748h10v10h-10zM1495 1758h10v10h-10zM1495 1768h10v9h-10zM1495 1777h10v10h-10zM1495 1787h10v10h-10zM1154 1797h9v10h-9zM1495 1797h10v10h-10zM1495 1807h10v9h-10zM1154 1816h9v10h-9zM1495 1816h10v10h-10zM1495 1826h10v10h-10zM1193 1836h9v10h-9zM1485 1836h10v10h-10zM1515 1836h10v10h-10zM1485 1846h10v10h-10zM1515 1846h10v10h-10zM1485 1856h10v9h-10zM1515 1856h10v9h-10zM1485 1865h10v10h-10zM1515 1865h10v10h-10zM1359 1875h9v10h-9zM1485 1875h10v10h-10zM1515 1875h10v10h-10zM1359 1885h9v10h-9zM1485 1885h10v10h-10zM1515 1885h10v10h-10zM1359 1895h9v10h-9zM1485 1895h10v10h-10zM1515 1895h10v10h-10zM1359 1905h9v9h-9zM1485 1905h10v9h-10zM1515 1905h10v9h-10zM1359 1914h9v10h-9zM1485 1914h10v10h-10zM1515 1914h10v10h-10zM1359 1924h9v10h-9zM1485 1924h10v10h-10zM1515 1924h10v10h-10zM1359 1934h9v10h-9zM1485 1934h10v10h-10zM1515 1934h10v10h-10zM1359 1944h9v10h-9zM1485 1944h10v10h-10zM1515 1944h10v10h-10zM1359 1954h9v9h-9zM1485 1954h10v9h-10zM1515 1954h10v9h-10zM1359 1963h9v10h-9zM1485 1963h10v10h-10zM1515 1963h10v10h-10zM1359 1973h9v10h-9zM1485 1973h10v10h-10zM1515 1973h10v10h-10zM1359 1983h9v10h-9zM1485 1983h10v10h-10zM1515 1983h10v10h-10zM1212 1993h10v10h-10zM1183 2012h19v10h-19zM1163 2022h10v10h-10zM1427 2022h10v10h-10zM1115 2032h19v10h-19zM1154 2032h9v10h-9zM1368 2032h10v10h-10zM1427 2032h10v10h-10zM1075 2042h40v9h-40zM1134 2042h20v9h-20zM1056 2051h10v10h-10zM1154 2051h19v10h-19zM1407 2051h10v10h-10zM1046 2061h10v10h-10zM1163 2061h10v10h-10zM1036 2071h10v10h-10zM1027 2081h9v10h-9zM1017 2091h10v9h-10zM1007 2100h10v10h-10z"/><path fill="#5965b5" d="M1544 1555h20v7h-20zM1544 1562h20v10h-20zM1544 1572h20v9h-20zM1554 1581h10v10h-10zM1036 1679h10v10h-10zM1036 1689h10v10h-10zM1036 1699h10v10h-10zM1036 1709h10v10h-10zM1115 1719h9v9h-9zM1027 1748h9v10h-9zM1124 1758h10v10h-10zM1124 1768h10v9h-10zM1124 1777h10v10h-10zM1124 1787h10v10h-10zM1378 1797h39v10h-39zM1525 1797h9v10h-9zM1378 1807h39v9h-39zM1525 1807h9v9h-9zM1017 1816h10v10h-10zM1378 1816h39v10h-39zM1525 1816h9v10h-9zM1017 1826h10v10h-10zM1378 1826h39v10h-39zM1525 1826h9v10h-9zM1017 1836h10v10h-10zM1544 1836h39v10h-39zM1017 1846h10v10h-10zM1544 1846h39v10h-39zM1017 1856h10v9h-10zM1544 1856h39v9h-39zM1017 1865h10v10h-10zM1183 1865h10v10h-10zM1544 1865h39v10h-39zM1017 1875h10v10h-10zM1544 1875h39v10h-39zM1017 1885h10v10h-10zM1202 1885h10v10h-10zM1544 1885h39v10h-39zM1017 1895h10v10h-10zM1544 1895h39v10h-39zM1017 1905h10v9h-10zM1202 1905h10v9h-10zM1544 1905h39v9h-39zM1017 1914h10v10h-10zM1544 1914h10v10h-10zM1017 1924h10v10h-10zM1222 1924h10v10h-10zM1544 1924h10v10h-10zM1017 1934h10v10h-10zM1544 1934h10v10h-10zM1017 1944h10v10h-10zM1222 1944h10v10h-10zM1544 1944h10v10h-10zM1017 1954h10v9h-10zM1544 1954h10v9h-10zM1017 1963h10v10h-10zM1202 1963h10v10h-10zM1544 1963h10v10h-10zM1017 1973h10v10h-10zM1544 1973h10v10h-10zM1017 1983h10v10h-10zM1202 1983h10v10h-10zM1544 1983h10v10h-10zM1017 1993h176v10h-176zM1388 1993h39v10h-39zM1017 2003h176v9h-176zM1388 2003h39v9h-39zM1036 2012h20v10h-20zM1388 2012h29v10h-29zM1398 2022h19v10h-19z"/><path fill="#fbdbdc" d="M1495 1572h10v9h-10zM1495 1581h10v10h-10zM1505 1601h10v10h-10zM1534 1621h49v9h-49zM1300 1679h10v10h-10zM1476 1679h9v10h-9zM1300 1689h10v10h-10zM1476 1689h9v10h-9zM1300 1699h10v10h-10zM1476 1699h9v10h-9zM1300 1709h10v10h-10zM1476 1709h9v10h-9zM1476 1719h9v9h-9zM1476 1728h9v10h-9zM1476 1738h9v10h-9zM1144 1748h10v10h-10zM1476 1748h9v10h-9zM1163 1758h117v10h-117zM1476 1758h9v10h-9zM1476 1768h9v9h-9zM1163 1777h117v10h-117zM1476 1777h9v10h-9zM1476 1787h9v10h-9zM1163 1797h117v10h-117zM1476 1797h9v10h-9zM1476 1807h9v9h-9zM1163 1816h117v10h-117zM1476 1816h9v10h-9zM1476 1826h9v10h-9zM1202 1836h78v10h-78zM1280 1856h10v9h-10zM1290 1875h10v10h-10zM1339 1875h10v10h-10zM1339 1885h10v10h-10zM1290 1895h10v10h-10zM1339 1895h10v10h-10zM1339 1905h10v9h-10zM1290 1914h10v10h-10zM1339 1914h10v10h-10zM1339 1924h10v10h-10zM1290 1934h10v10h-10zM1339 1934h10v10h-10zM1339 1944h10v10h-10zM1290 1954h10v9h-10zM1339 1954h10v9h-10zM1339 1963h10v10h-10zM1290 1973h10v10h-10zM1339 1973h10v10h-10zM1339 1983h10v10h-10zM1280 1993h10v10h-10zM1495 1993h10v10h-10zM1212 2003h10v9h-10zM1495 2003h10v9h-10zM1212 2012h10v10h-10zM1515 2012h68v10h-68zM1212 2022h10v10h-10zM1437 2022h9v10h-9zM1193 2032h19v10h-19zM1437 2032h9v10h-9zM1193 2042h9v9h-9zM1359 2042h9v9h-9zM1437 2042h9v9h-9zM1085 2051h20v10h-20zM1193 2051h9v10h-9zM1427 2051h10v10h-10zM1075 2061h10v10h-10zM1105 2061h10v10h-10zM1134 2061h20v10h-20zM1183 2061h10v10h-10zM1407 2061h10v10h-10zM1056 2071h19v10h-19zM1115 2071h19v10h-19zM1144 2071h39v10h-39zM1056 2081h10v10h-10zM1036 2091h20v9h-20zM1036 2100h10v10h-10zM1017 2110h19v10h-19zM1017 2120h10v10h-10zM997 2130h20v10h-20z"/><path fill="#6d76bf" d="M1544 1581h10v10h-10zM1515 1679h10v10h-10zM1515 1689h10v10h-10zM1515 1699h10v10h-10zM1105 1709h10v10h-10zM1515 1709h10v10h-10zM1027 1719h9v9h-9zM1515 1719h10v9h-10zM1027 1728h9v10h-9zM1515 1728h10v10h-10zM1027 1738h9v10h-9zM1515 1738h10v10h-10zM1124 1748h10v10h-10zM1515 1748h10v10h-10zM1017 1758h10v10h-10zM1515 1758h10v10h-10zM1017 1768h10v9h-10zM1515 1768h10v9h-10zM1017 1777h10v10h-10zM1515 1777h10v10h-10zM1017 1787h10v10h-10zM1515 1787h10v10h-10zM1017 1797h10v10h-10zM1017 1807h10v9h-10zM1183 1846h10v10h-10zM1554 1914h10v10h-10zM1554 1924h10v10h-10zM1554 1934h10v10h-10zM1554 1944h10v10h-10zM1427 1954h10v9h-10zM1554 1954h10v9h-10zM1427 1963h10v10h-10zM1554 1963h10v10h-10zM1427 1973h10v10h-10zM1554 1973h10v10h-10zM1427 1983h10v10h-10zM1554 1983h10v10h-10zM1027 2012h9v10h-9zM1056 2012h10v10h-10zM1417 2012h10v10h-10zM1036 2022h20v10h-20zM1388 2022h10v10h-10z"/><path fill="#c41c23" d="M1232 1591h9v10h-9zM1251 1611h10v10h-10zM1388 1621h19v9h-19zM1378 1630h10v10h-10zM1407 1630h10v10h-10zM1271 1650h19v10h-19zM1427 1650h10v10h-10z"/><path fill="#e21f27" d="M1310 1591h10v10h-10zM1339 1591h10v10h-10zM1388 1611h19v10h-19zM1437 1621h9v9h-9zM1446 1630h10v10h-10zM1476 1640h9v10h-9zM1485 1650h10v10h-10zM1154 1709h9v10h-9zM1163 1719h10v9h-10zM1388 2091h10v9h-10zM1417 2091h10v9h-10zM1378 2100h10v10h-10zM1368 2110h10v10h-10zM1427 2120h10v10h-10zM1134 2130h29v10h-29zM1437 2130h9v10h-9zM1124 2140h10v9h-10zM1173 2140h10v9h-10zM1359 2140h9v9h-9zM1446 2140h10v9h-10zM1036 2149h49v10h-49zM1202 2149h137v10h-137z"/><path fill="#f49395" d="M1485 1591h10v10h-10zM1495 1611h10v10h-10zM1525 1630h9v10h-9zM1310 1679h10v10h-10zM1417 1679h10v10h-10zM1310 1689h10v10h-10zM1417 1689h10v10h-10zM1310 1699h10v10h-10zM1417 1699h10v10h-10zM1134 1709h10v10h-10zM1310 1709h10v10h-10zM1378 1709h49v10h-49zM1310 1719h10v9h-10zM1427 1719h19v9h-19zM1310 1728h10v10h-10zM1359 1728h9v10h-9zM1427 1728h19v10h-19zM1310 1738h10v10h-10zM1359 1738h9v10h-9zM1427 1738h19v10h-19zM1310 1748h10v10h-10zM1359 1748h9v10h-9zM1427 1748h19v10h-19zM1290 1758h20v10h-20zM1359 1758h9v10h-9zM1300 1768h10v9h-10zM1359 1768h9v9h-9zM1290 1777h20v10h-20zM1359 1777h9v10h-9zM1300 1787h10v10h-10zM1359 1787h9v10h-9zM1290 1797h20v10h-20zM1329 1797h20v10h-20zM1437 1797h9v10h-9zM1300 1807h10v9h-10zM1329 1807h20v9h-20zM1437 1807h9v9h-9zM1290 1816h20v10h-20zM1329 1816h20v10h-20zM1437 1816h9v10h-9zM1300 1826h10v10h-10zM1329 1826h20v10h-20zM1437 1826h9v10h-9zM1290 1836h20v10h-20zM1329 1836h20v10h-20zM1456 1836h10v10h-10zM1300 1846h10v10h-10zM1329 1846h20v10h-20zM1456 1846h10v10h-10zM1290 1856h20v9h-20zM1329 1856h20v9h-20zM1456 1856h10v9h-10zM1280 1865h10v10h-10zM1300 1865h10v10h-10zM1329 1865h20v10h-20zM1456 1865h10v10h-10zM1310 1875h19v10h-19zM1456 1875h10v10h-10zM1310 1885h19v10h-19zM1456 1885h10v10h-10zM1310 1895h19v10h-19zM1456 1895h10v10h-10zM1310 1905h19v9h-19zM1456 1905h10v9h-10zM1310 1914h19v10h-19zM1310 1924h19v10h-19zM1310 1934h19v10h-19zM1310 1944h19v10h-19zM1310 1954h19v9h-19zM1310 1963h19v10h-19zM1310 1973h19v10h-19zM1310 1983h19v10h-19zM1290 1993h10v10h-10zM1339 1993h10v10h-10zM1466 1993h19v10h-19zM1280 2003h10v9h-10zM1339 2003h10v9h-10zM1466 2003h19v9h-19zM1251 2012h20v10h-20zM1290 2012h10v10h-10zM1339 2012h10v10h-10zM1456 2012h10v10h-10zM1485 2012h20v10h-20zM1251 2022h20v10h-20zM1290 2022h10v10h-10zM1339 2022h10v10h-10zM1446 2022h10v10h-10zM1495 2022h10v10h-10zM1251 2032h20v10h-20zM1290 2032h10v10h-10zM1339 2032h10v10h-10zM1446 2032h10v10h-10zM1495 2032h10v10h-10zM1525 2032h58v10h-58zM1251 2042h20v9h-20zM1290 2042h10v9h-10zM1339 2042h10v9h-10zM1446 2042h10v9h-10zM1495 2042h10v9h-10zM1525 2042h9v9h-9zM1212 2051h20v10h-20zM1251 2051h20v10h-20zM1290 2051h10v10h-10zM1349 2051h10v10h-10zM1446 2051h10v10h-10zM1505 2051h20v10h-20zM1212 2061h20v10h-20zM1251 2061h20v10h-20zM1290 2061h10v10h-10zM1359 2061h9v10h-9zM1446 2061h10v10h-10zM1485 2061h20v10h-20zM1193 2071h19v10h-19zM1232 2071h19v10h-19zM1261 2071h10v10h-10zM1290 2071h10v10h-10zM1437 2071h9v10h-9zM1476 2071h9v10h-9zM1505 2071h10v10h-10zM1193 2081h19v10h-19zM1232 2081h19v10h-19zM1261 2081h10v10h-10zM1290 2081h10v10h-10zM1476 2081h9v10h-9zM1505 2081h10v10h-10zM1075 2091h40v9h-40zM1154 2091h39v9h-39zM1202 2091h10v9h-10zM1251 2091h10v9h-10zM1271 2091h19v9h-19zM1485 2091h20v9h-20zM1075 2100h10v10h-10zM1105 2100h10v10h-10zM1154 2100h9v10h-9zM1193 2100h19v10h-19zM1251 2100h20v10h-20zM1056 2110h19v10h-19zM1183 2110h10v10h-10zM1212 2110h39v10h-39zM1271 2110h9v10h-9zM1056 2120h10v10h-10zM1193 2120h9v10h-9zM1212 2120h10v10h-10zM1241 2120h10v10h-10zM1271 2120h9v10h-9zM1036 2130h20v10h-20zM1251 2130h20v10h-20zM997 2140h39v9h-39z"/><path fill="#f27c7f" d="M1485 1601h10v10h-10zM1505 1621h10v9h-10zM1515 1630h10v10h-10zM1378 1679h39v10h-39zM1378 1689h39v10h-39zM1378 1699h39v10h-39zM1368 1709h10v10h-10zM1359 1719h9v9h-9zM1154 1748h9v10h-9zM1320 1748h9v10h-9zM1290 1768h10v9h-10zM1290 1787h10v10h-10zM1290 1807h10v9h-10zM1290 1826h10v10h-10zM1290 1846h10v10h-10zM1290 1865h10v10h-10zM1300 1993h39v10h-39zM1290 2003h49v9h-49zM1300 2012h39v10h-39zM1466 2012h19v10h-19zM1300 2022h39v10h-39zM1456 2022h39v10h-39zM1300 2032h39v10h-39zM1456 2032h39v10h-39zM1300 2042h39v9h-39zM1456 2042h39v9h-39zM1534 2042h49v9h-49zM1300 2051h49v10h-49zM1456 2051h49v10h-49zM1525 2051h58v10h-58zM1300 2061h59v10h-59zM1456 2061h29v10h-29zM1505 2061h78v10h-78zM1251 2071h10v10h-10zM1300 2071h68v10h-68zM1427 2071h10v10h-10zM1446 2071h30v10h-30zM1515 2071h68v10h-68zM1251 2081h10v10h-10zM1300 2081h59v10h-59zM1437 2081h39v10h-39zM1515 2081h39v10h-39zM1193 2091h9v9h-9zM1261 2091h10v9h-10zM1290 2091h49v9h-49zM1456 2091h29v9h-29zM1505 2091h29v9h-29zM1085 2100h20v10h-20zM1163 2100h30v10h-30zM1271 2100h68v10h-68zM1456 2100h59v10h-59zM1075 2110h40v10h-40zM1154 2110h29v10h-29zM1280 2110h59v10h-59zM1476 2110h19v10h-19zM1066 2120h19v10h-19zM1183 2120h10v10h-10zM1222 2120h19v10h-19zM1280 2120h59v10h-59zM1056 2130h10v10h-10zM1212 2130h39v10h-39zM1271 2130h49v10h-49z"/><path fill="#4654ab" d="M1046 1679h10v10h-10zM1095 1679h10v10h-10zM1046 1689h10v10h-10zM1095 1689h10v10h-10zM1046 1699h10v10h-10zM1095 1699h10v10h-10zM1115 1728h9v10h-9zM1115 1738h9v10h-9zM1115 1748h9v10h-9zM1027 1758h9v10h-9zM1115 1758h9v10h-9zM1027 1768h9v9h-9zM1115 1768h9v9h-9zM1027 1777h9v10h-9zM1115 1777h9v10h-9zM1027 1787h9v10h-9zM1115 1787h9v10h-9zM1027 1797h9v10h-9zM1134 1797h10v10h-10zM1534 1797h10v10h-10zM1027 1807h9v9h-9zM1134 1807h10v9h-10zM1534 1807h10v9h-10zM1027 1816h9v10h-9zM1134 1816h10v10h-10zM1534 1816h10v10h-10zM1027 1826h9v10h-9zM1134 1826h10v10h-10zM1534 1826h10v10h-10zM1027 1836h9v10h-9zM1183 1836h10v10h-10zM1378 1836h10v10h-10zM1427 1836h10v10h-10zM1027 1846h9v10h-9zM1378 1846h10v10h-10zM1427 1846h10v10h-10zM1027 1856h9v9h-9zM1183 1856h10v9h-10zM1378 1856h10v9h-10zM1427 1856h10v9h-10zM1027 1865h9v10h-9zM1378 1865h10v10h-10zM1427 1865h10v10h-10zM1027 1875h9v10h-9zM1202 1875h10v10h-10zM1378 1875h10v10h-10zM1427 1875h10v10h-10zM1027 1885h9v10h-9zM1378 1885h10v10h-10zM1427 1885h10v10h-10zM1027 1895h9v10h-9zM1202 1895h10v10h-10zM1378 1895h10v10h-10zM1427 1895h10v10h-10zM1027 1905h9v9h-9zM1378 1905h10v9h-10zM1427 1905h10v9h-10zM1027 1914h9v10h-9zM1222 1914h10v10h-10zM1378 1914h10v10h-10zM1427 1914h10v10h-10zM1027 1924h9v10h-9zM1378 1924h10v10h-10zM1427 1924h10v10h-10zM1027 1934h9v10h-9zM1222 1934h10v10h-10zM1378 1934h10v10h-10zM1427 1934h10v10h-10zM1027 1944h9v10h-9zM1378 1944h10v10h-10zM1427 1944h10v10h-10zM1027 1954h9v9h-9zM1202 1954h10v9h-10zM1378 1954h10v9h-10zM1027 1963h9v10h-9zM1378 1963h10v10h-10zM1027 1973h9v10h-9zM1202 1973h10v10h-10zM1378 1973h10v10h-10zM1027 1983h9v10h-9zM1378 1983h10v10h-10z"/><path fill="#2c3b98" d="M1056 1679h10v10h-10zM1085 1679h10v10h-10zM1056 1689h10v10h-10zM1085 1689h10v10h-10zM1056 1699h10v10h-10zM1085 1699h10v10h-10zM1056 1709h10v10h-10zM1085 1709h10v10h-10zM1046 1719h10v9h-10zM1095 1719h10v9h-10zM1105 1728h10v10h-10zM1105 1738h10v10h-10zM1105 1748h10v10h-10zM1036 1758h10v10h-10zM1105 1758h10v10h-10zM1036 1768h10v9h-10zM1105 1768h10v9h-10zM1036 1777h10v10h-10zM1105 1777h10v10h-10zM1036 1787h10v10h-10zM1105 1787h10v10h-10zM1036 1797h10v10h-10zM1124 1797h10v10h-10zM1544 1797h10v10h-10zM1036 1807h10v9h-10zM1124 1807h10v9h-10zM1544 1807h10v9h-10zM1036 1816h10v10h-10zM1124 1816h10v10h-10zM1544 1816h10v10h-10zM1036 1826h10v10h-10zM1124 1826h10v10h-10zM1544 1826h10v10h-10zM1036 1836h10v10h-10zM1388 1836h10v10h-10zM1417 1836h10v10h-10zM1036 1846h10v10h-10zM1388 1846h10v10h-10zM1417 1846h10v10h-10zM1036 1856h10v9h-10zM1388 1856h10v9h-10zM1417 1856h10v9h-10zM1036 1865h10v10h-10zM1388 1865h10v10h-10zM1417 1865h10v10h-10zM1036 1875h10v10h-10zM1388 1875h10v10h-10zM1417 1875h10v10h-10zM1036 1885h10v10h-10zM1388 1885h10v10h-10zM1417 1885h10v10h-10zM1036 1895h10v10h-10zM1388 1895h10v10h-10zM1417 1895h10v10h-10zM1036 1905h10v9h-10zM1388 1905h10v9h-10zM1417 1905h10v9h-10zM1036 1914h10v10h-10zM1388 1914h10v10h-10zM1417 1914h10v10h-10zM1036 1924h10v10h-10zM1388 1924h10v10h-10zM1417 1924h10v10h-10zM1036 1934h10v10h-10zM1388 1934h10v10h-10zM1417 1934h10v10h-10zM1036 1944h10v10h-10zM1388 1944h10v10h-10zM1417 1944h10v10h-10zM1036 1954h10v9h-10zM1388 1954h10v9h-10zM1036 1963h10v10h-10zM1388 1963h10v10h-10zM1036 1973h10v10h-10zM1388 1973h10v10h-10zM1036 1983h10v10h-10zM1388 1983h10v10h-10z"/><path fill="#2a3690" d="M1066 1679h19v10h-19zM1066 1689h19v10h-19zM1066 1699h19v10h-19zM1066 1709h19v10h-19zM1056 1719h39v9h-39zM1534 1719h10v9h-10zM1046 1728h59v10h-59zM1534 1728h20v10h-20zM1046 1738h59v10h-59zM1534 1738h20v10h-20zM1046 1748h10v10h-10zM1095 1748h10v10h-10zM1534 1748h20v10h-20zM1534 1758h49v10h-49zM1534 1768h49v9h-49zM1534 1777h49v10h-49zM1534 1787h49v10h-49zM1105 1797h19v10h-19zM1554 1797h29v10h-29zM1105 1807h19v9h-19zM1554 1807h29v9h-29zM1105 1816h19v10h-19zM1554 1816h29v10h-29zM1105 1826h19v10h-19zM1554 1826h29v10h-29zM1046 1836h20v10h-20zM1105 1836h78v10h-78zM1398 1836h19v10h-19zM1046 1846h20v10h-20zM1105 1846h78v10h-78zM1398 1846h19v10h-19zM1046 1856h20v9h-20zM1105 1856h78v9h-78zM1398 1856h19v9h-19zM1046 1865h20v10h-20zM1105 1865h78v10h-78zM1398 1865h19v10h-19zM1046 1875h156v10h-156zM1398 1875h19v10h-19zM1046 1885h156v10h-156zM1398 1885h19v10h-19zM1046 1895h156v10h-156zM1398 1895h19v10h-19zM1046 1905h156v9h-156zM1398 1905h19v9h-19zM1046 1914h176v10h-176zM1398 1914h19v10h-19zM1046 1924h176v10h-176zM1398 1924h19v10h-19zM1046 1934h176v10h-176zM1398 1934h19v10h-19zM1046 1944h176v10h-176zM1398 1944h19v10h-19zM1046 1954h156v9h-156zM1398 1954h19v9h-19zM1046 1963h156v10h-156zM1398 1963h19v10h-19zM1046 1973h156v10h-156zM1398 1973h19v10h-19zM1046 1983h156v10h-156zM1398 1983h19v10h-19z"/><path fill="#3342a1" d="M1525 1679h9v10h-9zM1525 1689h9v10h-9zM1525 1699h9v10h-9zM1046 1709h10v10h-10zM1095 1709h10v10h-10zM1525 1709h9v10h-9zM1036 1719h10v9h-10zM1105 1719h10v9h-10zM1525 1719h9v9h-9zM1036 1728h10v10h-10zM1525 1728h9v10h-9zM1036 1738h10v10h-10zM1525 1738h9v10h-9zM1036 1748h10v10h-10zM1525 1748h9v10h-9zM1525 1758h9v10h-9zM1525 1768h9v9h-9zM1525 1777h9v10h-9zM1525 1787h9v10h-9zM1417 1954h10v9h-10zM1417 1963h10v10h-10zM1417 1973h10v10h-10zM1417 1983h10v10h-10z"/><path fill="#283287" d="M1534 1679h10v10h-10zM1534 1689h10v10h-10zM1534 1699h10v10h-10zM1534 1709h10v10h-10zM1544 1719h10v9h-10zM1554 1728h10v10h-10zM1554 1738h10v10h-10zM1056 1748h39v10h-39zM1554 1748h10v10h-10zM1046 1758h10v10h-10zM1095 1758h10v10h-10zM1046 1768h10v9h-10zM1095 1768h10v9h-10zM1046 1777h10v10h-10zM1095 1777h10v10h-10zM1046 1787h10v10h-10zM1095 1787h10v10h-10zM1046 1797h10v10h-10zM1095 1797h10v10h-10zM1046 1807h10v9h-10zM1095 1807h10v9h-10zM1046 1816h10v10h-10zM1095 1816h10v10h-10zM1046 1826h10v10h-10zM1095 1826h10v10h-10zM1066 1836h9v10h-9zM1095 1836h10v10h-10zM1066 1846h9v10h-9zM1095 1846h10v10h-10zM1066 1856h9v9h-9zM1095 1856h10v9h-10zM1066 1865h9v10h-9zM1095 1865h10v10h-10z"/><path fill="#232570" d="M1544 1679h10v10h-10zM1544 1689h10v10h-10zM1544 1699h10v10h-10zM1554 1709h10v10h-10zM1564 1719h9v9h-9zM1564 1728h9v10h-9zM1564 1738h9v10h-9zM1573 1748h10v10h-10zM1056 1758h10v10h-10zM1085 1758h10v10h-10zM1056 1768h10v9h-10zM1085 1768h10v9h-10zM1056 1777h10v10h-10zM1085 1777h10v10h-10zM1056 1787h10v10h-10zM1085 1787h10v10h-10zM1056 1797h10v10h-10zM1085 1797h10v10h-10zM1056 1807h10v9h-10zM1085 1807h10v9h-10zM1056 1816h10v10h-10zM1085 1816h10v10h-10zM1056 1826h10v10h-10zM1085 1826h10v10h-10zM1075 1836h20v10h-20zM1075 1846h20v10h-20zM1075 1856h20v9h-20zM1075 1865h20v10h-20z"/><path fill="#212269" d="M1554 1679h29v10h-29zM1554 1689h29v10h-29zM1554 1699h29v10h-29zM1564 1709h19v10h-19zM1573 1719h10v9h-10zM1573 1728h10v10h-10zM1573 1738h10v10h-10zM1066 1758h19v10h-19zM1066 1768h19v9h-19zM1066 1777h19v10h-19zM1066 1787h19v10h-19zM1066 1797h19v10h-19zM1066 1807h19v9h-19zM1066 1816h19v10h-19zM1066 1826h19v10h-19z"/><path fill="#242977" d="M1544 1709h10v10h-10zM1564 1748h9v10h-9z"/><path fill="#262d7f" d="M1554 1719h10v9h-10z"/></g><rect x="997.4" y="1555.4" width="585.7" height="613.0" fill="none" stroke="#000" stroke-width="3.4"/><path d="M989.4 2071.1H997.4M989.4 1973.1H997.4M989.4 1875.2H997.4M989.4 1777.3H997.4M989.4 1679.4H997.4M989.4 1581.4H997.4M997.4 2168.4V2176.4M1095 2168.4V2176.4M1192.6 2168.4V2176.4M1290.2 2168.4V2176.4M1387.9 2168.4V2176.4M1485.5 2168.4V2176.4M1583.1 2168.4V2176.4" stroke="#000" stroke-width="3"/><rect x="1601.2" y="1555.4" width="16.8" height="612.1" fill="url(#gf)" stroke="#222" stroke-width="1.2"/><path d="M1618 2132.5H1625M1618 2045.1H1625M1618 1957.6H1625M1618 1870.2H1625M1618 1782.8H1625M1618 1695.3H1625M1618 1607.9H1625" stroke="#000" stroke-width="3"/><text x="933.2" y="2084.4" font-size="41">1.0</text><text x="933.4" y="1986.4" font-size="41">1.5</text><text x="933.2" y="1888.5" font-size="41">2.0</text><text x="933.4" y="1790.5" font-size="41">2.5</text><text x="933.2" y="1692.7" font-size="41">3.0</text><text x="933.4" y="1594.7" font-size="41">3.5</text><text x="984.4" y="2211.7" font-size="41">0º</text><text x="1070.7" y="2211.7" font-size="41">10º</text><text x="1169.3" y="2211.7" font-size="41">20º</text><text x="1266.8" y="2211.7" font-size="41">30º</text><text x="1365.0" y="2211.7" font-size="41">40º</text><text x="1461.8" y="2211.7" font-size="41">50º</text><text x="1559.7" y="2211.7" font-size="41">60º</text><text x="1627.5" y="2145.8" font-size="41">-0.8</text><text x="1627.5" y="2058.4" font-size="41">-0.6</text><text x="1627.5" y="1970.9" font-size="41">-0.4</text><text x="1627.5" y="1883.5" font-size="41">-0.2</text><text x="1627.5" y="1796.1" font-size="41">0.0</text><text x="1627.5" y="1708.6" font-size="41">0.2</text><text x="1627.5" y="1621.2" font-size="41">0.4</text><text x="1094.6" y="1545.5" font-size="58" font-weight="bold">Polarization in W</text><text x="1532.8" y="1545.5" font-size="29.0" font-weight="bold">2</text><text x="1287.5" y="2321.0" font-size="45" font-weight="bold" fill="#a51c20">(f)</text><text transform="translate(1270.0 2242.0) rotate(0.00)" x="-112.2" y="9.8" font-size="41" font-weight="bold" xml:space="preserve">Tilt angle (δ)</text><text transform="translate(900.5 1876.2) rotate(-90.00)" x="-105.9" y="9.8" font-size="41" font-weight="bold" xml:space="preserve">Energy (eV)</text><rect x="7.9" y="6.4" width="785.7" height="704.5" fill="none" stroke="#000" stroke-width="2.4" stroke-dasharray="6.5 6.5"/><rect x="820.2" y="10.4" width="791.0" height="704.1" fill="none" stroke="#000" stroke-width="2.4" stroke-dasharray="6.5 6.5"/><rect x="7.3" y="743" width="794.0" height="704.3" fill="none" stroke="#000" stroke-width="2.4" stroke-dasharray="6.5 6.5"/><rect x="817.7" y="744.5" width="793.7" height="704.6" fill="none" stroke="#000" stroke-width="2.4" stroke-dasharray="6.5 6.5"/><rect x="4.4" y="1488.6" width="833.5" height="779.7" fill="none" stroke="#000" stroke-width="2.4" stroke-dasharray="6.5 6.5"/><rect x="858.7" y="1486.4" width="859.6" height="785.5" fill="none" stroke="#000" stroke-width="2.4" stroke-dasharray="6.5 6.5"/></svg></body></html>
